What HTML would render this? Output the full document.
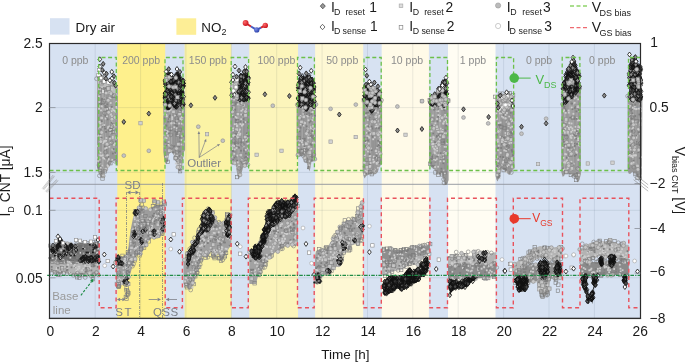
<!DOCTYPE html><html><head><meta charset="utf-8"><style>html,body{margin:0;padding:0;background:#fff;width:685px;height:362px;overflow:hidden}svg{display:block;will-change:transform}</style></head><body><svg width="685" height="362" viewBox="0 0 685 362"><defs><path id="dR" d="M0 -2.5l1.85 2.5-1.85 2.5-1.85-2.5z" fill="#8a8a8a" stroke="#1e1e1e" stroke-width="0.85"/><path id="dS" d="M0 -2.5l1.85 2.5-1.85 2.5-1.85-2.5z" fill="#ffffff" stroke="#1e1e1e" stroke-width="0.85"/><path id="dK" d="M0 -2.5l1.85 2.5-1.85 2.5-1.85-2.5z" fill="#4a4a4a" stroke="#111111" stroke-width="0.85"/><rect id="sR" x="-1.7" y="-1.7" width="3.4" height="3.4" fill="#d2d2d2" stroke="#9a9a9a" stroke-width="0.6"/><rect id="sS" x="-1.7" y="-1.7" width="3.4" height="3.4" fill="#ffffff" stroke="#8a8a8a" stroke-width="0.6"/><circle id="cR" r="1.9" fill="#c4c4c4" stroke="#8c8c8c" stroke-width="0.6"/><circle id="cS" r="1.9" fill="#ffffff" stroke="#a0a0a0" stroke-width="0.6"/><rect id="sG" x="-1.7" y="-1.7" width="3.4" height="3.4" fill="#a6a6a6" stroke="#8a8a8a" stroke-width="0.6"/><rect id="sO" x="-1.7" y="-1.7" width="3.4" height="3.4" fill="none" stroke="#7c7c7c" stroke-width="0.6"/><circle id="cO" r="1.9" fill="none" stroke="#7c7c7c" stroke-width="0.6"/><circle id="cL" r="1.9" fill="#c6c6c6" stroke="#8c8c8c" stroke-width="0.6"/><rect id="sL" x="-1.7" y="-1.7" width="3.4" height="3.4" fill="#c6c6c6" stroke="#8c8c8c" stroke-width="0.6"/><path id="dO" d="M0 -2.5l1.85 2.5-1.85 2.5-1.85-2.5z" fill="none" stroke="#111111" stroke-width="0.85"/><circle id="cG" r="1.9" fill="#9c9c9c" stroke="#8a8a8a" stroke-width="0.6"/><rect id="tL" x="-0.9" y="-0.9" width="1.8" height="1.8" fill="#cdcdcd"/><rect id="tW" x="-0.9" y="-0.9" width="1.8" height="1.8" fill="#e4e4e4"/><rect id="tD" x="-0.9" y="-0.9" width="1.8" height="1.8" fill="#7e7e7e"/><rect id="tK" x="-0.9" y="-0.9" width="1.8" height="1.8" fill="#1a1a1a"/><rect id="tM" x="-0.9" y="-0.9" width="1.8" height="1.8" fill="#a8a8a8"/></defs><rect x="49.5" y="43.5" width="591.0" height="274.8" fill="#d7e2f2"/>
<rect x="117.3" y="43.5" width="47.9" height="274.8" fill="#fef08c"/>
<rect x="184.6" y="43.5" width="46.8" height="274.8" fill="#fbf3a5"/>
<rect x="249.3" y="43.5" width="48.7" height="274.8" fill="#fcf5bb"/>
<rect x="315.1" y="43.5" width="48.1" height="274.8" fill="#fef8d4"/>
<rect x="381.7" y="43.5" width="47.2" height="274.8" fill="#fffae8"/>
<rect x="448.0" y="43.5" width="47.5" height="274.8" fill="#fffdf3"/>
<line x1="95.2" y1="43.5" x2="95.2" y2="318.3" stroke="#1a2a44" stroke-opacity="0.1" stroke-width="0.9"/>
<line x1="140.6" y1="43.5" x2="140.6" y2="318.3" stroke="#1a2a44" stroke-opacity="0.1" stroke-width="0.9"/>
<line x1="185.9" y1="43.5" x2="185.9" y2="318.3" stroke="#1a2a44" stroke-opacity="0.1" stroke-width="0.9"/>
<line x1="231.3" y1="43.5" x2="231.3" y2="318.3" stroke="#1a2a44" stroke-opacity="0.1" stroke-width="0.9"/>
<line x1="276.7" y1="43.5" x2="276.7" y2="318.3" stroke="#1a2a44" stroke-opacity="0.1" stroke-width="0.9"/>
<line x1="322.1" y1="43.5" x2="322.1" y2="318.3" stroke="#1a2a44" stroke-opacity="0.1" stroke-width="0.9"/>
<line x1="367.5" y1="43.5" x2="367.5" y2="318.3" stroke="#1a2a44" stroke-opacity="0.1" stroke-width="0.9"/>
<line x1="412.8" y1="43.5" x2="412.8" y2="318.3" stroke="#1a2a44" stroke-opacity="0.1" stroke-width="0.9"/>
<line x1="458.2" y1="43.5" x2="458.2" y2="318.3" stroke="#1a2a44" stroke-opacity="0.1" stroke-width="0.9"/>
<line x1="503.6" y1="43.5" x2="503.6" y2="318.3" stroke="#1a2a44" stroke-opacity="0.1" stroke-width="0.9"/>
<line x1="549.0" y1="43.5" x2="549.0" y2="318.3" stroke="#1a2a44" stroke-opacity="0.1" stroke-width="0.9"/>
<line x1="594.4" y1="43.5" x2="594.4" y2="318.3" stroke="#1a2a44" stroke-opacity="0.1" stroke-width="0.9"/>
<line x1="49.5" y1="107.6" x2="640.5" y2="107.6" stroke="#1a2a44" stroke-opacity="0.1" stroke-width="0.9"/>
<line x1="49.5" y1="172.4" x2="640.5" y2="172.4" stroke="#1a2a44" stroke-opacity="0.1" stroke-width="0.9"/>
<line x1="49.5" y1="210.3" x2="640.5" y2="210.3" stroke="#1a2a44" stroke-opacity="0.1" stroke-width="0.9"/>
<line x1="49.5" y1="277.8" x2="640.5" y2="277.8" stroke="#1a2a44" stroke-opacity="0.1" stroke-width="0.9"/>
<line x1="49.5" y1="184.3" x2="640.5" y2="184.3" stroke="#8e939b" stroke-width="0.9"/>
<text x="62.199999999999996" y="63.9" font-size="10.5" fill="#8c8c8c" font-family="Liberation Sans">0 ppb</text>
<text x="122.2" y="63.9" font-size="10.5" fill="#8c8c8c" font-family="Liberation Sans">200 ppb</text>
<text x="188.8" y="63.9" font-size="10.5" fill="#8c8c8c" font-family="Liberation Sans">150 ppb</text>
<text x="257.4" y="63.9" font-size="10.5" fill="#8c8c8c" font-family="Liberation Sans">100 ppb</text>
<text x="326.2" y="63.9" font-size="10.5" fill="#8c8c8c" font-family="Liberation Sans">50 ppb</text>
<text x="391.0" y="63.9" font-size="10.5" fill="#8c8c8c" font-family="Liberation Sans">10 ppb</text>
<text x="459.79999999999995" y="63.9" font-size="10.5" fill="#8c8c8c" font-family="Liberation Sans">1 ppb</text>
<text x="525.9" y="63.9" font-size="10.5" fill="#8c8c8c" font-family="Liberation Sans">0 ppb</text>
<text x="589.1" y="63.9" font-size="10.5" fill="#8c8c8c" font-family="Liberation Sans">0 ppb</text>
<polygon points="96.9,78.0 99.1,75.0 102.1,78.0 105.1,80.0 109.9,81.0 112.9,83.0 115.9,86.0 117.9,88.0 117.9,166.0 115.9,164.0 113.9,160.0 111.9,162.0 109.9,166.0 106.1,170.0 104.1,175.0 102.1,178.5 100.1,176.0 98.1,172.0 96.9,166.0" fill="#989898"/>
<line x1="99.1" y1="78.7" x2="99.1" y2="165.5" stroke="#b8b8b8" stroke-width="0.7" opacity="0.55"/>
<line x1="102.5" y1="81.3" x2="102.5" y2="169.7" stroke="#c4c4c4" stroke-width="0.7" opacity="0.55"/>
<line x1="103.4" y1="81.7" x2="103.4" y2="169.8" stroke="#b8b8b8" stroke-width="0.7" opacity="0.55"/>
<line x1="105.4" y1="85.9" x2="105.4" y2="161.2" stroke="#b8b8b8" stroke-width="0.7" opacity="0.55"/>
<line x1="109.5" y1="88.0" x2="109.5" y2="158.2" stroke="#b8b8b8" stroke-width="0.7" opacity="0.55"/>
<line x1="110.9" y1="87.2" x2="110.9" y2="151.7" stroke="#b8b8b8" stroke-width="0.7" opacity="0.55"/>
<line x1="113.2" y1="86.6" x2="113.2" y2="154.3" stroke="#c4c4c4" stroke-width="0.7" opacity="0.55"/>
<line x1="114.4" y1="89.5" x2="114.4" y2="150.8" stroke="#b8b8b8" stroke-width="0.7" opacity="0.55"/>
<use href="#tD" x="99.9" y="134.1"/>
<use href="#tD" x="101.5" y="85.1"/>
<use href="#tD" x="111.4" y="133.4"/>
<use href="#tD" x="109.7" y="126.4"/>
<use href="#tL" x="108.0" y="155.4"/>
<use href="#tL" x="106.7" y="170.6"/>
<use href="#tL" x="104.8" y="100.7"/>
<use href="#tL" x="101.3" y="155.7"/>
<use href="#tL" x="99.5" y="106.1"/>
<use href="#tD" x="107.3" y="110.5"/>
<use href="#tL" x="106.4" y="138.0"/>
<use href="#tL" x="99.3" y="128.0"/>
<use href="#tL" x="101.0" y="110.4"/>
<use href="#tL" x="115.6" y="118.6"/>
<use href="#tD" x="108.5" y="156.7"/>
<use href="#tL" x="113.4" y="110.2"/>
<use href="#tD" x="104.6" y="126.4"/>
<use href="#tL" x="99.7" y="102.9"/>
<use href="#tD" x="111.8" y="107.0"/>
<use href="#tD" x="108.9" y="145.5"/>
<use href="#tD" x="106.4" y="149.2"/>
<use href="#tL" x="114.8" y="110.9"/>
<use href="#tL" x="115.8" y="111.8"/>
<use href="#tL" x="109.5" y="126.1"/>
<use href="#tL" x="102.0" y="104.7"/>
<use href="#tL" x="111.9" y="116.2"/>
<use href="#tL" x="115.3" y="126.4"/>
<use href="#tD" x="101.1" y="116.6"/>
<use href="#tD" x="103.2" y="89.2"/>
<use href="#tD" x="106.1" y="131.9"/>
<use href="#tL" x="110.9" y="114.4"/>
<use href="#tD" x="102.3" y="83.6"/>
<use href="#tD" x="100.8" y="143.2"/>
<use href="#tL" x="98.1" y="161.0"/>
<use href="#tD" x="101.4" y="104.2"/>
<use href="#tD" x="100.7" y="130.3"/>
<use href="#tL" x="109.5" y="108.0"/>
<use href="#tL" x="100.3" y="163.9"/>
<use href="#tL" x="116.0" y="142.8"/>
<use href="#tL" x="112.0" y="122.3"/>
<use href="#tL" x="110.8" y="132.9"/>
<use href="#tD" x="105.5" y="115.8"/>
<use href="#tL" x="107.0" y="116.4"/>
<use href="#tL" x="106.3" y="86.4"/>
<use href="#tD" x="109.3" y="85.6"/>
<use href="#tD" x="108.7" y="130.5"/>
<use href="#tL" x="115.9" y="138.5"/>
<use href="#tL" x="99.2" y="96.5"/>
<use href="#tL" x="105.0" y="140.7"/>
<use href="#tL" x="116.1" y="137.3"/>
<use href="#tL" x="106.9" y="86.9"/>
<use href="#tD" x="107.0" y="107.3"/>
<use href="#tL" x="100.6" y="152.6"/>
<use href="#tL" x="112.0" y="124.5"/>
<use href="#tD" x="111.0" y="128.4"/>
<use href="#tD" x="101.8" y="173.5"/>
<use href="#tD" x="104.8" y="146.4"/>
<use href="#tL" x="115.3" y="153.5"/>
<use href="#tL" x="103.6" y="141.5"/>
<use href="#tD" x="99.6" y="162.5"/>
<use href="#tL" x="104.7" y="98.1"/>
<use href="#tL" x="108.2" y="127.0"/>
<use href="#tL" x="110.0" y="138.5"/>
<use href="#tD" x="112.9" y="153.5"/>
<use href="#tD" x="101.6" y="99.8"/>
<use href="#tD" x="105.5" y="158.1"/>
<use href="#tL" x="101.7" y="126.0"/>
<use href="#tD" x="112.9" y="123.9"/>
<use href="#tD" x="101.6" y="137.6"/>
<use href="#tL" x="104.4" y="158.7"/>
<use href="#tL" x="111.6" y="111.2"/>
<use href="#tL" x="99.8" y="123.7"/>
<use href="#tL" x="104.3" y="125.0"/>
<use href="#tL" x="116.6" y="138.2"/>
<use href="#tL" x="104.4" y="141.6"/>
<use href="#tD" x="113.8" y="87.4"/>
<use href="#tL" x="105.3" y="148.6"/>
<use href="#tD" x="101.7" y="167.0"/>
<use href="#tL" x="106.1" y="140.8"/>
<use href="#tD" x="111.6" y="122.9"/>
<use href="#tL" x="112.0" y="83.8"/>
<use href="#tL" x="98.4" y="136.1"/>
<use href="#tD" x="106.7" y="142.9"/>
<use href="#tD" x="109.5" y="136.7"/>
<use href="#tL" x="100.9" y="131.7"/>
<use href="#tL" x="98.3" y="157.7"/>
<use href="#tL" x="111.7" y="85.6"/>
<use href="#tL" x="112.1" y="89.4"/>
<use href="#tL" x="116.6" y="95.2"/>
<use href="#tD" x="101.9" y="126.9"/>
<use href="#tL" x="112.4" y="108.7"/>
<use href="#tL" x="108.2" y="161.3"/>
<use href="#tL" x="99.1" y="151.6"/>
<use href="#tL" x="115.0" y="143.6"/>
<use href="#tL" x="113.4" y="128.5"/>
<use href="#tL" x="100.4" y="90.7"/>
<use href="#tL" x="107.6" y="165.3"/>
<use href="#tL" x="112.7" y="138.0"/>
<use href="#tD" x="112.6" y="90.5"/>
<use href="#tL" x="100.6" y="139.1"/>
<use href="#tL" x="100.2" y="81.4"/>
<use href="#tL" x="110.9" y="129.9"/>
<use href="#tL" x="107.1" y="155.4"/>
<use href="#tL" x="101.5" y="79.4"/>
<use href="#tL" x="99.8" y="121.8"/>
<use href="#tD" x="98.4" y="167.5"/>
<use href="#tL" x="99.1" y="108.7"/>
<use href="#tL" x="116.4" y="137.7"/>
<use href="#tD" x="101.7" y="103.7"/>
<use href="#tD" x="107.6" y="158.6"/>
<use href="#tL" x="107.5" y="100.6"/>
<use href="#tL" x="107.8" y="165.7"/>
<use href="#tL" x="114.9" y="96.0"/>
<use href="#tD" x="106.4" y="118.1"/>
<use href="#tD" x="105.4" y="107.7"/>
<use href="#tD" x="110.7" y="119.3"/>
<use href="#tL" x="101.9" y="106.3"/>
<use href="#tL" x="100.2" y="155.4"/>
<use href="#tD" x="115.8" y="141.6"/>
<use href="#tL" x="104.9" y="101.2"/>
<use href="#tL" x="100.5" y="123.4"/>
<use href="#tL" x="112.1" y="84.7"/>
<use href="#tL" x="114.7" y="91.8"/>
<use href="#tL" x="110.6" y="98.2"/>
<use href="#tL" x="105.6" y="118.6"/>
<use href="#tL" x="104.7" y="84.5"/>
<use href="#tL" x="104.9" y="110.0"/>
<use href="#tL" x="106.6" y="147.8"/>
<use href="#tD" x="105.2" y="128.6"/>
<use href="#tL" x="103.5" y="174.4"/>
<use href="#tL" x="100.0" y="170.1"/>
<use href="#tL" x="102.2" y="165.7"/>
<use href="#tD" x="99.5" y="103.1"/>
<use href="#tL" x="115.1" y="93.8"/>
<use href="#tL" x="112.3" y="159.8"/>
<use href="#tL" x="114.0" y="145.0"/>
<use href="#tL" x="115.9" y="117.0"/>
<use href="#tL" x="108.1" y="128.3"/>
<use href="#tL" x="107.3" y="108.8"/>
<use href="#tL" x="103.2" y="157.8"/>
<use href="#tL" x="101.4" y="167.7"/>
<use href="#tL" x="99.6" y="102.0"/>
<use href="#tL" x="109.5" y="98.0"/>
<use href="#tL" x="102.9" y="87.6"/>
<use href="#tL" x="105.8" y="169.7"/>
<use href="#tL" x="116.3" y="102.1"/>
<use href="#tD" x="101.3" y="171.5"/>
<use href="#tL" x="109.8" y="130.0"/>
<use href="#tD" x="101.8" y="121.1"/>
<use href="#tL" x="110.7" y="103.0"/>
<use href="#tL" x="107.7" y="100.4"/>
<use href="#tL" x="106.4" y="143.1"/>
<use href="#tL" x="110.3" y="142.9"/>
<use href="#tL" x="108.3" y="167.0"/>
<use href="#tL" x="116.3" y="106.9"/>
<use href="#tD" x="102.0" y="98.8"/>
<use href="#tL" x="101.7" y="166.3"/>
<use href="#tL" x="111.7" y="89.5"/>
<use href="#tL" x="106.1" y="80.7"/>
<use href="#tL" x="110.5" y="114.4"/>
<use href="#tL" x="109.3" y="146.7"/>
<use href="#tL" x="98.8" y="94.2"/>
<use href="#tL" x="104.8" y="109.0"/>
<use href="#tL" x="116.6" y="108.5"/>
<use href="#tD" x="98.6" y="166.3"/>
<use href="#tL" x="102.0" y="93.9"/>
<use href="#tD" x="104.3" y="83.7"/>
<use href="#tL" x="103.2" y="142.9"/>
<use href="#tL" x="102.6" y="155.3"/>
<use href="#tL" x="99.6" y="159.6"/>
<use href="#tL" x="100.6" y="135.7"/>
<use href="#tD" x="105.4" y="106.0"/>
<use href="#tL" x="109.9" y="83.7"/>
<use href="#tL" x="116.1" y="163.3"/>
<use href="#tL" x="100.8" y="167.4"/>
<use href="#tL" x="112.8" y="136.7"/>
<use href="#tL" x="112.4" y="149.6"/>
<use href="#tD" x="107.3" y="104.4"/>
<use href="#tL" x="109.7" y="90.0"/>
<use href="#tD" x="113.6" y="149.0"/>
<use href="#tD" x="107.6" y="119.4"/>
<use href="#tL" x="111.2" y="127.3"/>
<use href="#tD" x="115.2" y="152.9"/>
<use href="#tL" x="108.7" y="159.1"/>
<use href="#tL" x="98.2" y="146.0"/>
<use href="#cL" x="114.9" y="117.5"/>
<use href="#cL" x="109.4" y="89.3"/>
<use href="#cL" x="113.8" y="125.3"/>
<use href="#cL" x="114.6" y="131.9"/>
<use href="#sL" x="101.7" y="117.9"/>
<use href="#sO" x="103.6" y="101.5"/>
<use href="#cO" x="111.6" y="142.6"/>
<use href="#sO" x="105.8" y="99.7"/>
<use href="#cL" x="107.1" y="144.2"/>
<use href="#cL" x="100.8" y="141.6"/>
<use href="#cL" x="100.0" y="126.8"/>
<use href="#sO" x="112.8" y="132.0"/>
<use href="#sO" x="106.6" y="109.4"/>
<use href="#cL" x="111.9" y="119.2"/>
<use href="#cL" x="108.2" y="100.3"/>
<use href="#cL" x="101.7" y="132.5"/>
<use href="#cO" x="104.3" y="113.1"/>
<use href="#sO" x="112.8" y="95.9"/>
<use href="#cO" x="99.0" y="165.1"/>
<use href="#cO" x="105.4" y="152.2"/>
<use href="#cO" x="102.4" y="103.0"/>
<use href="#sO" x="111.8" y="126.6"/>
<use href="#cL" x="108.7" y="112.3"/>
<use href="#sO" x="110.6" y="129.8"/>
<use href="#sO" x="100.3" y="167.8"/>
<use href="#cO" x="96.5" y="78.7"/>
<use href="#sO" x="101.8" y="77.1"/>
<use href="#cL" x="104.0" y="78.4"/>
<use href="#cO" x="105.3" y="79.6"/>
<use href="#sO" x="111.8" y="83.0"/>
<use href="#sO" x="114.0" y="84.4"/>
<use href="#cO" x="115.0" y="161.3"/>
<use href="#sO" x="110.4" y="163.2"/>
<use href="#cL" x="105.9" y="169.1"/>
<use href="#sO" x="104.8" y="171.4"/>
<use href="#cL" x="103.2" y="176.0"/>
<use href="#sO" x="102.5" y="178.5"/>
<use href="#cO" x="99.4" y="175.7"/>
<polygon points="97.6,78.0 99.1,75.0 102.1,78.0 105.1,80.0 109.9,81.0 112.9,83.0 115.9,86.0 117.4,88.0 117.4,96.0 108.9,94.0 97.6,92.0" fill="#bdbdbd"/>
<line x1="111.4" y1="84.9" x2="111.4" y2="91.9" stroke="#878787" stroke-width="0.7" opacity="0.55"/>
<use href="#tL" x="100.6" y="76.7"/>
<use href="#tD" x="101.5" y="79.0"/>
<use href="#tD" x="110.2" y="86.0"/>
<use href="#tL" x="106.9" y="81.5"/>
<use href="#tL" x="111.5" y="92.6"/>
<use href="#tL" x="100.5" y="76.6"/>
<use href="#tL" x="100.0" y="83.8"/>
<use href="#tL" x="114.4" y="86.8"/>
<use href="#tL" x="108.2" y="84.4"/>
<use href="#tD" x="104.4" y="90.5"/>
<use href="#tL" x="107.0" y="88.3"/>
<use href="#tL" x="103.0" y="88.1"/>
<use href="#tL" x="105.8" y="82.9"/>
<use href="#tL" x="106.9" y="91.9"/>
<use href="#tL" x="99.7" y="79.1"/>
<use href="#tD" x="99.7" y="87.7"/>
<use href="#tL" x="105.1" y="82.0"/>
<use href="#tL" x="111.9" y="89.5"/>
<use href="#tL" x="111.4" y="87.5"/>
<use href="#tL" x="112.9" y="94.9"/>
<use href="#tL" x="100.5" y="90.0"/>
<use href="#tL" x="106.9" y="91.3"/>
<use href="#tD" x="112.7" y="94.2"/>
<use href="#tD" x="106.8" y="91.5"/>
<use href="#tL" x="109.2" y="85.7"/>
<use href="#tD" x="105.9" y="88.6"/>
<use href="#sO" x="98.9" y="76.1"/>
<use href="#sO" x="99.7" y="76.2"/>
<use href="#cO" x="102.2" y="78.0"/>
<use href="#cO" x="106.2" y="80.1"/>
<use href="#cO" x="113.1" y="82.3"/>
<use href="#sO" x="113.7" y="84.4"/>
<use href="#cL" x="111.1" y="93.6"/>
<use href="#sO" x="114.2" y="95.6"/>
<use href="#cO" x="100.2" y="92.1"/>
<use href="#cL" x="99.3" y="92.7"/>
<use href="#sO" x="100.8" y="92.8"/>
<use href="#sS" x="103.1" y="80.4"/>
<use href="#sL" x="109.0" y="88.7"/>
<use href="#sO" x="104.9" y="89.2"/>
<use href="#sO" x="102.8" y="81.6"/>
<use href="#sS" x="103.1" y="91.7"/>
<use href="#sO" x="101.5" y="83.3"/>
<use href="#sO" x="108.3" y="88.4"/>
<use href="#sL" x="101.4" y="78.4"/>
<use href="#sL" x="110.4" y="83.6"/>
<use href="#sS" x="104.2" y="81.5"/>
<use href="#sS" x="108.5" y="82.5"/>
<use href="#sL" x="106.2" y="93.1"/>
<use href="#sO" x="103.0" y="90.3"/>
<use href="#sL" x="108.3" y="88.5"/>
<use href="#dS" x="99.8" y="59.3"/>
<use href="#dR" x="103.2" y="63.9"/>
<use href="#dS" x="99.9" y="66.6"/>
<use href="#dR" x="102.3" y="70.0"/>
<use href="#dS" x="104.3" y="72.9"/>
<use href="#dR" x="106.5" y="73.8"/>
<use href="#dS" x="111.8" y="71.9"/>
<use href="#dR" x="113.9" y="76.2"/>
<use href="#dS" x="111.9" y="78.5"/>
<use href="#dR" x="114.5" y="82.9"/>
<use href="#dS" x="109.9" y="80.4"/>
<use href="#dR" x="115.6" y="85.7"/>
<use href="#dS" x="99.9" y="76.0"/>
<use href="#dR" x="105.9" y="78.5"/>
<use href="#sS" x="99.0" y="70.0"/>
<use href="#sS" x="98.5" y="75.0"/>
<use href="#sS" x="101.0" y="78.0"/>
<polygon points="163.3,100.0 185.1,100.0 185.1,150.0 183.9,152.0 182.9,160.0 181.9,168.0 180.4,172.0 178.9,170.0 176.9,165.0 175.9,160.0 173.1,154.0 171.1,152.0 169.1,154.0 168.1,160.0 166.6,164.0 165.1,162.0 164.1,158.0 163.3,152.0" fill="#989898"/>
<line x1="165.4" y1="107.8" x2="165.4" y2="151.0" stroke="#b8b8b8" stroke-width="0.7" opacity="0.55"/>
<line x1="169.2" y1="108.7" x2="169.2" y2="144.8" stroke="#c4c4c4" stroke-width="0.7" opacity="0.55"/>
<line x1="171.5" y1="102.9" x2="171.5" y2="144.0" stroke="#c4c4c4" stroke-width="0.7" opacity="0.55"/>
<line x1="173.8" y1="108.2" x2="173.8" y2="147.0" stroke="#878787" stroke-width="0.7" opacity="0.55"/>
<line x1="175.6" y1="105.4" x2="175.6" y2="150.4" stroke="#878787" stroke-width="0.7" opacity="0.55"/>
<line x1="177.7" y1="103.4" x2="177.7" y2="165.0" stroke="#878787" stroke-width="0.7" opacity="0.55"/>
<line x1="180.0" y1="105.6" x2="180.0" y2="162.8" stroke="#878787" stroke-width="0.7" opacity="0.55"/>
<line x1="183.2" y1="108.5" x2="183.2" y2="151.0" stroke="#b8b8b8" stroke-width="0.7" opacity="0.55"/>
<use href="#tL" x="166.8" y="131.0"/>
<use href="#tD" x="166.1" y="131.8"/>
<use href="#tL" x="174.4" y="102.9"/>
<use href="#tD" x="176.9" y="105.9"/>
<use href="#tD" x="178.8" y="156.0"/>
<use href="#tL" x="174.4" y="103.9"/>
<use href="#tL" x="174.3" y="127.2"/>
<use href="#tL" x="183.1" y="109.8"/>
<use href="#tL" x="178.8" y="158.7"/>
<use href="#tL" x="182.4" y="111.9"/>
<use href="#tL" x="179.9" y="167.0"/>
<use href="#tD" x="165.6" y="125.3"/>
<use href="#tL" x="179.3" y="111.4"/>
<use href="#tL" x="182.1" y="119.8"/>
<use href="#tD" x="180.4" y="110.3"/>
<use href="#tL" x="168.4" y="118.9"/>
<use href="#tL" x="174.3" y="123.0"/>
<use href="#tL" x="165.0" y="113.1"/>
<use href="#tL" x="177.8" y="164.5"/>
<use href="#tL" x="167.6" y="156.5"/>
<use href="#tL" x="166.6" y="138.2"/>
<use href="#tD" x="176.9" y="125.9"/>
<use href="#tL" x="181.6" y="140.0"/>
<use href="#tL" x="175.8" y="163.5"/>
<use href="#tL" x="176.8" y="128.4"/>
<use href="#tL" x="180.1" y="119.1"/>
<use href="#tL" x="183.9" y="141.6"/>
<use href="#tD" x="173.1" y="112.7"/>
<use href="#tL" x="179.0" y="103.5"/>
<use href="#tL" x="180.5" y="118.3"/>
<use href="#tL" x="175.9" y="147.8"/>
<use href="#tL" x="170.5" y="100.1"/>
<use href="#tL" x="165.0" y="110.8"/>
<use href="#tL" x="176.5" y="131.1"/>
<use href="#tL" x="166.9" y="116.4"/>
<use href="#tL" x="177.2" y="101.6"/>
<use href="#tL" x="164.4" y="125.6"/>
<use href="#tD" x="166.4" y="125.7"/>
<use href="#tL" x="168.7" y="142.0"/>
<use href="#tD" x="176.0" y="114.7"/>
<use href="#tD" x="176.7" y="134.2"/>
<use href="#tL" x="169.1" y="110.8"/>
<use href="#tL" x="166.2" y="146.0"/>
<use href="#tL" x="181.6" y="156.3"/>
<use href="#tL" x="172.3" y="119.0"/>
<use href="#tL" x="164.5" y="146.4"/>
<use href="#tD" x="175.4" y="125.2"/>
<use href="#tD" x="177.1" y="132.0"/>
<use href="#tL" x="165.2" y="138.3"/>
<use href="#tL" x="172.3" y="117.1"/>
<use href="#tD" x="165.5" y="156.1"/>
<use href="#tL" x="164.5" y="139.7"/>
<use href="#tL" x="182.9" y="110.2"/>
<use href="#tD" x="168.3" y="143.8"/>
<use href="#tD" x="174.3" y="146.2"/>
<use href="#tD" x="180.4" y="112.6"/>
<use href="#tD" x="170.4" y="121.6"/>
<use href="#tD" x="179.8" y="151.5"/>
<use href="#tL" x="179.1" y="133.5"/>
<use href="#tL" x="179.0" y="132.6"/>
<use href="#tD" x="168.8" y="107.6"/>
<use href="#tD" x="168.9" y="102.8"/>
<use href="#tD" x="178.1" y="160.9"/>
<use href="#tD" x="178.4" y="119.2"/>
<use href="#tD" x="175.3" y="131.4"/>
<use href="#tD" x="179.9" y="137.7"/>
<use href="#tL" x="169.6" y="146.2"/>
<use href="#tD" x="183.4" y="115.6"/>
<use href="#tL" x="181.7" y="101.1"/>
<use href="#tD" x="169.5" y="117.0"/>
<use href="#tL" x="179.0" y="168.0"/>
<use href="#tL" x="179.1" y="123.5"/>
<use href="#tL" x="181.7" y="123.7"/>
<use href="#tL" x="176.8" y="149.9"/>
<use href="#tL" x="178.1" y="161.7"/>
<use href="#tD" x="173.0" y="152.2"/>
<use href="#tD" x="175.6" y="122.2"/>
<use href="#tL" x="168.5" y="144.8"/>
<use href="#tL" x="167.2" y="101.9"/>
<use href="#tL" x="171.1" y="110.2"/>
<use href="#tL" x="164.9" y="103.0"/>
<use href="#tD" x="178.0" y="145.6"/>
<use href="#tD" x="178.1" y="153.0"/>
<use href="#tD" x="165.6" y="142.5"/>
<use href="#tL" x="180.5" y="164.2"/>
<use href="#tL" x="166.4" y="114.8"/>
<use href="#tL" x="166.5" y="102.5"/>
<use href="#tL" x="181.1" y="158.5"/>
<use href="#tL" x="176.9" y="159.4"/>
<use href="#tL" x="176.8" y="120.7"/>
<use href="#tD" x="166.3" y="107.0"/>
<use href="#tL" x="179.3" y="114.8"/>
<use href="#tD" x="170.6" y="130.5"/>
<use href="#tD" x="164.7" y="118.5"/>
<use href="#tD" x="169.9" y="151.5"/>
<use href="#tL" x="171.6" y="123.1"/>
<use href="#tD" x="183.4" y="136.3"/>
<use href="#tL" x="181.2" y="144.5"/>
<use href="#tL" x="164.9" y="129.7"/>
<use href="#tL" x="171.2" y="150.7"/>
<use href="#tL" x="175.0" y="115.6"/>
<use href="#tL" x="181.4" y="106.5"/>
<use href="#tL" x="180.5" y="112.3"/>
<use href="#tL" x="164.3" y="114.5"/>
<use href="#tD" x="179.4" y="170.4"/>
<use href="#tL" x="164.4" y="135.3"/>
<use href="#tL" x="168.0" y="135.6"/>
<use href="#tD" x="169.9" y="115.5"/>
<use href="#tL" x="178.1" y="135.9"/>
<use href="#tD" x="166.5" y="145.8"/>
<use href="#tL" x="165.9" y="156.7"/>
<use href="#tL" x="178.1" y="156.7"/>
<use href="#tD" x="176.7" y="125.6"/>
<use href="#tL" x="172.2" y="128.4"/>
<use href="#tD" x="181.9" y="106.2"/>
<use href="#tL" x="181.9" y="101.8"/>
<use href="#tD" x="168.4" y="119.0"/>
<use href="#tL" x="182.1" y="136.1"/>
<use href="#tD" x="168.9" y="133.2"/>
<use href="#tL" x="174.8" y="154.3"/>
<use href="#tD" x="179.2" y="146.5"/>
<use href="#tL" x="171.2" y="123.5"/>
<use href="#tD" x="167.4" y="160.7"/>
<use href="#tL" x="177.4" y="153.4"/>
<use href="#tL" x="167.7" y="131.6"/>
<use href="#tD" x="179.6" y="141.7"/>
<use href="#tL" x="166.8" y="133.3"/>
<use href="#tL" x="181.8" y="117.1"/>
<use href="#tD" x="168.1" y="121.7"/>
<use href="#tL" x="178.2" y="160.7"/>
<use href="#tL" x="167.4" y="111.2"/>
<use href="#sL" x="178.4" y="144.2"/>
<use href="#cO" x="176.7" y="118.2"/>
<use href="#sL" x="172.0" y="104.4"/>
<use href="#cL" x="176.5" y="148.6"/>
<use href="#sO" x="175.7" y="107.9"/>
<use href="#sO" x="170.6" y="128.8"/>
<use href="#sL" x="173.5" y="111.8"/>
<use href="#cO" x="182.0" y="105.0"/>
<use href="#sL" x="179.6" y="113.9"/>
<use href="#sO" x="176.8" y="151.9"/>
<use href="#sO" x="179.9" y="110.5"/>
<use href="#cO" x="177.2" y="159.8"/>
<use href="#sO" x="179.6" y="129.8"/>
<use href="#sL" x="176.9" y="156.1"/>
<use href="#sL" x="169.3" y="150.7"/>
<use href="#sO" x="177.5" y="134.7"/>
<use href="#cO" x="179.8" y="157.5"/>
<use href="#cO" x="171.6" y="147.1"/>
<use href="#cO" x="170.9" y="134.9"/>
<use href="#cL" x="176.4" y="106.2"/>
<use href="#cO" x="170.4" y="99.8"/>
<use href="#sO" x="175.2" y="100.6"/>
<use href="#sO" x="180.0" y="100.3"/>
<use href="#cL" x="175.1" y="99.4"/>
<use href="#cL" x="165.5" y="99.4"/>
<use href="#sO" x="174.0" y="100.6"/>
<use href="#cO" x="178.6" y="100.1"/>
<use href="#sO" x="180.1" y="171.2"/>
<use href="#cL" x="177.8" y="167.1"/>
<use href="#cL" x="175.7" y="158.0"/>
<use href="#sO" x="175.6" y="158.2"/>
<use href="#sO" x="167.7" y="161.8"/>
<polygon points="164.9,80.0 166.7,75.0 168.7,72.0 170.7,74.0 172.7,78.0 174.7,78.0 175.3,74.0 177.3,71.0 179.3,74.0 181.3,78.0 183.5,81.0 183.5,108.0 179.3,104.0 175.3,108.0 172.7,104.0 168.7,110.0 164.9,106.0" fill="#303030"/>
<use href="#tD" x="173.9" y="100.5"/>
<use href="#tD" x="167.7" y="79.3"/>
<use href="#tD" x="166.8" y="96.7"/>
<use href="#tM" x="171.3" y="101.4"/>
<use href="#tD" x="175.2" y="106.6"/>
<use href="#tD" x="170.3" y="84.3"/>
<use href="#tD" x="169.7" y="73.1"/>
<use href="#tD" x="170.4" y="84.9"/>
<use href="#tM" x="174.1" y="84.0"/>
<use href="#tD" x="183.0" y="105.0"/>
<use href="#tD" x="171.4" y="78.9"/>
<use href="#tM" x="168.6" y="98.8"/>
<use href="#tD" x="172.4" y="92.6"/>
<use href="#tM" x="172.5" y="93.4"/>
<use href="#tM" x="165.9" y="103.1"/>
<use href="#tM" x="173.7" y="100.9"/>
<use href="#tD" x="166.2" y="90.5"/>
<use href="#tM" x="175.0" y="85.7"/>
<use href="#tD" x="167.8" y="97.3"/>
<use href="#tM" x="177.6" y="105.2"/>
<use href="#dO" x="165.1" y="93.1"/>
<use href="#dO" x="175.7" y="106.6"/>
<use href="#dO" x="174.2" y="91.4"/>
<use href="#dR" x="180.4" y="101.2"/>
<use href="#dK" x="172.7" y="98.1"/>
<use href="#dK" x="177.6" y="94.2"/>
<use href="#dO" x="183.6" y="96.7"/>
<use href="#dO" x="167.7" y="101.0"/>
<use href="#dO" x="176.6" y="87.7"/>
<use href="#dO" x="164.9" y="97.1"/>
<use href="#dK" x="183.4" y="104.5"/>
<use href="#dO" x="168.8" y="75.7"/>
<use href="#dR" x="173.7" y="81.7"/>
<use href="#dR" x="175.5" y="88.6"/>
<use href="#dK" x="171.7" y="100.1"/>
<use href="#dO" x="177.9" y="76.6"/>
<use href="#dR" x="179.1" y="82.4"/>
<use href="#dR" x="175.3" y="90.4"/>
<use href="#dR" x="177.4" y="105.7"/>
<use href="#dR" x="181.5" y="97.8"/>
<use href="#dO" x="176.4" y="86.2"/>
<use href="#dO" x="170.6" y="94.4"/>
<use href="#dR" x="182.9" y="103.6"/>
<use href="#dR" x="176.3" y="83.3"/>
<use href="#dR" x="182.7" y="99.4"/>
<use href="#dO" x="179.9" y="89.6"/>
<use href="#dO" x="179.5" y="88.7"/>
<use href="#dR" x="169.9" y="100.4"/>
<use href="#dK" x="171.0" y="81.9"/>
<use href="#dO" x="176.5" y="96.4"/>
<use href="#dO" x="179.9" y="94.4"/>
<use href="#dR" x="181.2" y="99.3"/>
<use href="#dR" x="180.5" y="93.8"/>
<use href="#dR" x="183.3" y="80.6"/>
<use href="#dR" x="172.1" y="85.7"/>
<use href="#dK" x="179.4" y="80.1"/>
<use href="#dK" x="173.3" y="97.9"/>
<use href="#dK" x="170.8" y="81.5"/>
<use href="#dK" x="167.7" y="106.9"/>
<use href="#dR" x="179.2" y="101.5"/>
<use href="#dO" x="170.2" y="76.5"/>
<use href="#dO" x="179.8" y="92.4"/>
<use href="#dO" x="179.5" y="90.5"/>
<use href="#dR" x="174.9" y="92.1"/>
<use href="#dK" x="173.9" y="85.9"/>
<use href="#dR" x="179.7" y="99.2"/>
<use href="#dR" x="183.4" y="83.1"/>
<use href="#dR" x="165.8" y="86.4"/>
<use href="#dR" x="172.0" y="92.1"/>
<use href="#dK" x="174.9" y="84.8"/>
<use href="#dO" x="165.9" y="86.5"/>
<use href="#dO" x="174.6" y="81.1"/>
<use href="#dK" x="180.5" y="83.5"/>
<use href="#dO" x="174.3" y="78.9"/>
<use href="#dR" x="168.7" y="74.6"/>
<use href="#dO" x="180.0" y="82.3"/>
<use href="#dR" x="175.7" y="85.0"/>
<use href="#dO" x="169.4" y="107.0"/>
<use href="#dO" x="174.1" y="104.8"/>
<use href="#dR" x="171.8" y="89.1"/>
<use href="#dK" x="166.3" y="83.3"/>
<use href="#dK" x="165.3" y="81.9"/>
<use href="#dO" x="176.2" y="74.7"/>
<use href="#dO" x="168.6" y="105.0"/>
<use href="#dK" x="175.4" y="93.9"/>
<use href="#dO" x="168.8" y="107.1"/>
<use href="#dR" x="170.0" y="74.8"/>
<use href="#dR" x="173.2" y="94.1"/>
<use href="#dR" x="176.3" y="76.1"/>
<use href="#dR" x="180.7" y="84.2"/>
<use href="#dK" x="183.6" y="85.7"/>
<use href="#dO" x="171.7" y="98.5"/>
<use href="#dR" x="173.9" y="104.0"/>
<use href="#dK" x="181.7" y="104.7"/>
<use href="#dO" x="178.1" y="74.5"/>
<use href="#dK" x="170.8" y="80.1"/>
<use href="#dO" x="166.4" y="106.9"/>
<use href="#dO" x="174.3" y="78.1"/>
<use href="#dR" x="180.8" y="85.5"/>
<use href="#dO" x="169.2" y="99.1"/>
<use href="#dO" x="168.0" y="107.7"/>
<use href="#dR" x="182.2" y="81.1"/>
<use href="#dR" x="174.5" y="99.8"/>
<use href="#dR" x="179.2" y="89.9"/>
<use href="#dK" x="166.6" y="83.4"/>
<use href="#dR" x="178.9" y="94.0"/>
<use href="#dO" x="173.1" y="96.4"/>
<use href="#dK" x="173.6" y="85.5"/>
<use href="#dR" x="172.1" y="85.6"/>
<use href="#dR" x="171.9" y="88.2"/>
<use href="#dR" x="181.7" y="89.2"/>
<use href="#dO" x="182.0" y="102.2"/>
<use href="#dO" x="167.7" y="103.5"/>
<use href="#dR" x="166.2" y="95.1"/>
<use href="#dR" x="171.8" y="100.2"/>
<use href="#dK" x="182.3" y="86.0"/>
<use href="#dO" x="183.2" y="83.6"/>
<use href="#dR" x="169.1" y="75.5"/>
<use href="#dO" x="171.7" y="83.9"/>
<use href="#dO" x="178.7" y="78.0"/>
<use href="#dO" x="172.6" y="80.6"/>
<use href="#dO" x="165.2" y="93.3"/>
<use href="#dR" x="170.3" y="102.4"/>
<use href="#dR" x="169.7" y="75.3"/>
<use href="#dR" x="173.4" y="89.8"/>
<use href="#dR" x="167.6" y="91.0"/>
<use href="#dO" x="176.7" y="101.7"/>
<use href="#dO" x="182.3" y="92.8"/>
<use href="#dK" x="172.9" y="81.2"/>
<use href="#dO" x="169.2" y="80.3"/>
<use href="#dR" x="172.1" y="87.2"/>
<use href="#dO" x="167.8" y="103.5"/>
<use href="#dK" x="176.9" y="88.2"/>
<use href="#dK" x="174.3" y="90.9"/>
<use href="#dK" x="173.1" y="101.8"/>
<use href="#dR" x="182.6" y="82.2"/>
<use href="#dK" x="172.5" y="81.8"/>
<use href="#dO" x="168.1" y="103.9"/>
<use href="#dO" x="174.6" y="80.0"/>
<use href="#dR" x="168.0" y="94.4"/>
<use href="#dK" x="178.6" y="100.7"/>
<use href="#dK" x="168.0" y="76.3"/>
<use href="#dO" x="177.4" y="95.5"/>
<use href="#dR" x="168.4" y="83.0"/>
<use href="#dO" x="164.9" y="98.0"/>
<use href="#dO" x="174.6" y="103.8"/>
<use href="#dK" x="182.1" y="91.2"/>
<use href="#dO" x="171.3" y="82.0"/>
<use href="#dO" x="166.4" y="87.0"/>
<use href="#dO" x="179.2" y="76.2"/>
<use href="#dO" x="177.3" y="80.7"/>
<use href="#dR" x="165.4" y="98.4"/>
<use href="#dO" x="175.6" y="104.5"/>
<use href="#dR" x="171.5" y="80.5"/>
<use href="#dO" x="175.6" y="106.0"/>
<use href="#dO" x="170.2" y="75.2"/>
<use href="#dR" x="178.6" y="88.4"/>
<use href="#dK" x="165.2" y="102.4"/>
<use href="#dO" x="167.3" y="80.5"/>
<use href="#dR" x="166.4" y="95.1"/>
<use href="#dR" x="167.9" y="83.2"/>
<use href="#dR" x="178.7" y="81.2"/>
<use href="#dR" x="180.6" y="95.8"/>
<use href="#dK" x="173.5" y="80.3"/>
<use href="#dO" x="173.1" y="84.7"/>
<use href="#dR" x="166.5" y="78.0"/>
<use href="#dK" x="169.9" y="89.1"/>
<use href="#dR" x="175.8" y="100.7"/>
<use href="#dR" x="166.8" y="75.7"/>
<use href="#dO" x="181.5" y="92.1"/>
<use href="#dR" x="169.0" y="79.9"/>
<use href="#dR" x="177.4" y="89.0"/>
<use href="#dO" x="165.1" y="95.8"/>
<use href="#dO" x="177.9" y="94.3"/>
<use href="#dR" x="171.6" y="86.6"/>
<use href="#dO" x="180.6" y="98.9"/>
<use href="#dO" x="180.7" y="93.0"/>
<use href="#dK" x="183.4" y="83.5"/>
<use href="#dO" x="172.3" y="92.9"/>
<use href="#dO" x="170.9" y="76.7"/>
<use href="#dO" x="177.6" y="84.8"/>
<use href="#dO" x="181.2" y="96.9"/>
<use href="#dO" x="168.3" y="83.6"/>
<use href="#dR" x="168.5" y="97.1"/>
<use href="#dO" x="169.0" y="87.4"/>
<use href="#dR" x="165.5" y="104.8"/>
<use href="#dO" x="176.5" y="106.8"/>
<use href="#dO" x="176.5" y="95.5"/>
<use href="#dO" x="166.6" y="75.7"/>
<use href="#dO" x="165.0" y="80.2"/>
<use href="#dR" x="171.3" y="77.5"/>
<use href="#dR" x="182.2" y="106.2"/>
<use href="#dR" x="166.3" y="94.0"/>
<use href="#dR" x="182.4" y="88.2"/>
<use href="#dO" x="174.4" y="105.5"/>
<use href="#dO" x="182.1" y="93.5"/>
<use href="#dR" x="169.9" y="99.7"/>
<use href="#dR" x="178.8" y="82.2"/>
<use href="#dO" x="173.3" y="98.1"/>
<use href="#dR" x="168.9" y="86.1"/>
<use href="#dR" x="175.1" y="85.3"/>
<use href="#dR" x="181.6" y="82.8"/>
<use href="#dO" x="173.8" y="102.9"/>
<use href="#dK" x="165.3" y="84.0"/>
<use href="#dO" x="168.3" y="92.3"/>
<use href="#dO" x="183.1" y="86.5"/>
<use href="#dK" x="182.8" y="83.6"/>
<use href="#dK" x="170.9" y="81.5"/>
<use href="#dO" x="181.4" y="79.4"/>
<use href="#dR" x="175.2" y="94.6"/>
<use href="#dK" x="171.3" y="96.7"/>
<use href="#dR" x="174.5" y="103.5"/>
<use href="#dO" x="171.4" y="100.8"/>
<use href="#sL" x="166.2" y="78.5"/>
<use href="#cR" x="169.1" y="86.4"/>
<use href="#sL" x="166.1" y="80.3"/>
<use href="#cL" x="169.2" y="77.2"/>
<use href="#cL" x="175.8" y="77.8"/>
<use href="#cL" x="165.2" y="104.8"/>
<use href="#cL" x="173.4" y="87.3"/>
<use href="#cL" x="169.7" y="105.6"/>
<use href="#sL" x="177.4" y="97.3"/>
<use href="#sL" x="175.7" y="87.1"/>
<use href="#dS" x="166.1" y="71.6"/>
<use href="#dR" x="168.7" y="69.1"/>
<use href="#dS" x="177.0" y="69.0"/>
<use href="#dR" x="179.9" y="71.9"/>
<use href="#dS" x="171.5" y="74.5"/>
<polygon points="230.3,84.0 235.1,80.0 240.9,96.0 249.9,98.0 249.9,158.0 248.9,162.0 246.9,166.0 244.9,165.0 242.9,168.0 241.4,174.0 238.6,179.0 237.6,176.0 236.1,168.0 235.1,160.0 233.1,165.0 231.1,164.0 230.3,160.0" fill="#989898"/>
<line x1="233.8" y1="86.3" x2="233.8" y2="158.6" stroke="#b8b8b8" stroke-width="0.7" opacity="0.55"/>
<line x1="235.3" y1="85.3" x2="235.3" y2="154.6" stroke="#878787" stroke-width="0.7" opacity="0.55"/>
<line x1="238.1" y1="93.2" x2="238.1" y2="173.9" stroke="#c4c4c4" stroke-width="0.7" opacity="0.55"/>
<line x1="239.2" y1="95.1" x2="239.2" y2="170.1" stroke="#b8b8b8" stroke-width="0.7" opacity="0.55"/>
<line x1="242.6" y1="102.2" x2="242.6" y2="159.1" stroke="#b8b8b8" stroke-width="0.7" opacity="0.55"/>
<line x1="244.0" y1="101.8" x2="244.0" y2="156.8" stroke="#878787" stroke-width="0.7" opacity="0.55"/>
<line x1="247.5" y1="104.1" x2="247.5" y2="159.5" stroke="#878787" stroke-width="0.7" opacity="0.55"/>
<use href="#tL" x="240.2" y="102.5"/>
<use href="#tL" x="243.7" y="105.8"/>
<use href="#tL" x="247.1" y="138.2"/>
<use href="#tL" x="237.8" y="104.4"/>
<use href="#tL" x="242.0" y="101.0"/>
<use href="#tL" x="240.3" y="133.7"/>
<use href="#tD" x="236.1" y="156.4"/>
<use href="#tL" x="238.1" y="145.1"/>
<use href="#tL" x="241.3" y="110.8"/>
<use href="#tL" x="237.0" y="145.6"/>
<use href="#tL" x="233.2" y="135.6"/>
<use href="#tL" x="237.7" y="129.5"/>
<use href="#tD" x="236.5" y="86.5"/>
<use href="#tD" x="236.8" y="102.4"/>
<use href="#tD" x="233.5" y="151.0"/>
<use href="#tD" x="236.3" y="119.9"/>
<use href="#tL" x="247.3" y="156.7"/>
<use href="#tL" x="233.6" y="107.4"/>
<use href="#tL" x="231.8" y="147.3"/>
<use href="#tD" x="243.0" y="114.8"/>
<use href="#tL" x="238.6" y="145.2"/>
<use href="#tL" x="243.6" y="104.6"/>
<use href="#tL" x="246.2" y="114.9"/>
<use href="#tD" x="242.4" y="98.0"/>
<use href="#tD" x="244.2" y="150.5"/>
<use href="#tL" x="232.0" y="84.0"/>
<use href="#tL" x="234.2" y="99.6"/>
<use href="#tL" x="236.6" y="117.7"/>
<use href="#tD" x="232.0" y="110.8"/>
<use href="#tL" x="242.5" y="97.8"/>
<use href="#tL" x="246.1" y="136.4"/>
<use href="#tL" x="243.9" y="105.2"/>
<use href="#tD" x="239.0" y="147.7"/>
<use href="#tD" x="246.0" y="156.9"/>
<use href="#tL" x="236.3" y="84.3"/>
<use href="#tL" x="246.3" y="140.1"/>
<use href="#tL" x="232.1" y="104.2"/>
<use href="#tL" x="233.3" y="158.4"/>
<use href="#tD" x="243.5" y="119.0"/>
<use href="#tL" x="244.5" y="162.0"/>
<use href="#tL" x="236.2" y="88.9"/>
<use href="#tD" x="248.0" y="122.0"/>
<use href="#tL" x="247.7" y="148.5"/>
<use href="#tL" x="244.3" y="162.2"/>
<use href="#tL" x="242.4" y="124.8"/>
<use href="#tL" x="232.3" y="149.1"/>
<use href="#tL" x="238.8" y="130.7"/>
<use href="#tL" x="243.7" y="159.8"/>
<use href="#tD" x="235.9" y="134.1"/>
<use href="#tL" x="248.4" y="143.1"/>
<use href="#tL" x="240.9" y="104.7"/>
<use href="#tL" x="232.3" y="115.4"/>
<use href="#tL" x="238.5" y="99.9"/>
<use href="#tL" x="236.8" y="93.5"/>
<use href="#tL" x="243.7" y="146.4"/>
<use href="#tD" x="235.5" y="103.9"/>
<use href="#tL" x="240.4" y="124.1"/>
<use href="#tD" x="247.8" y="114.8"/>
<use href="#tL" x="233.8" y="135.8"/>
<use href="#tD" x="237.2" y="160.7"/>
<use href="#tD" x="240.9" y="155.3"/>
<use href="#tL" x="234.3" y="146.0"/>
<use href="#tL" x="241.8" y="125.7"/>
<use href="#tL" x="244.8" y="162.3"/>
<use href="#tL" x="233.3" y="108.6"/>
<use href="#tL" x="237.6" y="100.4"/>
<use href="#tD" x="232.4" y="107.8"/>
<use href="#tL" x="234.8" y="149.5"/>
<use href="#tL" x="237.0" y="126.4"/>
<use href="#tD" x="237.7" y="96.6"/>
<use href="#tD" x="248.8" y="154.3"/>
<use href="#tD" x="232.8" y="151.0"/>
<use href="#tD" x="248.6" y="135.8"/>
<use href="#tL" x="233.2" y="128.4"/>
<use href="#tD" x="238.9" y="98.8"/>
<use href="#tL" x="247.5" y="143.8"/>
<use href="#tD" x="242.8" y="104.9"/>
<use href="#tL" x="235.6" y="93.7"/>
<use href="#tL" x="231.8" y="156.7"/>
<use href="#tL" x="246.1" y="109.3"/>
<use href="#tD" x="234.6" y="143.2"/>
<use href="#tD" x="234.3" y="157.7"/>
<use href="#tD" x="245.9" y="153.5"/>
<use href="#tL" x="237.0" y="98.3"/>
<use href="#tL" x="245.8" y="111.7"/>
<use href="#tL" x="237.8" y="134.6"/>
<use href="#tL" x="237.8" y="162.3"/>
<use href="#tL" x="235.5" y="84.1"/>
<use href="#tD" x="241.3" y="142.2"/>
<use href="#tL" x="245.7" y="149.9"/>
<use href="#tL" x="240.0" y="129.5"/>
<use href="#tL" x="234.1" y="109.7"/>
<use href="#tD" x="239.1" y="176.0"/>
<use href="#tL" x="232.9" y="84.0"/>
<use href="#tD" x="239.0" y="98.9"/>
<use href="#tD" x="246.1" y="164.7"/>
<use href="#tL" x="245.1" y="122.1"/>
<use href="#tL" x="236.3" y="145.5"/>
<use href="#tD" x="240.4" y="121.7"/>
<use href="#tD" x="237.3" y="123.4"/>
<use href="#tL" x="243.0" y="161.8"/>
<use href="#tL" x="236.5" y="123.9"/>
<use href="#tL" x="241.2" y="114.5"/>
<use href="#tD" x="234.7" y="88.4"/>
<use href="#tL" x="237.0" y="125.6"/>
<use href="#tD" x="248.2" y="141.4"/>
<use href="#tL" x="243.2" y="140.3"/>
<use href="#tL" x="236.5" y="136.5"/>
<use href="#tD" x="248.1" y="127.6"/>
<use href="#tL" x="242.7" y="109.6"/>
<use href="#tL" x="237.3" y="167.6"/>
<use href="#tL" x="231.8" y="98.7"/>
<use href="#tL" x="243.2" y="124.3"/>
<use href="#tL" x="232.8" y="145.4"/>
<use href="#tL" x="237.8" y="137.5"/>
<use href="#tL" x="238.6" y="132.5"/>
<use href="#tL" x="241.2" y="119.2"/>
<use href="#tD" x="233.3" y="97.9"/>
<use href="#tL" x="247.0" y="134.3"/>
<use href="#tL" x="235.8" y="89.4"/>
<use href="#tL" x="240.6" y="104.9"/>
<use href="#tL" x="239.9" y="134.8"/>
<use href="#tD" x="235.3" y="136.7"/>
<use href="#tL" x="233.3" y="130.8"/>
<use href="#tL" x="239.0" y="165.5"/>
<use href="#tD" x="241.0" y="150.7"/>
<use href="#tL" x="248.7" y="151.4"/>
<use href="#tL" x="233.1" y="162.2"/>
<use href="#tL" x="238.2" y="97.0"/>
<use href="#tD" x="248.2" y="135.7"/>
<use href="#tL" x="235.5" y="116.9"/>
<use href="#tL" x="231.6" y="138.8"/>
<use href="#tD" x="235.1" y="109.7"/>
<use href="#tD" x="243.8" y="122.2"/>
<use href="#tD" x="246.9" y="141.5"/>
<use href="#tD" x="246.6" y="135.7"/>
<use href="#tL" x="234.3" y="153.8"/>
<use href="#tL" x="237.3" y="155.6"/>
<use href="#tL" x="243.3" y="161.7"/>
<use href="#tD" x="233.5" y="116.9"/>
<use href="#tL" x="241.0" y="159.5"/>
<use href="#tD" x="243.2" y="105.2"/>
<use href="#tL" x="234.7" y="124.2"/>
<use href="#tL" x="246.1" y="137.6"/>
<use href="#tD" x="233.2" y="159.3"/>
<use href="#tL" x="234.6" y="134.9"/>
<use href="#tL" x="236.4" y="148.0"/>
<use href="#tL" x="238.0" y="94.3"/>
<use href="#tD" x="246.7" y="133.3"/>
<use href="#tL" x="243.4" y="160.0"/>
<use href="#cL" x="245.5" y="111.6"/>
<use href="#sL" x="240.8" y="155.1"/>
<use href="#sL" x="242.1" y="103.5"/>
<use href="#sL" x="232.4" y="84.7"/>
<use href="#cO" x="239.3" y="168.4"/>
<use href="#sL" x="236.6" y="129.7"/>
<use href="#sO" x="233.7" y="103.9"/>
<use href="#cL" x="233.0" y="92.8"/>
<use href="#sO" x="232.9" y="87.3"/>
<use href="#sL" x="245.2" y="137.0"/>
<use href="#cO" x="236.4" y="143.6"/>
<use href="#cO" x="232.3" y="112.0"/>
<use href="#cL" x="232.5" y="111.8"/>
<use href="#sO" x="239.9" y="140.4"/>
<use href="#sO" x="245.9" y="158.8"/>
<use href="#cO" x="233.5" y="140.7"/>
<use href="#sO" x="237.2" y="144.8"/>
<use href="#sO" x="237.1" y="121.1"/>
<use href="#cO" x="243.5" y="162.7"/>
<use href="#cO" x="235.5" y="132.4"/>
<use href="#sL" x="245.5" y="115.4"/>
<use href="#sL" x="237.9" y="114.1"/>
<use href="#cO" x="241.3" y="102.8"/>
<use href="#cO" x="242.0" y="160.5"/>
<use href="#cO" x="242.5" y="144.5"/>
<use href="#sO" x="233.3" y="81.5"/>
<use href="#cL" x="234.6" y="80.7"/>
<use href="#cL" x="240.3" y="94.1"/>
<use href="#sO" x="240.6" y="93.7"/>
<use href="#cL" x="240.1" y="92.7"/>
<use href="#cL" x="236.3" y="84.3"/>
<use href="#cO" x="239.8" y="94.4"/>
<use href="#cO" x="246.9" y="96.9"/>
<use href="#sO" x="247.4" y="98.3"/>
<use href="#cO" x="242.8" y="97.1"/>
<use href="#cO" x="247.9" y="164.7"/>
<use href="#cL" x="244.8" y="165.6"/>
<use href="#cL" x="240.0" y="174.9"/>
<use href="#sO" x="237.1" y="177.1"/>
<use href="#cL" x="234.8" y="163.0"/>
<polygon points="238.7,82.0 240.7,76.0 243.7,72.0 245.3,70.0 248.3,73.0 248.3,100.0 243.7,102.0 238.7,100.0" fill="#303030"/>
<use href="#tD" x="239.0" y="99.2"/>
<use href="#tM" x="240.3" y="93.6"/>
<use href="#tD" x="245.2" y="72.9"/>
<use href="#tD" x="242.0" y="99.4"/>
<use href="#tD" x="245.5" y="98.2"/>
<use href="#tD" x="241.1" y="95.3"/>
<use href="#tD" x="245.2" y="71.2"/>
<use href="#tM" x="243.5" y="77.4"/>
<use href="#tM" x="241.8" y="98.1"/>
<use href="#tD" x="240.0" y="85.6"/>
<use href="#dK" x="242.0" y="76.9"/>
<use href="#dK" x="248.2" y="98.3"/>
<use href="#dO" x="245.8" y="78.7"/>
<use href="#dR" x="240.3" y="78.5"/>
<use href="#dO" x="243.6" y="83.1"/>
<use href="#dR" x="244.1" y="81.6"/>
<use href="#dK" x="238.6" y="92.0"/>
<use href="#dR" x="245.0" y="87.4"/>
<use href="#dO" x="244.0" y="92.1"/>
<use href="#dR" x="248.3" y="98.0"/>
<use href="#dR" x="245.7" y="82.8"/>
<use href="#dO" x="241.7" y="83.4"/>
<use href="#dK" x="248.2" y="82.4"/>
<use href="#dR" x="242.4" y="83.1"/>
<use href="#dK" x="238.6" y="89.5"/>
<use href="#dO" x="247.8" y="78.1"/>
<use href="#dR" x="244.6" y="82.1"/>
<use href="#dK" x="240.9" y="76.3"/>
<use href="#dO" x="239.7" y="97.0"/>
<use href="#dO" x="246.3" y="99.1"/>
<use href="#dO" x="239.0" y="92.2"/>
<use href="#dO" x="241.7" y="90.7"/>
<use href="#dR" x="244.0" y="80.1"/>
<use href="#dR" x="246.0" y="97.3"/>
<use href="#dR" x="243.6" y="89.0"/>
<use href="#dO" x="248.4" y="77.5"/>
<use href="#dO" x="244.8" y="93.8"/>
<use href="#dR" x="242.3" y="92.8"/>
<use href="#dO" x="242.4" y="86.8"/>
<use href="#dR" x="244.6" y="91.7"/>
<use href="#dR" x="241.7" y="90.1"/>
<use href="#dR" x="243.9" y="77.1"/>
<use href="#dO" x="244.6" y="78.5"/>
<use href="#dR" x="247.6" y="85.1"/>
<use href="#dO" x="245.7" y="86.7"/>
<use href="#dR" x="243.3" y="77.1"/>
<use href="#dO" x="239.9" y="99.7"/>
<use href="#dR" x="243.8" y="86.8"/>
<use href="#dO" x="243.8" y="96.0"/>
<use href="#dO" x="240.9" y="75.5"/>
<use href="#dR" x="246.7" y="84.7"/>
<use href="#dO" x="244.9" y="96.5"/>
<use href="#dK" x="247.4" y="97.8"/>
<use href="#dO" x="238.9" y="82.2"/>
<use href="#dO" x="246.8" y="96.2"/>
<use href="#dO" x="242.1" y="95.7"/>
<use href="#dO" x="243.7" y="84.5"/>
<use href="#dO" x="239.4" y="82.7"/>
<use href="#dO" x="248.5" y="92.2"/>
<use href="#dR" x="243.0" y="85.3"/>
<use href="#dR" x="246.5" y="94.3"/>
<use href="#dR" x="240.0" y="91.8"/>
<use href="#dO" x="242.2" y="86.7"/>
<use href="#dR" x="240.9" y="81.9"/>
<use href="#dR" x="241.9" y="82.2"/>
<use href="#dR" x="244.2" y="71.8"/>
<use href="#dO" x="240.3" y="93.0"/>
<use href="#dK" x="241.2" y="80.4"/>
<use href="#dR" x="240.9" y="96.7"/>
<use href="#dR" x="239.4" y="90.4"/>
<use href="#dO" x="247.1" y="76.5"/>
<use href="#dR" x="242.7" y="95.4"/>
<use href="#dO" x="244.7" y="81.9"/>
<use href="#dR" x="238.9" y="84.2"/>
<use href="#dO" x="242.2" y="92.8"/>
<use href="#dR" x="241.5" y="83.1"/>
<use href="#dK" x="245.0" y="95.9"/>
<use href="#dO" x="242.0" y="82.3"/>
<use href="#dO" x="244.3" y="99.6"/>
<use href="#dK" x="245.6" y="81.9"/>
<use href="#dO" x="245.2" y="80.5"/>
<use href="#dO" x="239.2" y="94.2"/>
<use href="#dK" x="242.3" y="86.8"/>
<use href="#dK" x="243.5" y="98.8"/>
<use href="#dK" x="246.1" y="70.8"/>
<use href="#dO" x="244.4" y="84.8"/>
<use href="#dO" x="243.1" y="96.9"/>
<use href="#dO" x="242.6" y="85.2"/>
<use href="#dO" x="247.4" y="84.1"/>
<use href="#dR" x="243.4" y="86.4"/>
<use href="#dR" x="246.7" y="91.5"/>
<use href="#dK" x="245.9" y="82.9"/>
<use href="#dR" x="238.9" y="91.8"/>
<use href="#dO" x="244.0" y="94.6"/>
<use href="#dK" x="246.2" y="73.8"/>
<use href="#dO" x="246.7" y="73.3"/>
<use href="#dO" x="239.4" y="94.1"/>
<use href="#dR" x="244.1" y="71.8"/>
<use href="#dO" x="245.3" y="92.8"/>
<use href="#dR" x="245.4" y="83.4"/>
<use href="#dO" x="246.7" y="97.9"/>
<use href="#dO" x="240.0" y="80.7"/>
<use href="#dR" x="248.4" y="78.8"/>
<use href="#dK" x="241.1" y="80.0"/>
<use href="#dR" x="241.1" y="97.5"/>
<use href="#dR" x="244.1" y="86.4"/>
<use href="#dR" x="241.5" y="97.7"/>
<use href="#dK" x="246.5" y="97.4"/>
<use href="#dR" x="241.1" y="76.5"/>
<use href="#dO" x="239.0" y="87.2"/>
<use href="#dO" x="242.2" y="84.9"/>
<use href="#dO" x="243.4" y="88.7"/>
<use href="#dS" x="232.0" y="88.8"/>
<use href="#dS" x="231.6" y="95.2"/>
<use href="#dS" x="237.3" y="98.1"/>
<use href="#cR" x="232.8" y="84.2"/>
<use href="#cS" x="233.5" y="90.8"/>
<use href="#cR" x="236.4" y="82.4"/>
<use href="#dS" x="234.6" y="94.9"/>
<use href="#cR" x="236.5" y="97.9"/>
<use href="#cS" x="235.3" y="84.6"/>
<use href="#cR" x="235.3" y="80.2"/>
<use href="#dS" x="231.5" y="82.3"/>
<use href="#cS" x="232.5" y="84.6"/>
<use href="#cS" x="232.6" y="85.7"/>
<use href="#cR" x="234.6" y="85.3"/>
<use href="#cS" x="233.9" y="80.4"/>
<use href="#cR" x="236.9" y="95.8"/>
<use href="#cR" x="236.2" y="88.0"/>
<use href="#cR" x="236.4" y="80.5"/>
<use href="#cR" x="232.5" y="86.7"/>
<use href="#cR" x="235.3" y="87.1"/>
<use href="#cS" x="236.0" y="87.1"/>
<use href="#cS" x="236.9" y="79.7"/>
<use href="#dS" x="235.0" y="66.5"/>
<use href="#dR" x="239.0" y="70.6"/>
<use href="#dS" x="245.5" y="67.0"/>
<use href="#dR" x="246.8" y="71.6"/>
<use href="#dS" x="232.9" y="74.6"/>
<use href="#dR" x="236.6" y="76.7"/>
<use href="#dS" x="232.9" y="80.0"/>
<polygon points="296.6,104.0 315.9,104.0 315.9,158.0 314.9,161.0 312.9,161.5 311.4,162.0 310.4,168.0 309.4,171.5 308.4,168.0 305.6,160.0 304.1,155.5 301.1,156.0 298.1,155.0 296.6,152.0" fill="#989898"/>
<line x1="300.2" y1="106.1" x2="300.2" y2="144.1" stroke="#878787" stroke-width="0.7" opacity="0.55"/>
<line x1="302.3" y1="111.6" x2="302.3" y2="151.4" stroke="#c4c4c4" stroke-width="0.7" opacity="0.55"/>
<line x1="303.3" y1="112.0" x2="303.3" y2="152.0" stroke="#878787" stroke-width="0.7" opacity="0.55"/>
<line x1="307.4" y1="109.4" x2="307.4" y2="156.8" stroke="#b8b8b8" stroke-width="0.7" opacity="0.55"/>
<line x1="308.1" y1="113.1" x2="308.1" y2="164.2" stroke="#c4c4c4" stroke-width="0.7" opacity="0.55"/>
<line x1="310.2" y1="107.9" x2="310.2" y2="158.8" stroke="#c4c4c4" stroke-width="0.7" opacity="0.55"/>
<line x1="313.7" y1="106.5" x2="313.7" y2="156.5" stroke="#c4c4c4" stroke-width="0.7" opacity="0.55"/>
<use href="#tL" x="303.4" y="110.6"/>
<use href="#tL" x="300.6" y="124.5"/>
<use href="#tL" x="307.8" y="116.3"/>
<use href="#tL" x="311.2" y="106.2"/>
<use href="#tD" x="311.2" y="114.0"/>
<use href="#tL" x="306.4" y="115.3"/>
<use href="#tD" x="311.4" y="156.0"/>
<use href="#tD" x="309.5" y="151.8"/>
<use href="#tD" x="298.8" y="104.2"/>
<use href="#tL" x="312.8" y="106.5"/>
<use href="#tD" x="306.7" y="126.3"/>
<use href="#tL" x="298.8" y="144.7"/>
<use href="#tL" x="298.5" y="128.7"/>
<use href="#tL" x="304.7" y="147.9"/>
<use href="#tL" x="314.4" y="143.3"/>
<use href="#tD" x="311.5" y="137.2"/>
<use href="#tL" x="311.0" y="137.5"/>
<use href="#tL" x="302.1" y="150.8"/>
<use href="#tL" x="302.8" y="107.6"/>
<use href="#tD" x="309.4" y="115.1"/>
<use href="#tL" x="304.3" y="147.2"/>
<use href="#tD" x="313.8" y="138.6"/>
<use href="#tD" x="310.5" y="144.1"/>
<use href="#tL" x="308.9" y="146.7"/>
<use href="#tD" x="311.5" y="154.7"/>
<use href="#tL" x="312.3" y="120.2"/>
<use href="#tL" x="307.8" y="141.9"/>
<use href="#tL" x="312.8" y="142.8"/>
<use href="#tD" x="298.5" y="148.8"/>
<use href="#tD" x="304.4" y="146.3"/>
<use href="#tL" x="311.0" y="127.1"/>
<use href="#tD" x="301.6" y="149.4"/>
<use href="#tL" x="311.3" y="148.8"/>
<use href="#tL" x="313.2" y="132.8"/>
<use href="#tL" x="302.9" y="124.3"/>
<use href="#tD" x="308.0" y="168.2"/>
<use href="#tL" x="312.8" y="136.1"/>
<use href="#tD" x="304.7" y="124.2"/>
<use href="#tL" x="300.1" y="140.8"/>
<use href="#tL" x="299.0" y="130.6"/>
<use href="#tL" x="305.7" y="106.2"/>
<use href="#tD" x="304.6" y="140.3"/>
<use href="#tD" x="301.8" y="118.6"/>
<use href="#tL" x="308.4" y="129.4"/>
<use href="#tL" x="313.1" y="130.3"/>
<use href="#tL" x="303.4" y="114.2"/>
<use href="#tD" x="300.5" y="127.7"/>
<use href="#tD" x="314.2" y="124.8"/>
<use href="#tD" x="311.3" y="144.9"/>
<use href="#tL" x="304.4" y="104.6"/>
<use href="#tD" x="312.4" y="111.0"/>
<use href="#tL" x="301.9" y="142.2"/>
<use href="#tD" x="309.0" y="153.7"/>
<use href="#tL" x="310.3" y="154.8"/>
<use href="#tD" x="309.1" y="113.1"/>
<use href="#tD" x="310.6" y="121.1"/>
<use href="#tD" x="304.8" y="138.7"/>
<use href="#tL" x="303.3" y="122.0"/>
<use href="#tD" x="302.7" y="124.6"/>
<use href="#tL" x="309.9" y="150.3"/>
<use href="#tL" x="313.8" y="158.6"/>
<use href="#tL" x="298.6" y="148.2"/>
<use href="#tL" x="306.1" y="150.7"/>
<use href="#tL" x="313.0" y="112.0"/>
<use href="#tD" x="304.1" y="125.0"/>
<use href="#tD" x="306.5" y="114.3"/>
<use href="#tL" x="308.1" y="135.0"/>
<use href="#tL" x="314.0" y="136.6"/>
<use href="#tL" x="302.3" y="116.7"/>
<use href="#tD" x="313.5" y="138.3"/>
<use href="#tD" x="314.9" y="115.7"/>
<use href="#tL" x="308.5" y="120.3"/>
<use href="#tL" x="311.0" y="105.7"/>
<use href="#tL" x="307.1" y="131.5"/>
<use href="#tL" x="308.7" y="137.3"/>
<use href="#tL" x="314.5" y="128.3"/>
<use href="#tL" x="313.2" y="125.9"/>
<use href="#tD" x="312.0" y="137.5"/>
<use href="#tL" x="298.4" y="139.9"/>
<use href="#tL" x="313.1" y="117.6"/>
<use href="#tL" x="311.6" y="108.2"/>
<use href="#tD" x="302.9" y="139.1"/>
<use href="#tL" x="309.4" y="165.3"/>
<use href="#tL" x="311.0" y="128.3"/>
<use href="#tD" x="309.6" y="122.4"/>
<use href="#tD" x="313.0" y="136.0"/>
<use href="#tD" x="308.3" y="166.6"/>
<use href="#tL" x="304.6" y="150.0"/>
<use href="#tL" x="303.9" y="125.6"/>
<use href="#tD" x="311.3" y="135.9"/>
<use href="#tL" x="308.4" y="137.8"/>
<use href="#tL" x="304.7" y="114.8"/>
<use href="#tL" x="313.0" y="107.0"/>
<use href="#tL" x="302.4" y="140.2"/>
<use href="#tL" x="309.0" y="161.2"/>
<use href="#tD" x="304.7" y="109.2"/>
<use href="#tL" x="304.4" y="152.4"/>
<use href="#tL" x="312.3" y="112.2"/>
<use href="#tD" x="305.4" y="104.8"/>
<use href="#tD" x="306.8" y="151.1"/>
<use href="#tL" x="302.9" y="144.6"/>
<use href="#tL" x="299.3" y="144.7"/>
<use href="#tD" x="311.9" y="160.3"/>
<use href="#tL" x="300.5" y="115.9"/>
<use href="#tL" x="310.1" y="154.1"/>
<use href="#tD" x="299.6" y="131.3"/>
<use href="#tD" x="312.2" y="157.3"/>
<use href="#tD" x="312.1" y="131.0"/>
<use href="#sO" x="298.8" y="138.1"/>
<use href="#sL" x="305.1" y="108.3"/>
<use href="#sL" x="308.3" y="152.9"/>
<use href="#cO" x="307.6" y="131.0"/>
<use href="#sL" x="306.4" y="143.7"/>
<use href="#sL" x="313.5" y="126.2"/>
<use href="#sL" x="313.9" y="108.8"/>
<use href="#sO" x="305.9" y="113.0"/>
<use href="#sO" x="305.5" y="150.1"/>
<use href="#cO" x="309.5" y="134.7"/>
<use href="#sL" x="303.8" y="116.8"/>
<use href="#cL" x="304.7" y="123.1"/>
<use href="#sO" x="301.4" y="153.7"/>
<use href="#cL" x="306.5" y="133.6"/>
<use href="#sO" x="301.5" y="151.5"/>
<use href="#sL" x="301.5" y="121.9"/>
<use href="#sO" x="307.2" y="151.3"/>
<use href="#cO" x="313.7" y="154.5"/>
<use href="#sL" x="309.7" y="152.6"/>
<use href="#cL" x="299.4" y="117.9"/>
<use href="#sO" x="306.6" y="104.5"/>
<use href="#cO" x="306.4" y="104.0"/>
<use href="#cL" x="301.0" y="103.6"/>
<use href="#cO" x="297.3" y="104.7"/>
<use href="#cL" x="316.0" y="104.4"/>
<use href="#cL" x="299.1" y="103.2"/>
<use href="#cL" x="314.9" y="159.1"/>
<use href="#sO" x="305.6" y="159.5"/>
<use href="#sO" x="306.5" y="160.6"/>
<use href="#cL" x="304.7" y="157.7"/>
<use href="#cO" x="303.0" y="155.4"/>
<use href="#sO" x="298.6" y="154.5"/>
<use href="#cL" x="297.9" y="155.1"/>
<polygon points="298.2,82.0 299.7,78.0 301.7,75.0 304.7,79.0 306.3,77.0 308.3,75.0 310.3,77.0 312.3,79.0 314.3,82.0 314.3,108.0 309.3,104.0 306.7,110.0 302.7,104.0 298.2,108.0" fill="#303030"/>
<use href="#tM" x="310.4" y="95.0"/>
<use href="#tD" x="301.1" y="97.8"/>
<use href="#tD" x="309.7" y="91.4"/>
<use href="#tD" x="312.2" y="96.2"/>
<use href="#tD" x="300.3" y="92.4"/>
<use href="#tD" x="304.4" y="99.5"/>
<use href="#tD" x="298.5" y="94.8"/>
<use href="#tM" x="310.1" y="82.8"/>
<use href="#tM" x="310.0" y="97.7"/>
<use href="#tM" x="305.7" y="89.1"/>
<use href="#tD" x="307.1" y="95.2"/>
<use href="#tD" x="305.7" y="91.8"/>
<use href="#tD" x="313.4" y="101.6"/>
<use href="#tD" x="300.6" y="93.5"/>
<use href="#tM" x="308.1" y="86.3"/>
<use href="#tD" x="306.4" y="108.5"/>
<use href="#dK" x="300.0" y="97.8"/>
<use href="#dO" x="301.4" y="90.0"/>
<use href="#dO" x="307.0" y="87.3"/>
<use href="#dO" x="299.6" y="100.6"/>
<use href="#dO" x="312.0" y="104.7"/>
<use href="#dO" x="299.7" y="87.9"/>
<use href="#dK" x="303.0" y="101.7"/>
<use href="#dK" x="300.4" y="96.2"/>
<use href="#dK" x="314.1" y="101.9"/>
<use href="#dO" x="299.9" y="99.2"/>
<use href="#dR" x="307.9" y="93.2"/>
<use href="#dO" x="305.5" y="89.3"/>
<use href="#dR" x="308.1" y="97.7"/>
<use href="#dO" x="313.1" y="100.6"/>
<use href="#dR" x="311.8" y="100.1"/>
<use href="#dO" x="298.5" y="98.8"/>
<use href="#dR" x="312.0" y="90.1"/>
<use href="#dO" x="312.5" y="81.3"/>
<use href="#dO" x="313.6" y="90.5"/>
<use href="#dR" x="309.7" y="83.8"/>
<use href="#dO" x="303.0" y="87.2"/>
<use href="#dK" x="303.4" y="78.3"/>
<use href="#dR" x="310.6" y="104.3"/>
<use href="#dR" x="314.4" y="101.3"/>
<use href="#dR" x="302.5" y="83.7"/>
<use href="#dO" x="313.2" y="86.5"/>
<use href="#dR" x="310.7" y="102.1"/>
<use href="#dO" x="312.7" y="102.8"/>
<use href="#dR" x="306.8" y="78.7"/>
<use href="#dO" x="311.6" y="86.0"/>
<use href="#dO" x="308.3" y="87.8"/>
<use href="#dO" x="306.9" y="108.8"/>
<use href="#dK" x="300.7" y="93.6"/>
<use href="#dO" x="308.7" y="93.8"/>
<use href="#dR" x="313.5" y="89.3"/>
<use href="#dR" x="313.1" y="99.1"/>
<use href="#dR" x="301.5" y="85.1"/>
<use href="#dR" x="302.3" y="100.1"/>
<use href="#dR" x="305.2" y="99.0"/>
<use href="#dO" x="309.4" y="101.1"/>
<use href="#dO" x="310.4" y="83.7"/>
<use href="#dR" x="309.4" y="82.3"/>
<use href="#dK" x="308.6" y="95.7"/>
<use href="#dR" x="308.8" y="95.9"/>
<use href="#dO" x="309.5" y="85.6"/>
<use href="#dK" x="298.2" y="87.7"/>
<use href="#dK" x="300.3" y="79.0"/>
<use href="#dK" x="306.1" y="108.9"/>
<use href="#dR" x="309.3" y="84.6"/>
<use href="#dR" x="310.7" y="81.2"/>
<use href="#dK" x="299.7" y="85.6"/>
<use href="#dK" x="304.7" y="99.1"/>
<use href="#dR" x="305.3" y="100.5"/>
<use href="#dR" x="303.6" y="104.1"/>
<use href="#dK" x="298.5" y="104.0"/>
<use href="#dO" x="311.2" y="98.5"/>
<use href="#dK" x="300.6" y="98.1"/>
<use href="#dR" x="307.7" y="98.1"/>
<use href="#dR" x="301.0" y="80.0"/>
<use href="#dO" x="304.3" y="97.8"/>
<use href="#dR" x="307.4" y="82.8"/>
<use href="#dK" x="312.1" y="79.6"/>
<use href="#dO" x="313.9" y="87.7"/>
<use href="#dK" x="309.9" y="79.8"/>
<use href="#dK" x="311.0" y="83.8"/>
<use href="#dO" x="304.0" y="93.3"/>
<use href="#dR" x="299.8" y="83.7"/>
<use href="#dO" x="311.1" y="85.0"/>
<use href="#dO" x="304.3" y="101.8"/>
<use href="#dO" x="301.7" y="81.8"/>
<use href="#dO" x="301.6" y="88.4"/>
<use href="#dR" x="304.0" y="97.4"/>
<use href="#dO" x="305.8" y="105.4"/>
<use href="#dR" x="298.8" y="98.2"/>
<use href="#dR" x="311.8" y="83.2"/>
<use href="#dK" x="298.5" y="90.3"/>
<use href="#dR" x="299.9" y="91.1"/>
<use href="#dO" x="309.7" y="78.3"/>
<use href="#dK" x="299.9" y="91.8"/>
<use href="#dR" x="300.9" y="83.1"/>
<use href="#dR" x="305.3" y="79.1"/>
<use href="#dR" x="299.1" y="87.6"/>
<use href="#dR" x="305.7" y="107.8"/>
<use href="#dO" x="307.2" y="77.5"/>
<use href="#dO" x="301.7" y="101.0"/>
<use href="#dO" x="307.3" y="105.5"/>
<use href="#dR" x="313.9" y="105.0"/>
<use href="#dR" x="306.7" y="83.4"/>
<use href="#dO" x="300.8" y="105.3"/>
<use href="#dO" x="301.5" y="77.9"/>
<use href="#dR" x="305.6" y="100.6"/>
<use href="#dR" x="299.2" y="90.9"/>
<use href="#dO" x="303.2" y="82.2"/>
<use href="#dR" x="308.9" y="87.6"/>
<use href="#dO" x="305.9" y="81.3"/>
<use href="#dR" x="298.2" y="97.9"/>
<use href="#dO" x="305.8" y="100.9"/>
<use href="#dO" x="306.9" y="83.2"/>
<use href="#dO" x="306.2" y="96.2"/>
<use href="#dR" x="308.7" y="80.1"/>
<use href="#dR" x="301.0" y="82.9"/>
<use href="#dO" x="307.9" y="106.6"/>
<use href="#dK" x="299.4" y="82.6"/>
<use href="#dO" x="298.6" y="90.4"/>
<use href="#dR" x="300.3" y="81.7"/>
<use href="#dO" x="310.4" y="95.4"/>
<use href="#dO" x="313.5" y="89.1"/>
<use href="#dK" x="313.6" y="83.2"/>
<use href="#dR" x="305.9" y="92.9"/>
<use href="#dR" x="313.6" y="92.2"/>
<use href="#dO" x="314.4" y="96.7"/>
<use href="#dR" x="301.6" y="104.2"/>
<use href="#dO" x="305.5" y="82.9"/>
<use href="#dO" x="313.9" y="86.3"/>
<use href="#dK" x="304.7" y="87.0"/>
<use href="#dO" x="309.0" y="75.8"/>
<use href="#dR" x="304.2" y="80.7"/>
<use href="#dO" x="308.0" y="84.0"/>
<use href="#dO" x="305.5" y="94.7"/>
<use href="#dO" x="309.7" y="79.8"/>
<use href="#dO" x="302.0" y="79.2"/>
<use href="#dK" x="300.3" y="93.3"/>
<use href="#dK" x="307.6" y="106.0"/>
<use href="#dO" x="298.9" y="83.2"/>
<use href="#dO" x="300.8" y="95.5"/>
<use href="#dR" x="305.5" y="89.3"/>
<use href="#dO" x="312.7" y="98.2"/>
<use href="#dR" x="298.3" y="85.1"/>
<use href="#dK" x="312.4" y="89.7"/>
<use href="#dK" x="306.7" y="104.7"/>
<use href="#dR" x="311.3" y="97.9"/>
<use href="#dK" x="306.5" y="79.1"/>
<use href="#dO" x="302.0" y="98.0"/>
<use href="#dK" x="307.7" y="103.0"/>
<use href="#dR" x="301.2" y="77.7"/>
<use href="#dO" x="312.8" y="95.0"/>
<use href="#dK" x="301.0" y="99.2"/>
<use href="#dR" x="302.2" y="83.3"/>
<use href="#dK" x="304.0" y="93.3"/>
<use href="#dR" x="309.2" y="77.6"/>
<use href="#dK" x="310.2" y="96.8"/>
<use href="#dO" x="305.8" y="98.5"/>
<use href="#dO" x="305.8" y="98.7"/>
<use href="#dO" x="309.7" y="97.7"/>
<use href="#dO" x="311.0" y="83.2"/>
<use href="#dO" x="301.4" y="89.3"/>
<use href="#dR" x="313.9" y="106.5"/>
<use href="#dR" x="301.8" y="100.7"/>
<use href="#dO" x="303.9" y="98.2"/>
<use href="#dK" x="310.7" y="79.5"/>
<use href="#dR" x="301.7" y="82.5"/>
<use href="#dO" x="302.4" y="76.2"/>
<use href="#dO" x="300.2" y="89.2"/>
<use href="#dK" x="307.5" y="87.4"/>
<use href="#dR" x="309.6" y="90.3"/>
<use href="#dO" x="300.9" y="91.9"/>
<use href="#dK" x="298.3" y="98.7"/>
<use href="#dR" x="300.7" y="87.9"/>
<use href="#cR" x="304.5" y="91.9"/>
<use href="#sL" x="302.4" y="98.4"/>
<use href="#cL" x="301.9" y="86.1"/>
<use href="#cL" x="305.9" y="99.9"/>
<use href="#cR" x="310.5" y="88.0"/>
<use href="#cL" x="305.4" y="107.5"/>
<use href="#cL" x="313.1" y="96.7"/>
<use href="#sL" x="300.0" y="91.0"/>
<use href="#dS" x="300.2" y="67.7"/>
<use href="#dR" x="306.2" y="73.4"/>
<use href="#dS" x="311.2" y="70.8"/>
<use href="#dR" x="299.0" y="73.6"/>
<polygon points="362.6,100.0 382.1,100.0 382.1,164.0 380.4,165.5 378.9,168.0 377.9,172.0 375.9,174.0 373.9,174.5 370.1,174.0 368.1,175.0 366.1,176.0 364.6,178.5 363.6,176.0 362.6,172.0" fill="#989898"/>
<line x1="365.7" y1="107.7" x2="365.7" y2="167.1" stroke="#b8b8b8" stroke-width="0.7" opacity="0.55"/>
<line x1="367.1" y1="108.1" x2="367.1" y2="171.6" stroke="#b8b8b8" stroke-width="0.7" opacity="0.55"/>
<line x1="370.5" y1="104.5" x2="370.5" y2="163.8" stroke="#c4c4c4" stroke-width="0.7" opacity="0.55"/>
<line x1="373.1" y1="103.4" x2="373.1" y2="170.3" stroke="#878787" stroke-width="0.7" opacity="0.55"/>
<line x1="375.2" y1="104.9" x2="375.2" y2="163.1" stroke="#878787" stroke-width="0.7" opacity="0.55"/>
<line x1="378.2" y1="102.9" x2="378.2" y2="165.9" stroke="#c4c4c4" stroke-width="0.7" opacity="0.55"/>
<line x1="380.5" y1="107.8" x2="380.5" y2="159.1" stroke="#b8b8b8" stroke-width="0.7" opacity="0.55"/>
<use href="#tD" x="380.3" y="147.4"/>
<use href="#tL" x="368.7" y="136.5"/>
<use href="#tL" x="376.1" y="157.6"/>
<use href="#tL" x="365.9" y="115.2"/>
<use href="#tL" x="380.4" y="108.4"/>
<use href="#tL" x="377.8" y="126.6"/>
<use href="#tL" x="367.9" y="120.0"/>
<use href="#tD" x="366.2" y="167.1"/>
<use href="#tL" x="369.2" y="113.6"/>
<use href="#tL" x="376.6" y="126.8"/>
<use href="#tL" x="366.9" y="132.8"/>
<use href="#tL" x="378.0" y="167.8"/>
<use href="#tL" x="373.7" y="100.8"/>
<use href="#tL" x="377.0" y="147.6"/>
<use href="#tL" x="369.3" y="166.6"/>
<use href="#tL" x="377.9" y="120.9"/>
<use href="#tL" x="370.0" y="129.4"/>
<use href="#tD" x="369.8" y="129.7"/>
<use href="#tD" x="365.5" y="117.8"/>
<use href="#tL" x="379.5" y="132.2"/>
<use href="#tL" x="374.7" y="169.7"/>
<use href="#tD" x="376.8" y="119.2"/>
<use href="#tD" x="379.7" y="163.1"/>
<use href="#tL" x="380.9" y="157.2"/>
<use href="#tL" x="376.8" y="163.8"/>
<use href="#tL" x="368.0" y="151.5"/>
<use href="#tL" x="370.3" y="165.9"/>
<use href="#tL" x="365.9" y="142.3"/>
<use href="#tD" x="369.5" y="164.4"/>
<use href="#tL" x="369.6" y="166.2"/>
<use href="#tD" x="366.0" y="173.7"/>
<use href="#tL" x="376.6" y="153.1"/>
<use href="#tL" x="375.0" y="103.8"/>
<use href="#tL" x="378.8" y="143.0"/>
<use href="#tD" x="371.6" y="126.6"/>
<use href="#tD" x="377.3" y="161.4"/>
<use href="#tL" x="378.8" y="116.8"/>
<use href="#tD" x="369.6" y="119.6"/>
<use href="#tL" x="365.4" y="125.7"/>
<use href="#tL" x="364.1" y="162.5"/>
<use href="#tL" x="367.6" y="105.5"/>
<use href="#tL" x="364.8" y="158.2"/>
<use href="#tL" x="367.1" y="136.3"/>
<use href="#tL" x="370.6" y="163.0"/>
<use href="#tL" x="380.3" y="124.3"/>
<use href="#tL" x="374.7" y="170.2"/>
<use href="#tL" x="371.8" y="170.6"/>
<use href="#tL" x="376.4" y="124.5"/>
<use href="#tD" x="378.9" y="145.0"/>
<use href="#tD" x="365.5" y="146.1"/>
<use href="#tD" x="378.1" y="140.7"/>
<use href="#tL" x="372.1" y="132.7"/>
<use href="#tL" x="379.0" y="152.2"/>
<use href="#tL" x="367.2" y="128.4"/>
<use href="#tL" x="375.8" y="109.8"/>
<use href="#tL" x="379.6" y="102.7"/>
<use href="#tL" x="373.9" y="133.9"/>
<use href="#tL" x="376.2" y="133.7"/>
<use href="#tD" x="365.2" y="141.1"/>
<use href="#tL" x="378.0" y="161.9"/>
<use href="#tD" x="369.8" y="117.5"/>
<use href="#tL" x="376.6" y="162.9"/>
<use href="#tL" x="367.4" y="169.3"/>
<use href="#tL" x="381.0" y="134.0"/>
<use href="#tL" x="370.3" y="155.7"/>
<use href="#tL" x="379.9" y="115.8"/>
<use href="#tL" x="368.9" y="125.8"/>
<use href="#tL" x="376.4" y="114.7"/>
<use href="#tL" x="373.2" y="139.3"/>
<use href="#tL" x="375.3" y="111.2"/>
<use href="#tL" x="373.4" y="162.4"/>
<use href="#tL" x="366.8" y="171.5"/>
<use href="#tL" x="373.2" y="159.6"/>
<use href="#tD" x="378.8" y="128.4"/>
<use href="#tD" x="379.8" y="116.3"/>
<use href="#tL" x="364.0" y="139.4"/>
<use href="#tL" x="380.3" y="140.1"/>
<use href="#tL" x="379.9" y="144.0"/>
<use href="#tL" x="366.1" y="149.5"/>
<use href="#tL" x="377.7" y="133.3"/>
<use href="#tD" x="374.1" y="120.3"/>
<use href="#tD" x="368.4" y="133.0"/>
<use href="#tD" x="372.6" y="136.8"/>
<use href="#tL" x="365.2" y="100.4"/>
<use href="#tL" x="369.6" y="156.3"/>
<use href="#tD" x="376.7" y="118.6"/>
<use href="#tD" x="368.1" y="140.6"/>
<use href="#tD" x="366.7" y="147.3"/>
<use href="#tL" x="379.4" y="115.9"/>
<use href="#tL" x="373.8" y="156.6"/>
<use href="#tD" x="376.7" y="155.9"/>
<use href="#tD" x="376.0" y="121.4"/>
<use href="#tL" x="364.5" y="174.1"/>
<use href="#tL" x="371.3" y="106.8"/>
<use href="#tL" x="364.8" y="162.6"/>
<use href="#tL" x="375.5" y="111.2"/>
<use href="#tD" x="371.6" y="150.1"/>
<use href="#tD" x="381.1" y="126.4"/>
<use href="#tL" x="377.0" y="119.2"/>
<use href="#tD" x="367.1" y="112.7"/>
<use href="#tL" x="370.8" y="148.5"/>
<use href="#tD" x="368.9" y="112.7"/>
<use href="#tL" x="367.4" y="106.7"/>
<use href="#tL" x="367.0" y="124.8"/>
<use href="#tD" x="372.4" y="114.4"/>
<use href="#tD" x="372.0" y="134.5"/>
<use href="#tL" x="380.6" y="138.2"/>
<use href="#tL" x="380.1" y="137.0"/>
<use href="#tL" x="367.1" y="146.5"/>
<use href="#tD" x="366.1" y="113.3"/>
<use href="#tL" x="364.9" y="155.1"/>
<use href="#tL" x="380.5" y="131.7"/>
<use href="#tD" x="369.8" y="133.4"/>
<use href="#tD" x="369.8" y="154.2"/>
<use href="#tL" x="370.5" y="112.0"/>
<use href="#tD" x="378.7" y="144.9"/>
<use href="#tD" x="363.7" y="166.7"/>
<use href="#tD" x="376.3" y="127.8"/>
<use href="#tL" x="374.6" y="172.2"/>
<use href="#tL" x="370.6" y="134.0"/>
<use href="#tL" x="368.8" y="143.5"/>
<use href="#tD" x="375.2" y="157.7"/>
<use href="#tD" x="380.2" y="111.4"/>
<use href="#tL" x="370.0" y="166.8"/>
<use href="#tD" x="377.4" y="146.3"/>
<use href="#tL" x="375.5" y="126.7"/>
<use href="#tD" x="380.1" y="143.1"/>
<use href="#tD" x="370.6" y="114.3"/>
<use href="#tL" x="365.6" y="170.5"/>
<use href="#tL" x="377.6" y="102.1"/>
<use href="#tL" x="369.3" y="137.7"/>
<use href="#tD" x="372.3" y="128.5"/>
<use href="#tD" x="379.3" y="127.5"/>
<use href="#tL" x="372.9" y="173.0"/>
<use href="#tL" x="374.8" y="137.4"/>
<use href="#tL" x="369.4" y="130.4"/>
<use href="#tL" x="374.3" y="161.7"/>
<use href="#tL" x="368.2" y="129.1"/>
<use href="#tL" x="370.4" y="128.5"/>
<use href="#tD" x="379.6" y="142.3"/>
<use href="#tD" x="368.4" y="126.1"/>
<use href="#tL" x="378.0" y="112.6"/>
<use href="#cL" x="380.2" y="154.0"/>
<use href="#sL" x="369.5" y="159.5"/>
<use href="#cL" x="368.6" y="148.0"/>
<use href="#sL" x="366.9" y="167.3"/>
<use href="#cL" x="372.2" y="121.6"/>
<use href="#cL" x="379.1" y="106.5"/>
<use href="#sO" x="379.2" y="159.4"/>
<use href="#sO" x="366.8" y="159.7"/>
<use href="#cO" x="373.5" y="171.2"/>
<use href="#sL" x="373.7" y="133.5"/>
<use href="#sO" x="379.2" y="106.9"/>
<use href="#cO" x="376.8" y="108.1"/>
<use href="#sL" x="368.8" y="108.9"/>
<use href="#cL" x="378.3" y="134.7"/>
<use href="#cO" x="375.9" y="120.1"/>
<use href="#sL" x="376.0" y="150.9"/>
<use href="#sO" x="366.0" y="138.8"/>
<use href="#cL" x="375.9" y="116.8"/>
<use href="#cL" x="374.8" y="121.8"/>
<use href="#sO" x="370.3" y="172.2"/>
<use href="#sO" x="363.8" y="100.2"/>
<use href="#sO" x="380.1" y="99.7"/>
<use href="#cO" x="381.5" y="100.2"/>
<use href="#cO" x="377.9" y="99.6"/>
<use href="#cO" x="365.8" y="100.5"/>
<use href="#sO" x="367.0" y="100.7"/>
<use href="#sO" x="371.8" y="174.2"/>
<polygon points="364.2,86.0 366.7,84.0 369.7,86.0 372.3,87.0 376.3,89.0 380.5,90.0 380.5,104.0 375.3,106.0 371.3,112.0 368.7,106.0 364.2,104.0" fill="#4a4a4a"/>
<use href="#tD" x="378.0" y="96.4"/>
<use href="#tM" x="377.2" y="103.1"/>
<use href="#tM" x="376.2" y="90.5"/>
<use href="#tD" x="371.8" y="107.0"/>
<use href="#tD" x="367.0" y="103.1"/>
<use href="#tM" x="373.2" y="95.3"/>
<use href="#tM" x="367.1" y="87.8"/>
<use href="#tM" x="371.9" y="97.8"/>
<use href="#tM" x="368.7" y="94.3"/>
<use href="#tD" x="373.2" y="105.3"/>
<use href="#tM" x="373.8" y="88.5"/>
<use href="#dO" x="376.9" y="92.9"/>
<use href="#dK" x="371.7" y="110.8"/>
<use href="#dR" x="371.6" y="94.3"/>
<use href="#dR" x="375.6" y="97.5"/>
<use href="#dR" x="380.0" y="102.6"/>
<use href="#dO" x="366.9" y="89.3"/>
<use href="#dR" x="367.2" y="92.2"/>
<use href="#dR" x="375.9" y="103.9"/>
<use href="#dK" x="373.8" y="95.8"/>
<use href="#dR" x="367.5" y="86.0"/>
<use href="#dK" x="372.6" y="102.6"/>
<use href="#dK" x="376.6" y="90.6"/>
<use href="#dO" x="365.8" y="92.0"/>
<use href="#dR" x="365.7" y="89.4"/>
<use href="#dO" x="373.7" y="102.7"/>
<use href="#dO" x="365.5" y="91.9"/>
<use href="#dO" x="379.0" y="103.4"/>
<use href="#dR" x="372.6" y="93.8"/>
<use href="#dO" x="375.9" y="98.9"/>
<use href="#dO" x="367.0" y="100.0"/>
<use href="#dO" x="367.7" y="89.9"/>
<use href="#dO" x="366.0" y="100.4"/>
<use href="#dK" x="375.3" y="94.8"/>
<use href="#dR" x="374.0" y="103.5"/>
<use href="#dO" x="371.1" y="107.2"/>
<use href="#dO" x="378.9" y="98.4"/>
<use href="#dO" x="371.1" y="108.4"/>
<use href="#dR" x="364.9" y="96.0"/>
<use href="#dO" x="372.9" y="94.8"/>
<use href="#dO" x="370.2" y="94.2"/>
<use href="#dK" x="370.2" y="99.2"/>
<use href="#dR" x="366.7" y="88.2"/>
<use href="#dR" x="366.1" y="92.7"/>
<use href="#dO" x="372.3" y="97.0"/>
<use href="#dK" x="376.5" y="104.4"/>
<use href="#dO" x="367.9" y="87.9"/>
<use href="#dO" x="379.0" y="94.0"/>
<use href="#dR" x="373.8" y="96.0"/>
<use href="#dO" x="368.0" y="85.1"/>
<use href="#dR" x="368.3" y="105.7"/>
<use href="#dR" x="376.6" y="93.5"/>
<use href="#dO" x="371.5" y="103.2"/>
<use href="#dO" x="366.9" y="96.1"/>
<use href="#dR" x="372.6" y="110.0"/>
<use href="#dK" x="373.8" y="97.9"/>
<use href="#dR" x="377.2" y="92.0"/>
<use href="#dK" x="372.7" y="104.9"/>
<use href="#dR" x="367.2" y="95.3"/>
<use href="#dO" x="367.8" y="89.9"/>
<use href="#dR" x="368.3" y="96.7"/>
<use href="#dK" x="368.0" y="97.1"/>
<use href="#dR" x="375.7" y="102.5"/>
<use href="#dO" x="365.7" y="95.4"/>
<use href="#dR" x="373.0" y="92.1"/>
<use href="#dO" x="370.1" y="90.9"/>
<use href="#dK" x="375.0" y="93.2"/>
<use href="#dO" x="364.6" y="95.7"/>
<use href="#dO" x="365.4" y="85.6"/>
<use href="#dR" x="367.2" y="91.4"/>
<use href="#dR" x="374.5" y="94.7"/>
<use href="#dO" x="375.4" y="91.1"/>
<use href="#dO" x="373.4" y="96.5"/>
<use href="#dK" x="365.1" y="100.5"/>
<use href="#dK" x="365.1" y="96.2"/>
<use href="#dR" x="377.4" y="90.7"/>
<use href="#dR" x="368.5" y="88.8"/>
<use href="#dR" x="377.9" y="95.4"/>
<use href="#dR" x="371.3" y="89.0"/>
<use href="#dR" x="366.2" y="99.2"/>
<use href="#dR" x="371.2" y="90.6"/>
<use href="#dR" x="379.2" y="102.5"/>
<use href="#dO" x="368.4" y="87.3"/>
<use href="#dO" x="367.7" y="88.3"/>
<use href="#dO" x="369.1" y="100.5"/>
<use href="#dO" x="378.1" y="105.0"/>
<use href="#dO" x="371.4" y="110.7"/>
<use href="#dR" x="372.9" y="92.7"/>
<use href="#dO" x="367.4" y="104.4"/>
<use href="#dR" x="366.1" y="93.9"/>
<use href="#dO" x="374.3" y="102.5"/>
<use href="#dR" x="366.1" y="84.6"/>
<use href="#dK" x="371.2" y="100.7"/>
<use href="#dR" x="364.7" y="92.2"/>
<use href="#dR" x="366.0" y="101.6"/>
<use href="#dK" x="371.4" y="94.5"/>
<use href="#dR" x="372.0" y="103.7"/>
<use href="#dO" x="378.6" y="99.2"/>
<use href="#dR" x="373.1" y="92.2"/>
<use href="#dR" x="368.3" y="93.0"/>
<use href="#dR" x="375.4" y="104.4"/>
<use href="#dR" x="378.4" y="103.9"/>
<use href="#dO" x="370.0" y="102.3"/>
<use href="#dK" x="371.2" y="104.6"/>
<use href="#dR" x="368.3" y="94.3"/>
<use href="#dR" x="364.3" y="99.4"/>
<use href="#dR" x="369.7" y="95.5"/>
<use href="#dO" x="371.3" y="101.0"/>
<use href="#dR" x="369.1" y="106.3"/>
<use href="#dK" x="369.7" y="97.2"/>
<use href="#dK" x="376.0" y="104.6"/>
<use href="#dO" x="367.1" y="86.9"/>
<use href="#dK" x="364.7" y="87.7"/>
<use href="#dO" x="369.7" y="95.8"/>
<use href="#dR" x="380.0" y="92.1"/>
<use href="#dO" x="366.6" y="88.3"/>
<use href="#dO" x="374.7" y="104.0"/>
<use href="#dR" x="375.3" y="90.9"/>
<use href="#dR" x="364.6" y="88.8"/>
<use href="#dK" x="364.9" y="95.9"/>
<use href="#dK" x="372.5" y="87.1"/>
<use href="#dO" x="368.5" y="98.3"/>
<use href="#cR" x="370.1" y="93.4"/>
<use href="#cL" x="374.2" y="99.8"/>
<use href="#cR" x="368.9" y="86.4"/>
<use href="#cR" x="379.6" y="94.3"/>
<use href="#cR" x="366.2" y="102.4"/>
<use href="#cL" x="372.9" y="93.2"/>
<use href="#cR" x="369.6" y="107.7"/>
<use href="#sL" x="369.8" y="95.7"/>
<use href="#cR" x="379.6" y="94.1"/>
<use href="#sL" x="370.8" y="88.5"/>
<use href="#cR" x="374.9" y="102.6"/>
<use href="#cL" x="371.5" y="95.4"/>
<use href="#sL" x="371.7" y="107.3"/>
<use href="#sL" x="370.4" y="104.5"/>
<use href="#sL" x="364.9" y="90.2"/>
<use href="#cR" x="379.7" y="103.1"/>
<use href="#cL" x="375.1" y="97.9"/>
<use href="#cL" x="371.9" y="89.5"/>
<use href="#cR" x="367.2" y="102.1"/>
<use href="#cL" x="375.4" y="91.2"/>
<use href="#cL" x="374.1" y="88.8"/>
<use href="#cR" x="372.5" y="92.8"/>
<use href="#cR" x="373.2" y="87.8"/>
<use href="#cL" x="372.1" y="101.3"/>
<use href="#cR" x="366.5" y="92.6"/>
<use href="#dS" x="365.5" y="69.6"/>
<use href="#dR" x="366.8" y="75.7"/>
<use href="#dS" x="369.4" y="81.6"/>
<use href="#dR" x="374.4" y="82.5"/>
<use href="#dS" x="370.9" y="84.5"/>
<use href="#dR" x="377.9" y="86.4"/>
<polygon points="429.1,100.0 448.6,100.0 448.6,180.0 447.4,184.0 445.9,184.8 444.4,182.0 442.9,178.0 441.4,174.0 438.1,175.0 436.6,174.0 435.1,170.0 433.1,168.7 431.1,167.0 429.1,164.0" fill="#989898"/>
<line x1="432.2" y1="106.3" x2="432.2" y2="156.9" stroke="#b8b8b8" stroke-width="0.7" opacity="0.55"/>
<line x1="433.7" y1="107.1" x2="433.7" y2="161.0" stroke="#b8b8b8" stroke-width="0.7" opacity="0.55"/>
<line x1="436.1" y1="102.5" x2="436.1" y2="169.8" stroke="#c4c4c4" stroke-width="0.7" opacity="0.55"/>
<line x1="439.4" y1="102.4" x2="439.4" y2="165.5" stroke="#c4c4c4" stroke-width="0.7" opacity="0.55"/>
<line x1="440.7" y1="109.4" x2="440.7" y2="162.9" stroke="#b8b8b8" stroke-width="0.7" opacity="0.55"/>
<line x1="444.7" y1="105.5" x2="444.7" y2="172.5" stroke="#878787" stroke-width="0.7" opacity="0.55"/>
<line x1="446.0" y1="102.0" x2="446.0" y2="181.4" stroke="#878787" stroke-width="0.7" opacity="0.55"/>
<use href="#tD" x="434.1" y="107.8"/>
<use href="#tL" x="446.3" y="146.8"/>
<use href="#tL" x="440.8" y="173.1"/>
<use href="#tL" x="432.6" y="159.3"/>
<use href="#tL" x="438.2" y="166.7"/>
<use href="#tD" x="438.1" y="116.7"/>
<use href="#tL" x="446.8" y="123.8"/>
<use href="#tD" x="443.1" y="170.5"/>
<use href="#tL" x="434.4" y="158.9"/>
<use href="#tL" x="437.0" y="119.0"/>
<use href="#tL" x="436.5" y="143.2"/>
<use href="#tL" x="438.9" y="102.3"/>
<use href="#tD" x="443.3" y="163.2"/>
<use href="#tD" x="445.4" y="130.3"/>
<use href="#tL" x="433.8" y="129.5"/>
<use href="#tD" x="442.9" y="155.8"/>
<use href="#tD" x="437.2" y="144.5"/>
<use href="#tL" x="438.4" y="143.0"/>
<use href="#tL" x="443.9" y="116.8"/>
<use href="#tL" x="442.7" y="130.0"/>
<use href="#tL" x="444.3" y="108.0"/>
<use href="#tL" x="434.9" y="153.9"/>
<use href="#tL" x="438.5" y="132.0"/>
<use href="#tL" x="440.2" y="118.5"/>
<use href="#tD" x="437.8" y="100.2"/>
<use href="#tL" x="444.1" y="121.5"/>
<use href="#tL" x="444.6" y="146.8"/>
<use href="#tD" x="440.6" y="153.1"/>
<use href="#tD" x="432.3" y="165.9"/>
<use href="#tL" x="443.9" y="157.5"/>
<use href="#tL" x="444.4" y="137.0"/>
<use href="#tL" x="433.4" y="108.5"/>
<use href="#tL" x="437.3" y="143.2"/>
<use href="#tD" x="432.7" y="118.8"/>
<use href="#tD" x="445.3" y="132.9"/>
<use href="#tL" x="432.7" y="115.5"/>
<use href="#tL" x="440.2" y="116.1"/>
<use href="#tL" x="438.4" y="145.6"/>
<use href="#tL" x="437.8" y="142.7"/>
<use href="#tD" x="444.7" y="101.4"/>
<use href="#tL" x="446.4" y="116.9"/>
<use href="#tL" x="440.1" y="145.6"/>
<use href="#tD" x="433.9" y="166.2"/>
<use href="#tD" x="435.5" y="161.6"/>
<use href="#tL" x="434.1" y="148.6"/>
<use href="#tL" x="441.4" y="131.5"/>
<use href="#tL" x="438.5" y="105.5"/>
<use href="#tL" x="441.4" y="158.6"/>
<use href="#tL" x="432.8" y="146.7"/>
<use href="#tL" x="442.9" y="108.6"/>
<use href="#tL" x="444.8" y="173.8"/>
<use href="#tL" x="431.0" y="121.1"/>
<use href="#tL" x="431.6" y="121.4"/>
<use href="#tL" x="431.6" y="141.5"/>
<use href="#tL" x="434.5" y="125.5"/>
<use href="#tL" x="438.2" y="131.5"/>
<use href="#tL" x="443.9" y="161.3"/>
<use href="#tL" x="432.1" y="118.9"/>
<use href="#tL" x="430.2" y="127.9"/>
<use href="#tD" x="432.0" y="159.1"/>
<use href="#tL" x="433.8" y="103.1"/>
<use href="#tL" x="443.3" y="134.9"/>
<use href="#tL" x="446.4" y="133.3"/>
<use href="#tL" x="435.6" y="106.2"/>
<use href="#tL" x="446.7" y="143.4"/>
<use href="#tL" x="437.8" y="137.1"/>
<use href="#tL" x="443.6" y="170.5"/>
<use href="#tL" x="438.4" y="115.1"/>
<use href="#tD" x="437.2" y="156.0"/>
<use href="#tL" x="439.9" y="139.1"/>
<use href="#tL" x="440.2" y="120.8"/>
<use href="#tD" x="439.9" y="173.3"/>
<use href="#tL" x="431.5" y="131.3"/>
<use href="#tD" x="445.5" y="183.0"/>
<use href="#tD" x="430.3" y="153.2"/>
<use href="#tD" x="441.2" y="171.5"/>
<use href="#tL" x="438.3" y="111.1"/>
<use href="#tL" x="435.4" y="160.4"/>
<use href="#tL" x="442.8" y="117.3"/>
<use href="#tL" x="441.3" y="155.7"/>
<use href="#tL" x="441.6" y="101.9"/>
<use href="#tL" x="437.8" y="127.6"/>
<use href="#tL" x="440.6" y="128.6"/>
<use href="#tD" x="432.3" y="156.8"/>
<use href="#tL" x="435.1" y="167.0"/>
<use href="#tL" x="435.5" y="146.3"/>
<use href="#tD" x="444.2" y="109.8"/>
<use href="#tL" x="442.9" y="105.8"/>
<use href="#tD" x="446.5" y="102.1"/>
<use href="#tD" x="442.8" y="131.3"/>
<use href="#tD" x="433.2" y="133.5"/>
<use href="#tD" x="438.9" y="135.2"/>
<use href="#tL" x="432.2" y="144.3"/>
<use href="#tD" x="436.8" y="136.9"/>
<use href="#tL" x="435.7" y="154.8"/>
<use href="#tL" x="444.7" y="133.3"/>
<use href="#tL" x="443.3" y="123.6"/>
<use href="#tD" x="432.0" y="103.6"/>
<use href="#tL" x="438.0" y="174.1"/>
<use href="#tL" x="433.7" y="137.4"/>
<use href="#tL" x="443.4" y="123.4"/>
<use href="#tL" x="432.8" y="144.0"/>
<use href="#tL" x="445.8" y="120.2"/>
<use href="#tL" x="439.9" y="135.3"/>
<use href="#tL" x="430.7" y="137.7"/>
<use href="#tD" x="446.1" y="125.7"/>
<use href="#tD" x="440.4" y="160.2"/>
<use href="#tD" x="432.0" y="125.6"/>
<use href="#tD" x="442.6" y="101.6"/>
<use href="#tL" x="436.7" y="110.7"/>
<use href="#tD" x="438.4" y="101.3"/>
<use href="#tL" x="432.7" y="118.9"/>
<use href="#tL" x="431.5" y="107.7"/>
<use href="#tL" x="433.5" y="143.9"/>
<use href="#tD" x="437.4" y="121.4"/>
<use href="#tD" x="430.9" y="162.9"/>
<use href="#tL" x="437.2" y="150.7"/>
<use href="#tL" x="445.2" y="108.5"/>
<use href="#tD" x="431.2" y="158.8"/>
<use href="#tL" x="440.4" y="161.1"/>
<use href="#tD" x="435.0" y="142.1"/>
<use href="#tL" x="433.4" y="137.1"/>
<use href="#tL" x="435.0" y="149.7"/>
<use href="#tL" x="435.3" y="123.3"/>
<use href="#tL" x="441.3" y="107.3"/>
<use href="#tD" x="444.1" y="142.0"/>
<use href="#tD" x="434.1" y="109.7"/>
<use href="#tD" x="439.0" y="142.7"/>
<use href="#tL" x="442.7" y="131.7"/>
<use href="#tD" x="445.7" y="184.0"/>
<use href="#tL" x="446.6" y="121.8"/>
<use href="#tL" x="444.4" y="151.9"/>
<use href="#tD" x="441.4" y="168.7"/>
<use href="#tL" x="439.9" y="106.7"/>
<use href="#tL" x="445.2" y="114.9"/>
<use href="#tL" x="434.6" y="152.3"/>
<use href="#tL" x="433.5" y="139.2"/>
<use href="#tD" x="442.6" y="108.1"/>
<use href="#tL" x="441.7" y="108.9"/>
<use href="#tL" x="438.4" y="155.1"/>
<use href="#tD" x="442.1" y="103.7"/>
<use href="#tD" x="436.9" y="136.0"/>
<use href="#tL" x="436.7" y="159.0"/>
<use href="#tL" x="443.1" y="155.1"/>
<use href="#tL" x="437.1" y="148.3"/>
<use href="#sO" x="442.7" y="157.5"/>
<use href="#cL" x="442.1" y="117.8"/>
<use href="#sO" x="434.2" y="156.6"/>
<use href="#cL" x="433.9" y="128.3"/>
<use href="#sO" x="442.5" y="140.9"/>
<use href="#cL" x="443.8" y="104.9"/>
<use href="#cL" x="438.0" y="105.7"/>
<use href="#sO" x="442.7" y="142.8"/>
<use href="#sO" x="432.3" y="119.7"/>
<use href="#cL" x="433.1" y="104.2"/>
<use href="#sL" x="437.4" y="128.8"/>
<use href="#sO" x="440.9" y="135.3"/>
<use href="#cL" x="431.0" y="103.2"/>
<use href="#sL" x="443.4" y="136.6"/>
<use href="#sO" x="444.5" y="172.8"/>
<use href="#cL" x="438.7" y="141.8"/>
<use href="#cO" x="436.8" y="108.4"/>
<use href="#sL" x="436.9" y="126.8"/>
<use href="#cL" x="446.1" y="153.3"/>
<use href="#cL" x="438.8" y="144.7"/>
<use href="#sO" x="430.8" y="100.1"/>
<use href="#cL" x="447.9" y="100.1"/>
<use href="#sO" x="448.3" y="100.6"/>
<use href="#cO" x="441.7" y="100.0"/>
<use href="#sO" x="441.8" y="100.7"/>
<use href="#sO" x="429.7" y="100.3"/>
<use href="#cO" x="444.0" y="182.9"/>
<use href="#cO" x="443.6" y="179.3"/>
<use href="#sO" x="442.0" y="174.4"/>
<use href="#sO" x="438.3" y="174.8"/>
<use href="#sO" x="435.5" y="172.4"/>
<use href="#sO" x="430.1" y="163.7"/>
<polygon points="430.7,96.0 433.7,95.0 436.7,92.0 438.3,88.0 441.3,84.0 444.3,80.0 447.0,78.0 447.0,106.0 430.7,104.0" fill="#6a6a6a"/>
<use href="#tD" x="445.8" y="82.6"/>
<use href="#tD" x="444.3" y="89.1"/>
<use href="#tM" x="439.6" y="104.0"/>
<use href="#tM" x="435.7" y="97.6"/>
<use href="#tD" x="443.6" y="92.2"/>
<use href="#tD" x="433.2" y="101.0"/>
<use href="#tM" x="444.0" y="84.1"/>
<use href="#tM" x="445.8" y="100.7"/>
<use href="#tD" x="444.7" y="101.1"/>
<use href="#dO" x="444.7" y="93.9"/>
<use href="#dO" x="444.9" y="102.9"/>
<use href="#dR" x="434.5" y="97.5"/>
<use href="#dK" x="443.5" y="99.5"/>
<use href="#dO" x="435.2" y="99.6"/>
<use href="#dR" x="438.3" y="100.8"/>
<use href="#dO" x="436.3" y="102.6"/>
<use href="#dO" x="434.6" y="96.6"/>
<use href="#dK" x="445.1" y="89.5"/>
<use href="#dK" x="443.7" y="98.0"/>
<use href="#dR" x="443.6" y="92.9"/>
<use href="#dR" x="435.2" y="98.7"/>
<use href="#dR" x="435.2" y="102.2"/>
<use href="#dO" x="441.2" y="91.5"/>
<use href="#dR" x="436.8" y="103.8"/>
<use href="#dK" x="446.2" y="90.6"/>
<use href="#dR" x="440.0" y="102.2"/>
<use href="#dR" x="443.3" y="82.4"/>
<use href="#dR" x="438.5" y="88.7"/>
<use href="#dK" x="444.5" y="103.0"/>
<use href="#dK" x="441.1" y="98.7"/>
<use href="#dK" x="445.9" y="96.5"/>
<use href="#dO" x="438.3" y="103.5"/>
<use href="#dR" x="445.6" y="103.9"/>
<use href="#dO" x="432.8" y="103.8"/>
<use href="#dR" x="441.2" y="102.4"/>
<use href="#dO" x="430.9" y="101.7"/>
<use href="#dR" x="444.2" y="88.5"/>
<use href="#dO" x="444.3" y="84.0"/>
<use href="#dK" x="443.1" y="91.1"/>
<use href="#dO" x="443.9" y="98.5"/>
<use href="#dR" x="437.4" y="94.1"/>
<use href="#dO" x="445.4" y="104.5"/>
<use href="#dR" x="441.1" y="88.2"/>
<use href="#dR" x="439.2" y="94.3"/>
<use href="#dO" x="446.2" y="94.5"/>
<use href="#dR" x="439.6" y="89.9"/>
<use href="#dO" x="438.7" y="90.5"/>
<use href="#dO" x="446.9" y="93.8"/>
<use href="#dR" x="443.6" y="102.9"/>
<use href="#dO" x="434.4" y="99.8"/>
<use href="#dR" x="437.9" y="93.1"/>
<use href="#dR" x="431.6" y="96.7"/>
<use href="#dO" x="442.0" y="88.6"/>
<use href="#dK" x="445.8" y="101.0"/>
<use href="#dK" x="439.7" y="96.3"/>
<use href="#dR" x="442.8" y="95.5"/>
<use href="#dR" x="433.5" y="100.8"/>
<use href="#dO" x="438.1" y="98.0"/>
<use href="#dK" x="436.3" y="100.6"/>
<use href="#dO" x="440.5" y="96.3"/>
<use href="#dR" x="437.1" y="93.7"/>
<use href="#dK" x="441.7" y="92.9"/>
<use href="#dO" x="437.9" y="102.3"/>
<use href="#dR" x="443.6" y="98.1"/>
<use href="#dO" x="442.3" y="86.4"/>
<use href="#dO" x="442.6" y="87.8"/>
<use href="#dO" x="443.2" y="94.0"/>
<use href="#dO" x="444.1" y="105.6"/>
<use href="#dR" x="430.7" y="102.6"/>
<use href="#dO" x="437.0" y="99.6"/>
<use href="#dK" x="443.6" y="93.4"/>
<use href="#dO" x="443.1" y="91.7"/>
<use href="#dR" x="431.1" y="99.6"/>
<use href="#dR" x="441.6" y="99.4"/>
<use href="#dK" x="441.1" y="90.4"/>
<use href="#dR" x="442.7" y="96.7"/>
<use href="#dR" x="440.5" y="98.4"/>
<use href="#dR" x="436.3" y="98.4"/>
<use href="#dR" x="443.0" y="82.1"/>
<use href="#dO" x="445.3" y="104.3"/>
<use href="#dR" x="435.2" y="99.0"/>
<use href="#dR" x="442.1" y="93.7"/>
<use href="#dO" x="444.5" y="86.7"/>
<use href="#dR" x="430.7" y="103.2"/>
<use href="#dR" x="434.7" y="94.2"/>
<use href="#dO" x="439.3" y="99.7"/>
<use href="#dR" x="442.6" y="87.6"/>
<use href="#dR" x="445.8" y="100.2"/>
<use href="#dO" x="439.9" y="91.3"/>
<use href="#dO" x="445.3" y="95.0"/>
<use href="#dO" x="432.1" y="103.9"/>
<use href="#dR" x="442.2" y="84.7"/>
<use href="#dO" x="439.4" y="101.4"/>
<use href="#dO" x="441.0" y="89.9"/>
<use href="#dR" x="446.9" y="83.3"/>
<use href="#dK" x="433.4" y="100.3"/>
<use href="#dK" x="444.9" y="81.5"/>
<use href="#dR" x="434.1" y="99.4"/>
<use href="#dO" x="438.4" y="104.1"/>
<use href="#dR" x="446.5" y="87.6"/>
<use href="#dR" x="446.6" y="102.9"/>
<use href="#dK" x="446.2" y="81.3"/>
<use href="#dO" x="444.7" y="99.7"/>
<use href="#cL" x="432.5" y="101.8"/>
<use href="#cL" x="438.5" y="102.3"/>
<use href="#cR" x="441.3" y="102.5"/>
<use href="#cR" x="442.8" y="95.7"/>
<use href="#cL" x="433.2" y="97.1"/>
<use href="#sL" x="438.3" y="91.2"/>
<use href="#sL" x="445.3" y="98.5"/>
<use href="#cL" x="442.8" y="87.4"/>
<use href="#cR" x="439.2" y="104.4"/>
<use href="#cR" x="440.1" y="89.8"/>
<use href="#cR" x="440.6" y="90.3"/>
<use href="#cL" x="431.7" y="97.9"/>
<use href="#cR" x="444.7" y="96.9"/>
<use href="#cL" x="445.4" y="103.4"/>
<use href="#sL" x="434.6" y="96.7"/>
<use href="#sL" x="438.0" y="101.1"/>
<use href="#cL" x="444.8" y="103.3"/>
<use href="#cR" x="433.9" y="100.6"/>
<use href="#sL" x="443.5" y="88.2"/>
<use href="#cL" x="436.5" y="100.9"/>
<use href="#sL" x="442.1" y="100.0"/>
<use href="#cR" x="445.4" y="105.1"/>
<use href="#cL" x="442.4" y="90.5"/>
<use href="#cR" x="440.1" y="100.1"/>
<use href="#cR" x="445.8" y="99.4"/>
<use href="#dS" x="446.0" y="77.6"/>
<use href="#dR" x="444.8" y="82.5"/>
<use href="#dS" x="442.4" y="85.4"/>
<use href="#dR" x="445.7" y="88.5"/>
<use href="#dS" x="439.6" y="89.0"/>
<polygon points="495.5,97.0 498.1,94.0 501.1,93.0 505.9,95.0 508.9,92.0 511.9,95.0 514.5,97.0 514.5,168.0 512.9,170.0 510.9,173.0 509.4,175.0 507.9,174.0 506.4,172.0 503.1,169.5 501.1,169.5 499.6,172.0 498.6,179.0 497.6,181.5 496.6,180.0 495.5,176.0" fill="#989898"/>
<line x1="498.9" y1="99.6" x2="498.9" y2="171.3" stroke="#b8b8b8" stroke-width="0.7" opacity="0.55"/>
<line x1="499.7" y1="97.9" x2="499.7" y2="163.3" stroke="#c4c4c4" stroke-width="0.7" opacity="0.55"/>
<line x1="502.2" y1="102.8" x2="502.2" y2="160.2" stroke="#878787" stroke-width="0.7" opacity="0.55"/>
<line x1="505.6" y1="98.2" x2="505.6" y2="166.4" stroke="#878787" stroke-width="0.7" opacity="0.55"/>
<line x1="506.6" y1="101.4" x2="506.6" y2="164.1" stroke="#878787" stroke-width="0.7" opacity="0.55"/>
<line x1="508.7" y1="96.2" x2="508.7" y2="169.2" stroke="#878787" stroke-width="0.7" opacity="0.55"/>
<line x1="512.6" y1="100.4" x2="512.6" y2="159.5" stroke="#878787" stroke-width="0.7" opacity="0.55"/>
<use href="#tD" x="499.1" y="124.7"/>
<use href="#tD" x="497.3" y="166.0"/>
<use href="#tL" x="507.5" y="107.8"/>
<use href="#tD" x="512.1" y="121.9"/>
<use href="#tL" x="510.5" y="103.5"/>
<use href="#tD" x="510.4" y="137.9"/>
<use href="#tL" x="506.7" y="104.3"/>
<use href="#tD" x="509.6" y="115.7"/>
<use href="#tL" x="508.0" y="158.9"/>
<use href="#tL" x="499.7" y="178.1"/>
<use href="#tD" x="498.1" y="101.8"/>
<use href="#tD" x="501.5" y="136.7"/>
<use href="#tD" x="510.5" y="162.5"/>
<use href="#tL" x="508.0" y="154.4"/>
<use href="#tL" x="497.4" y="158.7"/>
<use href="#tL" x="506.1" y="150.9"/>
<use href="#tD" x="506.2" y="94.0"/>
<use href="#tD" x="506.1" y="169.5"/>
<use href="#tD" x="497.8" y="148.3"/>
<use href="#tL" x="511.2" y="109.2"/>
<use href="#tL" x="504.8" y="140.7"/>
<use href="#tL" x="510.2" y="132.7"/>
<use href="#tL" x="510.9" y="119.3"/>
<use href="#tL" x="513.3" y="160.6"/>
<use href="#tL" x="503.3" y="161.8"/>
<use href="#tL" x="509.8" y="141.5"/>
<use href="#tD" x="508.6" y="158.8"/>
<use href="#tL" x="512.7" y="168.3"/>
<use href="#tL" x="506.8" y="155.6"/>
<use href="#tL" x="502.0" y="116.5"/>
<use href="#tL" x="506.9" y="113.0"/>
<use href="#tD" x="509.7" y="99.6"/>
<use href="#tL" x="503.0" y="143.4"/>
<use href="#tD" x="507.6" y="122.4"/>
<use href="#tD" x="501.1" y="148.0"/>
<use href="#tL" x="505.3" y="118.4"/>
<use href="#tL" x="506.3" y="172.2"/>
<use href="#tL" x="505.9" y="94.7"/>
<use href="#tL" x="502.8" y="138.0"/>
<use href="#tD" x="498.8" y="177.1"/>
<use href="#tD" x="503.6" y="143.9"/>
<use href="#tD" x="499.3" y="125.3"/>
<use href="#tL" x="498.0" y="150.2"/>
<use href="#tD" x="497.5" y="108.4"/>
<use href="#tL" x="501.7" y="165.4"/>
<use href="#tL" x="505.1" y="106.1"/>
<use href="#tD" x="511.7" y="150.1"/>
<use href="#tL" x="505.7" y="118.4"/>
<use href="#tL" x="499.5" y="132.2"/>
<use href="#tL" x="504.1" y="108.1"/>
<use href="#tL" x="501.7" y="104.1"/>
<use href="#tL" x="502.0" y="113.5"/>
<use href="#tL" x="502.8" y="162.6"/>
<use href="#tL" x="505.5" y="146.2"/>
<use href="#tL" x="504.3" y="158.8"/>
<use href="#tD" x="498.1" y="159.2"/>
<use href="#tL" x="505.9" y="148.2"/>
<use href="#tL" x="511.3" y="142.8"/>
<use href="#tL" x="506.9" y="105.6"/>
<use href="#tL" x="502.1" y="169.3"/>
<use href="#tD" x="496.8" y="100.8"/>
<use href="#tD" x="499.6" y="175.9"/>
<use href="#tL" x="500.9" y="97.0"/>
<use href="#tL" x="509.2" y="116.5"/>
<use href="#tL" x="498.6" y="123.1"/>
<use href="#tL" x="504.3" y="150.4"/>
<use href="#tL" x="497.2" y="119.2"/>
<use href="#tL" x="508.6" y="101.1"/>
<use href="#tD" x="501.8" y="97.0"/>
<use href="#tL" x="508.6" y="139.5"/>
<use href="#tL" x="508.1" y="123.9"/>
<use href="#tL" x="505.9" y="144.9"/>
<use href="#tL" x="504.1" y="104.3"/>
<use href="#tL" x="497.7" y="169.7"/>
<use href="#tL" x="507.2" y="154.1"/>
<use href="#tL" x="507.7" y="130.5"/>
<use href="#tL" x="497.2" y="175.0"/>
<use href="#tD" x="499.6" y="173.8"/>
<use href="#tL" x="505.7" y="103.9"/>
<use href="#tL" x="500.7" y="152.9"/>
<use href="#tL" x="512.7" y="131.6"/>
<use href="#tL" x="507.1" y="166.2"/>
<use href="#tL" x="496.5" y="113.3"/>
<use href="#tD" x="500.3" y="156.7"/>
<use href="#tL" x="499.0" y="168.2"/>
<use href="#tD" x="511.1" y="159.9"/>
<use href="#tD" x="510.7" y="112.8"/>
<use href="#tL" x="501.9" y="142.0"/>
<use href="#tL" x="497.1" y="131.0"/>
<use href="#tD" x="498.6" y="147.8"/>
<use href="#tL" x="498.7" y="145.7"/>
<use href="#tL" x="507.7" y="121.7"/>
<use href="#tL" x="507.6" y="155.7"/>
<use href="#tD" x="513.0" y="155.1"/>
<use href="#tL" x="505.9" y="141.2"/>
<use href="#tD" x="496.7" y="134.8"/>
<use href="#tL" x="510.6" y="127.6"/>
<use href="#tL" x="506.1" y="94.5"/>
<use href="#tL" x="504.5" y="99.9"/>
<use href="#tD" x="503.3" y="112.8"/>
<use href="#tD" x="507.6" y="150.0"/>
<use href="#tL" x="504.1" y="140.2"/>
<use href="#tL" x="506.4" y="139.5"/>
<use href="#tL" x="505.7" y="135.5"/>
<use href="#tL" x="500.2" y="130.6"/>
<use href="#tD" x="503.5" y="137.6"/>
<use href="#tL" x="508.6" y="140.5"/>
<use href="#tD" x="512.1" y="151.6"/>
<use href="#tL" x="500.0" y="113.4"/>
<use href="#tL" x="500.6" y="122.5"/>
<use href="#tL" x="503.3" y="117.6"/>
<use href="#tL" x="496.8" y="129.5"/>
<use href="#tL" x="512.1" y="162.5"/>
<use href="#tD" x="503.1" y="157.1"/>
<use href="#tL" x="509.4" y="143.4"/>
<use href="#tD" x="507.2" y="107.2"/>
<use href="#tD" x="504.2" y="168.7"/>
<use href="#tL" x="503.3" y="100.7"/>
<use href="#tL" x="512.6" y="120.9"/>
<use href="#tL" x="507.3" y="137.4"/>
<use href="#tL" x="497.0" y="156.7"/>
<use href="#tD" x="500.4" y="125.0"/>
<use href="#tD" x="506.9" y="145.9"/>
<use href="#tD" x="502.1" y="144.1"/>
<use href="#tL" x="512.1" y="126.7"/>
<use href="#tL" x="511.5" y="121.6"/>
<use href="#tL" x="508.7" y="165.0"/>
<use href="#tD" x="498.9" y="162.8"/>
<use href="#tL" x="496.9" y="167.9"/>
<use href="#tD" x="511.1" y="133.3"/>
<use href="#tL" x="513.2" y="120.1"/>
<use href="#tL" x="500.2" y="136.9"/>
<use href="#tD" x="496.5" y="111.3"/>
<use href="#tD" x="503.5" y="115.1"/>
<use href="#tL" x="502.1" y="139.9"/>
<use href="#tL" x="497.8" y="139.7"/>
<use href="#tL" x="508.3" y="149.4"/>
<use href="#tL" x="497.7" y="141.7"/>
<use href="#tL" x="508.6" y="126.2"/>
<use href="#tL" x="509.4" y="123.0"/>
<use href="#tL" x="496.9" y="118.4"/>
<use href="#tL" x="497.5" y="141.4"/>
<use href="#tL" x="505.5" y="133.0"/>
<use href="#tL" x="506.6" y="122.3"/>
<use href="#tL" x="505.6" y="114.8"/>
<use href="#tD" x="498.2" y="177.7"/>
<use href="#tL" x="509.1" y="162.2"/>
<use href="#tD" x="510.9" y="132.2"/>
<use href="#tD" x="500.5" y="108.0"/>
<use href="#sO" x="504.5" y="128.1"/>
<use href="#sO" x="506.2" y="138.7"/>
<use href="#cO" x="511.8" y="103.3"/>
<use href="#cO" x="508.9" y="122.8"/>
<use href="#cO" x="502.3" y="110.7"/>
<use href="#cO" x="507.3" y="109.2"/>
<use href="#sL" x="511.7" y="110.1"/>
<use href="#sL" x="512.0" y="158.6"/>
<use href="#cL" x="510.3" y="97.2"/>
<use href="#sO" x="507.6" y="93.2"/>
<use href="#sL" x="512.3" y="166.8"/>
<use href="#cL" x="508.8" y="123.9"/>
<use href="#cO" x="507.1" y="147.7"/>
<use href="#cL" x="504.3" y="144.6"/>
<use href="#cO" x="499.7" y="166.6"/>
<use href="#sL" x="508.3" y="133.6"/>
<use href="#sO" x="506.1" y="160.6"/>
<use href="#cO" x="510.6" y="133.9"/>
<use href="#sL" x="497.6" y="161.0"/>
<use href="#cL" x="498.4" y="131.5"/>
<use href="#cO" x="509.4" y="138.9"/>
<use href="#cL" x="510.5" y="162.6"/>
<use href="#cO" x="504.7" y="166.9"/>
<use href="#sL" x="498.7" y="171.1"/>
<use href="#sO" x="501.4" y="126.9"/>
<use href="#sL" x="510.8" y="139.6"/>
<use href="#cL" x="503.4" y="111.8"/>
<use href="#cO" x="507.9" y="146.4"/>
<use href="#cL" x="507.9" y="138.5"/>
<use href="#cL" x="506.0" y="106.8"/>
<use href="#sO" x="495.1" y="96.8"/>
<use href="#sO" x="499.9" y="93.7"/>
<use href="#cO" x="502.6" y="93.6"/>
<use href="#cL" x="506.4" y="93.9"/>
<use href="#sO" x="509.6" y="93.1"/>
<use href="#sO" x="513.1" y="95.3"/>
<use href="#cO" x="511.3" y="172.5"/>
<use href="#sO" x="503.6" y="170.1"/>
<use href="#cR" x="505.7" y="106.0"/>
<use href="#cS" x="498.2" y="109.9"/>
<use href="#cS" x="508.8" y="104.6"/>
<use href="#cR" x="510.5" y="97.4"/>
<use href="#cS" x="499.6" y="103.1"/>
<use href="#cS" x="502.8" y="107.3"/>
<use href="#cR" x="504.7" y="107.2"/>
<use href="#cR" x="508.0" y="107.8"/>
<use href="#cR" x="499.2" y="98.9"/>
<use href="#cS" x="502.2" y="97.2"/>
<use href="#cR" x="505.1" y="99.6"/>
<use href="#cS" x="506.5" y="104.9"/>
<use href="#cS" x="507.4" y="96.2"/>
<use href="#cS" x="504.5" y="104.9"/>
<use href="#cR" x="510.3" y="102.3"/>
<use href="#cS" x="499.2" y="109.1"/>
<use href="#cR" x="504.3" y="109.8"/>
<use href="#cR" x="497.1" y="97.8"/>
<use href="#cR" x="505.7" y="97.8"/>
<use href="#cR" x="506.6" y="107.1"/>
<use href="#cS" x="505.5" y="104.9"/>
<use href="#cR" x="500.1" y="103.6"/>
<use href="#cR" x="510.5" y="99.5"/>
<use href="#cR" x="511.2" y="96.7"/>
<use href="#cR" x="504.1" y="96.7"/>
<use href="#dS" x="506.6" y="92.3"/>
<use href="#dR" x="500.2" y="95.6"/>
<use href="#dS" x="512.0" y="100.5"/>
<use href="#dR" x="497.6" y="103.6"/>
<use href="#dS" x="512.9" y="106.0"/>
<use href="#dR" x="498.2" y="107.8"/>
<polygon points="561.3,104.0 569.1,96.0 580.9,86.0 580.9,174.0 579.4,180.0 577.9,182.4 575.9,179.0 573.9,176.0 571.9,175.0 568.6,174.0 567.1,172.0 565.6,172.0 564.1,176.0 562.6,176.7 561.3,172.0" fill="#989898"/>
<line x1="564.4" y1="110.8" x2="564.4" y2="172.4" stroke="#c4c4c4" stroke-width="0.7" opacity="0.55"/>
<line x1="565.2" y1="107.4" x2="565.2" y2="165.3" stroke="#c4c4c4" stroke-width="0.7" opacity="0.55"/>
<line x1="569.3" y1="98.8" x2="569.3" y2="168.3" stroke="#c4c4c4" stroke-width="0.7" opacity="0.55"/>
<line x1="570.9" y1="104.2" x2="570.9" y2="168.8" stroke="#c4c4c4" stroke-width="0.7" opacity="0.55"/>
<line x1="573.2" y1="98.4" x2="573.2" y2="168.1" stroke="#c4c4c4" stroke-width="0.7" opacity="0.55"/>
<line x1="577.0" y1="97.7" x2="577.0" y2="173.1" stroke="#c4c4c4" stroke-width="0.7" opacity="0.55"/>
<line x1="578.9" y1="97.4" x2="578.9" y2="178.1" stroke="#878787" stroke-width="0.7" opacity="0.55"/>
<use href="#tD" x="575.7" y="106.9"/>
<use href="#tL" x="572.3" y="128.4"/>
<use href="#tL" x="566.4" y="161.3"/>
<use href="#tL" x="566.2" y="154.4"/>
<use href="#tL" x="570.9" y="127.2"/>
<use href="#tD" x="574.7" y="155.9"/>
<use href="#tD" x="576.4" y="111.4"/>
<use href="#tL" x="574.1" y="133.8"/>
<use href="#tD" x="578.9" y="129.1"/>
<use href="#tL" x="570.6" y="137.3"/>
<use href="#tL" x="565.3" y="128.8"/>
<use href="#tL" x="568.4" y="134.2"/>
<use href="#tL" x="571.6" y="123.5"/>
<use href="#tD" x="567.3" y="119.9"/>
<use href="#tL" x="567.9" y="157.6"/>
<use href="#tD" x="571.0" y="162.7"/>
<use href="#tL" x="565.9" y="121.6"/>
<use href="#tL" x="569.3" y="123.1"/>
<use href="#tL" x="579.3" y="128.3"/>
<use href="#tL" x="573.6" y="143.3"/>
<use href="#tL" x="576.9" y="118.2"/>
<use href="#tL" x="571.7" y="142.1"/>
<use href="#tL" x="563.5" y="157.8"/>
<use href="#tD" x="568.9" y="148.0"/>
<use href="#tL" x="568.8" y="112.6"/>
<use href="#tD" x="578.0" y="107.5"/>
<use href="#tD" x="567.1" y="132.9"/>
<use href="#tD" x="579.6" y="97.1"/>
<use href="#tL" x="566.0" y="162.7"/>
<use href="#tL" x="563.6" y="125.9"/>
<use href="#tD" x="576.1" y="154.7"/>
<use href="#tL" x="576.3" y="97.3"/>
<use href="#tL" x="578.0" y="120.4"/>
<use href="#tL" x="576.6" y="131.5"/>
<use href="#tL" x="578.0" y="132.1"/>
<use href="#tL" x="566.8" y="100.5"/>
<use href="#tL" x="565.2" y="170.3"/>
<use href="#tD" x="572.4" y="169.2"/>
<use href="#tL" x="565.0" y="132.3"/>
<use href="#tD" x="570.5" y="96.4"/>
<use href="#tD" x="575.0" y="135.1"/>
<use href="#tL" x="573.0" y="169.0"/>
<use href="#tL" x="579.1" y="143.3"/>
<use href="#tL" x="563.2" y="170.0"/>
<use href="#tD" x="565.2" y="109.2"/>
<use href="#tD" x="564.7" y="135.4"/>
<use href="#tL" x="572.6" y="130.4"/>
<use href="#tL" x="570.6" y="99.6"/>
<use href="#tL" x="574.9" y="137.8"/>
<use href="#tL" x="567.7" y="166.4"/>
<use href="#tL" x="578.8" y="174.9"/>
<use href="#tD" x="579.6" y="92.6"/>
<use href="#tL" x="569.1" y="129.4"/>
<use href="#tD" x="566.8" y="157.7"/>
<use href="#tL" x="578.2" y="99.4"/>
<use href="#tL" x="577.9" y="129.5"/>
<use href="#tD" x="564.1" y="130.0"/>
<use href="#tL" x="571.4" y="161.7"/>
<use href="#tL" x="565.6" y="112.9"/>
<use href="#tD" x="579.6" y="87.1"/>
<use href="#tL" x="573.1" y="95.2"/>
<use href="#tL" x="575.5" y="126.8"/>
<use href="#tL" x="578.6" y="107.5"/>
<use href="#tD" x="577.7" y="107.9"/>
<use href="#tD" x="563.6" y="123.5"/>
<use href="#tL" x="579.4" y="120.2"/>
<use href="#tL" x="571.4" y="138.0"/>
<use href="#tD" x="564.0" y="141.9"/>
<use href="#tD" x="570.2" y="117.6"/>
<use href="#tL" x="576.9" y="152.6"/>
<use href="#tL" x="563.2" y="111.4"/>
<use href="#tL" x="579.4" y="169.3"/>
<use href="#tL" x="564.5" y="162.3"/>
<use href="#tL" x="575.7" y="131.6"/>
<use href="#tL" x="579.8" y="143.7"/>
<use href="#tD" x="564.4" y="106.8"/>
<use href="#tD" x="564.6" y="144.9"/>
<use href="#tL" x="573.3" y="168.7"/>
<use href="#tL" x="579.4" y="111.3"/>
<use href="#tL" x="567.0" y="169.6"/>
<use href="#tL" x="564.3" y="162.4"/>
<use href="#tL" x="578.1" y="140.2"/>
<use href="#tL" x="573.0" y="145.2"/>
<use href="#tD" x="575.9" y="135.9"/>
<use href="#tD" x="564.3" y="107.5"/>
<use href="#tL" x="573.8" y="93.7"/>
<use href="#tL" x="564.2" y="110.2"/>
<use href="#tD" x="576.3" y="138.7"/>
<use href="#tD" x="572.5" y="109.0"/>
<use href="#tD" x="572.3" y="168.5"/>
<use href="#tL" x="568.8" y="127.9"/>
<use href="#tL" x="573.5" y="103.5"/>
<use href="#tL" x="572.5" y="117.0"/>
<use href="#tL" x="570.6" y="154.7"/>
<use href="#tD" x="562.7" y="134.9"/>
<use href="#tL" x="567.8" y="143.7"/>
<use href="#tD" x="576.7" y="131.0"/>
<use href="#tL" x="573.4" y="113.8"/>
<use href="#tD" x="566.8" y="135.2"/>
<use href="#tL" x="571.7" y="107.5"/>
<use href="#tL" x="575.8" y="134.2"/>
<use href="#tL" x="568.6" y="110.5"/>
<use href="#tD" x="577.0" y="173.0"/>
<use href="#tD" x="578.8" y="109.9"/>
<use href="#tD" x="563.6" y="146.9"/>
<use href="#tD" x="562.7" y="168.5"/>
<use href="#tD" x="574.3" y="118.5"/>
<use href="#tL" x="570.1" y="151.8"/>
<use href="#tL" x="565.1" y="121.2"/>
<use href="#tL" x="576.1" y="151.6"/>
<use href="#tL" x="572.6" y="96.0"/>
<use href="#tD" x="566.1" y="110.7"/>
<use href="#tL" x="562.9" y="147.7"/>
<use href="#tD" x="572.4" y="175.1"/>
<use href="#tL" x="572.1" y="174.5"/>
<use href="#tL" x="570.6" y="135.9"/>
<use href="#tL" x="567.3" y="130.8"/>
<use href="#tD" x="578.8" y="133.0"/>
<use href="#tD" x="562.3" y="120.1"/>
<use href="#tL" x="565.8" y="146.1"/>
<use href="#tL" x="571.3" y="131.9"/>
<use href="#tL" x="578.6" y="159.5"/>
<use href="#tD" x="574.6" y="143.5"/>
<use href="#tD" x="573.8" y="134.2"/>
<use href="#tD" x="562.9" y="129.5"/>
<use href="#tD" x="577.0" y="144.0"/>
<use href="#tL" x="578.2" y="138.5"/>
<use href="#tL" x="565.2" y="154.1"/>
<use href="#tL" x="578.6" y="169.4"/>
<use href="#tL" x="573.7" y="163.8"/>
<use href="#tL" x="563.8" y="130.7"/>
<use href="#tD" x="576.6" y="118.9"/>
<use href="#tL" x="564.8" y="169.5"/>
<use href="#tD" x="563.4" y="139.7"/>
<use href="#tL" x="579.1" y="145.5"/>
<use href="#tD" x="577.7" y="96.1"/>
<use href="#tD" x="572.4" y="103.5"/>
<use href="#tD" x="568.1" y="100.4"/>
<use href="#tL" x="573.9" y="148.3"/>
<use href="#tL" x="578.2" y="160.0"/>
<use href="#tL" x="563.6" y="169.8"/>
<use href="#tL" x="574.7" y="102.7"/>
<use href="#tL" x="579.6" y="138.0"/>
<use href="#tD" x="578.2" y="133.5"/>
<use href="#tL" x="568.0" y="149.8"/>
<use href="#tL" x="574.8" y="130.4"/>
<use href="#tL" x="567.1" y="126.5"/>
<use href="#tD" x="574.9" y="108.0"/>
<use href="#tL" x="565.1" y="132.7"/>
<use href="#tL" x="573.9" y="92.4"/>
<use href="#tL" x="567.0" y="160.4"/>
<use href="#tL" x="570.9" y="169.8"/>
<use href="#tL" x="576.0" y="90.6"/>
<use href="#tD" x="574.7" y="145.9"/>
<use href="#tL" x="570.8" y="150.1"/>
<use href="#tD" x="571.5" y="103.6"/>
<use href="#tL" x="574.5" y="98.4"/>
<use href="#tL" x="567.8" y="168.1"/>
<use href="#tL" x="572.3" y="135.3"/>
<use href="#sL" x="566.5" y="171.6"/>
<use href="#cO" x="571.9" y="165.0"/>
<use href="#cO" x="571.9" y="149.0"/>
<use href="#cO" x="566.4" y="137.1"/>
<use href="#cO" x="564.5" y="125.2"/>
<use href="#cL" x="563.8" y="125.3"/>
<use href="#cO" x="577.6" y="168.6"/>
<use href="#sL" x="571.9" y="168.4"/>
<use href="#sO" x="571.1" y="96.5"/>
<use href="#sO" x="570.5" y="154.7"/>
<use href="#cL" x="568.3" y="163.3"/>
<use href="#cL" x="576.8" y="91.9"/>
<use href="#cL" x="571.3" y="153.8"/>
<use href="#sO" x="575.6" y="175.0"/>
<use href="#sL" x="566.2" y="119.5"/>
<use href="#cL" x="568.7" y="165.7"/>
<use href="#sL" x="577.8" y="106.7"/>
<use href="#sO" x="571.7" y="97.6"/>
<use href="#sO" x="577.4" y="133.4"/>
<use href="#sO" x="573.3" y="117.8"/>
<use href="#cL" x="566.7" y="142.3"/>
<use href="#sO" x="568.8" y="145.4"/>
<use href="#sL" x="578.7" y="126.7"/>
<use href="#sL" x="567.8" y="132.4"/>
<use href="#sL" x="568.7" y="145.1"/>
<use href="#sO" x="568.3" y="96.6"/>
<use href="#cO" x="562.5" y="104.2"/>
<use href="#cO" x="568.7" y="96.2"/>
<use href="#sO" x="571.2" y="94.9"/>
<use href="#cL" x="575.8" y="89.9"/>
<use href="#cL" x="576.6" y="88.7"/>
<use href="#sO" x="579.9" y="87.5"/>
<use href="#sO" x="569.1" y="95.8"/>
<use href="#sO" x="576.1" y="180.0"/>
<use href="#cO" x="573.8" y="176.2"/>
<use href="#sO" x="570.8" y="175.0"/>
<use href="#sO" x="566.3" y="172.2"/>
<polygon points="562.9,84.0 564.7,78.0 566.7,73.0 568.7,68.0 570.7,64.0 571.3,60.0 573.3,59.0 574.8,63.0 576.3,68.0 578.3,72.0 579.3,76.0 579.3,90.0 574.3,94.0 570.7,99.0 566.7,102.0 562.9,106.0" fill="#303030"/>
<use href="#tD" x="568.8" y="83.2"/>
<use href="#tM" x="574.2" y="84.9"/>
<use href="#tM" x="569.3" y="92.3"/>
<use href="#tM" x="573.8" y="84.4"/>
<use href="#tM" x="565.2" y="99.3"/>
<use href="#tM" x="578.9" y="82.7"/>
<use href="#tD" x="569.3" y="98.2"/>
<use href="#tD" x="564.9" y="85.3"/>
<use href="#tD" x="570.1" y="67.3"/>
<use href="#tD" x="569.7" y="96.1"/>
<use href="#tM" x="575.8" y="86.6"/>
<use href="#tD" x="570.4" y="77.3"/>
<use href="#tD" x="569.9" y="86.0"/>
<use href="#tD" x="569.0" y="82.5"/>
<use href="#tD" x="572.5" y="85.1"/>
<use href="#tD" x="566.9" y="82.2"/>
<use href="#tD" x="565.4" y="84.0"/>
<use href="#dR" x="565.0" y="94.4"/>
<use href="#dR" x="574.1" y="78.3"/>
<use href="#dR" x="572.7" y="85.0"/>
<use href="#dR" x="578.6" y="82.9"/>
<use href="#dR" x="571.8" y="80.7"/>
<use href="#dR" x="569.6" y="91.4"/>
<use href="#dR" x="564.6" y="91.5"/>
<use href="#dR" x="571.8" y="75.6"/>
<use href="#dO" x="565.8" y="74.8"/>
<use href="#dO" x="571.3" y="93.2"/>
<use href="#dR" x="570.2" y="73.2"/>
<use href="#dK" x="577.3" y="77.4"/>
<use href="#dO" x="569.7" y="69.5"/>
<use href="#dO" x="570.8" y="92.2"/>
<use href="#dK" x="568.8" y="90.1"/>
<use href="#dO" x="577.0" y="83.3"/>
<use href="#dO" x="571.3" y="67.2"/>
<use href="#dR" x="570.2" y="70.0"/>
<use href="#dO" x="572.7" y="64.3"/>
<use href="#dR" x="571.4" y="89.4"/>
<use href="#dO" x="564.2" y="84.8"/>
<use href="#dO" x="567.9" y="94.0"/>
<use href="#dR" x="572.9" y="67.6"/>
<use href="#dR" x="565.8" y="92.1"/>
<use href="#dR" x="569.7" y="72.3"/>
<use href="#dO" x="572.1" y="94.0"/>
<use href="#dR" x="575.5" y="72.1"/>
<use href="#dK" x="573.1" y="76.6"/>
<use href="#dR" x="570.7" y="83.9"/>
<use href="#dO" x="573.9" y="66.9"/>
<use href="#dO" x="568.0" y="98.9"/>
<use href="#dR" x="579.3" y="76.2"/>
<use href="#dR" x="563.3" y="94.8"/>
<use href="#dO" x="565.4" y="94.4"/>
<use href="#dO" x="570.6" y="75.3"/>
<use href="#dO" x="575.1" y="82.2"/>
<use href="#dR" x="565.6" y="102.1"/>
<use href="#dR" x="577.7" y="85.6"/>
<use href="#dR" x="571.6" y="67.0"/>
<use href="#dO" x="568.1" y="69.3"/>
<use href="#dO" x="566.0" y="87.9"/>
<use href="#dO" x="568.2" y="95.1"/>
<use href="#dK" x="564.2" y="98.8"/>
<use href="#dK" x="571.2" y="88.7"/>
<use href="#dR" x="566.7" y="91.7"/>
<use href="#dO" x="569.5" y="92.9"/>
<use href="#dR" x="572.5" y="65.6"/>
<use href="#dK" x="567.8" y="94.3"/>
<use href="#dR" x="563.0" y="88.7"/>
<use href="#dK" x="571.9" y="92.6"/>
<use href="#dO" x="568.2" y="81.4"/>
<use href="#dO" x="570.7" y="94.2"/>
<use href="#dR" x="563.9" y="83.0"/>
<use href="#dR" x="567.1" y="86.7"/>
<use href="#dO" x="566.6" y="101.1"/>
<use href="#dR" x="575.1" y="71.6"/>
<use href="#dR" x="578.4" y="88.7"/>
<use href="#dR" x="564.6" y="83.4"/>
<use href="#dO" x="571.0" y="90.5"/>
<use href="#dR" x="573.2" y="62.4"/>
<use href="#dR" x="567.8" y="92.4"/>
<use href="#dO" x="563.9" y="98.3"/>
<use href="#dO" x="566.9" y="96.7"/>
<use href="#dK" x="574.2" y="80.9"/>
<use href="#dR" x="572.3" y="93.5"/>
<use href="#dR" x="574.0" y="77.8"/>
<use href="#dR" x="571.1" y="82.9"/>
<use href="#dR" x="574.4" y="91.4"/>
<use href="#dO" x="571.3" y="85.9"/>
<use href="#dO" x="566.2" y="81.0"/>
<use href="#dO" x="577.3" y="71.1"/>
<use href="#dO" x="578.3" y="76.5"/>
<use href="#dR" x="571.8" y="91.0"/>
<use href="#dO" x="576.5" y="70.7"/>
<use href="#dO" x="565.9" y="92.4"/>
<use href="#dO" x="568.0" y="83.8"/>
<use href="#dK" x="564.0" y="98.1"/>
<use href="#dK" x="575.9" y="86.3"/>
<use href="#dR" x="574.3" y="75.0"/>
<use href="#dR" x="575.1" y="85.5"/>
<use href="#dR" x="564.9" y="100.8"/>
<use href="#dR" x="564.9" y="94.2"/>
<use href="#dK" x="576.1" y="73.8"/>
<use href="#dO" x="573.1" y="77.2"/>
<use href="#dR" x="578.7" y="73.6"/>
<use href="#dO" x="569.8" y="73.8"/>
<use href="#dR" x="574.3" y="67.6"/>
<use href="#dR" x="564.5" y="87.1"/>
<use href="#dR" x="574.0" y="61.9"/>
<use href="#dO" x="570.7" y="71.6"/>
<use href="#dK" x="572.9" y="77.7"/>
<use href="#dK" x="570.4" y="84.3"/>
<use href="#dO" x="567.4" y="71.9"/>
<use href="#dR" x="566.9" y="82.6"/>
<use href="#dR" x="570.6" y="91.0"/>
<use href="#dR" x="563.4" y="96.8"/>
<use href="#dO" x="576.9" y="89.6"/>
<use href="#dR" x="567.7" y="97.5"/>
<use href="#dO" x="573.6" y="65.9"/>
<use href="#dO" x="573.9" y="90.6"/>
<use href="#dR" x="566.6" y="81.4"/>
<use href="#dO" x="566.3" y="100.0"/>
<use href="#dO" x="573.3" y="91.5"/>
<use href="#dK" x="573.1" y="61.9"/>
<use href="#dO" x="571.4" y="86.8"/>
<use href="#dK" x="571.0" y="94.5"/>
<use href="#dO" x="571.7" y="72.1"/>
<use href="#dK" x="571.4" y="69.0"/>
<use href="#dR" x="566.2" y="82.9"/>
<use href="#dR" x="572.5" y="86.2"/>
<use href="#dR" x="570.4" y="82.9"/>
<use href="#dO" x="571.4" y="95.9"/>
<use href="#dR" x="574.1" y="64.6"/>
<use href="#dO" x="567.1" y="73.7"/>
<use href="#dR" x="568.6" y="82.1"/>
<use href="#dO" x="575.0" y="76.4"/>
<use href="#dK" x="565.4" y="88.6"/>
<use href="#dO" x="578.8" y="76.6"/>
<use href="#dR" x="576.2" y="78.5"/>
<use href="#dK" x="568.6" y="80.8"/>
<use href="#dO" x="565.7" y="76.4"/>
<use href="#dR" x="570.7" y="65.2"/>
<use href="#dO" x="573.7" y="78.3"/>
<use href="#dR" x="566.8" y="91.2"/>
<use href="#dR" x="577.5" y="72.8"/>
<use href="#dO" x="567.1" y="91.7"/>
<use href="#dR" x="573.7" y="84.8"/>
<use href="#dO" x="565.1" y="86.8"/>
<use href="#dK" x="575.3" y="67.4"/>
<use href="#dO" x="572.0" y="62.8"/>
<use href="#dR" x="569.1" y="96.9"/>
<use href="#dR" x="564.4" y="96.1"/>
<use href="#dK" x="571.8" y="96.5"/>
<use href="#dK" x="564.4" y="93.0"/>
<use href="#dR" x="571.2" y="94.9"/>
<use href="#dO" x="566.3" y="99.0"/>
<use href="#dO" x="574.5" y="66.3"/>
<use href="#dO" x="570.5" y="71.1"/>
<use href="#dK" x="575.5" y="92.8"/>
<use href="#dR" x="574.2" y="68.3"/>
<use href="#dO" x="563.4" y="89.1"/>
<use href="#dO" x="568.8" y="83.4"/>
<use href="#dO" x="573.6" y="83.2"/>
<use href="#dO" x="575.6" y="82.0"/>
<use href="#dK" x="563.3" y="84.7"/>
<use href="#dO" x="569.7" y="74.8"/>
<use href="#dR" x="569.3" y="69.4"/>
<use href="#dK" x="567.9" y="94.1"/>
<use href="#dR" x="577.6" y="80.5"/>
<use href="#dO" x="571.4" y="94.0"/>
<use href="#dK" x="575.8" y="77.2"/>
<use href="#dR" x="572.9" y="89.7"/>
<use href="#dO" x="572.3" y="78.0"/>
<use href="#dO" x="577.7" y="90.2"/>
<use href="#dO" x="575.4" y="85.8"/>
<use href="#dO" x="575.3" y="65.3"/>
<use href="#dR" x="579.4" y="86.3"/>
<use href="#dR" x="572.7" y="67.9"/>
<use href="#dR" x="564.2" y="92.1"/>
<use href="#dO" x="574.9" y="90.3"/>
<use href="#dR" x="567.0" y="81.9"/>
<use href="#dO" x="575.6" y="89.1"/>
<use href="#dR" x="573.2" y="84.1"/>
<use href="#dK" x="564.0" y="83.0"/>
<use href="#dR" x="568.5" y="68.8"/>
<use href="#dO" x="569.7" y="92.2"/>
<use href="#dK" x="578.4" y="85.2"/>
<use href="#cR" x="563.3" y="92.6"/>
<use href="#cR" x="572.4" y="81.9"/>
<use href="#cL" x="568.7" y="83.6"/>
<use href="#cR" x="568.5" y="98.7"/>
<use href="#cL" x="571.0" y="82.5"/>
<use href="#sL" x="571.0" y="80.3"/>
<use href="#cL" x="569.6" y="82.3"/>
<use href="#sL" x="564.8" y="94.4"/>
<use href="#dS" x="573.0" y="57.6"/>
<use href="#dR" x="573.6" y="60.7"/>
<use href="#dS" x="571.8" y="61.8"/>
<polygon points="627.6,96.0 642.4,96.0 641.9,180.0 639.9,180.0 637.9,178.0 635.9,174.0 632.1,172.0 630.1,174.0 628.6,173.5 627.6,170.0" fill="#989898"/>
<line x1="631.3" y1="98.2" x2="631.3" y2="168.1" stroke="#878787" stroke-width="0.7" opacity="0.55"/>
<line x1="633.1" y1="100.6" x2="633.1" y2="168.5" stroke="#c4c4c4" stroke-width="0.7" opacity="0.55"/>
<line x1="635.9" y1="105.8" x2="635.9" y2="163.9" stroke="#b8b8b8" stroke-width="0.7" opacity="0.55"/>
<line x1="638.0" y1="101.4" x2="638.0" y2="174.2" stroke="#878787" stroke-width="0.7" opacity="0.55"/>
<line x1="639.1" y1="103.9" x2="639.1" y2="171.2" stroke="#b8b8b8" stroke-width="0.7" opacity="0.55"/>
<use href="#tL" x="629.8" y="107.3"/>
<use href="#tL" x="637.8" y="176.2"/>
<use href="#tL" x="638.9" y="98.1"/>
<use href="#tL" x="630.5" y="133.6"/>
<use href="#tL" x="637.5" y="178.1"/>
<use href="#tL" x="632.5" y="135.2"/>
<use href="#tL" x="640.7" y="167.5"/>
<use href="#tD" x="631.1" y="100.2"/>
<use href="#tL" x="640.6" y="175.5"/>
<use href="#tL" x="630.0" y="147.9"/>
<use href="#tD" x="630.9" y="98.0"/>
<use href="#tD" x="629.4" y="117.2"/>
<use href="#tL" x="640.4" y="125.0"/>
<use href="#tL" x="632.1" y="124.7"/>
<use href="#tL" x="635.5" y="155.5"/>
<use href="#tL" x="629.4" y="155.5"/>
<use href="#tD" x="635.2" y="116.0"/>
<use href="#tD" x="629.4" y="126.0"/>
<use href="#tL" x="630.5" y="143.5"/>
<use href="#tD" x="632.3" y="135.4"/>
<use href="#tL" x="628.7" y="105.4"/>
<use href="#tL" x="634.4" y="124.6"/>
<use href="#tL" x="633.2" y="152.5"/>
<use href="#tL" x="638.3" y="142.2"/>
<use href="#tL" x="631.9" y="155.7"/>
<use href="#tD" x="631.5" y="124.2"/>
<use href="#tL" x="629.4" y="128.5"/>
<use href="#tD" x="638.4" y="152.2"/>
<use href="#tD" x="631.2" y="110.6"/>
<use href="#tD" x="632.1" y="109.0"/>
<use href="#tL" x="634.5" y="101.3"/>
<use href="#tL" x="637.7" y="150.5"/>
<use href="#tD" x="637.8" y="176.2"/>
<use href="#tL" x="634.9" y="106.9"/>
<use href="#tL" x="637.0" y="108.7"/>
<use href="#tD" x="635.3" y="104.5"/>
<use href="#tD" x="638.3" y="142.9"/>
<use href="#tL" x="640.3" y="103.8"/>
<use href="#tL" x="639.9" y="133.6"/>
<use href="#tD" x="631.8" y="118.8"/>
<use href="#tD" x="634.7" y="136.9"/>
<use href="#tL" x="634.8" y="147.1"/>
<use href="#tL" x="638.7" y="129.6"/>
<use href="#tL" x="635.7" y="124.1"/>
<use href="#tL" x="631.6" y="163.1"/>
<use href="#tD" x="638.7" y="108.1"/>
<use href="#tD" x="638.7" y="132.3"/>
<use href="#tL" x="630.6" y="106.0"/>
<use href="#tD" x="632.0" y="130.9"/>
<use href="#tL" x="637.9" y="100.6"/>
<use href="#tD" x="631.4" y="149.2"/>
<use href="#tL" x="632.7" y="157.1"/>
<use href="#tD" x="629.0" y="168.3"/>
<use href="#tL" x="635.9" y="155.3"/>
<use href="#tL" x="632.7" y="121.2"/>
<use href="#tD" x="637.4" y="97.3"/>
<use href="#tL" x="630.7" y="149.6"/>
<use href="#tD" x="633.5" y="160.7"/>
<use href="#tL" x="638.2" y="129.1"/>
<use href="#tL" x="636.5" y="135.6"/>
<use href="#tL" x="633.0" y="115.4"/>
<use href="#tD" x="629.8" y="108.7"/>
<use href="#tL" x="640.6" y="118.4"/>
<use href="#tL" x="636.7" y="164.7"/>
<use href="#tD" x="632.3" y="113.3"/>
<use href="#tL" x="639.8" y="122.6"/>
<use href="#tD" x="629.5" y="153.8"/>
<use href="#tL" x="640.7" y="108.4"/>
<use href="#tD" x="631.5" y="107.4"/>
<use href="#tL" x="640.4" y="123.1"/>
<use href="#tL" x="632.7" y="107.8"/>
<use href="#tD" x="632.1" y="152.3"/>
<use href="#tL" x="633.9" y="155.4"/>
<use href="#tL" x="635.5" y="122.1"/>
<use href="#tL" x="633.5" y="150.0"/>
<use href="#tL" x="628.9" y="137.3"/>
<use href="#tL" x="636.5" y="137.7"/>
<use href="#tD" x="630.7" y="145.4"/>
<use href="#tL" x="630.0" y="134.9"/>
<use href="#tD" x="631.3" y="123.8"/>
<use href="#tL" x="632.4" y="128.8"/>
<use href="#tL" x="636.5" y="135.9"/>
<use href="#tL" x="629.5" y="99.8"/>
<use href="#tL" x="636.1" y="109.2"/>
<use href="#tD" x="633.7" y="126.7"/>
<use href="#tD" x="633.4" y="138.3"/>
<use href="#tD" x="639.4" y="145.1"/>
<use href="#tD" x="637.3" y="97.6"/>
<use href="#tD" x="634.2" y="136.6"/>
<use href="#tL" x="630.4" y="115.4"/>
<use href="#tL" x="634.5" y="155.4"/>
<use href="#tD" x="637.3" y="101.9"/>
<use href="#tD" x="637.6" y="174.7"/>
<use href="#tL" x="634.6" y="108.7"/>
<use href="#tL" x="628.9" y="119.6"/>
<use href="#tL" x="640.3" y="108.7"/>
<use href="#tD" x="641.4" y="99.5"/>
<use href="#tD" x="639.6" y="158.2"/>
<use href="#tD" x="632.4" y="105.0"/>
<use href="#tL" x="632.7" y="120.6"/>
<use href="#tL" x="629.8" y="154.9"/>
<use href="#tL" x="632.4" y="145.3"/>
<use href="#tL" x="631.4" y="163.9"/>
<use href="#tL" x="633.6" y="162.5"/>
<use href="#tL" x="631.1" y="156.2"/>
<use href="#tD" x="636.2" y="135.5"/>
<use href="#tL" x="638.9" y="108.6"/>
<use href="#tD" x="639.3" y="114.5"/>
<use href="#tL" x="629.8" y="118.1"/>
<use href="#tD" x="637.8" y="166.4"/>
<use href="#tL" x="633.2" y="127.4"/>
<use href="#tL" x="639.2" y="107.9"/>
<use href="#tL" x="640.9" y="157.2"/>
<use href="#tL" x="640.9" y="111.2"/>
<use href="#tL" x="633.0" y="122.0"/>
<use href="#sL" x="637.5" y="165.9"/>
<use href="#cO" x="633.5" y="131.3"/>
<use href="#cL" x="633.5" y="124.7"/>
<use href="#cO" x="634.0" y="167.2"/>
<use href="#sO" x="638.3" y="143.0"/>
<use href="#sO" x="636.6" y="121.2"/>
<use href="#cL" x="638.0" y="169.4"/>
<use href="#cL" x="633.7" y="137.9"/>
<use href="#sO" x="631.9" y="117.1"/>
<use href="#cL" x="638.9" y="149.9"/>
<use href="#cL" x="634.4" y="149.8"/>
<use href="#sL" x="631.5" y="96.3"/>
<use href="#cO" x="633.4" y="144.3"/>
<use href="#cL" x="631.5" y="141.5"/>
<use href="#cO" x="633.0" y="118.1"/>
<use href="#cO" x="627.6" y="96.1"/>
<use href="#cO" x="639.9" y="95.5"/>
<use href="#sO" x="629.7" y="95.4"/>
<use href="#cO" x="631.5" y="95.3"/>
<use href="#sO" x="637.5" y="178.0"/>
<use href="#sO" x="635.2" y="173.7"/>
<polygon points="629.2,72.0 630.7,64.0 632.7,58.0 634.7,56.0 635.3,60.0 637.3,64.0 640.8,66.0 640.8,100.0 629.2,100.0" fill="#303030"/>
<use href="#tD" x="630.6" y="93.2"/>
<use href="#tD" x="633.0" y="70.8"/>
<use href="#tM" x="632.5" y="62.9"/>
<use href="#tD" x="630.5" y="73.7"/>
<use href="#tD" x="637.4" y="97.0"/>
<use href="#tD" x="639.1" y="94.6"/>
<use href="#tM" x="629.8" y="97.2"/>
<use href="#tD" x="640.3" y="75.9"/>
<use href="#tM" x="632.9" y="78.2"/>
<use href="#tM" x="639.9" y="99.6"/>
<use href="#tM" x="639.8" y="90.9"/>
<use href="#tM" x="639.4" y="80.8"/>
<use href="#tM" x="635.4" y="71.2"/>
<use href="#tD" x="633.2" y="94.3"/>
<use href="#tM" x="639.7" y="87.9"/>
<use href="#tM" x="636.7" y="65.7"/>
<use href="#tD" x="630.6" y="82.2"/>
<use href="#dO" x="638.4" y="79.2"/>
<use href="#dO" x="638.2" y="86.6"/>
<use href="#dR" x="635.3" y="81.5"/>
<use href="#dO" x="631.3" y="83.9"/>
<use href="#dK" x="633.8" y="99.0"/>
<use href="#dO" x="635.0" y="95.3"/>
<use href="#dR" x="635.0" y="68.5"/>
<use href="#dO" x="637.8" y="98.7"/>
<use href="#dR" x="640.4" y="67.0"/>
<use href="#dR" x="639.4" y="96.3"/>
<use href="#dO" x="640.4" y="94.6"/>
<use href="#dR" x="629.9" y="82.2"/>
<use href="#dK" x="640.5" y="98.0"/>
<use href="#dR" x="638.0" y="76.1"/>
<use href="#dO" x="636.3" y="65.1"/>
<use href="#dO" x="639.5" y="96.9"/>
<use href="#dR" x="630.2" y="84.9"/>
<use href="#dK" x="634.4" y="58.3"/>
<use href="#dO" x="637.0" y="93.5"/>
<use href="#dR" x="631.8" y="64.3"/>
<use href="#dO" x="630.5" y="82.5"/>
<use href="#dO" x="630.4" y="65.4"/>
<use href="#dO" x="637.6" y="82.1"/>
<use href="#dR" x="629.9" y="96.4"/>
<use href="#dO" x="637.2" y="72.8"/>
<use href="#dK" x="639.3" y="99.0"/>
<use href="#dR" x="632.8" y="71.0"/>
<use href="#dK" x="635.1" y="93.8"/>
<use href="#dO" x="638.1" y="72.1"/>
<use href="#dR" x="639.2" y="97.9"/>
<use href="#dO" x="641.0" y="91.5"/>
<use href="#dK" x="630.4" y="78.6"/>
<use href="#dR" x="640.9" y="83.4"/>
<use href="#dR" x="640.1" y="98.0"/>
<use href="#dK" x="630.7" y="92.8"/>
<use href="#dO" x="637.1" y="98.2"/>
<use href="#dO" x="640.8" y="82.4"/>
<use href="#dO" x="635.6" y="61.1"/>
<use href="#dK" x="633.0" y="93.6"/>
<use href="#dO" x="629.4" y="77.5"/>
<use href="#dR" x="630.2" y="67.2"/>
<use href="#dK" x="635.2" y="97.3"/>
<use href="#dR" x="631.0" y="65.2"/>
<use href="#dO" x="636.9" y="66.1"/>
<use href="#dR" x="630.0" y="78.8"/>
<use href="#dR" x="637.9" y="68.5"/>
<use href="#dK" x="640.1" y="78.1"/>
<use href="#dR" x="636.2" y="83.7"/>
<use href="#dR" x="632.6" y="86.2"/>
<use href="#dK" x="633.4" y="89.9"/>
<use href="#dR" x="630.4" y="70.2"/>
<use href="#dO" x="632.4" y="60.7"/>
<use href="#dR" x="640.5" y="80.4"/>
<use href="#dK" x="630.4" y="75.7"/>
<use href="#dO" x="639.9" y="93.2"/>
<use href="#dR" x="633.8" y="63.7"/>
<use href="#dR" x="638.6" y="73.5"/>
<use href="#dR" x="632.7" y="93.0"/>
<use href="#dR" x="632.8" y="72.8"/>
<use href="#dR" x="631.5" y="90.0"/>
<use href="#dK" x="640.0" y="96.7"/>
<use href="#dO" x="635.7" y="71.2"/>
<use href="#dK" x="640.7" y="69.2"/>
<use href="#dR" x="629.5" y="84.7"/>
<use href="#dR" x="640.1" y="68.2"/>
<use href="#dR" x="635.3" y="86.9"/>
<use href="#dR" x="638.7" y="69.8"/>
<use href="#dR" x="639.8" y="83.3"/>
<use href="#dO" x="633.9" y="82.2"/>
<use href="#dR" x="634.5" y="58.4"/>
<use href="#dR" x="638.6" y="94.1"/>
<use href="#dR" x="634.7" y="96.0"/>
<use href="#dK" x="632.6" y="64.9"/>
<use href="#dO" x="635.5" y="94.0"/>
<use href="#dO" x="634.1" y="62.6"/>
<use href="#dO" x="629.2" y="73.5"/>
<use href="#dR" x="635.1" y="61.1"/>
<use href="#dK" x="637.2" y="99.0"/>
<use href="#dR" x="639.6" y="80.9"/>
<use href="#dO" x="638.1" y="88.3"/>
<use href="#dO" x="637.6" y="71.9"/>
<use href="#dR" x="638.1" y="76.1"/>
<use href="#dR" x="640.5" y="85.3"/>
<use href="#dR" x="637.6" y="93.2"/>
<use href="#dO" x="632.4" y="86.1"/>
<use href="#dO" x="635.4" y="74.7"/>
<use href="#dR" x="636.8" y="78.3"/>
<use href="#dO" x="633.9" y="61.7"/>
<use href="#dK" x="629.9" y="84.9"/>
<use href="#dO" x="640.4" y="80.2"/>
<use href="#dR" x="635.5" y="70.7"/>
<use href="#dR" x="629.5" y="75.2"/>
<use href="#dK" x="635.3" y="64.6"/>
<use href="#dR" x="638.1" y="78.8"/>
<use href="#dO" x="633.7" y="89.5"/>
<use href="#dR" x="636.4" y="73.4"/>
<use href="#dR" x="639.4" y="85.9"/>
<use href="#dR" x="638.7" y="73.1"/>
<use href="#dR" x="639.3" y="81.9"/>
<use href="#dR" x="635.3" y="95.7"/>
<use href="#dO" x="640.9" y="96.9"/>
<use href="#dR" x="636.4" y="90.3"/>
<use href="#dK" x="637.6" y="73.7"/>
<use href="#dR" x="634.9" y="74.6"/>
<use href="#dK" x="639.7" y="73.5"/>
<use href="#dR" x="632.9" y="90.8"/>
<use href="#dK" x="630.7" y="67.4"/>
<use href="#dR" x="633.2" y="100.0"/>
<use href="#dR" x="635.3" y="64.6"/>
<use href="#dO" x="632.9" y="87.7"/>
<use href="#dR" x="638.5" y="82.0"/>
<use href="#dO" x="637.4" y="77.5"/>
<use href="#dK" x="633.7" y="89.2"/>
<use href="#dO" x="636.3" y="89.4"/>
<use href="#dK" x="632.3" y="64.2"/>
<use href="#dR" x="635.1" y="69.4"/>
<use href="#dR" x="634.0" y="70.9"/>
<use href="#dR" x="633.0" y="60.1"/>
<use href="#dR" x="640.0" y="91.0"/>
<use href="#dR" x="632.1" y="62.4"/>
<use href="#dK" x="640.6" y="96.4"/>
<use href="#dR" x="637.5" y="72.2"/>
<use href="#dO" x="636.0" y="61.3"/>
<use href="#dK" x="640.1" y="99.3"/>
<use href="#dO" x="639.5" y="74.7"/>
<use href="#dK" x="634.1" y="81.5"/>
<use href="#dR" x="634.6" y="94.0"/>
<use href="#dR" x="638.2" y="96.0"/>
<use href="#dR" x="639.6" y="88.4"/>
<use href="#dR" x="638.2" y="85.7"/>
<use href="#dO" x="637.8" y="84.2"/>
<use href="#dR" x="637.0" y="67.4"/>
<use href="#dO" x="633.0" y="67.5"/>
<use href="#dR" x="631.2" y="74.6"/>
<use href="#dK" x="639.3" y="99.8"/>
<use href="#dK" x="638.6" y="92.9"/>
<use href="#dR" x="634.8" y="84.2"/>
<use href="#dO" x="637.1" y="86.1"/>
<use href="#dK" x="639.4" y="76.8"/>
<use href="#dK" x="640.3" y="90.1"/>
<use href="#dO" x="635.6" y="71.8"/>
<use href="#dR" x="633.1" y="77.3"/>
<use href="#dR" x="635.8" y="64.8"/>
<use href="#dK" x="633.2" y="77.4"/>
<use href="#dK" x="633.5" y="90.0"/>
<use href="#dO" x="640.6" y="79.7"/>
<use href="#dO" x="632.7" y="67.1"/>
<use href="#dR" x="629.1" y="85.7"/>
<use href="#dK" x="636.4" y="98.4"/>
<use href="#dO" x="634.3" y="60.3"/>
<use href="#dR" x="638.9" y="81.3"/>
<use href="#dO" x="640.4" y="70.8"/>
<use href="#dK" x="632.6" y="62.3"/>
<use href="#dO" x="638.8" y="66.0"/>
<use href="#dK" x="631.6" y="99.3"/>
<use href="#dO" x="630.8" y="81.3"/>
<use href="#dR" x="631.6" y="95.6"/>
<use href="#dO" x="638.3" y="76.6"/>
<use href="#dR" x="631.1" y="81.9"/>
<use href="#dK" x="631.2" y="84.5"/>
<use href="#dK" x="634.3" y="87.3"/>
<use href="#dO" x="638.1" y="67.6"/>
<use href="#sL" x="640.1" y="80.9"/>
<use href="#sL" x="633.2" y="80.2"/>
<use href="#cL" x="639.8" y="86.5"/>
<use href="#sL" x="638.6" y="80.9"/>
<use href="#cR" x="638.7" y="84.2"/>
<use href="#cR" x="636.7" y="69.4"/>
<use href="#sL" x="637.9" y="79.2"/>
<use href="#cR" x="633.0" y="99.6"/>
<use href="#cR" x="638.1" y="85.9"/>
<use href="#sL" x="638.8" y="86.6"/>
<use href="#dS" x="629.5" y="54.5"/>
<use href="#dR" x="635.4" y="57.1"/>
<use href="#dS" x="636.0" y="61.4"/>
<use href="#dR" x="631.9" y="59.9"/>
<use href="#dR" x="123.8" y="121.9"/>
<use href="#dR" x="148.8" y="113.6"/>
<use href="#dR" x="190.9" y="105.3"/>
<use href="#dR" x="215.0" y="97.8"/>
<use href="#dR" x="264.9" y="94.3"/>
<use href="#dR" x="289.4" y="96.0"/>
<use href="#dR" x="339.3" y="114.5"/>
<use href="#dR" x="463.5" y="109.3"/>
<use href="#dR" x="488.6" y="117.0"/>
<use href="#dR" x="397.5" y="130.5"/>
<use href="#dR" x="421.9" y="129.0"/>
<use href="#dR" x="604.3" y="95.6"/>
<use href="#dR" x="521.5" y="126.8"/>
<use href="#dR" x="546.1" y="123.4"/>
<use href="#sR" x="140.5" y="123.2"/>
<use href="#sR" x="256.6" y="154.8"/>
<use href="#sR" x="281.5" y="150.8"/>
<use href="#sR" x="207.0" y="134.2"/>
<use href="#sR" x="330.6" y="141.6"/>
<use href="#sR" x="405.5" y="134.8"/>
<use href="#sR" x="421.9" y="101.2"/>
<use href="#sR" x="538.0" y="164.0"/>
<use href="#sR" x="587.8" y="163.5"/>
<use href="#sR" x="612.5" y="162.7"/>
<use href="#sR" x="355.7" y="137.0"/>
<use href="#cR" x="123.8" y="155.6"/>
<use href="#cR" x="148.8" y="150.8"/>
<use href="#cR" x="198.3" y="126.7"/>
<use href="#cR" x="222.8" y="140.7"/>
<use href="#cR" x="272.8" y="105.7"/>
<use href="#cR" x="330.6" y="108.8"/>
<use href="#cR" x="355.8" y="104.6"/>
<use href="#cR" x="397.4" y="106.5"/>
<use href="#cR" x="422.1" y="101.1"/>
<use href="#cR" x="463.5" y="117.5"/>
<use href="#cR" x="546.1" y="118.7"/>
<use href="#cR" x="521.5" y="133.7"/>
<use href="#cR" x="488.2" y="123.4"/>
<polygon points="49.5,259.0 99.5,259.0 99.5,274.0 95.0,276.0 90.0,277.0 85.0,275.0 80.0,276.0 75.0,275.0 70.0,275.0 65.0,273.0 60.0,274.0 55.0,273.0 49.5,272.0" fill="#b3b3b3"/>
<use href="#tL" x="62.5" y="269.9"/>
<use href="#tD" x="67.5" y="269.9"/>
<use href="#tD" x="93.6" y="266.4"/>
<use href="#tD" x="56.0" y="259.2"/>
<use href="#tL" x="90.6" y="267.4"/>
<use href="#tL" x="71.7" y="259.5"/>
<use href="#tL" x="55.4" y="259.0"/>
<use href="#tD" x="93.5" y="259.9"/>
<use href="#tD" x="65.9" y="267.5"/>
<use href="#tL" x="78.0" y="263.0"/>
<use href="#tL" x="81.5" y="270.5"/>
<use href="#tD" x="97.8" y="260.7"/>
<use href="#tD" x="64.7" y="260.9"/>
<use href="#tL" x="64.4" y="262.8"/>
<use href="#tL" x="63.7" y="272.4"/>
<use href="#tL" x="89.6" y="273.3"/>
<use href="#tD" x="51.7" y="269.6"/>
<use href="#tD" x="91.4" y="270.4"/>
<use href="#tL" x="79.5" y="266.7"/>
<use href="#tL" x="90.0" y="268.6"/>
<use href="#tL" x="67.4" y="267.9"/>
<use href="#tD" x="73.1" y="262.4"/>
<use href="#tL" x="82.8" y="274.0"/>
<use href="#tD" x="81.9" y="259.2"/>
<use href="#tD" x="69.9" y="272.8"/>
<use href="#tL" x="56.8" y="268.1"/>
<use href="#tL" x="83.3" y="268.6"/>
<use href="#tL" x="66.4" y="259.3"/>
<use href="#tL" x="84.3" y="262.0"/>
<use href="#tL" x="79.4" y="268.4"/>
<use href="#tD" x="85.2" y="261.0"/>
<use href="#tL" x="97.2" y="272.5"/>
<use href="#tL" x="92.4" y="262.3"/>
<use href="#tL" x="85.1" y="265.8"/>
<use href="#tL" x="84.1" y="271.6"/>
<use href="#tD" x="71.5" y="267.4"/>
<use href="#tL" x="84.8" y="261.7"/>
<use href="#tD" x="93.5" y="265.0"/>
<use href="#tD" x="93.1" y="261.6"/>
<use href="#tL" x="56.4" y="269.6"/>
<use href="#tL" x="62.1" y="266.9"/>
<use href="#tL" x="60.1" y="272.0"/>
<use href="#tD" x="85.9" y="271.4"/>
<use href="#tL" x="56.9" y="259.8"/>
<use href="#tD" x="78.5" y="260.5"/>
<use href="#tL" x="84.9" y="268.8"/>
<use href="#tL" x="95.3" y="273.7"/>
<use href="#tD" x="82.0" y="273.9"/>
<use href="#tL" x="74.9" y="264.2"/>
<use href="#tL" x="53.4" y="271.7"/>
<use href="#tL" x="82.5" y="270.4"/>
<use href="#tD" x="75.1" y="267.2"/>
<use href="#tD" x="94.6" y="265.8"/>
<use href="#tL" x="87.0" y="275.1"/>
<use href="#tD" x="97.8" y="266.9"/>
<use href="#tD" x="58.0" y="267.9"/>
<use href="#tL" x="74.0" y="266.0"/>
<use href="#tL" x="88.2" y="263.5"/>
<use href="#tL" x="97.1" y="262.8"/>
<use href="#tD" x="61.7" y="272.0"/>
<use href="#tL" x="63.6" y="266.4"/>
<use href="#tD" x="73.0" y="263.4"/>
<use href="#tL" x="90.0" y="275.9"/>
<use href="#tL" x="94.9" y="261.9"/>
<use href="#tD" x="51.7" y="266.9"/>
<use href="#tD" x="86.0" y="268.8"/>
<use href="#tD" x="83.3" y="263.7"/>
<use href="#tD" x="69.8" y="260.2"/>
<use href="#tL" x="69.4" y="272.5"/>
<use href="#tD" x="65.7" y="262.3"/>
<use href="#tL" x="76.4" y="275.1"/>
<use href="#tL" x="81.5" y="261.0"/>
<use href="#tL" x="71.2" y="263.1"/>
<use href="#tL" x="89.5" y="266.5"/>
<use href="#tD" x="71.8" y="274.8"/>
<use href="#tL" x="64.8" y="267.1"/>
<use href="#tL" x="97.6" y="264.5"/>
<use href="#tL" x="76.4" y="270.7"/>
<use href="#tD" x="66.6" y="270.3"/>
<use href="#tL" x="70.7" y="274.0"/>
<use href="#tL" x="77.2" y="272.1"/>
<use href="#tL" x="78.0" y="271.5"/>
<use href="#tL" x="69.2" y="261.7"/>
<use href="#tL" x="68.0" y="264.9"/>
<use href="#tL" x="75.7" y="267.6"/>
<use href="#tL" x="84.3" y="260.2"/>
<use href="#tL" x="56.5" y="271.9"/>
<use href="#tD" x="91.7" y="266.3"/>
<use href="#tD" x="67.0" y="266.8"/>
<use href="#tL" x="87.4" y="267.3"/>
<use href="#tL" x="86.4" y="268.2"/>
<use href="#tD" x="86.1" y="267.9"/>
<use href="#tL" x="78.4" y="266.6"/>
<use href="#tL" x="77.8" y="269.1"/>
<use href="#cL" x="98.4" y="259.0"/>
<use href="#sO" x="59.5" y="258.7"/>
<use href="#cL" x="87.5" y="259.1"/>
<use href="#cL" x="57.0" y="259.3"/>
<use href="#cL" x="63.9" y="258.6"/>
<use href="#cO" x="52.0" y="259.4"/>
<use href="#cO" x="76.4" y="258.6"/>
<use href="#cL" x="79.2" y="259.2"/>
<use href="#cO" x="58.4" y="258.9"/>
<use href="#cO" x="72.3" y="258.7"/>
<use href="#sO" x="72.5" y="258.8"/>
<use href="#cO" x="62.2" y="258.9"/>
<use href="#sO" x="82.4" y="258.4"/>
<use href="#cO" x="61.5" y="258.9"/>
<use href="#cO" x="56.5" y="259.3"/>
<use href="#cL" x="91.4" y="258.7"/>
<use href="#cO" x="98.4" y="275.0"/>
<use href="#cO" x="91.4" y="276.3"/>
<use href="#sO" x="85.8" y="274.7"/>
<use href="#sO" x="81.9" y="275.1"/>
<use href="#cO" x="76.1" y="275.3"/>
<use href="#cO" x="73.3" y="275.3"/>
<use href="#sO" x="66.9" y="273.7"/>
<use href="#cO" x="63.9" y="273.1"/>
<use href="#cO" x="60.3" y="274.7"/>
<use href="#sO" x="54.8" y="272.2"/>
<use href="#cO" x="56.7" y="273.0"/>
<use href="#sO" x="58.1" y="274.6"/>
<use href="#cO" x="79.5" y="275.5"/>
<use href="#cO" x="93.5" y="275.3"/>
<use href="#cO" x="88.0" y="269.4"/>
<use href="#sO" x="92.9" y="279.2"/>
<use href="#sO" x="79.4" y="277.9"/>
<use href="#cO" x="77.4" y="273.2"/>
<use href="#cO" x="58.7" y="273.8"/>
<use href="#cO" x="85.2" y="277.5"/>
<use href="#cO" x="93.9" y="274.2"/>
<use href="#cO" x="96.4" y="272.5"/>
<use href="#cO" x="51.9" y="273.1"/>
<use href="#sO" x="77.0" y="277.3"/>
<use href="#sO" x="62.2" y="268.3"/>
<use href="#cO" x="85.7" y="270.3"/>
<polygon points="49.5,246.0 53.0,245.0 56.0,243.0 59.0,244.0 62.0,244.5 66.0,244.0 70.0,245.0 75.0,244.0 80.0,243.0 85.0,243.0 90.0,242.5 95.0,242.0 99.5,243.0 99.5,262.0 90.0,262.0 80.0,262.0 70.0,261.0 60.0,262.0 49.5,261.0" fill="#6e6e6e"/>
<use href="#tL" x="79.4" y="260.5"/>
<use href="#tL" x="76.3" y="249.0"/>
<use href="#tD" x="69.5" y="249.9"/>
<use href="#tD" x="92.8" y="247.7"/>
<use href="#tL" x="83.7" y="253.3"/>
<use href="#tD" x="64.1" y="260.2"/>
<use href="#tL" x="62.8" y="248.0"/>
<use href="#tL" x="59.7" y="256.0"/>
<use href="#tD" x="83.8" y="249.3"/>
<use href="#tL" x="56.1" y="253.9"/>
<use href="#tL" x="66.7" y="253.0"/>
<use href="#tL" x="52.7" y="258.4"/>
<use href="#tL" x="92.2" y="243.7"/>
<use href="#tL" x="61.2" y="250.5"/>
<use href="#tD" x="90.5" y="248.2"/>
<use href="#tL" x="96.4" y="243.8"/>
<use href="#tL" x="94.0" y="243.1"/>
<use href="#tL" x="79.4" y="261.4"/>
<use href="#tD" x="85.1" y="260.3"/>
<use href="#tL" x="67.4" y="261.1"/>
<use href="#tL" x="93.9" y="247.5"/>
<use href="#tL" x="87.5" y="260.4"/>
<use href="#tL" x="60.8" y="249.8"/>
<use href="#tL" x="87.5" y="253.5"/>
<use href="#tL" x="94.6" y="250.7"/>
<use href="#tD" x="72.0" y="245.3"/>
<use href="#tD" x="63.7" y="259.5"/>
<use href="#tL" x="63.0" y="259.9"/>
<use href="#tL" x="89.0" y="253.4"/>
<use href="#tL" x="56.2" y="258.6"/>
<use href="#tL" x="96.5" y="261.2"/>
<use href="#tL" x="63.9" y="260.7"/>
<use href="#tL" x="71.6" y="249.4"/>
<use href="#tL" x="94.1" y="258.4"/>
<use href="#tL" x="83.1" y="247.7"/>
<use href="#tD" x="55.6" y="245.7"/>
<use href="#tL" x="63.1" y="245.8"/>
<use href="#tD" x="77.9" y="248.3"/>
<use href="#tD" x="60.8" y="259.5"/>
<use href="#tL" x="51.0" y="253.0"/>
<use href="#tL" x="51.9" y="253.1"/>
<use href="#tL" x="51.7" y="251.4"/>
<use href="#tL" x="80.2" y="252.8"/>
<use href="#tL" x="60.9" y="258.8"/>
<use href="#tL" x="97.2" y="258.3"/>
<use href="#tD" x="95.2" y="261.4"/>
<use href="#tL" x="68.2" y="252.9"/>
<use href="#tL" x="70.4" y="257.7"/>
<use href="#tD" x="58.6" y="246.5"/>
<use href="#tL" x="72.2" y="252.9"/>
<use href="#tL" x="98.1" y="248.7"/>
<use href="#tL" x="50.7" y="249.8"/>
<use href="#tD" x="92.6" y="243.9"/>
<use href="#tL" x="75.4" y="254.0"/>
<use href="#tD" x="90.8" y="248.5"/>
<use href="#tD" x="79.7" y="261.0"/>
<use href="#tL" x="97.2" y="253.3"/>
<use href="#tD" x="66.7" y="255.0"/>
<use href="#tD" x="85.6" y="255.6"/>
<use href="#tD" x="82.9" y="249.7"/>
<use href="#tL" x="84.9" y="249.0"/>
<use href="#tL" x="77.1" y="245.4"/>
<use href="#tL" x="64.0" y="248.0"/>
<use href="#tL" x="68.4" y="250.3"/>
<use href="#tL" x="97.3" y="252.5"/>
<use href="#tD" x="76.9" y="250.0"/>
<use href="#tD" x="76.8" y="258.3"/>
<use href="#tL" x="75.6" y="252.2"/>
<use href="#tD" x="67.4" y="245.7"/>
<use href="#tD" x="70.5" y="253.5"/>
<use href="#tL" x="56.0" y="257.1"/>
<use href="#tL" x="72.2" y="254.5"/>
<use href="#sO" x="50.5" y="245.7"/>
<use href="#sO" x="55.9" y="243.4"/>
<use href="#cL" x="58.0" y="244.0"/>
<use href="#sO" x="59.5" y="244.4"/>
<use href="#cO" x="65.4" y="243.8"/>
<use href="#cL" x="67.4" y="243.7"/>
<use href="#cL" x="70.7" y="244.2"/>
<use href="#cO" x="80.4" y="242.3"/>
<use href="#sO" x="81.1" y="242.9"/>
<use href="#sO" x="87.4" y="243.2"/>
<use href="#sO" x="93.2" y="242.1"/>
<use href="#cO" x="96.2" y="242.6"/>
<use href="#sO" x="93.2" y="261.6"/>
<use href="#sO" x="92.6" y="262.6"/>
<use href="#sO" x="95.1" y="261.8"/>
<use href="#cO" x="84.0" y="261.7"/>
<use href="#cL" x="85.8" y="261.3"/>
<use href="#cL" x="88.0" y="261.3"/>
<use href="#sO" x="73.8" y="261.0"/>
<use href="#cO" x="72.7" y="260.8"/>
<use href="#sO" x="76.3" y="262.0"/>
<use href="#sO" x="60.5" y="261.5"/>
<use href="#sO" x="61.7" y="261.7"/>
<use href="#sO" x="64.7" y="262.2"/>
<use href="#cL" x="55.4" y="261.6"/>
<use href="#sO" x="52.4" y="261.7"/>
<use href="#sO" x="57.7" y="262.5"/>
<use href="#dO" x="60.3" y="257.5"/>
<use href="#cO" x="53.0" y="255.0"/>
<use href="#dO" x="64.2" y="252.3"/>
<use href="#cO" x="65.5" y="245.4"/>
<use href="#sO" x="81.4" y="258.9"/>
<use href="#dO" x="74.2" y="252.2"/>
<use href="#cO" x="56.1" y="259.6"/>
<use href="#dO" x="65.0" y="245.3"/>
<use href="#dO" x="70.9" y="253.7"/>
<use href="#dO" x="53.0" y="245.6"/>
<use href="#dO" x="75.5" y="246.3"/>
<use href="#cO" x="92.4" y="244.2"/>
<use href="#sO" x="86.0" y="259.9"/>
<use href="#sO" x="74.9" y="250.1"/>
<use href="#sO" x="81.0" y="252.9"/>
<use href="#cO" x="63.3" y="245.7"/>
<use href="#dO" x="94.9" y="246.4"/>
<use href="#sO" x="51.4" y="250.4"/>
<use href="#dO" x="64.6" y="252.3"/>
<use href="#dO" x="55.8" y="251.5"/>
<use href="#dO" x="65.5" y="246.6"/>
<use href="#dO" x="93.7" y="246.0"/>
<use href="#cO" x="90.1" y="260.7"/>
<use href="#sO" x="78.1" y="256.0"/>
<use href="#dO" x="92.4" y="260.2"/>
<use href="#sO" x="87.0" y="248.6"/>
<use href="#cO" x="61.6" y="250.7"/>
<use href="#sO" x="86.5" y="255.6"/>
<use href="#cO" x="67.4" y="250.5"/>
<use href="#sO" x="90.0" y="257.9"/>
<use href="#cO" x="76.1" y="244.3"/>
<use href="#cO" x="64.5" y="247.6"/>
<use href="#cO" x="72.2" y="252.4"/>
<use href="#sO" x="92.6" y="244.7"/>
<use href="#cO" x="86.8" y="252.3"/>
<use href="#sO" x="53.9" y="247.7"/>
<use href="#dO" x="76.0" y="250.0"/>
<use href="#sO" x="88.7" y="257.5"/>
<use href="#dO" x="63.5" y="254.6"/>
<use href="#sO" x="94.3" y="260.3"/>
<use href="#tD" x="54.7" y="249.7"/>
<use href="#tD" x="68.8" y="250.1"/>
<use href="#tK" x="98.1" y="256.4"/>
<use href="#tK" x="72.4" y="250.0"/>
<use href="#tD" x="60.8" y="245.1"/>
<use href="#tD" x="73.1" y="254.8"/>
<use href="#tK" x="54.8" y="251.5"/>
<use href="#tK" x="58.2" y="254.0"/>
<use href="#tK" x="66.7" y="255.3"/>
<use href="#tD" x="88.6" y="250.1"/>
<use href="#tK" x="60.1" y="254.4"/>
<use href="#tK" x="89.8" y="244.8"/>
<use href="#tK" x="98.3" y="260.3"/>
<use href="#tK" x="67.8" y="252.8"/>
<use href="#tK" x="83.1" y="248.6"/>
<use href="#tD" x="67.8" y="256.4"/>
<use href="#tD" x="73.7" y="250.7"/>
<use href="#tD" x="77.6" y="244.3"/>
<use href="#tD" x="73.0" y="247.9"/>
<use href="#tD" x="57.9" y="252.5"/>
<use href="#tD" x="84.6" y="252.5"/>
<use href="#tK" x="74.4" y="255.4"/>
<use href="#tD" x="77.9" y="255.9"/>
<use href="#tK" x="68.6" y="250.0"/>
<use href="#tK" x="66.6" y="246.9"/>
<use href="#tK" x="89.1" y="259.3"/>
<use href="#tD" x="63.5" y="253.3"/>
<use href="#tD" x="72.5" y="244.6"/>
<use href="#tK" x="86.2" y="252.6"/>
<use href="#tD" x="99.0" y="260.2"/>
<use href="#tK" x="94.7" y="247.2"/>
<use href="#tD" x="55.0" y="258.2"/>
<use href="#tK" x="54.9" y="255.7"/>
<use href="#tK" x="58.3" y="256.1"/>
<use href="#tK" x="92.9" y="252.3"/>
<use href="#tD" x="88.7" y="246.5"/>
<use href="#tD" x="84.8" y="249.7"/>
<use href="#tD" x="72.7" y="248.3"/>
<use href="#tD" x="60.9" y="248.1"/>
<use href="#tD" x="63.1" y="245.8"/>
<use href="#tK" x="93.2" y="249.6"/>
<use href="#tD" x="77.5" y="258.2"/>
<use href="#tD" x="83.4" y="245.1"/>
<use href="#tK" x="97.1" y="260.6"/>
<use href="#tD" x="91.5" y="248.6"/>
<use href="#tD" x="91.0" y="254.8"/>
<use href="#tK" x="51.1" y="249.6"/>
<use href="#tD" x="84.4" y="252.9"/>
<use href="#tD" x="96.9" y="257.8"/>
<use href="#tK" x="91.3" y="261.6"/>
<use href="#tD" x="66.7" y="260.2"/>
<use href="#tK" x="49.6" y="258.0"/>
<use href="#tK" x="53.9" y="252.0"/>
<use href="#tK" x="81.3" y="257.8"/>
<use href="#tK" x="60.7" y="246.9"/>
<use href="#tK" x="88.0" y="252.6"/>
<use href="#tD" x="50.4" y="248.1"/>
<use href="#tK" x="96.7" y="247.5"/>
<use href="#tK" x="64.0" y="251.0"/>
<use href="#tK" x="93.8" y="258.2"/>
<use href="#dO" x="58.2" y="246.1"/>
<use href="#dO" x="59.5" y="242.3"/>
<use href="#dO" x="57.4" y="247.0"/>
<use href="#dK" x="61.4" y="241.2"/>
<use href="#dO" x="60.0" y="243.9"/>
<use href="#dO" x="60.1" y="239.7"/>
<use href="#dO" x="57.7" y="245.8"/>
<use href="#tK" x="57.3" y="247.5"/>
<use href="#tK" x="59.6" y="245.3"/>
<use href="#tK" x="59.5" y="243.6"/>
<use href="#tK" x="60.9" y="238.6"/>
<use href="#tK" x="58.4" y="240.2"/>
<use href="#tK" x="59.5" y="241.9"/>
<use href="#tK" x="61.1" y="240.3"/>
<use href="#tK" x="57.8" y="247.2"/>
<use href="#tK" x="60.1" y="242.3"/>
<use href="#tK" x="58.4" y="245.3"/>
<use href="#tK" x="57.2" y="245.2"/>
<use href="#tK" x="57.6" y="246.1"/>
<use href="#dO" x="70.5" y="245.5"/>
<use href="#dO" x="71.1" y="246.5"/>
<use href="#dO" x="67.9" y="249.1"/>
<use href="#dK" x="71.3" y="245.5"/>
<use href="#dK" x="69.6" y="248.1"/>
<use href="#tK" x="71.4" y="245.4"/>
<use href="#tK" x="70.6" y="245.8"/>
<use href="#tK" x="68.1" y="248.3"/>
<use href="#tK" x="71.6" y="244.7"/>
<use href="#tK" x="67.3" y="249.2"/>
<use href="#tK" x="70.5" y="247.5"/>
<use href="#tK" x="70.5" y="245.1"/>
<use href="#tK" x="67.1" y="246.2"/>
<use href="#tK" x="72.3" y="247.9"/>
<use href="#dO" x="81.9" y="260.4"/>
<use href="#dO" x="88.4" y="261.3"/>
<use href="#dK" x="84.7" y="258.8"/>
<use href="#dO" x="91.4" y="257.5"/>
<use href="#dO" x="85.2" y="261.1"/>
<use href="#dO" x="89.1" y="258.9"/>
<use href="#dO" x="80.2" y="260.6"/>
<use href="#dO" x="85.8" y="257.4"/>
<use href="#dK" x="85.4" y="256.8"/>
<use href="#dK" x="91.8" y="260.8"/>
<use href="#dO" x="93.5" y="260.0"/>
<use href="#dO" x="82.3" y="258.5"/>
<use href="#tK" x="84.6" y="257.3"/>
<use href="#tK" x="86.4" y="259.0"/>
<use href="#tK" x="88.9" y="257.0"/>
<use href="#tK" x="86.5" y="257.8"/>
<use href="#tK" x="84.7" y="259.5"/>
<use href="#tK" x="83.1" y="256.0"/>
<use href="#tK" x="85.3" y="258.3"/>
<use href="#tK" x="89.7" y="259.6"/>
<use href="#tK" x="87.0" y="256.5"/>
<use href="#tK" x="92.9" y="257.9"/>
<use href="#tK" x="85.8" y="258.1"/>
<use href="#tK" x="88.9" y="261.7"/>
<use href="#tK" x="82.7" y="257.3"/>
<use href="#tK" x="82.3" y="261.5"/>
<use href="#tK" x="83.4" y="256.4"/>
<use href="#tK" x="81.5" y="258.1"/>
<use href="#tK" x="90.5" y="256.5"/>
<use href="#tK" x="89.3" y="261.3"/>
<use href="#tK" x="84.5" y="260.5"/>
<use href="#tK" x="87.3" y="259.9"/>
<use href="#tK" x="91.4" y="256.5"/>
<use href="#dO" x="97.5" y="256.2"/>
<use href="#dK" x="95.1" y="257.9"/>
<use href="#dK" x="98.8" y="261.7"/>
<use href="#tK" x="95.4" y="261.5"/>
<use href="#tK" x="95.4" y="259.3"/>
<use href="#tK" x="98.7" y="256.2"/>
<use href="#tK" x="98.8" y="257.4"/>
<use href="#tK" x="96.5" y="257.6"/>
<use href="#tK" x="95.3" y="259.9"/>
<use href="#dO" x="53.2" y="249.7"/>
<use href="#dO" x="52.8" y="251.5"/>
<use href="#dO" x="52.1" y="249.7"/>
<use href="#tK" x="57.4" y="250.3"/>
<use href="#tK" x="56.4" y="249.1"/>
<use href="#tK" x="52.1" y="251.2"/>
<use href="#tK" x="53.3" y="250.1"/>
<use href="#tK" x="52.9" y="251.0"/>
<use href="#tK" x="57.1" y="248.1"/>
<use href="#sS" x="56.0" y="241.0"/>
<use href="#sS" x="76.0" y="240.0"/>
<use href="#sS" x="80.0" y="240.8"/>
<use href="#sS" x="85.0" y="242.0"/>
<use href="#sS" x="95.0" y="237.3"/>
<use href="#sS" x="91.0" y="241.7"/>
<use href="#sS" x="63.0" y="243.0"/>
<use href="#dS" x="58.0" y="236.4"/>
<use href="#dS" x="60.0" y="239.0"/>
<use href="#dS" x="98.0" y="240.0"/>
<use href="#dS" x="104.3" y="254.5"/>
<use href="#dS" x="113.1" y="266.5"/>
<use href="#sS" x="107.7" y="261.0"/>
<use href="#cS" x="104.7" y="265.7"/>
<polygon points="116.0,286.0 116.0,262.0 118.0,258.0 121.0,257.0 124.0,256.0 127.0,253.0 128.5,247.0 129.5,238.0 131.0,228.0 133.0,218.0 135.0,211.0 138.0,207.0 141.0,207.0 145.0,208.0 148.0,210.0 150.0,211.0 152.0,207.0 156.0,205.0 160.0,205.0 164.0,204.0 165.0,205.0 165.0,232.0 162.0,233.0 160.0,238.0 158.0,238.0 155.0,235.0 152.0,238.0 148.0,242.0 145.0,247.0 143.0,251.0 140.0,254.0 136.0,256.0 134.0,262.0 132.0,268.0 130.0,275.0 128.0,280.0 126.0,284.0 122.0,284.0 119.0,286.0" fill="#9d9d9d"/>
<use href="#tL" x="135.4" y="251.3"/>
<use href="#tD" x="162.6" y="223.9"/>
<use href="#tL" x="160.2" y="228.6"/>
<use href="#tL" x="143.0" y="219.8"/>
<use href="#tL" x="161.5" y="207.4"/>
<use href="#tL" x="156.6" y="218.9"/>
<use href="#tL" x="153.0" y="220.1"/>
<use href="#tD" x="129.9" y="266.0"/>
<use href="#tL" x="120.2" y="259.5"/>
<use href="#tL" x="132.5" y="258.9"/>
<use href="#tD" x="118.4" y="281.0"/>
<use href="#tD" x="152.0" y="208.9"/>
<use href="#tD" x="152.0" y="235.2"/>
<use href="#tD" x="126.4" y="277.0"/>
<use href="#tL" x="148.2" y="232.6"/>
<use href="#tL" x="152.1" y="225.9"/>
<use href="#tL" x="163.4" y="226.9"/>
<use href="#tL" x="123.6" y="272.0"/>
<use href="#tL" x="152.9" y="221.3"/>
<use href="#tL" x="118.5" y="284.5"/>
<use href="#tL" x="149.8" y="219.1"/>
<use href="#tL" x="127.0" y="269.0"/>
<use href="#tL" x="123.5" y="268.3"/>
<use href="#tL" x="154.3" y="231.3"/>
<use href="#tL" x="161.1" y="231.6"/>
<use href="#tD" x="146.5" y="225.0"/>
<use href="#tD" x="151.0" y="227.2"/>
<use href="#tL" x="155.9" y="215.5"/>
<use href="#tL" x="145.2" y="225.4"/>
<use href="#tD" x="154.4" y="221.4"/>
<use href="#tL" x="127.4" y="258.4"/>
<use href="#tD" x="122.0" y="257.5"/>
<use href="#tL" x="135.4" y="228.0"/>
<use href="#tL" x="129.6" y="277.3"/>
<use href="#tD" x="156.2" y="219.8"/>
<use href="#tD" x="144.7" y="220.2"/>
<use href="#tL" x="118.2" y="270.2"/>
<use href="#tD" x="157.3" y="234.7"/>
<use href="#tD" x="133.2" y="261.5"/>
<use href="#tL" x="141.9" y="231.0"/>
<use href="#tL" x="141.7" y="225.8"/>
<use href="#tL" x="140.0" y="245.2"/>
<use href="#tL" x="131.1" y="243.7"/>
<use href="#tL" x="121.5" y="284.1"/>
<use href="#tD" x="138.3" y="246.7"/>
<use href="#tL" x="127.6" y="277.0"/>
<use href="#tL" x="136.8" y="237.3"/>
<use href="#tD" x="137.0" y="220.6"/>
<use href="#tL" x="139.5" y="229.1"/>
<use href="#tL" x="129.1" y="267.4"/>
<use href="#tL" x="133.4" y="255.3"/>
<use href="#tD" x="156.8" y="205.5"/>
<use href="#tL" x="121.8" y="282.8"/>
<use href="#tD" x="144.0" y="244.3"/>
<use href="#tD" x="119.7" y="278.8"/>
<use href="#tD" x="128.5" y="267.1"/>
<use href="#tL" x="130.4" y="250.9"/>
<use href="#tD" x="150.6" y="222.5"/>
<use href="#tL" x="135.8" y="240.6"/>
<use href="#tL" x="134.3" y="217.5"/>
<use href="#tD" x="122.8" y="263.6"/>
<use href="#tL" x="126.2" y="279.0"/>
<use href="#tL" x="142.0" y="241.6"/>
<use href="#tL" x="154.8" y="214.2"/>
<use href="#tD" x="145.2" y="226.3"/>
<use href="#tD" x="135.6" y="256.8"/>
<use href="#tL" x="124.3" y="274.1"/>
<use href="#tL" x="135.6" y="225.1"/>
<use href="#tL" x="133.4" y="228.4"/>
<use href="#tL" x="136.6" y="235.4"/>
<use href="#tL" x="133.1" y="245.7"/>
<use href="#tL" x="156.6" y="231.2"/>
<use href="#tD" x="123.2" y="266.2"/>
<use href="#tL" x="142.3" y="242.4"/>
<use href="#tD" x="159.4" y="210.2"/>
<use href="#tD" x="156.1" y="230.4"/>
<use href="#tL" x="136.5" y="232.2"/>
<use href="#tL" x="123.4" y="277.9"/>
<use href="#tD" x="149.5" y="235.8"/>
<use href="#tL" x="142.1" y="221.1"/>
<use href="#tL" x="125.6" y="262.4"/>
<use href="#tL" x="160.6" y="220.7"/>
<use href="#tL" x="136.6" y="223.5"/>
<use href="#tL" x="148.2" y="223.7"/>
<use href="#tL" x="145.9" y="229.1"/>
<use href="#tD" x="135.9" y="239.0"/>
<use href="#tD" x="138.0" y="221.4"/>
<use href="#tD" x="119.0" y="260.8"/>
<use href="#tD" x="134.3" y="227.9"/>
<use href="#tD" x="158.7" y="223.4"/>
<use href="#tL" x="138.9" y="238.8"/>
<use href="#tL" x="118.0" y="279.7"/>
<use href="#tL" x="162.0" y="223.5"/>
<use href="#tD" x="162.6" y="226.5"/>
<use href="#tD" x="133.6" y="243.5"/>
<use href="#tL" x="159.2" y="233.7"/>
<use href="#tL" x="158.0" y="220.1"/>
<use href="#tL" x="137.7" y="246.7"/>
<use href="#tD" x="157.0" y="223.7"/>
<use href="#tL" x="138.9" y="225.0"/>
<use href="#tL" x="153.4" y="232.2"/>
<use href="#tL" x="145.9" y="239.3"/>
<use href="#tD" x="127.9" y="270.7"/>
<use href="#tD" x="142.8" y="222.8"/>
<use href="#tD" x="130.1" y="259.0"/>
<use href="#tL" x="144.0" y="245.1"/>
<use href="#tL" x="145.3" y="230.4"/>
<use href="#tL" x="131.1" y="266.4"/>
<use href="#tL" x="153.9" y="219.2"/>
<use href="#tL" x="148.7" y="227.6"/>
<use href="#tD" x="139.0" y="236.5"/>
<use href="#tD" x="128.8" y="259.2"/>
<use href="#tL" x="152.6" y="232.9"/>
<use href="#tL" x="155.7" y="209.4"/>
<use href="#tL" x="134.5" y="231.8"/>
<use href="#tL" x="160.8" y="212.0"/>
<use href="#tL" x="163.5" y="208.1"/>
<use href="#tL" x="148.0" y="218.0"/>
<use href="#tL" x="137.5" y="216.3"/>
<use href="#tL" x="126.5" y="260.1"/>
<use href="#tL" x="162.6" y="211.3"/>
<use href="#tL" x="156.4" y="232.2"/>
<use href="#tD" x="126.5" y="257.7"/>
<use href="#tL" x="157.0" y="217.7"/>
<use href="#tL" x="163.5" y="206.1"/>
<use href="#tL" x="137.1" y="220.6"/>
<use href="#tL" x="158.5" y="216.0"/>
<use href="#tD" x="154.1" y="213.7"/>
<use href="#tL" x="134.0" y="238.1"/>
<use href="#tL" x="137.2" y="251.4"/>
<use href="#tL" x="136.3" y="235.4"/>
<use href="#tL" x="129.0" y="263.3"/>
<use href="#tD" x="137.7" y="237.7"/>
<use href="#tL" x="136.0" y="247.9"/>
<use href="#tD" x="140.2" y="228.1"/>
<use href="#tD" x="136.6" y="239.3"/>
<use href="#tL" x="130.5" y="241.4"/>
<use href="#tD" x="127.4" y="282.1"/>
<use href="#tD" x="139.3" y="228.9"/>
<use href="#tD" x="145.2" y="222.0"/>
<use href="#tL" x="148.1" y="222.4"/>
<use href="#tL" x="119.3" y="278.4"/>
<use href="#tL" x="133.8" y="248.5"/>
<use href="#tL" x="154.5" y="217.7"/>
<use href="#tL" x="118.7" y="282.4"/>
<use href="#tL" x="122.7" y="280.4"/>
<use href="#tD" x="128.6" y="252.4"/>
<use href="#tL" x="144.5" y="229.4"/>
<use href="#tD" x="161.8" y="205.6"/>
<use href="#tL" x="124.8" y="258.7"/>
<use href="#tL" x="138.5" y="250.8"/>
<use href="#tL" x="131.8" y="260.1"/>
<use href="#tD" x="124.4" y="256.3"/>
<use href="#tD" x="148.3" y="235.8"/>
<use href="#tL" x="162.2" y="213.5"/>
<use href="#tL" x="142.5" y="214.3"/>
<use href="#tD" x="146.1" y="225.6"/>
<use href="#tL" x="140.3" y="236.0"/>
<use href="#tD" x="152.7" y="215.6"/>
<use href="#tL" x="149.3" y="229.8"/>
<use href="#tL" x="134.1" y="235.1"/>
<use href="#tD" x="154.5" y="223.7"/>
<use href="#tD" x="133.0" y="265.1"/>
<use href="#tD" x="138.6" y="221.2"/>
<use href="#tL" x="150.5" y="236.8"/>
<use href="#tL" x="125.6" y="258.8"/>
<use href="#tL" x="151.8" y="228.0"/>
<use href="#tL" x="143.2" y="245.8"/>
<use href="#tD" x="159.5" y="218.1"/>
<use href="#tL" x="138.9" y="240.7"/>
<use href="#tL" x="134.7" y="219.3"/>
<use href="#tL" x="135.0" y="248.5"/>
<use href="#tL" x="139.7" y="232.4"/>
<use href="#tL" x="133.5" y="264.3"/>
<use href="#tL" x="150.7" y="236.5"/>
<use href="#tL" x="141.9" y="222.7"/>
<use href="#tD" x="117.1" y="265.9"/>
<use href="#tD" x="138.9" y="225.8"/>
<use href="#tD" x="150.1" y="238.3"/>
<use href="#tD" x="153.2" y="216.5"/>
<use href="#tL" x="126.6" y="256.3"/>
<use href="#tL" x="123.1" y="276.7"/>
<use href="#tD" x="129.3" y="250.1"/>
<use href="#tL" x="153.0" y="232.3"/>
<use href="#tL" x="149.4" y="229.5"/>
<use href="#tL" x="127.4" y="277.4"/>
<use href="#tL" x="144.1" y="230.4"/>
<use href="#tL" x="141.8" y="229.9"/>
<use href="#tD" x="129.2" y="272.1"/>
<use href="#tL" x="118.3" y="282.0"/>
<use href="#tL" x="163.5" y="211.5"/>
<use href="#tD" x="159.3" y="205.7"/>
<use href="#tL" x="141.7" y="219.4"/>
<use href="#tD" x="141.9" y="210.5"/>
<use href="#tL" x="131.2" y="258.9"/>
<use href="#tL" x="123.3" y="276.3"/>
<use href="#tL" x="126.9" y="280.4"/>
<use href="#tL" x="130.3" y="259.9"/>
<use href="#tL" x="120.3" y="283.7"/>
<use href="#tD" x="154.1" y="230.7"/>
<use href="#tD" x="142.6" y="235.9"/>
<use href="#tL" x="120.6" y="279.4"/>
<use href="#tD" x="147.0" y="241.7"/>
<use href="#tD" x="126.9" y="273.7"/>
<use href="#tD" x="141.8" y="222.3"/>
<use href="#tL" x="129.2" y="263.6"/>
<use href="#tL" x="147.8" y="232.7"/>
<use href="#tL" x="139.0" y="252.0"/>
<use href="#tL" x="139.5" y="240.6"/>
<use href="#tL" x="137.7" y="213.5"/>
<use href="#tL" x="129.6" y="276.5"/>
<use href="#tL" x="160.0" y="213.4"/>
<use href="#tL" x="144.6" y="243.9"/>
<use href="#tL" x="142.1" y="238.9"/>
<use href="#tL" x="143.8" y="209.4"/>
<use href="#tL" x="150.2" y="234.6"/>
<use href="#tL" x="135.1" y="232.7"/>
<use href="#tL" x="147.8" y="240.6"/>
<use href="#tL" x="137.7" y="235.1"/>
<use href="#tD" x="130.7" y="255.3"/>
<use href="#tD" x="158.3" y="220.0"/>
<use href="#tD" x="134.1" y="246.7"/>
<use href="#tD" x="123.1" y="276.6"/>
<use href="#tL" x="140.0" y="241.2"/>
<use href="#tL" x="163.8" y="213.9"/>
<use href="#tD" x="151.5" y="233.5"/>
<use href="#tL" x="122.1" y="284.0"/>
<use href="#tL" x="158.8" y="211.8"/>
<use href="#tL" x="144.1" y="223.6"/>
<use href="#tL" x="158.4" y="222.4"/>
<use href="#tL" x="158.5" y="231.4"/>
<use href="#tD" x="133.9" y="225.6"/>
<use href="#tD" x="140.6" y="245.6"/>
<use href="#tL" x="124.4" y="260.9"/>
<use href="#tD" x="126.7" y="264.9"/>
<use href="#tL" x="125.0" y="276.0"/>
<use href="#tL" x="157.9" y="230.8"/>
<use href="#tL" x="138.7" y="220.7"/>
<use href="#tD" x="131.8" y="231.8"/>
<use href="#cL" x="133.0" y="229.8"/>
<use href="#sO" x="157.7" y="212.4"/>
<use href="#sO" x="127.4" y="277.8"/>
<use href="#sO" x="142.3" y="211.3"/>
<use href="#sL" x="134.0" y="232.0"/>
<use href="#cL" x="150.2" y="232.9"/>
<use href="#sL" x="134.9" y="224.4"/>
<use href="#sL" x="125.9" y="267.6"/>
<use href="#sO" x="145.4" y="216.0"/>
<use href="#sO" x="141.0" y="249.2"/>
<use href="#cO" x="150.2" y="233.1"/>
<use href="#sO" x="125.4" y="282.6"/>
<use href="#cL" x="157.3" y="236.2"/>
<use href="#cO" x="118.5" y="263.0"/>
<use href="#cL" x="134.8" y="234.2"/>
<use href="#sL" x="157.8" y="224.7"/>
<use href="#sL" x="131.5" y="247.9"/>
<use href="#cO" x="138.8" y="213.4"/>
<use href="#sL" x="142.6" y="242.3"/>
<use href="#sO" x="161.0" y="222.8"/>
<use href="#cO" x="140.7" y="239.6"/>
<use href="#cO" x="118.7" y="272.5"/>
<use href="#cO" x="160.3" y="213.0"/>
<use href="#cO" x="150.0" y="218.6"/>
<use href="#sO" x="139.1" y="232.9"/>
<use href="#cO" x="156.3" y="219.3"/>
<use href="#sO" x="129.4" y="262.6"/>
<use href="#sO" x="136.0" y="253.3"/>
<use href="#cO" x="144.4" y="226.0"/>
<use href="#sO" x="133.6" y="243.9"/>
<use href="#sO" x="146.6" y="228.8"/>
<use href="#cO" x="161.0" y="214.2"/>
<use href="#sO" x="138.4" y="229.0"/>
<use href="#sO" x="139.2" y="234.9"/>
<use href="#sO" x="142.6" y="221.2"/>
<use href="#sO" x="138.1" y="212.7"/>
<use href="#sO" x="137.3" y="252.2"/>
<use href="#cL" x="119.4" y="265.4"/>
<use href="#cO" x="134.3" y="240.5"/>
<use href="#sO" x="147.9" y="224.3"/>
<use href="#cL" x="115.4" y="262.5"/>
<use href="#sO" x="117.8" y="257.6"/>
<use href="#sO" x="122.5" y="255.8"/>
<use href="#sO" x="127.8" y="252.5"/>
<use href="#sO" x="135.5" y="211.3"/>
<use href="#cL" x="139.1" y="207.6"/>
<use href="#sO" x="142.9" y="207.7"/>
<use href="#cL" x="145.8" y="208.5"/>
<use href="#cL" x="150.3" y="209.8"/>
<use href="#sO" x="152.9" y="206.0"/>
<use href="#sO" x="157.4" y="205.4"/>
<use href="#sO" x="161.7" y="203.7"/>
<use href="#cO" x="162.2" y="232.8"/>
<use href="#sO" x="162.3" y="233.6"/>
<use href="#cL" x="155.5" y="236.4"/>
<use href="#cL" x="154.0" y="237.4"/>
<use href="#sO" x="148.6" y="241.4"/>
<use href="#cL" x="146.3" y="245.0"/>
<use href="#sO" x="144.1" y="247.9"/>
<use href="#cL" x="140.5" y="253.6"/>
<use href="#sO" x="139.5" y="255.4"/>
<use href="#sO" x="134.8" y="260.4"/>
<use href="#cL" x="135.2" y="259.0"/>
<use href="#cO" x="132.5" y="266.2"/>
<use href="#cO" x="133.6" y="264.1"/>
<use href="#cL" x="128.4" y="276.8"/>
<use href="#sO" x="127.3" y="283.1"/>
<use href="#cO" x="124.6" y="283.9"/>
<use href="#cO" x="119.1" y="285.9"/>
<use href="#sO" x="118.7" y="286.7"/>
<use href="#sL" x="119.1" y="284.6"/>
<use href="#sO" x="118.2" y="286.1"/>
<use href="#sL" x="116.8" y="283.9"/>
<use href="#sO" x="118.8" y="286.4"/>
<use href="#sO" x="118.7" y="284.0"/>
<use href="#sO" x="127.9" y="294.5"/>
<use href="#sO" x="126.5" y="290.3"/>
<use href="#sO" x="125.2" y="283.4"/>
<use href="#sO" x="127.9" y="291.6"/>
<use href="#sL" x="128.3" y="284.0"/>
<use href="#sO" x="126.6" y="288.4"/>
<use href="#sO" x="126.9" y="294.9"/>
<use href="#sO" x="128.4" y="293.3"/>
<use href="#sO" x="126.5" y="298.8"/>
<use href="#sO" x="125.8" y="296.9"/>
<use href="#dK" x="119.7" y="262.5"/>
<use href="#dK" x="122.0" y="263.4"/>
<use href="#dO" x="117.1" y="260.6"/>
<use href="#tK" x="119.6" y="258.8"/>
<use href="#tD" x="117.4" y="261.7"/>
<use href="#tK" x="121.2" y="261.8"/>
<use href="#tK" x="119.9" y="264.6"/>
<use href="#tK" x="117.5" y="260.7"/>
<use href="#tK" x="121.0" y="261.5"/>
<use href="#tK" x="116.0" y="260.1"/>
<use href="#tD" x="120.9" y="257.0"/>
<use href="#tK" x="118.4" y="264.8"/>
<use href="#tK" x="118.7" y="260.4"/>
<use href="#tD" x="119.6" y="263.5"/>
<use href="#tK" x="118.7" y="264.0"/>
<use href="#tD" x="120.2" y="259.0"/>
<use href="#tK" x="119.7" y="258.0"/>
<use href="#tD" x="116.3" y="259.9"/>
<use href="#tK" x="116.3" y="258.0"/>
<use href="#tK" x="121.1" y="264.7"/>
<use href="#tK" x="117.2" y="256.7"/>
<use href="#tD" x="118.1" y="259.5"/>
<use href="#tD" x="116.9" y="263.1"/>
<use href="#tK" x="116.9" y="260.4"/>
<use href="#tD" x="117.6" y="261.5"/>
<use href="#dK" x="126.8" y="278.5"/>
<use href="#dO" x="126.9" y="282.4"/>
<use href="#dK" x="124.3" y="281.4"/>
<use href="#tK" x="125.5" y="281.3"/>
<use href="#tK" x="124.1" y="281.2"/>
<use href="#tD" x="125.8" y="282.9"/>
<use href="#tK" x="127.1" y="279.7"/>
<use href="#tK" x="126.8" y="280.5"/>
<use href="#tD" x="126.5" y="277.0"/>
<use href="#tD" x="124.9" y="278.5"/>
<use href="#tD" x="126.8" y="282.5"/>
<use href="#tD" x="126.5" y="281.5"/>
<use href="#dO" x="134.6" y="234.8"/>
<use href="#dO" x="133.6" y="236.2"/>
<use href="#dK" x="134.2" y="232.2"/>
<use href="#tK" x="135.8" y="234.4"/>
<use href="#tD" x="132.7" y="231.3"/>
<use href="#tD" x="133.7" y="233.0"/>
<use href="#tD" x="136.0" y="233.5"/>
<use href="#tK" x="134.4" y="236.3"/>
<use href="#tK" x="133.8" y="233.9"/>
<use href="#tK" x="135.5" y="234.2"/>
<use href="#tK" x="135.5" y="233.8"/>
<use href="#tK" x="134.3" y="232.3"/>
<use href="#dO" x="141.7" y="242.3"/>
<use href="#dO" x="141.3" y="239.9"/>
<use href="#dO" x="140.6" y="239.9"/>
<use href="#tD" x="142.1" y="241.6"/>
<use href="#tK" x="140.1" y="239.0"/>
<use href="#tD" x="142.4" y="239.5"/>
<use href="#tK" x="140.0" y="240.2"/>
<use href="#tK" x="142.2" y="242.8"/>
<use href="#tK" x="142.7" y="242.4"/>
<use href="#dO" x="153.5" y="231.5"/>
<use href="#dK" x="154.3" y="231.2"/>
<use href="#dK" x="154.2" y="234.4"/>
<use href="#tD" x="153.1" y="233.6"/>
<use href="#tK" x="155.4" y="233.8"/>
<use href="#tD" x="154.5" y="232.9"/>
<use href="#tK" x="153.6" y="231.5"/>
<use href="#tK" x="153.7" y="233.6"/>
<use href="#tD" x="154.9" y="234.5"/>
<use href="#dK" x="163.3" y="221.3"/>
<use href="#dK" x="162.4" y="229.2"/>
<use href="#dK" x="163.3" y="218.7"/>
<use href="#tD" x="163.3" y="230.3"/>
<use href="#tK" x="162.9" y="226.1"/>
<use href="#tK" x="161.2" y="221.2"/>
<use href="#tD" x="162.2" y="223.0"/>
<use href="#tD" x="163.0" y="218.6"/>
<use href="#tK" x="163.8" y="217.8"/>
<use href="#tD" x="162.0" y="225.2"/>
<use href="#tD" x="161.1" y="221.6"/>
<use href="#tK" x="164.2" y="227.2"/>
<use href="#tK" x="162.5" y="219.3"/>
<use href="#tD" x="164.0" y="229.2"/>
<use href="#tK" x="161.3" y="222.9"/>
<use href="#tK" x="163.2" y="226.7"/>
<use href="#tK" x="161.8" y="228.5"/>
<use href="#tD" x="163.4" y="228.2"/>
<use href="#tD" x="164.8" y="226.6"/>
<use href="#tD" x="163.7" y="221.2"/>
<use href="#tD" x="162.1" y="222.2"/>
<use href="#tK" x="164.2" y="225.3"/>
<use href="#tD" x="162.1" y="229.6"/>
<use href="#tK" x="163.1" y="230.7"/>
<use href="#dO" x="137.6" y="211.8"/>
<use href="#dK" x="134.7" y="213.0"/>
<use href="#dO" x="136.1" y="213.8"/>
<use href="#tK" x="136.6" y="211.2"/>
<use href="#tD" x="135.4" y="210.1"/>
<use href="#tD" x="137.2" y="211.5"/>
<use href="#tK" x="135.2" y="210.8"/>
<use href="#tK" x="136.0" y="210.6"/>
<use href="#tK" x="135.3" y="210.4"/>
<use href="#dO" x="142.8" y="231.1"/>
<use href="#dO" x="142.9" y="231.2"/>
<use href="#dO" x="145.3" y="229.9"/>
<use href="#tD" x="143.5" y="232.4"/>
<use href="#tK" x="144.5" y="229.7"/>
<use href="#tK" x="142.8" y="231.7"/>
<use href="#tD" x="145.7" y="228.4"/>
<use href="#tD" x="145.4" y="229.2"/>
<use href="#tD" x="143.9" y="227.2"/>
<use href="#tD" x="143.0" y="228.4"/>
<use href="#tD" x="142.8" y="232.0"/>
<use href="#tD" x="145.8" y="228.9"/>
<use href="#sL" x="157.8" y="202.3"/>
<use href="#sL" x="154.4" y="201.1"/>
<use href="#sL" x="143.8" y="200.6"/>
<use href="#sL" x="164.3" y="203.1"/>
<use href="#sL" x="140.5" y="200.3"/>
<use href="#sO" x="154.6" y="202.6"/>
<use href="#sO" x="141.8" y="204.6"/>
<use href="#sO" x="164.6" y="204.2"/>
<use href="#sL" x="163.8" y="201.7"/>
<use href="#dK" x="118.2" y="257.0"/>
<use href="#dK" x="119.0" y="261.0"/>
<use href="#sS" x="173.7" y="234.4"/>
<use href="#sS" x="240.2" y="253.7"/>
<use href="#dS" x="170.8" y="239.5"/>
<use href="#dS" x="179.5" y="251.7"/>
<use href="#dS" x="237.2" y="243.8"/>
<use href="#dS" x="246.0" y="256.6"/>
<use href="#cS" x="170.8" y="249.0"/>
<use href="#cS" x="240.2" y="246.7"/>
<polygon points="183.5,262.0 187.5,255.0 191.5,245.0 196.0,237.0 198.0,232.0 202.0,225.0 204.0,211.6 206.0,210.3 211.0,208.0 214.0,215.6 217.0,220.0 221.0,225.4 225.0,222.7 228.0,213.8 231.2,216.0 231.2,246.0 229.0,248.0 225.0,256.0 221.0,262.0 218.0,253.3 214.0,257.7 211.0,250.6 207.0,258.6 203.0,254.0 200.0,264.0 198.0,270.0 195.0,280.0 192.0,287.0 190.0,290.0 188.0,289.0 186.0,286.0 183.5,284.0" fill="#a0a0a0"/>
<use href="#tL" x="204.8" y="244.0"/>
<use href="#tD" x="188.1" y="278.4"/>
<use href="#tL" x="219.2" y="240.6"/>
<use href="#tD" x="207.0" y="237.3"/>
<use href="#tL" x="206.7" y="230.2"/>
<use href="#tD" x="207.8" y="243.1"/>
<use href="#tL" x="196.8" y="238.3"/>
<use href="#tD" x="198.5" y="259.9"/>
<use href="#tL" x="188.7" y="258.6"/>
<use href="#tD" x="215.1" y="239.7"/>
<use href="#tL" x="206.5" y="251.9"/>
<use href="#tL" x="206.7" y="221.6"/>
<use href="#tL" x="221.3" y="238.1"/>
<use href="#tL" x="197.2" y="269.8"/>
<use href="#tL" x="199.8" y="265.3"/>
<use href="#tL" x="200.0" y="246.1"/>
<use href="#tL" x="204.3" y="240.5"/>
<use href="#tL" x="226.8" y="249.0"/>
<use href="#tL" x="226.3" y="222.7"/>
<use href="#tL" x="205.5" y="233.2"/>
<use href="#tL" x="190.9" y="249.6"/>
<use href="#tL" x="209.0" y="216.9"/>
<use href="#tL" x="211.1" y="212.5"/>
<use href="#tL" x="190.4" y="251.3"/>
<use href="#tD" x="214.9" y="226.7"/>
<use href="#tL" x="214.1" y="236.7"/>
<use href="#tL" x="200.4" y="256.9"/>
<use href="#tD" x="209.1" y="214.8"/>
<use href="#tD" x="204.0" y="235.9"/>
<use href="#tD" x="211.6" y="248.5"/>
<use href="#tL" x="220.1" y="251.4"/>
<use href="#tL" x="222.8" y="253.0"/>
<use href="#tD" x="216.9" y="238.7"/>
<use href="#tL" x="197.4" y="255.1"/>
<use href="#tL" x="213.5" y="228.8"/>
<use href="#tL" x="228.1" y="238.3"/>
<use href="#tD" x="205.8" y="237.7"/>
<use href="#tL" x="209.3" y="227.3"/>
<use href="#tD" x="220.0" y="243.5"/>
<use href="#tD" x="187.6" y="274.9"/>
<use href="#tL" x="188.2" y="273.4"/>
<use href="#tL" x="225.6" y="248.7"/>
<use href="#tD" x="209.9" y="228.1"/>
<use href="#tD" x="198.3" y="259.5"/>
<use href="#tD" x="199.4" y="243.5"/>
<use href="#tL" x="209.9" y="226.8"/>
<use href="#tL" x="223.6" y="253.7"/>
<use href="#tL" x="204.3" y="239.7"/>
<use href="#tL" x="218.4" y="241.4"/>
<use href="#tL" x="196.0" y="242.5"/>
<use href="#tD" x="187.3" y="267.9"/>
<use href="#tL" x="203.6" y="253.4"/>
<use href="#tL" x="228.3" y="216.1"/>
<use href="#tL" x="227.3" y="214.5"/>
<use href="#tD" x="198.7" y="242.4"/>
<use href="#tL" x="210.9" y="225.0"/>
<use href="#tL" x="197.5" y="269.5"/>
<use href="#tL" x="224.6" y="234.9"/>
<use href="#tL" x="203.0" y="238.7"/>
<use href="#tL" x="216.7" y="229.2"/>
<use href="#tL" x="204.3" y="229.0"/>
<use href="#tL" x="229.3" y="246.3"/>
<use href="#tL" x="211.5" y="251.2"/>
<use href="#tL" x="230.1" y="235.8"/>
<use href="#tL" x="208.4" y="241.0"/>
<use href="#tD" x="199.2" y="236.3"/>
<use href="#tD" x="191.7" y="264.4"/>
<use href="#tL" x="229.7" y="239.4"/>
<use href="#tD" x="200.6" y="254.1"/>
<use href="#tD" x="198.7" y="251.1"/>
<use href="#tL" x="208.0" y="224.3"/>
<use href="#tL" x="194.0" y="248.5"/>
<use href="#tD" x="225.1" y="228.9"/>
<use href="#tL" x="216.5" y="223.5"/>
<use href="#tD" x="191.1" y="281.1"/>
<use href="#tL" x="221.8" y="241.7"/>
<use href="#tL" x="216.8" y="240.2"/>
<use href="#tL" x="225.8" y="222.0"/>
<use href="#tL" x="216.5" y="239.2"/>
<use href="#tL" x="190.1" y="280.1"/>
<use href="#tD" x="191.6" y="262.0"/>
<use href="#tL" x="223.8" y="231.1"/>
<use href="#tL" x="204.7" y="218.9"/>
<use href="#tL" x="209.1" y="238.4"/>
<use href="#tL" x="220.1" y="240.6"/>
<use href="#tL" x="194.0" y="254.0"/>
<use href="#tL" x="221.6" y="247.1"/>
<use href="#tL" x="205.0" y="243.0"/>
<use href="#tD" x="188.2" y="267.4"/>
<use href="#tL" x="225.0" y="223.2"/>
<use href="#tL" x="227.8" y="233.3"/>
<use href="#tL" x="211.0" y="224.6"/>
<use href="#tL" x="186.2" y="278.3"/>
<use href="#tD" x="222.6" y="257.3"/>
<use href="#tD" x="193.8" y="278.3"/>
<use href="#tD" x="223.6" y="242.4"/>
<use href="#tL" x="196.3" y="245.0"/>
<use href="#tL" x="214.2" y="217.7"/>
<use href="#tL" x="197.2" y="259.5"/>
<use href="#tD" x="211.1" y="210.9"/>
<use href="#tD" x="216.6" y="226.0"/>
<use href="#tL" x="227.8" y="226.7"/>
<use href="#tL" x="202.9" y="254.9"/>
<use href="#tL" x="200.4" y="240.3"/>
<use href="#tL" x="190.3" y="277.3"/>
<use href="#tL" x="211.7" y="225.6"/>
<use href="#tL" x="197.6" y="253.1"/>
<use href="#tL" x="192.6" y="287.5"/>
<use href="#tD" x="188.9" y="284.2"/>
<use href="#tD" x="215.2" y="250.8"/>
<use href="#tD" x="203.4" y="255.7"/>
<use href="#tL" x="216.2" y="254.0"/>
<use href="#tD" x="215.0" y="227.1"/>
<use href="#tL" x="199.4" y="267.7"/>
<use href="#tL" x="230.0" y="230.5"/>
<use href="#tL" x="218.8" y="232.2"/>
<use href="#tD" x="192.3" y="264.6"/>
<use href="#tL" x="185.1" y="281.3"/>
<use href="#tL" x="221.8" y="249.4"/>
<use href="#tD" x="209.0" y="211.0"/>
<use href="#tD" x="229.7" y="216.4"/>
<use href="#tL" x="203.6" y="224.4"/>
<use href="#tD" x="229.4" y="245.8"/>
<use href="#tL" x="194.3" y="260.1"/>
<use href="#tL" x="205.2" y="243.2"/>
<use href="#tD" x="188.7" y="255.2"/>
<use href="#tL" x="224.2" y="225.2"/>
<use href="#tL" x="188.3" y="261.0"/>
<use href="#tL" x="206.7" y="252.0"/>
<use href="#tL" x="194.5" y="241.9"/>
<use href="#tD" x="217.6" y="235.0"/>
<use href="#tL" x="219.5" y="248.9"/>
<use href="#tL" x="198.7" y="258.3"/>
<use href="#tD" x="217.1" y="234.3"/>
<use href="#tL" x="213.5" y="223.1"/>
<use href="#tL" x="188.8" y="258.5"/>
<use href="#tL" x="209.4" y="251.5"/>
<use href="#tL" x="227.7" y="222.9"/>
<use href="#tL" x="230.1" y="217.9"/>
<use href="#tD" x="211.2" y="251.6"/>
<use href="#tL" x="213.7" y="232.9"/>
<use href="#tL" x="190.7" y="272.1"/>
<use href="#tL" x="223.3" y="230.7"/>
<use href="#tD" x="225.0" y="242.5"/>
<use href="#tD" x="201.8" y="259.2"/>
<use href="#tD" x="225.5" y="236.4"/>
<use href="#tL" x="224.5" y="227.6"/>
<use href="#tD" x="197.2" y="247.0"/>
<use href="#tL" x="197.7" y="270.0"/>
<use href="#tL" x="196.1" y="275.3"/>
<use href="#tL" x="202.0" y="244.7"/>
<use href="#tL" x="194.9" y="275.9"/>
<use href="#tL" x="188.0" y="279.6"/>
<use href="#tL" x="195.9" y="263.4"/>
<use href="#tL" x="193.5" y="271.9"/>
<use href="#tL" x="200.9" y="230.4"/>
<use href="#tL" x="200.8" y="236.6"/>
<use href="#tL" x="216.8" y="250.4"/>
<use href="#tL" x="212.4" y="235.5"/>
<use href="#tD" x="215.2" y="251.4"/>
<use href="#tD" x="216.0" y="239.8"/>
<use href="#tD" x="187.7" y="283.5"/>
<use href="#tD" x="209.2" y="232.5"/>
<use href="#tL" x="201.3" y="245.5"/>
<use href="#tL" x="200.0" y="235.5"/>
<use href="#tL" x="214.7" y="233.0"/>
<use href="#tL" x="220.0" y="238.7"/>
<use href="#tD" x="209.4" y="213.8"/>
<use href="#tD" x="196.2" y="256.4"/>
<use href="#tL" x="222.7" y="239.1"/>
<use href="#tD" x="204.3" y="242.6"/>
<use href="#tL" x="198.1" y="237.9"/>
<use href="#tL" x="211.4" y="229.4"/>
<use href="#tL" x="203.4" y="246.5"/>
<use href="#tD" x="214.1" y="236.3"/>
<use href="#tD" x="197.4" y="262.8"/>
<use href="#tD" x="201.2" y="249.8"/>
<use href="#tD" x="196.8" y="241.7"/>
<use href="#tD" x="220.8" y="244.6"/>
<use href="#tL" x="205.0" y="232.6"/>
<use href="#tD" x="189.6" y="252.2"/>
<use href="#tD" x="202.1" y="241.0"/>
<use href="#tL" x="212.5" y="254.3"/>
<use href="#tD" x="185.4" y="276.3"/>
<use href="#tL" x="222.4" y="247.6"/>
<use href="#tL" x="214.2" y="250.2"/>
<use href="#tD" x="190.1" y="253.0"/>
<use href="#tL" x="221.1" y="253.6"/>
<use href="#tD" x="204.1" y="246.5"/>
<use href="#tL" x="198.8" y="251.4"/>
<use href="#tL" x="186.3" y="284.2"/>
<use href="#tL" x="215.0" y="251.8"/>
<use href="#tL" x="204.1" y="231.9"/>
<use href="#tL" x="190.7" y="251.7"/>
<use href="#tD" x="210.6" y="241.0"/>
<use href="#tL" x="192.4" y="264.2"/>
<use href="#tD" x="215.8" y="236.6"/>
<use href="#tL" x="204.0" y="221.2"/>
<use href="#tL" x="185.5" y="277.7"/>
<use href="#tD" x="224.2" y="252.7"/>
<use href="#tD" x="206.0" y="231.3"/>
<use href="#tL" x="199.7" y="255.2"/>
<use href="#tL" x="209.8" y="237.1"/>
<use href="#tL" x="210.7" y="247.9"/>
<use href="#tL" x="192.4" y="253.3"/>
<use href="#tL" x="193.8" y="269.2"/>
<use href="#tL" x="201.9" y="259.6"/>
<use href="#tL" x="196.2" y="242.7"/>
<use href="#tD" x="213.8" y="223.3"/>
<use href="#tL" x="195.5" y="271.4"/>
<use href="#tD" x="193.9" y="254.8"/>
<use href="#tL" x="203.0" y="235.8"/>
<use href="#tL" x="193.3" y="279.1"/>
<use href="#tL" x="219.9" y="228.0"/>
<use href="#tL" x="200.7" y="252.4"/>
<use href="#sO" x="218.9" y="247.4"/>
<use href="#sL" x="226.3" y="229.5"/>
<use href="#sO" x="222.6" y="239.5"/>
<use href="#cO" x="197.6" y="268.1"/>
<use href="#sO" x="191.7" y="252.6"/>
<use href="#cL" x="207.8" y="252.9"/>
<use href="#cO" x="217.3" y="225.5"/>
<use href="#cO" x="193.8" y="267.3"/>
<use href="#sO" x="196.4" y="269.9"/>
<use href="#sL" x="204.7" y="226.5"/>
<use href="#cL" x="205.3" y="225.5"/>
<use href="#sL" x="191.6" y="256.0"/>
<use href="#cL" x="227.8" y="237.9"/>
<use href="#cL" x="205.1" y="234.0"/>
<use href="#cL" x="226.6" y="221.1"/>
<use href="#cL" x="190.7" y="276.0"/>
<use href="#cO" x="195.8" y="274.6"/>
<use href="#sO" x="214.4" y="240.5"/>
<use href="#cO" x="220.2" y="238.4"/>
<use href="#cL" x="224.5" y="224.3"/>
<use href="#sL" x="211.3" y="237.1"/>
<use href="#sL" x="213.2" y="244.6"/>
<use href="#sL" x="206.0" y="217.1"/>
<use href="#cO" x="190.0" y="279.2"/>
<use href="#cO" x="219.3" y="258.0"/>
<use href="#sO" x="191.5" y="280.6"/>
<use href="#sO" x="224.2" y="234.3"/>
<use href="#cL" x="206.2" y="252.0"/>
<use href="#cL" x="210.5" y="224.0"/>
<use href="#cO" x="226.5" y="219.3"/>
<use href="#cL" x="184.2" y="260.0"/>
<use href="#sO" x="187.0" y="256.0"/>
<use href="#sO" x="187.7" y="253.4"/>
<use href="#cL" x="187.3" y="253.8"/>
<use href="#cO" x="189.7" y="249.0"/>
<use href="#sO" x="192.9" y="242.5"/>
<use href="#cO" x="194.6" y="237.8"/>
<use href="#cL" x="192.4" y="242.1"/>
<use href="#sO" x="198.2" y="232.6"/>
<use href="#cO" x="199.2" y="229.2"/>
<use href="#cO" x="199.0" y="229.7"/>
<use href="#cO" x="208.2" y="208.6"/>
<use href="#sO" x="212.4" y="212.1"/>
<use href="#cL" x="212.7" y="213.1"/>
<use href="#cL" x="214.9" y="217.5"/>
<use href="#cL" x="220.2" y="223.4"/>
<use href="#cO" x="219.0" y="222.2"/>
<use href="#cL" x="224.0" y="222.7"/>
<use href="#sO" x="227.1" y="216.8"/>
<use href="#sO" x="227.3" y="214.2"/>
<use href="#sO" x="227.0" y="215.0"/>
<use href="#cL" x="230.3" y="214.9"/>
<use href="#sO" x="225.0" y="256.1"/>
<use href="#sO" x="226.1" y="253.0"/>
<use href="#cO" x="222.8" y="259.9"/>
<use href="#cO" x="224.5" y="257.5"/>
<use href="#sO" x="221.1" y="260.7"/>
<use href="#cO" x="218.5" y="256.2"/>
<use href="#sO" x="219.1" y="258.3"/>
<use href="#sO" x="214.0" y="256.9"/>
<use href="#sO" x="214.6" y="258.2"/>
<use href="#sO" x="213.3" y="255.9"/>
<use href="#cO" x="207.9" y="257.2"/>
<use href="#sO" x="209.7" y="254.7"/>
<use href="#cL" x="204.9" y="255.2"/>
<use href="#sO" x="205.6" y="257.9"/>
<use href="#cO" x="201.1" y="259.8"/>
<use href="#cO" x="201.5" y="258.2"/>
<use href="#cO" x="200.9" y="260.9"/>
<use href="#sO" x="199.2" y="266.9"/>
<use href="#cO" x="200.2" y="264.5"/>
<use href="#cO" x="197.3" y="272.3"/>
<use href="#sO" x="197.1" y="273.2"/>
<use href="#sO" x="195.3" y="276.3"/>
<use href="#sO" x="193.6" y="284.1"/>
<use href="#cL" x="192.7" y="282.9"/>
<use href="#cO" x="190.7" y="290.0"/>
<use href="#sO" x="186.9" y="287.3"/>
<use href="#sO" x="186.2" y="285.4"/>
<polygon points="200.4,226.0 202.4,212.0 204.4,210.3 209.4,208.0 212.4,215.6 213.4,222.0 210.4,228.0 205.4,231.0 201.4,234.0 198.4,236.0 198.6,241.0 194.6,250.0 190.6,259.0 188.1,265.0 186.1,265.0 187.6,257.0 191.6,247.0 196.6,238.0 199.6,232.0" fill="#505050"/>
<use href="#tM" x="212.5" y="218.4"/>
<use href="#tM" x="190.1" y="253.5"/>
<use href="#tD" x="206.7" y="220.4"/>
<use href="#tM" x="195.0" y="248.2"/>
<use href="#tM" x="207.0" y="227.8"/>
<use href="#tM" x="200.0" y="233.8"/>
<use href="#tM" x="209.3" y="226.8"/>
<use href="#tM" x="191.3" y="254.6"/>
<use href="#tD" x="202.9" y="221.2"/>
<use href="#tD" x="187.3" y="261.4"/>
<use href="#dR" x="207.9" y="226.5"/>
<use href="#dO" x="209.4" y="217.9"/>
<use href="#dK" x="198.2" y="239.2"/>
<use href="#dO" x="194.7" y="242.7"/>
<use href="#dO" x="201.9" y="231.7"/>
<use href="#dO" x="193.6" y="250.3"/>
<use href="#dK" x="204.3" y="228.2"/>
<use href="#dO" x="202.7" y="218.0"/>
<use href="#dO" x="204.0" y="225.7"/>
<use href="#dR" x="209.6" y="211.4"/>
<use href="#dO" x="190.5" y="253.0"/>
<use href="#dK" x="198.6" y="234.4"/>
<use href="#dK" x="202.1" y="229.6"/>
<use href="#dR" x="211.6" y="220.2"/>
<use href="#dO" x="206.6" y="225.5"/>
<use href="#dR" x="189.4" y="255.0"/>
<use href="#dO" x="204.5" y="222.8"/>
<use href="#dR" x="208.0" y="219.9"/>
<use href="#dR" x="188.4" y="260.2"/>
<use href="#dO" x="192.1" y="253.0"/>
<use href="#dR" x="206.9" y="222.2"/>
<use href="#dO" x="209.7" y="221.3"/>
<use href="#dK" x="197.6" y="236.7"/>
<use href="#dO" x="209.5" y="211.9"/>
<use href="#dO" x="205.5" y="214.9"/>
<use href="#dO" x="207.1" y="226.5"/>
<use href="#dR" x="211.5" y="218.0"/>
<use href="#dO" x="212.4" y="217.1"/>
<use href="#dR" x="195.3" y="244.1"/>
<use href="#dO" x="204.0" y="223.7"/>
<use href="#dO" x="212.9" y="219.6"/>
<use href="#dO" x="192.7" y="251.0"/>
<use href="#dO" x="204.7" y="220.8"/>
<use href="#dR" x="209.7" y="211.4"/>
<use href="#dK" x="188.1" y="264.0"/>
<use href="#dO" x="196.3" y="243.5"/>
<use href="#dR" x="199.7" y="234.2"/>
<use href="#dR" x="204.3" y="227.0"/>
<use href="#dO" x="201.0" y="226.2"/>
<use href="#dO" x="206.4" y="220.2"/>
<use href="#dO" x="202.0" y="219.2"/>
<use href="#dO" x="195.0" y="244.4"/>
<use href="#dO" x="188.8" y="258.1"/>
<use href="#dO" x="210.5" y="225.1"/>
<use href="#dO" x="189.1" y="255.1"/>
<use href="#dO" x="206.4" y="221.1"/>
<use href="#dK" x="201.6" y="231.7"/>
<use href="#dR" x="208.6" y="221.0"/>
<use href="#dR" x="202.2" y="230.2"/>
<use href="#dO" x="192.1" y="246.7"/>
<use href="#dO" x="188.6" y="255.0"/>
<use href="#dO" x="190.5" y="250.4"/>
<use href="#dO" x="206.5" y="229.8"/>
<use href="#dO" x="205.2" y="227.3"/>
<use href="#dK" x="208.3" y="218.9"/>
<use href="#dO" x="210.4" y="216.4"/>
<use href="#dO" x="201.7" y="231.1"/>
<use href="#dO" x="202.3" y="231.6"/>
<use href="#dR" x="203.7" y="220.5"/>
<use href="#dR" x="189.5" y="252.0"/>
<use href="#dK" x="212.0" y="217.1"/>
<use href="#dO" x="203.6" y="216.6"/>
<use href="#dO" x="193.4" y="252.0"/>
<use href="#dO" x="210.9" y="218.8"/>
<use href="#dK" x="209.3" y="209.5"/>
<use href="#dO" x="204.3" y="221.5"/>
<use href="#dK" x="209.9" y="212.7"/>
<use href="#dO" x="192.1" y="251.6"/>
<use href="#dR" x="212.4" y="217.9"/>
<use href="#dK" x="188.8" y="259.3"/>
<use href="#dK" x="193.0" y="247.0"/>
<use href="#dO" x="189.1" y="256.2"/>
<use href="#dO" x="202.9" y="215.6"/>
<use href="#dK" x="210.2" y="210.8"/>
<use href="#dO" x="190.6" y="250.5"/>
<use href="#dO" x="203.8" y="228.6"/>
<use href="#dO" x="212.2" y="221.9"/>
<use href="#dR" x="205.6" y="228.6"/>
<use href="#dR" x="193.2" y="248.7"/>
<use href="#dR" x="207.0" y="213.3"/>
<use href="#dK" x="191.7" y="251.4"/>
<use href="#dR" x="211.1" y="216.9"/>
<use href="#dK" x="212.5" y="219.2"/>
<use href="#dR" x="201.0" y="232.1"/>
<use href="#dK" x="197.5" y="241.8"/>
<use href="#dK" x="193.5" y="250.1"/>
<use href="#dO" x="209.5" y="219.2"/>
<use href="#dO" x="194.0" y="250.5"/>
<use href="#dR" x="205.6" y="211.6"/>
<use href="#dO" x="211.3" y="219.0"/>
<use href="#dR" x="203.4" y="228.6"/>
<use href="#dR" x="203.8" y="215.6"/>
<use href="#dK" x="188.8" y="256.2"/>
<use href="#dO" x="208.5" y="209.8"/>
<use href="#dR" x="207.7" y="214.2"/>
<use href="#dK" x="207.4" y="229.7"/>
<use href="#dK" x="189.0" y="257.8"/>
<use href="#dO" x="205.6" y="226.3"/>
<use href="#dO" x="198.2" y="238.1"/>
<use href="#dO" x="201.8" y="230.5"/>
<use href="#dR" x="207.5" y="216.8"/>
<use href="#dR" x="205.6" y="221.4"/>
<use href="#dR" x="208.4" y="229.1"/>
<use href="#dR" x="203.9" y="220.4"/>
<polygon points="225.6,223.0 229.6,214.0 229.6,216.0 229.6,236.0 227.6,236.0" fill="#505050"/>
<use href="#tM" x="227.3" y="223.5"/>
<use href="#tD" x="227.3" y="221.0"/>
<use href="#tD" x="229.3" y="235.7"/>
<use href="#dR" x="226.4" y="224.2"/>
<use href="#dR" x="226.5" y="221.6"/>
<use href="#dR" x="229.0" y="228.7"/>
<use href="#dO" x="227.9" y="233.5"/>
<use href="#dR" x="227.5" y="227.1"/>
<use href="#dR" x="229.6" y="217.3"/>
<use href="#dO" x="229.4" y="226.9"/>
<use href="#dO" x="229.0" y="217.1"/>
<use href="#dO" x="228.3" y="234.1"/>
<use href="#dO" x="226.7" y="230.6"/>
<use href="#dO" x="229.6" y="227.4"/>
<use href="#dO" x="229.5" y="215.7"/>
<use href="#dO" x="227.8" y="234.4"/>
<use href="#dO" x="227.4" y="234.7"/>
<use href="#dO" x="229.7" y="223.0"/>
<use href="#dR" x="226.2" y="225.4"/>
<use href="#dR" x="228.0" y="233.0"/>
<use href="#dO" x="228.1" y="228.6"/>
<use href="#dO" x="226.1" y="222.2"/>
<use href="#dO" x="229.6" y="224.3"/>
<use href="#dR" x="228.4" y="223.1"/>
<use href="#dR" x="229.6" y="224.0"/>
<use href="#dO" x="227.5" y="235.1"/>
<use href="#dO" x="227.8" y="233.8"/>
<use href="#dO" x="228.2" y="223.4"/>
<use href="#dO" x="227.5" y="220.3"/>
<use href="#dR" x="228.8" y="229.9"/>
<use href="#dR" x="228.1" y="219.6"/>
<use href="#dO" x="227.9" y="223.6"/>
<use href="#dO" x="229.5" y="235.8"/>
<use href="#dO" x="228.8" y="225.8"/>
<use href="#dR" x="229.2" y="232.1"/>
<use href="#dR" x="228.0" y="218.7"/>
<use href="#dR" x="229.5" y="228.0"/>
<use href="#dO" x="225.9" y="223.0"/>
<polygon points="249.3,252.0 255.0,248.0 262.0,240.0 266.0,232.0 270.0,226.0 275.0,224.0 280.0,220.0 285.0,217.0 292.0,214.0 298.0,206.0 298.0,244.0 296.0,246.2 290.0,244.4 285.0,246.2 280.0,249.7 275.0,252.4 270.0,257.0 265.0,264.0 262.0,270.0 258.0,276.0 256.0,284.0 252.0,284.0 249.3,284.0" fill="#a2a2a2"/>
<use href="#tL" x="294.8" y="231.5"/>
<use href="#tD" x="263.7" y="262.8"/>
<use href="#tL" x="256.2" y="273.6"/>
<use href="#tL" x="293.5" y="222.6"/>
<use href="#tL" x="251.4" y="279.1"/>
<use href="#tL" x="279.0" y="246.7"/>
<use href="#tL" x="296.9" y="208.3"/>
<use href="#tL" x="293.0" y="243.6"/>
<use href="#tL" x="294.7" y="222.8"/>
<use href="#tD" x="261.1" y="260.8"/>
<use href="#tL" x="290.6" y="229.2"/>
<use href="#tL" x="291.4" y="226.7"/>
<use href="#tL" x="266.9" y="236.5"/>
<use href="#tL" x="287.2" y="226.9"/>
<use href="#tD" x="278.0" y="232.1"/>
<use href="#tL" x="284.8" y="238.6"/>
<use href="#tD" x="262.4" y="255.8"/>
<use href="#tD" x="275.0" y="231.0"/>
<use href="#tL" x="280.0" y="242.7"/>
<use href="#tL" x="290.7" y="226.4"/>
<use href="#tL" x="259.3" y="244.6"/>
<use href="#tD" x="253.1" y="274.1"/>
<use href="#tD" x="290.5" y="240.1"/>
<use href="#tD" x="287.3" y="217.8"/>
<use href="#tL" x="264.2" y="257.6"/>
<use href="#tL" x="289.2" y="244.4"/>
<use href="#tL" x="282.4" y="241.5"/>
<use href="#tL" x="277.5" y="228.2"/>
<use href="#tL" x="259.7" y="273.9"/>
<use href="#tD" x="276.2" y="231.1"/>
<use href="#tL" x="271.4" y="233.3"/>
<use href="#tL" x="268.4" y="234.5"/>
<use href="#tL" x="252.4" y="275.0"/>
<use href="#tL" x="264.5" y="264.3"/>
<use href="#tD" x="294.4" y="235.7"/>
<use href="#tL" x="266.6" y="258.8"/>
<use href="#tL" x="264.9" y="241.4"/>
<use href="#tD" x="280.8" y="235.8"/>
<use href="#tL" x="261.9" y="247.1"/>
<use href="#tL" x="259.3" y="268.4"/>
<use href="#tL" x="257.1" y="266.4"/>
<use href="#tL" x="282.0" y="224.0"/>
<use href="#tL" x="286.4" y="232.4"/>
<use href="#tD" x="290.5" y="227.7"/>
<use href="#tL" x="290.2" y="233.5"/>
<use href="#tL" x="277.8" y="230.6"/>
<use href="#tL" x="267.2" y="233.6"/>
<use href="#tL" x="257.5" y="263.2"/>
<use href="#tL" x="265.9" y="235.2"/>
<use href="#tL" x="273.1" y="244.2"/>
<use href="#tD" x="280.2" y="245.5"/>
<use href="#tL" x="272.1" y="252.9"/>
<use href="#tL" x="266.0" y="241.0"/>
<use href="#tL" x="277.3" y="223.0"/>
<use href="#tL" x="295.3" y="236.1"/>
<use href="#tL" x="273.7" y="246.6"/>
<use href="#tL" x="274.1" y="238.0"/>
<use href="#tD" x="273.5" y="231.1"/>
<use href="#tL" x="282.0" y="232.7"/>
<use href="#tL" x="261.2" y="246.3"/>
<use href="#tL" x="270.3" y="247.0"/>
<use href="#tL" x="288.8" y="218.6"/>
<use href="#tL" x="261.7" y="248.5"/>
<use href="#tL" x="255.1" y="270.4"/>
<use href="#tL" x="294.9" y="237.6"/>
<use href="#tL" x="260.8" y="246.5"/>
<use href="#tL" x="290.7" y="241.9"/>
<use href="#tD" x="264.7" y="244.1"/>
<use href="#tL" x="260.6" y="245.6"/>
<use href="#tD" x="275.8" y="232.4"/>
<use href="#tL" x="273.6" y="225.2"/>
<use href="#tD" x="258.5" y="267.5"/>
<use href="#tL" x="258.1" y="249.9"/>
<use href="#tL" x="274.9" y="228.5"/>
<use href="#tL" x="294.6" y="243.7"/>
<use href="#tL" x="258.0" y="248.5"/>
<use href="#tD" x="283.8" y="234.1"/>
<use href="#tL" x="280.4" y="226.2"/>
<use href="#tD" x="269.4" y="235.5"/>
<use href="#tL" x="270.4" y="240.7"/>
<use href="#tD" x="268.0" y="238.5"/>
<use href="#tD" x="296.1" y="219.4"/>
<use href="#tL" x="250.8" y="271.8"/>
<use href="#tL" x="295.0" y="232.7"/>
<use href="#tL" x="284.4" y="233.1"/>
<use href="#tL" x="288.7" y="230.4"/>
<use href="#tD" x="288.2" y="243.3"/>
<use href="#tL" x="251.5" y="257.7"/>
<use href="#tL" x="288.8" y="225.8"/>
<use href="#tL" x="285.1" y="233.4"/>
<use href="#tL" x="254.9" y="273.7"/>
<use href="#tL" x="292.8" y="233.3"/>
<use href="#tL" x="271.6" y="250.8"/>
<use href="#tL" x="295.7" y="208.4"/>
<use href="#tL" x="255.6" y="262.4"/>
<use href="#tD" x="265.7" y="255.9"/>
<use href="#tD" x="276.4" y="243.5"/>
<use href="#tL" x="275.7" y="241.6"/>
<use href="#tL" x="276.5" y="238.5"/>
<use href="#tD" x="276.9" y="239.8"/>
<use href="#tL" x="284.0" y="244.9"/>
<use href="#tL" x="256.4" y="258.6"/>
<use href="#tL" x="276.1" y="236.9"/>
<use href="#tD" x="267.4" y="261.4"/>
<use href="#tL" x="291.6" y="221.7"/>
<use href="#tL" x="282.9" y="241.8"/>
<use href="#tL" x="260.9" y="252.5"/>
<use href="#tD" x="260.8" y="247.0"/>
<use href="#tL" x="285.1" y="238.9"/>
<use href="#tL" x="287.5" y="233.7"/>
<use href="#tD" x="253.2" y="269.9"/>
<use href="#tD" x="293.9" y="224.7"/>
<use href="#tL" x="280.7" y="224.7"/>
<use href="#tL" x="253.8" y="271.5"/>
<use href="#tL" x="295.2" y="238.6"/>
<use href="#tL" x="265.0" y="265.2"/>
<use href="#tD" x="274.7" y="233.6"/>
<use href="#tL" x="269.0" y="230.5"/>
<use href="#tD" x="281.4" y="227.9"/>
<use href="#tL" x="271.8" y="229.1"/>
<use href="#tD" x="288.4" y="222.5"/>
<use href="#tD" x="294.3" y="227.8"/>
<use href="#tD" x="263.9" y="262.3"/>
<use href="#tD" x="251.6" y="270.0"/>
<use href="#tL" x="282.3" y="238.8"/>
<use href="#tD" x="266.6" y="244.4"/>
<use href="#tL" x="275.7" y="239.6"/>
<use href="#tL" x="290.7" y="224.1"/>
<use href="#tL" x="286.2" y="218.8"/>
<use href="#tL" x="284.0" y="241.2"/>
<use href="#tD" x="291.7" y="221.3"/>
<use href="#tD" x="266.5" y="234.7"/>
<use href="#tL" x="291.5" y="219.4"/>
<use href="#tL" x="269.6" y="234.8"/>
<use href="#tD" x="284.2" y="218.7"/>
<use href="#tL" x="296.6" y="207.3"/>
<use href="#tD" x="259.4" y="255.2"/>
<use href="#tD" x="280.4" y="236.4"/>
<use href="#tL" x="282.1" y="241.2"/>
<use href="#tL" x="283.6" y="219.2"/>
<use href="#tL" x="259.0" y="268.8"/>
<use href="#tL" x="263.1" y="258.9"/>
<use href="#tL" x="296.2" y="222.6"/>
<use href="#tL" x="273.6" y="228.4"/>
<use href="#tD" x="292.6" y="229.4"/>
<use href="#tL" x="258.6" y="270.4"/>
<use href="#tL" x="291.3" y="241.4"/>
<use href="#tD" x="273.4" y="225.0"/>
<use href="#tL" x="279.0" y="240.2"/>
<use href="#tL" x="276.1" y="240.8"/>
<use href="#tD" x="250.6" y="261.1"/>
<use href="#tD" x="290.7" y="227.0"/>
<use href="#tD" x="260.4" y="270.2"/>
<use href="#tL" x="295.4" y="230.6"/>
<use href="#tL" x="290.5" y="242.0"/>
<use href="#tD" x="276.7" y="250.9"/>
<use href="#tL" x="276.5" y="233.0"/>
<use href="#tL" x="295.6" y="212.1"/>
<use href="#tL" x="296.0" y="242.4"/>
<use href="#tL" x="261.1" y="268.4"/>
<use href="#tL" x="253.8" y="252.3"/>
<use href="#tL" x="287.9" y="226.7"/>
<use href="#tD" x="293.7" y="239.5"/>
<use href="#tL" x="255.0" y="262.9"/>
<use href="#tL" x="266.7" y="254.8"/>
<use href="#tL" x="271.4" y="230.9"/>
<use href="#tL" x="272.9" y="248.4"/>
<use href="#tL" x="267.4" y="259.4"/>
<use href="#tL" x="283.7" y="235.3"/>
<use href="#tL" x="257.4" y="258.5"/>
<use href="#tD" x="261.2" y="250.1"/>
<use href="#tL" x="291.2" y="232.5"/>
<use href="#tL" x="263.6" y="248.3"/>
<use href="#tL" x="267.1" y="246.9"/>
<use href="#tL" x="282.5" y="218.3"/>
<use href="#tL" x="274.7" y="242.4"/>
<use href="#tL" x="265.6" y="246.3"/>
<use href="#tL" x="286.6" y="234.1"/>
<use href="#tL" x="283.0" y="243.3"/>
<use href="#tD" x="293.7" y="223.2"/>
<use href="#tL" x="283.6" y="236.4"/>
<use href="#tL" x="263.5" y="262.0"/>
<use href="#tD" x="271.3" y="239.2"/>
<use href="#sO" x="261.2" y="266.7"/>
<use href="#cL" x="287.6" y="223.1"/>
<use href="#cL" x="252.1" y="251.5"/>
<use href="#sL" x="263.2" y="241.3"/>
<use href="#sO" x="256.1" y="250.9"/>
<use href="#sO" x="282.1" y="246.3"/>
<use href="#cL" x="285.4" y="227.9"/>
<use href="#cL" x="275.8" y="236.0"/>
<use href="#cO" x="263.9" y="239.9"/>
<use href="#cL" x="275.0" y="243.4"/>
<use href="#sL" x="251.6" y="278.7"/>
<use href="#cO" x="285.6" y="244.4"/>
<use href="#cL" x="252.8" y="252.0"/>
<use href="#sL" x="259.6" y="271.9"/>
<use href="#sO" x="277.0" y="227.4"/>
<use href="#sO" x="252.1" y="270.8"/>
<use href="#cO" x="285.8" y="230.6"/>
<use href="#sO" x="263.0" y="260.8"/>
<use href="#sO" x="292.4" y="229.7"/>
<use href="#sO" x="286.5" y="230.7"/>
<use href="#cL" x="295.3" y="217.3"/>
<use href="#sO" x="259.0" y="260.3"/>
<use href="#cO" x="266.7" y="241.6"/>
<use href="#cO" x="289.7" y="218.4"/>
<use href="#cL" x="261.3" y="254.1"/>
<use href="#cO" x="260.9" y="255.5"/>
<use href="#cO" x="264.7" y="267.4"/>
<use href="#sL" x="269.6" y="232.9"/>
<use href="#cO" x="259.4" y="274.8"/>
<use href="#sO" x="292.5" y="232.1"/>
<use href="#cO" x="250.8" y="251.1"/>
<use href="#cL" x="249.5" y="252.0"/>
<use href="#sO" x="257.1" y="245.7"/>
<use href="#sO" x="261.5" y="240.8"/>
<use href="#cL" x="260.1" y="242.6"/>
<use href="#sO" x="263.9" y="236.0"/>
<use href="#cL" x="264.9" y="234.4"/>
<use href="#sO" x="269.3" y="226.2"/>
<use href="#cL" x="268.7" y="229.2"/>
<use href="#sO" x="273.7" y="224.6"/>
<use href="#cO" x="277.4" y="222.5"/>
<use href="#sO" x="280.6" y="219.5"/>
<use href="#sO" x="281.4" y="219.8"/>
<use href="#cL" x="291.5" y="214.5"/>
<use href="#sO" x="286.0" y="216.2"/>
<use href="#cL" x="295.4" y="209.6"/>
<use href="#sO" x="297.5" y="206.0"/>
<use href="#sO" x="294.4" y="210.5"/>
<use href="#cO" x="293.6" y="246.0"/>
<use href="#cL" x="292.3" y="244.6"/>
<use href="#cL" x="287.7" y="245.6"/>
<use href="#cO" x="280.9" y="248.9"/>
<use href="#cO" x="282.5" y="248.7"/>
<use href="#cL" x="277.8" y="251.6"/>
<use href="#sO" x="271.7" y="255.4"/>
<use href="#sO" x="270.3" y="256.6"/>
<use href="#cL" x="269.5" y="257.4"/>
<use href="#sO" x="264.9" y="264.1"/>
<use href="#cO" x="262.6" y="268.0"/>
<use href="#sO" x="265.6" y="264.5"/>
<use href="#sO" x="258.5" y="274.7"/>
<use href="#cO" x="260.7" y="271.9"/>
<use href="#sO" x="254.6" y="283.3"/>
<polygon points="267.0,213.0 271.6,208.6 274.6,204.6 278.4,200.6 282.4,199.3 286.4,202.0 290.4,200.6 293.4,195.3 296.4,196.2 296.4,206.0 291.2,215.0 283.4,217.7 278.4,220.3 276.6,223.8 271.6,225.6 268.6,232.0 265.6,240.0 263.6,246.0 261.6,248.0 260.1,245.0 261.6,236.0 264.6,226.0" fill="#2c2c2c"/>
<use href="#tD" x="268.1" y="223.5"/>
<use href="#tD" x="263.2" y="245.0"/>
<use href="#tD" x="295.9" y="204.7"/>
<use href="#tD" x="294.9" y="204.2"/>
<use href="#tM" x="274.4" y="224.6"/>
<use href="#tD" x="293.2" y="196.1"/>
<use href="#tM" x="289.1" y="206.9"/>
<use href="#tM" x="280.2" y="202.8"/>
<use href="#tD" x="279.5" y="218.5"/>
<use href="#tM" x="270.6" y="223.8"/>
<use href="#tD" x="261.3" y="244.9"/>
<use href="#tM" x="273.2" y="208.8"/>
<use href="#tM" x="265.1" y="227.5"/>
<use href="#tD" x="290.5" y="204.7"/>
<use href="#tM" x="265.2" y="236.4"/>
<use href="#tM" x="262.9" y="242.2"/>
<use href="#tD" x="288.0" y="209.6"/>
<use href="#tM" x="285.3" y="212.2"/>
<use href="#tM" x="280.3" y="218.2"/>
<use href="#tM" x="278.6" y="215.8"/>
<use href="#dO" x="272.2" y="216.3"/>
<use href="#dO" x="269.1" y="229.2"/>
<use href="#dO" x="280.0" y="217.4"/>
<use href="#dO" x="265.9" y="227.0"/>
<use href="#dK" x="285.8" y="216.8"/>
<use href="#dO" x="275.7" y="218.3"/>
<use href="#dO" x="276.2" y="220.9"/>
<use href="#dO" x="277.7" y="205.9"/>
<use href="#dR" x="286.0" y="204.1"/>
<use href="#dO" x="295.5" y="203.1"/>
<use href="#dK" x="281.9" y="214.3"/>
<use href="#dO" x="267.6" y="213.5"/>
<use href="#dO" x="267.8" y="229.3"/>
<use href="#dO" x="283.3" y="211.7"/>
<use href="#dO" x="264.1" y="229.7"/>
<use href="#dR" x="291.8" y="208.5"/>
<use href="#dK" x="274.3" y="219.6"/>
<use href="#dO" x="280.3" y="208.2"/>
<use href="#dK" x="273.6" y="224.4"/>
<use href="#dR" x="263.5" y="236.9"/>
<use href="#dK" x="280.4" y="208.4"/>
<use href="#dO" x="286.1" y="213.2"/>
<use href="#dK" x="280.3" y="203.0"/>
<use href="#dO" x="276.8" y="203.6"/>
<use href="#dK" x="290.8" y="204.3"/>
<use href="#dO" x="264.4" y="235.9"/>
<use href="#dO" x="285.6" y="202.2"/>
<use href="#dK" x="273.5" y="218.7"/>
<use href="#dR" x="261.4" y="246.9"/>
<use href="#dO" x="289.5" y="213.8"/>
<use href="#dK" x="296.4" y="197.5"/>
<use href="#dO" x="282.0" y="205.0"/>
<use href="#dR" x="277.0" y="220.3"/>
<use href="#dO" x="295.8" y="205.1"/>
<use href="#dK" x="266.9" y="219.4"/>
<use href="#dO" x="276.5" y="203.8"/>
<use href="#dR" x="289.6" y="206.5"/>
<use href="#dO" x="287.5" y="215.3"/>
<use href="#dO" x="287.6" y="204.7"/>
<use href="#dO" x="274.9" y="211.2"/>
<use href="#dK" x="282.6" y="216.3"/>
<use href="#dO" x="265.8" y="234.1"/>
<use href="#dK" x="295.0" y="196.3"/>
<use href="#dR" x="260.4" y="243.4"/>
<use href="#dO" x="274.7" y="217.8"/>
<use href="#dO" x="276.4" y="215.2"/>
<use href="#dO" x="280.1" y="207.9"/>
<use href="#dO" x="264.9" y="240.8"/>
<use href="#dR" x="288.3" y="205.1"/>
<use href="#dO" x="281.4" y="211.3"/>
<use href="#dR" x="268.6" y="229.8"/>
<use href="#dK" x="290.6" y="211.1"/>
<use href="#dO" x="290.4" y="204.9"/>
<use href="#dR" x="277.1" y="222.0"/>
<use href="#dO" x="287.9" y="209.0"/>
<use href="#dO" x="270.2" y="218.8"/>
<use href="#dR" x="273.6" y="215.6"/>
<use href="#dK" x="269.3" y="211.8"/>
<use href="#dR" x="277.5" y="204.1"/>
<use href="#dR" x="275.9" y="204.0"/>
<use href="#dK" x="262.5" y="235.4"/>
<use href="#dO" x="291.5" y="200.1"/>
<use href="#dK" x="280.8" y="214.7"/>
<use href="#dO" x="282.2" y="210.6"/>
<use href="#dO" x="281.1" y="203.6"/>
<use href="#dO" x="274.1" y="206.4"/>
<use href="#dK" x="291.7" y="210.1"/>
<use href="#dO" x="264.2" y="242.2"/>
<use href="#dK" x="282.8" y="203.0"/>
<use href="#dO" x="296.3" y="202.6"/>
<use href="#dK" x="291.0" y="202.4"/>
<use href="#dR" x="273.4" y="215.9"/>
<use href="#dO" x="273.5" y="224.2"/>
<use href="#dR" x="267.6" y="232.5"/>
<use href="#dR" x="284.5" y="206.5"/>
<use href="#dO" x="279.5" y="209.0"/>
<use href="#dK" x="282.8" y="206.1"/>
<use href="#dR" x="273.7" y="207.7"/>
<use href="#dK" x="287.8" y="214.3"/>
<use href="#dO" x="276.7" y="209.5"/>
<use href="#dO" x="292.2" y="207.0"/>
<use href="#dR" x="285.6" y="208.3"/>
<use href="#dR" x="277.5" y="210.2"/>
<use href="#dR" x="272.5" y="224.1"/>
<use href="#dO" x="295.5" y="201.1"/>
<use href="#dK" x="267.7" y="216.9"/>
<use href="#dO" x="266.0" y="228.3"/>
<use href="#dO" x="264.6" y="229.1"/>
<use href="#dR" x="292.6" y="203.0"/>
<use href="#dR" x="295.7" y="206.5"/>
<use href="#dO" x="268.3" y="230.2"/>
<use href="#dK" x="276.6" y="217.5"/>
<use href="#dO" x="268.9" y="215.7"/>
<use href="#dO" x="292.6" y="207.1"/>
<use href="#dK" x="274.0" y="212.6"/>
<use href="#dO" x="286.2" y="214.1"/>
<use href="#dK" x="286.5" y="211.9"/>
<use href="#dO" x="264.0" y="241.0"/>
<use href="#dR" x="287.2" y="214.2"/>
<use href="#dK" x="262.2" y="246.3"/>
<use href="#dO" x="286.2" y="203.7"/>
<use href="#dO" x="263.2" y="235.5"/>
<use href="#dR" x="266.0" y="232.9"/>
<use href="#dO" x="264.2" y="236.5"/>
<use href="#dO" x="282.8" y="205.6"/>
<use href="#dO" x="285.3" y="207.2"/>
<use href="#dO" x="289.5" y="210.2"/>
<use href="#dK" x="288.3" y="205.1"/>
<use href="#dO" x="272.5" y="220.2"/>
<use href="#dR" x="290.4" y="209.4"/>
<use href="#dO" x="273.0" y="212.7"/>
<use href="#dR" x="289.5" y="212.5"/>
<use href="#dR" x="296.0" y="203.2"/>
<use href="#dO" x="261.9" y="241.3"/>
<use href="#dK" x="289.4" y="213.4"/>
<use href="#dR" x="291.4" y="202.0"/>
<use href="#dO" x="283.1" y="207.7"/>
<use href="#dR" x="291.4" y="203.1"/>
<use href="#dO" x="276.9" y="219.4"/>
<use href="#dK" x="279.2" y="207.1"/>
<use href="#dR" x="294.8" y="205.3"/>
<use href="#dR" x="294.4" y="198.2"/>
<use href="#dK" x="283.9" y="210.9"/>
<use href="#dK" x="288.6" y="205.1"/>
<use href="#dO" x="270.6" y="221.3"/>
<use href="#dR" x="290.4" y="209.0"/>
<use href="#dK" x="276.0" y="217.7"/>
<use href="#dO" x="261.0" y="243.6"/>
<use href="#dO" x="275.6" y="205.7"/>
<use href="#dR" x="262.3" y="237.1"/>
<use href="#dR" x="290.0" y="203.1"/>
<use href="#dR" x="277.8" y="211.8"/>
<use href="#dO" x="280.3" y="219.1"/>
<use href="#dR" x="275.0" y="223.2"/>
<use href="#dO" x="282.9" y="205.1"/>
<use href="#dO" x="264.5" y="238.6"/>
<use href="#dR" x="281.9" y="211.6"/>
<use href="#dR" x="268.5" y="222.7"/>
<use href="#dO" x="277.7" y="202.2"/>
<use href="#dO" x="273.7" y="210.8"/>
<use href="#dR" x="263.0" y="237.0"/>
<use href="#dO" x="271.6" y="223.6"/>
<use href="#dR" x="274.5" y="210.7"/>
<use href="#dK" x="273.3" y="212.5"/>
<use href="#dO" x="264.2" y="229.9"/>
<use href="#dR" x="266.4" y="225.6"/>
<use href="#dO" x="265.2" y="231.5"/>
<use href="#dO" x="285.1" y="213.4"/>
<use href="#dR" x="293.2" y="198.9"/>
<use href="#dO" x="287.4" y="203.4"/>
<use href="#dO" x="264.6" y="230.0"/>
<use href="#dO" x="268.0" y="227.2"/>
<use href="#dR" x="292.1" y="210.8"/>
<use href="#dO" x="261.8" y="238.0"/>
<use href="#dO" x="296.0" y="199.6"/>
<use href="#dK" x="288.9" y="209.8"/>
<use href="#dO" x="263.1" y="236.7"/>
<use href="#dK" x="292.1" y="205.2"/>
<use href="#dK" x="277.3" y="205.5"/>
<use href="#dO" x="276.1" y="204.6"/>
<use href="#dO" x="272.9" y="218.6"/>
<use href="#dR" x="272.5" y="210.4"/>
<use href="#dR" x="282.0" y="216.0"/>
<use href="#dK" x="267.4" y="219.2"/>
<use href="#dO" x="277.4" y="220.8"/>
<use href="#dR" x="291.5" y="202.3"/>
<use href="#dO" x="270.5" y="226.2"/>
<use href="#dK" x="277.7" y="209.8"/>
<use href="#dO" x="284.7" y="207.8"/>
<use href="#dO" x="268.2" y="230.9"/>
<use href="#dO" x="291.3" y="202.3"/>
<use href="#dR" x="293.1" y="209.5"/>
<use href="#dK" x="281.7" y="200.8"/>
<use href="#dO" x="280.2" y="206.0"/>
<use href="#dO" x="295.4" y="200.7"/>
<use href="#dO" x="278.0" y="211.8"/>
<use href="#dO" x="274.3" y="221.5"/>
<use href="#dO" x="285.8" y="205.2"/>
<use href="#dO" x="270.3" y="211.8"/>
<use href="#dO" x="263.5" y="240.4"/>
<use href="#dO" x="265.1" y="233.0"/>
<use href="#dK" x="266.5" y="235.8"/>
<use href="#dO" x="270.6" y="214.7"/>
<use href="#dK" x="294.2" y="198.0"/>
<use href="#dK" x="266.7" y="216.2"/>
<use href="#dO" x="268.1" y="211.8"/>
<use href="#dK" x="285.0" y="216.2"/>
<use href="#dK" x="293.8" y="205.1"/>
<use href="#dO" x="287.8" y="202.8"/>
<use href="#dK" x="287.9" y="202.3"/>
<use href="#dO" x="264.1" y="238.2"/>
<use href="#dO" x="294.6" y="197.3"/>
<use href="#dO" x="289.3" y="215.6"/>
<polygon points="251.6,250.0 255.6,246.0 255.4,249.0 258.4,245.0 260.4,247.0 260.4,256.0 257.6,259.0 251.6,258.0" fill="#262626"/>
<use href="#tM" x="257.5" y="258.7"/>
<use href="#tD" x="258.2" y="247.7"/>
<use href="#tD" x="254.5" y="251.0"/>
<use href="#dO" x="260.2" y="256.0"/>
<use href="#dO" x="257.6" y="246.7"/>
<use href="#dO" x="258.8" y="256.0"/>
<use href="#dO" x="260.1" y="251.0"/>
<use href="#dO" x="254.8" y="257.3"/>
<use href="#dO" x="255.3" y="254.4"/>
<use href="#dK" x="258.3" y="247.9"/>
<use href="#dK" x="256.6" y="256.3"/>
<use href="#dO" x="260.4" y="248.5"/>
<use href="#dO" x="254.5" y="251.4"/>
<use href="#dK" x="257.5" y="255.4"/>
<use href="#dO" x="255.2" y="246.9"/>
<use href="#dK" x="255.1" y="246.7"/>
<use href="#dK" x="256.0" y="257.9"/>
<use href="#dO" x="257.7" y="246.7"/>
<use href="#dO" x="252.7" y="254.4"/>
<use href="#dO" x="252.2" y="253.3"/>
<use href="#dO" x="259.5" y="250.6"/>
<use href="#dO" x="258.1" y="252.8"/>
<use href="#dK" x="258.0" y="246.4"/>
<use href="#dO" x="254.9" y="249.5"/>
<use href="#dK" x="251.5" y="251.1"/>
<use href="#dO" x="256.3" y="252.0"/>
<use href="#dK" x="258.0" y="251.3"/>
<use href="#dK" x="255.1" y="248.2"/>
<use href="#dK" x="255.4" y="254.2"/>
<use href="#dO" x="258.3" y="246.9"/>
<use href="#dO" x="259.1" y="257.4"/>
<use href="#dK" x="256.1" y="251.9"/>
<use href="#dK" x="258.6" y="247.6"/>
<use href="#dO" x="258.3" y="246.1"/>
<use href="#dK" x="256.2" y="250.9"/>
<use href="#dO" x="254.8" y="251.8"/>
<use href="#dO" x="254.5" y="254.9"/>
<use href="#dO" x="255.3" y="249.2"/>
<use href="#dO" x="257.4" y="256.6"/>
<polygon points="315.0,256.0 316.0,251.0 320.0,249.0 325.0,251.0 330.0,243.0 334.0,237.0 340.0,229.0 343.0,225.0 346.0,220.0 350.0,220.0 356.0,219.0 360.0,207.0 362.0,201.0 363.4,200.0 363.4,232.0 360.0,243.0 352.0,245.0 349.0,251.0 345.0,248.0 342.0,258.0 340.0,264.0 335.0,268.0 328.0,274.0 320.0,276.0 317.0,282.0 315.0,284.0" fill="#a2a2a2"/>
<use href="#tL" x="355.1" y="222.1"/>
<use href="#tL" x="320.7" y="257.1"/>
<use href="#tD" x="337.4" y="250.3"/>
<use href="#tD" x="361.5" y="218.1"/>
<use href="#tL" x="341.4" y="235.7"/>
<use href="#tD" x="344.4" y="232.6"/>
<use href="#tL" x="353.0" y="232.8"/>
<use href="#tL" x="356.9" y="224.1"/>
<use href="#tL" x="354.4" y="240.2"/>
<use href="#tL" x="341.0" y="238.1"/>
<use href="#tL" x="358.8" y="225.8"/>
<use href="#tD" x="323.0" y="256.6"/>
<use href="#tD" x="333.5" y="258.1"/>
<use href="#tD" x="329.5" y="258.5"/>
<use href="#tL" x="352.6" y="238.9"/>
<use href="#tD" x="351.7" y="230.0"/>
<use href="#tL" x="326.3" y="254.9"/>
<use href="#tD" x="324.9" y="257.2"/>
<use href="#tL" x="337.8" y="237.6"/>
<use href="#tD" x="358.7" y="227.1"/>
<use href="#tL" x="322.4" y="260.2"/>
<use href="#tL" x="325.9" y="251.4"/>
<use href="#tL" x="337.6" y="255.0"/>
<use href="#tD" x="342.4" y="247.0"/>
<use href="#tL" x="330.1" y="272.0"/>
<use href="#tL" x="320.3" y="257.2"/>
<use href="#tL" x="337.4" y="251.2"/>
<use href="#tD" x="327.2" y="262.4"/>
<use href="#tL" x="322.1" y="272.9"/>
<use href="#tD" x="345.0" y="223.3"/>
<use href="#tL" x="346.1" y="246.9"/>
<use href="#tL" x="317.1" y="270.2"/>
<use href="#tL" x="339.9" y="260.7"/>
<use href="#tL" x="339.6" y="237.3"/>
<use href="#tL" x="324.9" y="265.1"/>
<use href="#tL" x="350.1" y="240.2"/>
<use href="#tL" x="334.3" y="246.4"/>
<use href="#tL" x="337.1" y="240.3"/>
<use href="#tL" x="317.3" y="282.7"/>
<use href="#tL" x="331.9" y="260.8"/>
<use href="#tL" x="323.7" y="257.6"/>
<use href="#tL" x="357.7" y="240.6"/>
<use href="#tL" x="332.8" y="261.4"/>
<use href="#tL" x="337.5" y="252.2"/>
<use href="#tL" x="323.3" y="255.0"/>
<use href="#tD" x="333.2" y="264.4"/>
<use href="#tD" x="342.0" y="254.0"/>
<use href="#tL" x="341.0" y="241.0"/>
<use href="#tL" x="360.1" y="209.6"/>
<use href="#tD" x="341.7" y="245.1"/>
<use href="#tL" x="322.7" y="257.6"/>
<use href="#tL" x="339.7" y="238.6"/>
<use href="#tD" x="339.6" y="236.1"/>
<use href="#tL" x="333.4" y="258.7"/>
<use href="#tL" x="360.3" y="212.6"/>
<use href="#tL" x="359.5" y="208.0"/>
<use href="#tD" x="325.6" y="252.6"/>
<use href="#tL" x="330.1" y="264.8"/>
<use href="#tL" x="356.3" y="220.0"/>
<use href="#tL" x="322.8" y="266.6"/>
<use href="#tD" x="320.4" y="266.4"/>
<use href="#tD" x="353.5" y="236.8"/>
<use href="#tL" x="340.2" y="250.8"/>
<use href="#tD" x="344.9" y="233.5"/>
<use href="#tL" x="335.3" y="238.4"/>
<use href="#tD" x="339.5" y="230.8"/>
<use href="#tD" x="317.5" y="266.8"/>
<use href="#tD" x="360.1" y="238.8"/>
<use href="#tL" x="339.3" y="260.9"/>
<use href="#tL" x="334.6" y="257.3"/>
<use href="#tD" x="324.8" y="265.0"/>
<use href="#tD" x="322.2" y="271.2"/>
<use href="#tD" x="350.9" y="225.9"/>
<use href="#tL" x="334.5" y="253.0"/>
<use href="#tL" x="346.5" y="237.7"/>
<use href="#tL" x="352.2" y="238.3"/>
<use href="#tL" x="328.3" y="260.5"/>
<use href="#tL" x="347.7" y="244.3"/>
<use href="#tL" x="336.6" y="235.9"/>
<use href="#tL" x="326.6" y="266.4"/>
<use href="#tL" x="347.8" y="245.5"/>
<use href="#tL" x="339.3" y="242.3"/>
<use href="#tL" x="350.1" y="239.9"/>
<use href="#tL" x="358.0" y="233.0"/>
<use href="#tD" x="316.8" y="257.9"/>
<use href="#tL" x="330.7" y="257.2"/>
<use href="#tD" x="338.1" y="251.6"/>
<use href="#tD" x="353.5" y="221.3"/>
<use href="#tD" x="327.3" y="253.2"/>
<use href="#tL" x="361.3" y="228.2"/>
<use href="#tD" x="319.7" y="275.7"/>
<use href="#tD" x="320.6" y="273.9"/>
<use href="#tL" x="332.4" y="244.0"/>
<use href="#tL" x="358.7" y="236.4"/>
<use href="#tL" x="325.5" y="258.4"/>
<use href="#tL" x="353.9" y="238.9"/>
<use href="#tD" x="354.4" y="228.4"/>
<use href="#tL" x="351.3" y="241.0"/>
<use href="#tD" x="338.6" y="238.2"/>
<use href="#tL" x="320.6" y="275.4"/>
<use href="#tL" x="340.5" y="237.7"/>
<use href="#tD" x="348.8" y="240.2"/>
<use href="#tL" x="337.7" y="260.3"/>
<use href="#tL" x="334.1" y="257.5"/>
<use href="#tL" x="345.5" y="247.4"/>
<use href="#tD" x="361.6" y="208.4"/>
<use href="#tD" x="356.1" y="221.2"/>
<use href="#tL" x="330.5" y="261.2"/>
<use href="#tL" x="329.6" y="248.1"/>
<use href="#tL" x="328.3" y="259.0"/>
<use href="#tL" x="358.7" y="212.3"/>
<use href="#tL" x="339.7" y="243.7"/>
<use href="#tL" x="346.2" y="225.6"/>
<use href="#tD" x="331.1" y="262.3"/>
<use href="#tL" x="347.5" y="241.9"/>
<use href="#tL" x="360.9" y="217.4"/>
<use href="#tL" x="344.5" y="240.4"/>
<use href="#tL" x="359.4" y="224.8"/>
<use href="#tL" x="316.1" y="269.6"/>
<use href="#tL" x="318.7" y="256.2"/>
<use href="#tD" x="328.0" y="265.4"/>
<use href="#tL" x="319.4" y="270.4"/>
<use href="#tL" x="334.5" y="250.4"/>
<use href="#tL" x="340.0" y="233.0"/>
<use href="#tL" x="341.1" y="237.6"/>
<use href="#tL" x="345.5" y="224.9"/>
<use href="#tL" x="343.2" y="228.2"/>
<use href="#tD" x="360.7" y="204.6"/>
<use href="#tL" x="354.5" y="237.0"/>
<use href="#tD" x="358.3" y="214.0"/>
<use href="#tL" x="322.8" y="258.9"/>
<use href="#tD" x="320.3" y="255.5"/>
<use href="#tD" x="318.6" y="253.6"/>
<use href="#tD" x="325.8" y="266.1"/>
<use href="#tD" x="326.3" y="263.0"/>
<use href="#tL" x="361.7" y="204.2"/>
<use href="#tD" x="321.3" y="263.1"/>
<use href="#tL" x="350.8" y="237.2"/>
<use href="#tD" x="327.3" y="250.7"/>
<use href="#tD" x="316.2" y="268.1"/>
<use href="#tD" x="333.4" y="240.5"/>
<use href="#tD" x="317.4" y="274.0"/>
<use href="#tD" x="362.2" y="232.1"/>
<use href="#tL" x="352.3" y="241.8"/>
<use href="#tL" x="354.4" y="235.8"/>
<use href="#tD" x="359.7" y="211.8"/>
<use href="#tD" x="317.4" y="273.1"/>
<use href="#tD" x="352.6" y="223.4"/>
<use href="#tD" x="320.1" y="272.8"/>
<use href="#tL" x="358.9" y="233.8"/>
<use href="#tL" x="353.8" y="240.1"/>
<use href="#tL" x="337.9" y="235.2"/>
<use href="#tL" x="354.2" y="242.2"/>
<use href="#tD" x="348.2" y="228.6"/>
<use href="#tL" x="330.2" y="258.8"/>
<use href="#tL" x="358.7" y="219.0"/>
<use href="#tL" x="350.2" y="239.5"/>
<use href="#tL" x="334.3" y="244.5"/>
<use href="#tL" x="332.6" y="260.9"/>
<use href="#tL" x="360.8" y="210.2"/>
<use href="#tL" x="319.6" y="269.7"/>
<use href="#tL" x="344.5" y="236.6"/>
<use href="#tL" x="333.1" y="254.8"/>
<use href="#tL" x="348.2" y="248.7"/>
<use href="#tL" x="330.9" y="244.5"/>
<use href="#tD" x="333.4" y="258.9"/>
<use href="#tD" x="342.3" y="248.6"/>
<use href="#tL" x="349.9" y="238.0"/>
<use href="#tL" x="330.7" y="252.0"/>
<use href="#tD" x="336.7" y="242.1"/>
<use href="#tL" x="348.6" y="236.3"/>
<use href="#tL" x="337.1" y="258.7"/>
<use href="#tL" x="346.8" y="237.4"/>
<use href="#tL" x="317.9" y="260.8"/>
<use href="#tL" x="356.5" y="216.0"/>
<use href="#tD" x="349.4" y="241.4"/>
<use href="#tD" x="347.5" y="224.0"/>
<use href="#tL" x="332.6" y="257.7"/>
<use href="#tL" x="346.3" y="228.9"/>
<use href="#tL" x="344.5" y="247.9"/>
<use href="#tL" x="357.4" y="226.4"/>
<use href="#tL" x="337.9" y="260.5"/>
<use href="#tL" x="347.6" y="246.9"/>
<use href="#tD" x="318.7" y="265.7"/>
<use href="#tD" x="344.4" y="226.2"/>
<use href="#tD" x="327.8" y="260.6"/>
<use href="#tL" x="357.6" y="213.8"/>
<use href="#tL" x="338.4" y="235.3"/>
<use href="#tD" x="331.8" y="247.2"/>
<use href="#tL" x="325.3" y="252.7"/>
<use href="#tL" x="340.8" y="250.1"/>
<use href="#tL" x="321.7" y="250.3"/>
<use href="#tL" x="331.5" y="266.4"/>
<use href="#tL" x="330.6" y="244.6"/>
<use href="#tL" x="319.6" y="259.1"/>
<use href="#tL" x="336.4" y="257.4"/>
<use href="#tL" x="350.0" y="239.2"/>
<use href="#tL" x="339.8" y="236.5"/>
<use href="#tL" x="339.5" y="230.4"/>
<use href="#tL" x="339.9" y="237.7"/>
<use href="#sO" x="320.8" y="268.7"/>
<use href="#sL" x="356.2" y="237.6"/>
<use href="#cL" x="324.0" y="256.9"/>
<use href="#cL" x="353.7" y="219.6"/>
<use href="#cL" x="343.5" y="239.6"/>
<use href="#sO" x="354.6" y="239.3"/>
<use href="#sL" x="356.5" y="236.9"/>
<use href="#sO" x="346.4" y="237.5"/>
<use href="#sL" x="333.5" y="268.1"/>
<use href="#sO" x="331.2" y="262.2"/>
<use href="#cL" x="357.3" y="233.7"/>
<use href="#cL" x="352.1" y="242.9"/>
<use href="#sL" x="325.5" y="259.7"/>
<use href="#cL" x="323.0" y="250.5"/>
<use href="#sO" x="351.2" y="229.9"/>
<use href="#sL" x="331.3" y="262.7"/>
<use href="#sO" x="358.1" y="208.5"/>
<use href="#cL" x="332.4" y="243.1"/>
<use href="#sO" x="337.7" y="232.3"/>
<use href="#sL" x="322.2" y="269.5"/>
<use href="#sL" x="329.6" y="266.4"/>
<use href="#sL" x="330.4" y="248.7"/>
<use href="#sL" x="346.6" y="225.9"/>
<use href="#sL" x="343.8" y="223.8"/>
<use href="#cO" x="342.4" y="226.7"/>
<use href="#sO" x="348.6" y="239.0"/>
<use href="#cL" x="335.4" y="248.9"/>
<use href="#cL" x="323.2" y="253.2"/>
<use href="#sL" x="323.6" y="269.6"/>
<use href="#sO" x="334.7" y="245.1"/>
<use href="#cO" x="343.4" y="226.0"/>
<use href="#sL" x="358.6" y="217.7"/>
<use href="#cO" x="357.9" y="218.5"/>
<use href="#cL" x="353.9" y="236.9"/>
<use href="#cL" x="339.8" y="226.9"/>
<use href="#cO" x="356.5" y="235.2"/>
<use href="#sO" x="333.6" y="246.0"/>
<use href="#sO" x="348.5" y="226.7"/>
<use href="#cL" x="348.8" y="243.2"/>
<use href="#sL" x="335.1" y="248.5"/>
<use href="#sO" x="319.3" y="249.3"/>
<use href="#cO" x="321.6" y="250.3"/>
<use href="#sO" x="326.4" y="247.1"/>
<use href="#sO" x="325.8" y="248.0"/>
<use href="#sO" x="327.3" y="248.9"/>
<use href="#cL" x="333.1" y="238.7"/>
<use href="#cO" x="334.0" y="236.8"/>
<use href="#sO" x="340.1" y="229.4"/>
<use href="#cL" x="337.5" y="232.0"/>
<use href="#sO" x="335.7" y="235.4"/>
<use href="#sO" x="341.0" y="228.1"/>
<use href="#sO" x="344.8" y="220.4"/>
<use href="#cO" x="348.5" y="219.3"/>
<use href="#cO" x="352.5" y="218.8"/>
<use href="#sO" x="353.9" y="219.4"/>
<use href="#sO" x="357.0" y="216.3"/>
<use href="#sO" x="358.0" y="213.2"/>
<use href="#cL" x="357.9" y="211.8"/>
<use href="#cL" x="357.8" y="212.7"/>
<use href="#cL" x="362.2" y="202.5"/>
<use href="#cL" x="360.7" y="206.6"/>
<use href="#sO" x="361.7" y="235.7"/>
<use href="#sO" x="360.5" y="239.8"/>
<use href="#sO" x="361.4" y="240.9"/>
<use href="#cL" x="357.8" y="243.6"/>
<use href="#sO" x="358.1" y="243.7"/>
<use href="#sO" x="350.2" y="249.5"/>
<use href="#sO" x="349.9" y="248.1"/>
<use href="#sO" x="349.0" y="250.4"/>
<use href="#cO" x="342.0" y="256.1"/>
<use href="#cL" x="344.7" y="251.2"/>
<use href="#sO" x="343.6" y="252.6"/>
<use href="#cO" x="341.3" y="260.4"/>
<use href="#sO" x="342.0" y="259.3"/>
<use href="#cL" x="339.5" y="264.2"/>
<use href="#cL" x="338.3" y="264.8"/>
<use href="#sO" x="331.5" y="270.9"/>
<use href="#sO" x="328.4" y="273.9"/>
<use href="#sO" x="329.3" y="272.5"/>
<use href="#sO" x="327.6" y="273.5"/>
<use href="#cL" x="321.8" y="274.9"/>
<use href="#sO" x="319.3" y="278.4"/>
<use href="#sO" x="320.0" y="276.2"/>
<use href="#dO" x="317.9" y="275.7"/>
<use href="#dK" x="319.9" y="281.3"/>
<use href="#dK" x="318.1" y="274.9"/>
<use href="#dK" x="317.4" y="279.2"/>
<use href="#dK" x="318.5" y="280.8"/>
<use href="#dO" x="314.1" y="274.5"/>
<use href="#dK" x="316.2" y="277.5"/>
<use href="#dK" x="316.3" y="276.5"/>
<use href="#tK" x="318.1" y="280.0"/>
<use href="#tK" x="317.1" y="283.2"/>
<use href="#tK" x="316.3" y="275.7"/>
<use href="#tK" x="316.7" y="276.1"/>
<use href="#tK" x="318.9" y="278.7"/>
<use href="#tD" x="317.5" y="278.0"/>
<use href="#tK" x="314.4" y="282.3"/>
<use href="#tD" x="316.3" y="275.1"/>
<use href="#tD" x="318.8" y="281.0"/>
<use href="#tK" x="319.7" y="277.7"/>
<use href="#tD" x="318.4" y="280.9"/>
<use href="#tD" x="316.1" y="279.3"/>
<use href="#tD" x="317.4" y="283.4"/>
<use href="#tD" x="317.1" y="276.2"/>
<use href="#tK" x="314.5" y="282.8"/>
<use href="#tK" x="319.8" y="282.0"/>
<use href="#tD" x="314.4" y="277.0"/>
<use href="#tK" x="316.9" y="279.8"/>
<use href="#tD" x="319.4" y="274.9"/>
<use href="#tK" x="319.0" y="276.2"/>
<use href="#tK" x="319.1" y="282.2"/>
<use href="#tD" x="318.8" y="281.2"/>
<use href="#dO" x="339.1" y="263.0"/>
<use href="#dK" x="340.5" y="262.9"/>
<use href="#dO" x="340.3" y="259.8"/>
<use href="#dO" x="339.0" y="256.6"/>
<use href="#dO" x="340.9" y="259.4"/>
<use href="#tK" x="337.3" y="260.7"/>
<use href="#tD" x="337.8" y="260.3"/>
<use href="#tD" x="339.8" y="258.9"/>
<use href="#tD" x="340.3" y="263.0"/>
<use href="#tD" x="340.9" y="256.3"/>
<use href="#tD" x="338.9" y="262.0"/>
<use href="#tD" x="338.4" y="261.8"/>
<use href="#tD" x="337.5" y="260.0"/>
<use href="#tD" x="341.0" y="259.1"/>
<use href="#tK" x="337.3" y="260.4"/>
<use href="#tK" x="337.7" y="260.1"/>
<use href="#tK" x="340.6" y="263.7"/>
<use href="#dK" x="344.4" y="244.7"/>
<use href="#dK" x="344.9" y="247.9"/>
<use href="#dO" x="343.9" y="246.4"/>
<use href="#dO" x="342.4" y="242.3"/>
<use href="#dO" x="345.3" y="244.2"/>
<use href="#tD" x="343.7" y="249.0"/>
<use href="#tD" x="343.3" y="246.3"/>
<use href="#tK" x="343.0" y="250.0"/>
<use href="#tD" x="345.2" y="245.1"/>
<use href="#tD" x="345.8" y="244.1"/>
<use href="#tD" x="342.9" y="244.0"/>
<use href="#tK" x="342.9" y="244.9"/>
<use href="#tK" x="342.0" y="244.4"/>
<use href="#tK" x="342.5" y="244.4"/>
<use href="#tK" x="345.5" y="247.8"/>
<use href="#tD" x="344.3" y="243.0"/>
<use href="#tD" x="345.2" y="245.9"/>
<use href="#dO" x="362.3" y="229.4"/>
<use href="#dK" x="362.7" y="225.8"/>
<use href="#dO" x="360.6" y="226.7"/>
<use href="#tD" x="361.3" y="229.5"/>
<use href="#tD" x="360.9" y="226.2"/>
<use href="#tD" x="361.9" y="225.7"/>
<use href="#tK" x="363.0" y="228.6"/>
<use href="#tK" x="363.2" y="226.7"/>
<use href="#tD" x="362.1" y="227.9"/>
<use href="#dO" x="327.3" y="270.6"/>
<use href="#dK" x="329.5" y="271.6"/>
<use href="#tD" x="326.8" y="271.7"/>
<use href="#tD" x="327.5" y="269.1"/>
<use href="#tD" x="328.0" y="269.1"/>
<use href="#tK" x="328.3" y="268.9"/>
<use href="#dO" x="354.9" y="240.4"/>
<use href="#dO" x="354.2" y="240.2"/>
<use href="#tD" x="354.0" y="238.9"/>
<use href="#tK" x="354.1" y="240.9"/>
<use href="#tK" x="355.0" y="239.2"/>
<use href="#tD" x="355.2" y="240.3"/>
<use href="#dS" x="306.0" y="243.9"/>
<use href="#dS" x="369.4" y="252.1"/>
<use href="#sS" x="309.1" y="252.6"/>
<use href="#sS" x="372.4" y="245.4"/>
<use href="#cS" x="311.6" y="263.3"/>
<use href="#cS" x="369.4" y="226.2"/>
<use href="#cS" x="303.0" y="228.0"/>
<polygon points="382.0,250.0 388.0,249.0 395.0,250.0 401.0,250.0 408.0,249.5 413.0,247.0 418.0,246.0 422.0,246.0 429.9,244.5 429.9,253.0 426.0,256.0 422.0,260.0 418.0,264.0 414.0,265.0 410.0,264.0 405.0,268.0 400.0,270.0 395.0,271.0 390.0,273.0 386.0,275.0 382.0,276.0" fill="#b0b0b0"/>
<use href="#tL" x="385.9" y="255.9"/>
<use href="#tL" x="402.1" y="267.3"/>
<use href="#tL" x="383.7" y="259.9"/>
<use href="#tD" x="386.9" y="257.7"/>
<use href="#tD" x="420.3" y="254.7"/>
<use href="#tL" x="398.8" y="251.3"/>
<use href="#tD" x="420.8" y="252.2"/>
<use href="#tD" x="384.3" y="267.8"/>
<use href="#tD" x="417.8" y="255.0"/>
<use href="#tL" x="424.6" y="253.4"/>
<use href="#tD" x="415.5" y="253.1"/>
<use href="#tL" x="426.7" y="245.1"/>
<use href="#tD" x="390.3" y="252.2"/>
<use href="#tL" x="394.6" y="258.3"/>
<use href="#tL" x="421.4" y="246.7"/>
<use href="#tL" x="407.3" y="253.2"/>
<use href="#tD" x="405.6" y="250.6"/>
<use href="#tL" x="387.4" y="254.6"/>
<use href="#tL" x="393.9" y="256.0"/>
<use href="#tL" x="391.6" y="260.5"/>
<use href="#tL" x="404.9" y="260.7"/>
<use href="#tL" x="388.2" y="269.2"/>
<use href="#tL" x="412.4" y="253.8"/>
<use href="#tD" x="409.8" y="254.1"/>
<use href="#tD" x="397.3" y="256.5"/>
<use href="#tD" x="392.3" y="267.1"/>
<use href="#tD" x="397.1" y="254.7"/>
<use href="#tL" x="388.9" y="255.1"/>
<use href="#tD" x="423.0" y="252.6"/>
<use href="#tL" x="419.0" y="259.6"/>
<use href="#tL" x="423.6" y="254.2"/>
<use href="#tD" x="387.9" y="259.8"/>
<use href="#tL" x="416.5" y="258.1"/>
<use href="#tL" x="402.7" y="255.9"/>
<use href="#tL" x="410.0" y="249.1"/>
<use href="#tL" x="385.3" y="268.4"/>
<use href="#tL" x="386.0" y="265.5"/>
<use href="#tD" x="409.4" y="248.4"/>
<use href="#tD" x="416.2" y="253.3"/>
<use href="#tL" x="420.4" y="252.1"/>
<use href="#tL" x="400.7" y="255.0"/>
<use href="#tD" x="388.9" y="263.4"/>
<use href="#tL" x="417.0" y="251.8"/>
<use href="#tL" x="402.6" y="257.6"/>
<use href="#tL" x="404.0" y="265.9"/>
<use href="#tL" x="402.3" y="269.2"/>
<use href="#tL" x="428.5" y="245.7"/>
<use href="#tD" x="406.2" y="261.0"/>
<use href="#tD" x="412.4" y="253.9"/>
<use href="#tL" x="393.1" y="264.7"/>
<use href="#tD" x="413.7" y="248.3"/>
<use href="#tD" x="405.7" y="260.4"/>
<use href="#tL" x="416.6" y="255.0"/>
<use href="#tL" x="399.8" y="265.1"/>
<use href="#tL" x="409.2" y="262.8"/>
<use href="#tL" x="408.3" y="258.9"/>
<use href="#tD" x="386.6" y="254.7"/>
<use href="#tL" x="383.1" y="254.8"/>
<use href="#tL" x="418.8" y="259.8"/>
<use href="#tL" x="385.8" y="272.2"/>
<use href="#tD" x="388.5" y="269.7"/>
<use href="#tL" x="410.2" y="261.9"/>
<use href="#tL" x="427.4" y="248.1"/>
<use href="#tD" x="402.6" y="257.6"/>
<use href="#tL" x="390.4" y="252.3"/>
<use href="#tD" x="401.3" y="261.8"/>
<use href="#tD" x="406.3" y="260.2"/>
<use href="#tL" x="384.1" y="264.9"/>
<use href="#tD" x="411.5" y="251.9"/>
<use href="#tL" x="392.5" y="266.2"/>
<use href="#tL" x="406.8" y="265.2"/>
<use href="#tL" x="428.4" y="252.1"/>
<use href="#tL" x="420.1" y="247.7"/>
<use href="#tL" x="393.9" y="254.1"/>
<use href="#tL" x="389.0" y="268.9"/>
<use href="#tL" x="395.2" y="256.7"/>
<use href="#tL" x="400.5" y="264.3"/>
<use href="#tD" x="399.3" y="265.7"/>
<use href="#tL" x="387.9" y="251.5"/>
<use href="#tL" x="395.9" y="255.8"/>
<use href="#tD" x="390.5" y="251.7"/>
<use href="#tD" x="395.2" y="267.3"/>
<use href="#tD" x="407.9" y="263.4"/>
<use href="#tL" x="396.5" y="269.8"/>
<use href="#tD" x="414.3" y="258.9"/>
<use href="#tD" x="386.9" y="267.4"/>
<use href="#tL" x="390.6" y="261.9"/>
<use href="#tL" x="424.7" y="254.3"/>
<use href="#tL" x="399.1" y="258.2"/>
<use href="#tD" x="412.4" y="261.2"/>
<use href="#tL" x="408.2" y="250.6"/>
<use href="#tD" x="413.8" y="263.9"/>
<use href="#tL" x="400.4" y="268.5"/>
<use href="#tL" x="417.2" y="246.9"/>
<use href="#tL" x="410.6" y="252.1"/>
<use href="#tL" x="392.8" y="259.7"/>
<use href="#tL" x="411.7" y="259.8"/>
<use href="#tD" x="400.5" y="253.8"/>
<use href="#tL" x="416.2" y="263.1"/>
<use href="#tL" x="407.5" y="250.4"/>
<use href="#tL" x="386.7" y="250.6"/>
<use href="#tL" x="386.3" y="262.0"/>
<use href="#tD" x="386.3" y="270.9"/>
<use href="#tD" x="415.2" y="254.4"/>
<use href="#tD" x="397.6" y="257.4"/>
<use href="#tD" x="387.8" y="265.5"/>
<use href="#sO" x="384.8" y="265.2"/>
<use href="#cL" x="383.9" y="265.0"/>
<use href="#cO" x="394.2" y="265.4"/>
<use href="#cL" x="408.1" y="261.5"/>
<use href="#sL" x="396.3" y="252.6"/>
<use href="#cO" x="419.1" y="251.2"/>
<use href="#cO" x="403.9" y="265.8"/>
<use href="#sL" x="393.5" y="265.6"/>
<use href="#cL" x="395.9" y="252.2"/>
<use href="#sL" x="393.3" y="251.6"/>
<use href="#sL" x="425.0" y="251.0"/>
<use href="#cO" x="422.4" y="253.5"/>
<use href="#sL" x="414.4" y="250.3"/>
<use href="#cL" x="404.2" y="254.4"/>
<use href="#cO" x="413.7" y="249.5"/>
<use href="#sO" x="404.7" y="259.7"/>
<use href="#sO" x="393.0" y="257.2"/>
<use href="#sL" x="425.8" y="247.2"/>
<use href="#cO" x="394.8" y="261.2"/>
<use href="#sL" x="384.1" y="264.7"/>
<use href="#sO" x="390.0" y="265.2"/>
<use href="#sL" x="416.8" y="247.2"/>
<use href="#cO" x="402.8" y="262.4"/>
<use href="#cL" x="387.6" y="259.6"/>
<use href="#cO" x="411.2" y="261.1"/>
<use href="#sO" x="383.8" y="250.5"/>
<use href="#sO" x="384.0" y="248.9"/>
<use href="#sO" x="395.2" y="250.3"/>
<use href="#cL" x="390.4" y="248.8"/>
<use href="#sO" x="400.4" y="250.6"/>
<use href="#sO" x="395.7" y="250.6"/>
<use href="#cO" x="406.6" y="249.4"/>
<use href="#sO" x="403.2" y="250.1"/>
<use href="#cO" x="410.3" y="248.4"/>
<use href="#cL" x="412.9" y="247.3"/>
<use href="#cL" x="419.4" y="245.9"/>
<use href="#sO" x="430.2" y="244.1"/>
<use href="#cO" x="427.9" y="244.2"/>
<use href="#sO" x="429.2" y="253.9"/>
<use href="#sO" x="425.0" y="258.0"/>
<use href="#cO" x="419.6" y="262.6"/>
<use href="#cL" x="417.8" y="264.7"/>
<use href="#sO" x="410.2" y="263.4"/>
<use href="#sO" x="409.3" y="264.0"/>
<use href="#sO" x="406.4" y="266.6"/>
<use href="#sO" x="401.2" y="270.0"/>
<use href="#cO" x="398.2" y="270.4"/>
<use href="#sO" x="392.1" y="271.8"/>
<use href="#cO" x="389.1" y="273.5"/>
<use href="#sO" x="385.0" y="276.0"/>
<polygon points="382.0,250.0 388.0,249.0 395.0,250.0 401.0,250.0 408.0,249.5 413.0,247.0 418.0,246.0 422.0,246.0 429.9,244.5 429.9,251.0 420.0,254.0 412.0,256.0 404.0,258.0 398.0,260.0 390.0,262.0 382.0,262.0" fill="#8e8e8e"/>
<use href="#tL" x="383.5" y="259.4"/>
<use href="#tL" x="384.0" y="259.9"/>
<use href="#tD" x="401.4" y="252.7"/>
<use href="#tL" x="400.4" y="258.0"/>
<use href="#tL" x="400.2" y="254.1"/>
<use href="#tD" x="407.7" y="249.7"/>
<use href="#tL" x="416.2" y="250.1"/>
<use href="#tL" x="414.0" y="248.9"/>
<use href="#tD" x="399.2" y="252.8"/>
<use href="#tD" x="421.8" y="248.4"/>
<use href="#tL" x="390.0" y="252.5"/>
<use href="#tL" x="383.6" y="250.4"/>
<use href="#tL" x="394.8" y="257.6"/>
<use href="#tL" x="420.0" y="246.1"/>
<use href="#tL" x="394.9" y="257.5"/>
<use href="#tL" x="416.0" y="253.4"/>
<use href="#tL" x="406.2" y="252.1"/>
<use href="#tD" x="390.1" y="257.2"/>
<use href="#tL" x="397.5" y="254.2"/>
<use href="#tD" x="401.8" y="252.0"/>
<use href="#tL" x="424.4" y="249.7"/>
<use href="#tL" x="423.1" y="249.5"/>
<use href="#tL" x="414.5" y="247.3"/>
<use href="#tL" x="402.4" y="254.8"/>
<use href="#tL" x="394.3" y="255.2"/>
<use href="#tL" x="386.3" y="260.2"/>
<use href="#tL" x="384.4" y="252.2"/>
<use href="#tL" x="415.9" y="248.8"/>
<use href="#tD" x="396.6" y="258.1"/>
<use href="#tD" x="407.9" y="249.8"/>
<use href="#tL" x="395.2" y="259.8"/>
<use href="#tL" x="391.8" y="258.5"/>
<use href="#tL" x="412.2" y="247.5"/>
<use href="#tL" x="423.6" y="248.6"/>
<use href="#tL" x="393.1" y="259.5"/>
<use href="#tL" x="426.3" y="245.3"/>
<use href="#tL" x="424.5" y="246.4"/>
<use href="#tL" x="419.4" y="251.7"/>
<use href="#tL" x="394.1" y="260.8"/>
<use href="#tD" x="389.4" y="254.2"/>
<use href="#tL" x="389.4" y="254.0"/>
<use href="#tL" x="422.0" y="250.2"/>
<use href="#tD" x="406.9" y="251.3"/>
<use href="#tD" x="397.1" y="252.9"/>
<use href="#sO" x="383.8" y="249.6"/>
<use href="#sO" x="386.7" y="248.7"/>
<use href="#cL" x="391.4" y="248.8"/>
<use href="#sO" x="389.7" y="248.5"/>
<use href="#sO" x="401.0" y="250.1"/>
<use href="#cO" x="395.1" y="250.5"/>
<use href="#sO" x="406.3" y="249.4"/>
<use href="#sO" x="403.9" y="249.2"/>
<use href="#sO" x="412.1" y="247.4"/>
<use href="#sO" x="414.0" y="247.7"/>
<use href="#cO" x="421.1" y="246.6"/>
<use href="#cO" x="424.6" y="245.1"/>
<use href="#sO" x="423.0" y="245.6"/>
<use href="#sO" x="425.4" y="252.1"/>
<use href="#sO" x="423.7" y="252.9"/>
<use href="#cL" x="428.2" y="251.7"/>
<use href="#sO" x="413.8" y="255.3"/>
<use href="#sO" x="413.1" y="255.3"/>
<use href="#cO" x="409.0" y="255.9"/>
<use href="#sO" x="410.0" y="256.8"/>
<use href="#cL" x="402.0" y="258.1"/>
<use href="#cO" x="402.3" y="257.9"/>
<use href="#cO" x="394.4" y="261.6"/>
<use href="#cO" x="392.8" y="261.4"/>
<use href="#cO" x="386.6" y="261.5"/>
<use href="#sO" x="387.2" y="262.1"/>
<polygon points="383.6,282.0 387.6,278.6 391.6,276.7 396.6,277.4 401.6,276.7 406.6,273.6 408.4,269.3 412.4,271.1 416.4,270.0 420.4,265.0 424.4,260.0 428.3,256.0 428.3,268.0 424.4,274.0 420.4,278.0 416.4,282.0 412.4,283.6 408.4,286.0 406.6,287.3 401.6,289.8 396.6,288.5 391.6,292.3 387.6,294.8 383.6,294.8" fill="#1e1e1e"/>
<use href="#tD" x="422.6" y="271.0"/>
<use href="#tD" x="391.3" y="282.7"/>
<use href="#tD" x="403.1" y="284.1"/>
<use href="#tM" x="390.9" y="277.2"/>
<use href="#tD" x="423.6" y="263.7"/>
<use href="#tD" x="390.5" y="283.2"/>
<use href="#tD" x="403.2" y="284.5"/>
<use href="#tD" x="386.5" y="294.0"/>
<use href="#tM" x="414.7" y="274.8"/>
<use href="#tD" x="387.3" y="289.0"/>
<use href="#tD" x="392.9" y="279.0"/>
<use href="#tD" x="409.6" y="271.3"/>
<use href="#tD" x="401.3" y="281.7"/>
<use href="#tM" x="420.5" y="268.4"/>
<use href="#tD" x="407.4" y="279.1"/>
<use href="#tM" x="398.9" y="283.0"/>
<use href="#tM" x="397.1" y="278.3"/>
<use href="#tM" x="403.3" y="286.8"/>
<use href="#tM" x="419.3" y="277.4"/>
<use href="#dK" x="413.2" y="277.7"/>
<use href="#dO" x="393.1" y="287.0"/>
<use href="#dK" x="409.7" y="270.5"/>
<use href="#dO" x="412.7" y="276.9"/>
<use href="#dO" x="393.0" y="277.8"/>
<use href="#dK" x="401.1" y="287.2"/>
<use href="#dO" x="386.0" y="282.0"/>
<use href="#dO" x="387.0" y="286.6"/>
<use href="#dO" x="416.8" y="276.8"/>
<use href="#dO" x="421.4" y="265.8"/>
<use href="#dK" x="424.8" y="261.6"/>
<use href="#dO" x="409.2" y="279.0"/>
<use href="#dK" x="404.2" y="287.1"/>
<use href="#dK" x="389.5" y="290.8"/>
<use href="#dO" x="391.8" y="278.1"/>
<use href="#dK" x="384.6" y="292.2"/>
<use href="#dO" x="424.9" y="271.9"/>
<use href="#dO" x="415.0" y="279.8"/>
<use href="#dO" x="392.6" y="290.5"/>
<use href="#dK" x="415.8" y="280.2"/>
<use href="#dK" x="407.6" y="272.1"/>
<use href="#dO" x="386.1" y="290.5"/>
<use href="#dO" x="419.0" y="279.0"/>
<use href="#dO" x="390.5" y="278.2"/>
<use href="#dK" x="388.5" y="285.6"/>
<use href="#dO" x="395.9" y="282.9"/>
<use href="#dK" x="389.9" y="286.7"/>
<use href="#dO" x="390.3" y="287.3"/>
<use href="#dO" x="414.2" y="279.5"/>
<use href="#dK" x="395.8" y="279.0"/>
<use href="#dK" x="394.5" y="281.8"/>
<use href="#dK" x="416.1" y="275.1"/>
<use href="#dO" x="417.4" y="270.3"/>
<use href="#dK" x="426.4" y="270.8"/>
<use href="#dK" x="400.2" y="279.5"/>
<use href="#dO" x="423.2" y="265.3"/>
<use href="#dO" x="383.7" y="285.2"/>
<use href="#dO" x="426.8" y="268.4"/>
<use href="#dO" x="386.5" y="293.6"/>
<use href="#dO" x="403.1" y="285.9"/>
<use href="#dO" x="385.9" y="288.9"/>
<use href="#dK" x="387.4" y="289.5"/>
<use href="#dK" x="403.8" y="277.6"/>
<use href="#dK" x="425.5" y="264.2"/>
<use href="#dO" x="424.0" y="274.4"/>
<use href="#dO" x="408.2" y="281.5"/>
<use href="#dK" x="414.7" y="274.7"/>
<use href="#dO" x="404.7" y="276.4"/>
<use href="#dK" x="428.1" y="263.2"/>
<use href="#dK" x="395.7" y="284.2"/>
<use href="#dO" x="400.5" y="286.9"/>
<use href="#dK" x="388.4" y="287.5"/>
<use href="#dO" x="391.7" y="277.3"/>
<use href="#dO" x="400.7" y="288.6"/>
<use href="#dO" x="403.8" y="287.5"/>
<use href="#dO" x="394.3" y="288.1"/>
<use href="#dO" x="401.9" y="284.7"/>
<use href="#dO" x="425.1" y="263.9"/>
<use href="#dK" x="411.3" y="274.6"/>
<use href="#dO" x="415.1" y="278.4"/>
<use href="#dO" x="393.7" y="281.9"/>
<use href="#dO" x="413.9" y="271.4"/>
<use href="#dO" x="387.0" y="280.8"/>
<use href="#dO" x="386.3" y="290.9"/>
<use href="#dK" x="416.8" y="270.3"/>
<use href="#dK" x="401.8" y="288.0"/>
<use href="#dO" x="426.5" y="267.9"/>
<use href="#dK" x="384.1" y="287.9"/>
<use href="#dK" x="390.8" y="286.4"/>
<use href="#dK" x="412.3" y="279.9"/>
<use href="#dO" x="386.9" y="288.1"/>
<use href="#dO" x="408.7" y="271.9"/>
<use href="#dO" x="405.6" y="274.5"/>
<use href="#dO" x="409.7" y="273.5"/>
<use href="#dO" x="425.8" y="265.0"/>
<use href="#dK" x="414.1" y="280.1"/>
<use href="#dK" x="391.2" y="289.9"/>
<use href="#dK" x="402.7" y="280.7"/>
<use href="#dO" x="415.2" y="278.0"/>
<use href="#dO" x="423.3" y="266.1"/>
<use href="#dO" x="402.6" y="279.3"/>
<use href="#dO" x="394.5" y="288.7"/>
<use href="#dK" x="408.9" y="270.9"/>
<use href="#dK" x="408.0" y="285.5"/>
<use href="#dK" x="391.0" y="288.3"/>
<use href="#dO" x="393.6" y="280.5"/>
<use href="#dO" x="394.1" y="277.9"/>
<use href="#dO" x="407.4" y="274.4"/>
<use href="#dO" x="421.9" y="274.3"/>
<use href="#dO" x="404.7" y="276.8"/>
<use href="#dO" x="391.6" y="281.3"/>
<use href="#dK" x="405.0" y="283.0"/>
<use href="#dO" x="415.1" y="272.3"/>
<use href="#dO" x="417.1" y="279.5"/>
<use href="#dK" x="423.4" y="271.4"/>
<use href="#dK" x="417.1" y="277.5"/>
<use href="#dO" x="403.2" y="278.9"/>
<use href="#dO" x="418.6" y="274.4"/>
<use href="#dO" x="414.7" y="280.8"/>
<use href="#dO" x="396.9" y="278.3"/>
<use href="#dK" x="384.7" y="281.7"/>
<use href="#dO" x="417.7" y="277.2"/>
<use href="#dK" x="425.3" y="260.1"/>
<use href="#dO" x="409.4" y="273.8"/>
<use href="#dO" x="408.6" y="282.9"/>
<use href="#dO" x="389.0" y="278.8"/>
<use href="#dO" x="410.6" y="278.1"/>
<use href="#dO" x="407.1" y="273.5"/>
<use href="#dK" x="402.3" y="285.6"/>
<use href="#dO" x="401.7" y="279.2"/>
<use href="#dO" x="401.6" y="277.8"/>
<use href="#dO" x="411.4" y="283.7"/>
<use href="#dK" x="404.7" y="284.9"/>
<use href="#dK" x="401.8" y="289.1"/>
<use href="#dK" x="395.9" y="283.0"/>
<use href="#dK" x="406.4" y="287.0"/>
<use href="#dO" x="422.9" y="273.8"/>
<use href="#dO" x="395.9" y="286.1"/>
<use href="#dK" x="400.5" y="282.5"/>
<use href="#dO" x="426.3" y="259.1"/>
<use href="#dK" x="425.5" y="265.1"/>
<use href="#dO" x="384.8" y="288.4"/>
<use href="#dK" x="383.9" y="285.9"/>
<use href="#dO" x="392.8" y="287.0"/>
<use href="#dK" x="425.5" y="266.9"/>
<use href="#dK" x="403.2" y="276.8"/>
<use href="#dO" x="421.8" y="264.0"/>
<use href="#dO" x="409.9" y="270.0"/>
<use href="#dO" x="399.5" y="282.7"/>
<use href="#dO" x="421.4" y="264.1"/>
<use href="#dO" x="422.1" y="270.7"/>
<use href="#dO" x="412.9" y="277.7"/>
<use href="#dO" x="423.6" y="274.4"/>
<use href="#dO" x="388.1" y="280.3"/>
<use href="#dO" x="425.7" y="263.9"/>
<use href="#dO" x="418.5" y="279.3"/>
<use href="#dO" x="407.4" y="282.6"/>
<use href="#dK" x="385.7" y="292.5"/>
<use href="#dO" x="409.8" y="274.3"/>
<use href="#dK" x="393.7" y="287.5"/>
<use href="#dO" x="389.1" y="278.5"/>
<use href="#dO" x="395.3" y="285.9"/>
<use href="#dK" x="395.2" y="281.3"/>
<use href="#dO" x="402.5" y="279.4"/>
<use href="#dO" x="408.0" y="273.3"/>
<use href="#dK" x="406.4" y="285.5"/>
<use href="#dO" x="406.9" y="273.2"/>
<use href="#dK" x="415.6" y="279.3"/>
<use href="#dO" x="404.9" y="282.3"/>
<use href="#dK" x="399.9" y="277.5"/>
<use href="#dO" x="414.6" y="276.9"/>
<use href="#dO" x="422.6" y="272.4"/>
<use href="#dO" x="408.1" y="279.3"/>
<use href="#dO" x="384.6" y="285.1"/>
<use href="#dK" x="389.3" y="278.7"/>
<use href="#dO" x="389.5" y="280.8"/>
<use href="#dO" x="384.9" y="293.2"/>
<use href="#dO" x="402.2" y="278.1"/>
<use href="#dK" x="398.8" y="281.2"/>
<use href="#dO" x="415.9" y="280.5"/>
<use href="#dO" x="401.7" y="285.2"/>
<use href="#dO" x="410.2" y="283.7"/>
<use href="#dO" x="425.3" y="271.0"/>
<use href="#dO" x="409.7" y="270.3"/>
<use href="#dK" x="393.4" y="287.1"/>
<use href="#dO" x="413.9" y="280.9"/>
<use href="#dO" x="391.2" y="290.4"/>
<use href="#dO" x="426.2" y="267.4"/>
<use href="#dO" x="425.7" y="263.8"/>
<use href="#dK" x="416.1" y="273.2"/>
<use href="#dO" x="410.8" y="274.6"/>
<use href="#dO" x="396.6" y="281.0"/>
<use href="#dK" x="387.0" y="281.2"/>
<use href="#dO" x="388.5" y="290.8"/>
<use href="#dO" x="427.5" y="264.6"/>
<use href="#dO" x="392.0" y="287.8"/>
<use href="#dK" x="418.0" y="269.4"/>
<use href="#dK" x="418.8" y="275.2"/>
<use href="#dO" x="395.6" y="277.3"/>
<use href="#dO" x="409.5" y="273.1"/>
<use href="#dK" x="423.2" y="264.4"/>
<use href="#dO" x="391.8" y="284.1"/>
<use href="#dK" x="405.3" y="279.0"/>
<use href="#dO" x="413.9" y="279.3"/>
<use href="#dK" x="412.6" y="273.7"/>
<use href="#dK" x="389.1" y="285.2"/>
<use href="#dS" x="436.2" y="269.0"/>
<use href="#sS" x="438.8" y="259.6"/>
<polygon points="448.0,256.0 455.0,257.0 465.0,255.5 475.0,256.0 485.0,254.5 496.4,252.0 496.4,268.0 470.0,270.0 448.0,270.0" fill="#b4b4b4"/>
<use href="#tL" x="460.8" y="267.1"/>
<use href="#tL" x="485.7" y="259.6"/>
<use href="#tD" x="466.4" y="264.6"/>
<use href="#tL" x="466.9" y="269.0"/>
<use href="#tD" x="493.0" y="262.7"/>
<use href="#tL" x="487.5" y="254.2"/>
<use href="#tD" x="469.0" y="259.1"/>
<use href="#tD" x="466.9" y="257.8"/>
<use href="#tL" x="487.4" y="255.6"/>
<use href="#tL" x="491.5" y="262.9"/>
<use href="#tL" x="459.6" y="259.1"/>
<use href="#tL" x="489.5" y="254.5"/>
<use href="#tD" x="473.9" y="260.6"/>
<use href="#tD" x="473.8" y="267.3"/>
<use href="#tL" x="460.8" y="261.9"/>
<use href="#tD" x="456.6" y="260.9"/>
<use href="#tD" x="474.7" y="265.3"/>
<use href="#tL" x="478.7" y="267.0"/>
<use href="#tL" x="482.2" y="260.3"/>
<use href="#tL" x="452.2" y="258.1"/>
<use href="#tL" x="460.8" y="265.3"/>
<use href="#tD" x="466.0" y="259.7"/>
<use href="#tD" x="449.0" y="257.2"/>
<use href="#tL" x="483.6" y="260.5"/>
<use href="#tL" x="481.1" y="261.1"/>
<use href="#tL" x="450.1" y="258.4"/>
<use href="#tL" x="495.0" y="260.3"/>
<use href="#tL" x="456.3" y="258.7"/>
<use href="#tL" x="484.4" y="258.7"/>
<use href="#tL" x="454.8" y="262.5"/>
<use href="#tL" x="470.7" y="260.8"/>
<use href="#tL" x="451.8" y="264.8"/>
<use href="#tD" x="486.1" y="259.9"/>
<use href="#tL" x="462.5" y="262.2"/>
<use href="#tD" x="475.9" y="267.4"/>
<use href="#tD" x="464.5" y="263.0"/>
<use href="#tL" x="461.7" y="264.1"/>
<use href="#tD" x="449.9" y="266.9"/>
<use href="#tD" x="474.1" y="258.8"/>
<use href="#tL" x="468.6" y="267.1"/>
<use href="#tL" x="462.0" y="259.8"/>
<use href="#tL" x="478.7" y="258.0"/>
<use href="#tD" x="471.3" y="268.0"/>
<use href="#tL" x="487.2" y="268.6"/>
<use href="#tL" x="472.7" y="259.4"/>
<use href="#tL" x="456.8" y="267.7"/>
<use href="#tL" x="450.2" y="265.0"/>
<use href="#tL" x="475.9" y="264.9"/>
<use href="#tL" x="472.9" y="256.7"/>
<use href="#tL" x="460.1" y="268.1"/>
<use href="#tD" x="463.9" y="264.6"/>
<use href="#tL" x="451.7" y="263.1"/>
<use href="#tL" x="477.8" y="263.7"/>
<use href="#tD" x="473.1" y="257.6"/>
<use href="#tL" x="473.0" y="264.3"/>
<use href="#tL" x="470.7" y="262.5"/>
<use href="#tL" x="474.3" y="269.2"/>
<use href="#tL" x="481.6" y="263.5"/>
<use href="#tL" x="452.5" y="263.3"/>
<use href="#tD" x="464.2" y="257.6"/>
<use href="#tL" x="461.3" y="256.5"/>
<use href="#tL" x="463.2" y="258.6"/>
<use href="#tL" x="454.4" y="268.6"/>
<use href="#tL" x="494.6" y="262.8"/>
<use href="#tL" x="494.1" y="264.6"/>
<use href="#tD" x="483.5" y="257.2"/>
<use href="#tL" x="487.7" y="266.2"/>
<use href="#tL" x="469.3" y="261.1"/>
<use href="#tD" x="474.3" y="260.1"/>
<use href="#tL" x="458.8" y="262.8"/>
<use href="#tL" x="475.2" y="266.2"/>
<use href="#tL" x="476.4" y="264.2"/>
<use href="#tL" x="461.9" y="269.9"/>
<use href="#tD" x="467.0" y="264.8"/>
<use href="#tL" x="492.3" y="262.1"/>
<use href="#tD" x="460.5" y="265.0"/>
<use href="#tL" x="492.3" y="264.1"/>
<use href="#tL" x="489.0" y="266.8"/>
<use href="#tL" x="478.0" y="258.5"/>
<use href="#tD" x="485.9" y="257.8"/>
<use href="#tL" x="487.7" y="256.0"/>
<use href="#tD" x="477.1" y="263.2"/>
<use href="#sO" x="452.9" y="256.3"/>
<use href="#sO" x="454.9" y="257.5"/>
<use href="#cO" x="455.9" y="256.3"/>
<use href="#sO" x="457.1" y="256.3"/>
<use href="#sO" x="463.1" y="255.2"/>
<use href="#cO" x="465.0" y="255.6"/>
<use href="#sO" x="474.4" y="255.7"/>
<use href="#sO" x="466.1" y="255.4"/>
<use href="#cL" x="474.3" y="256.6"/>
<use href="#cL" x="482.6" y="255.2"/>
<use href="#cO" x="483.2" y="254.0"/>
<use href="#sO" x="485.5" y="253.9"/>
<use href="#sO" x="485.4" y="253.8"/>
<use href="#cO" x="491.4" y="252.9"/>
<use href="#cO" x="476.9" y="269.6"/>
<use href="#sO" x="492.4" y="268.9"/>
<use href="#sO" x="482.9" y="269.2"/>
<use href="#cO" x="496.7" y="267.6"/>
<use href="#cO" x="488.0" y="268.4"/>
<use href="#cO" x="482.4" y="269.0"/>
<use href="#cO" x="483.5" y="268.4"/>
<use href="#sO" x="476.2" y="269.7"/>
<use href="#cL" x="450.4" y="270.0"/>
<use href="#cL" x="452.1" y="270.1"/>
<use href="#cO" x="463.9" y="270.8"/>
<use href="#sO" x="466.3" y="270.1"/>
<use href="#sO" x="455.0" y="270.4"/>
<use href="#cL" x="450.3" y="269.9"/>
<use href="#cO" x="465.8" y="269.8"/>
<use href="#cO" x="478.3" y="251.3"/>
<use href="#sL" x="475.2" y="251.8"/>
<use href="#sL" x="475.4" y="256.1"/>
<use href="#sL" x="484.6" y="257.5"/>
<use href="#sL" x="480.4" y="252.8"/>
<use href="#cL" x="461.5" y="253.2"/>
<use href="#cO" x="468.2" y="251.8"/>
<use href="#sL" x="474.0" y="254.3"/>
<use href="#sL" x="458.6" y="257.9"/>
<use href="#cO" x="456.2" y="252.1"/>
<use href="#cL" x="464.1" y="258.0"/>
<use href="#cL" x="473.5" y="252.0"/>
<use href="#cO" x="452.2" y="258.7"/>
<use href="#sL" x="485.8" y="255.3"/>
<use href="#cO" x="487.2" y="252.2"/>
<use href="#sL" x="451.7" y="256.0"/>
<polygon points="448.0,266.0 496.4,264.0 496.4,277.4 484.0,278.0 470.0,279.0 448.0,279.0" fill="#8c8c8c"/>
<use href="#tL" x="452.7" y="278.5"/>
<use href="#tL" x="466.8" y="270.0"/>
<use href="#tL" x="458.7" y="275.2"/>
<use href="#tD" x="480.9" y="274.6"/>
<use href="#tL" x="457.8" y="266.8"/>
<use href="#tL" x="491.8" y="271.8"/>
<use href="#tL" x="452.3" y="271.8"/>
<use href="#tL" x="476.3" y="276.6"/>
<use href="#tD" x="487.9" y="269.5"/>
<use href="#tL" x="472.3" y="274.7"/>
<use href="#tD" x="468.7" y="277.7"/>
<use href="#tD" x="484.4" y="265.6"/>
<use href="#tD" x="450.7" y="275.5"/>
<use href="#tL" x="488.6" y="266.8"/>
<use href="#tD" x="468.4" y="265.5"/>
<use href="#tL" x="478.0" y="267.2"/>
<use href="#tL" x="477.9" y="269.7"/>
<use href="#tL" x="467.1" y="274.1"/>
<use href="#tL" x="492.1" y="264.9"/>
<use href="#tL" x="472.5" y="267.8"/>
<use href="#tD" x="468.6" y="276.7"/>
<use href="#tD" x="489.2" y="268.2"/>
<use href="#tD" x="459.9" y="273.0"/>
<use href="#tL" x="472.8" y="277.7"/>
<use href="#tL" x="463.0" y="268.1"/>
<use href="#tD" x="464.3" y="267.4"/>
<use href="#tL" x="479.1" y="272.9"/>
<use href="#tL" x="491.1" y="277.4"/>
<use href="#tD" x="487.4" y="265.4"/>
<use href="#tL" x="476.5" y="276.4"/>
<use href="#tL" x="481.6" y="268.7"/>
<use href="#tD" x="485.1" y="272.1"/>
<use href="#tL" x="460.1" y="277.0"/>
<use href="#tL" x="462.8" y="267.7"/>
<use href="#tL" x="494.4" y="273.2"/>
<use href="#tD" x="475.7" y="266.6"/>
<use href="#tL" x="484.2" y="267.3"/>
<use href="#tL" x="483.7" y="266.6"/>
<use href="#tD" x="460.3" y="272.8"/>
<use href="#tL" x="471.8" y="270.6"/>
<use href="#tD" x="467.3" y="265.6"/>
<use href="#tL" x="470.6" y="271.3"/>
<use href="#tD" x="494.5" y="275.2"/>
<use href="#tL" x="492.4" y="266.7"/>
<use href="#tD" x="472.9" y="273.4"/>
<use href="#tD" x="464.0" y="268.7"/>
<use href="#tL" x="490.9" y="274.5"/>
<use href="#tL" x="467.3" y="276.1"/>
<use href="#tD" x="453.5" y="273.6"/>
<use href="#tL" x="454.5" y="275.0"/>
<use href="#tD" x="467.4" y="276.3"/>
<use href="#tL" x="489.0" y="272.6"/>
<use href="#tL" x="468.3" y="270.6"/>
<use href="#tL" x="475.2" y="278.2"/>
<use href="#tL" x="478.0" y="269.2"/>
<use href="#tL" x="489.0" y="265.6"/>
<use href="#tL" x="486.8" y="270.3"/>
<use href="#tD" x="450.4" y="271.9"/>
<use href="#tD" x="453.9" y="274.5"/>
<use href="#tL" x="457.1" y="265.7"/>
<use href="#tD" x="454.9" y="269.1"/>
<use href="#tL" x="482.9" y="277.0"/>
<use href="#tD" x="478.7" y="269.0"/>
<use href="#tL" x="490.2" y="270.6"/>
<use href="#tD" x="458.7" y="266.6"/>
<use href="#sO" x="494.0" y="263.5"/>
<use href="#cO" x="479.6" y="265.1"/>
<use href="#cO" x="449.9" y="266.4"/>
<use href="#cL" x="485.6" y="263.7"/>
<use href="#cO" x="492.4" y="263.9"/>
<use href="#cL" x="469.1" y="265.9"/>
<use href="#sO" x="481.2" y="264.8"/>
<use href="#sO" x="477.0" y="265.4"/>
<use href="#cO" x="457.5" y="265.5"/>
<use href="#sO" x="456.4" y="265.5"/>
<use href="#sO" x="458.4" y="264.8"/>
<use href="#cL" x="491.1" y="264.9"/>
<use href="#cO" x="476.3" y="264.9"/>
<use href="#cL" x="455.2" y="266.1"/>
<use href="#sO" x="467.9" y="265.8"/>
<use href="#sO" x="464.0" y="264.6"/>
<use href="#cL" x="484.4" y="278.5"/>
<use href="#sO" x="494.1" y="277.0"/>
<use href="#cL" x="486.6" y="278.5"/>
<use href="#sO" x="488.2" y="278.1"/>
<use href="#cL" x="470.4" y="278.2"/>
<use href="#sO" x="474.3" y="278.7"/>
<use href="#sO" x="475.4" y="278.2"/>
<use href="#sO" x="483.9" y="278.0"/>
<use href="#sO" x="467.4" y="278.2"/>
<use href="#sO" x="466.8" y="278.7"/>
<use href="#cL" x="469.4" y="279.4"/>
<use href="#cL" x="464.6" y="278.4"/>
<use href="#sO" x="466.6" y="278.4"/>
<use href="#cL" x="461.2" y="278.4"/>
<use href="#cL" x="452.2" y="278.7"/>
<polygon points="449.6,279.0 453.6,280.5 457.6,281.5 461.6,281.5 462.4,280.5 466.4,279.2 470.4,278.0 474.4,277.5 478.4,277.0 478.4,277.0 474.4,280.0 470.4,283.0 466.4,286.7 464.4,287.5 463.6,288.5 459.6,288.5 455.6,289.0 451.6,292.0 449.6,297.0" fill="#2a2a2a"/>
<use href="#tM" x="450.2" y="279.8"/>
<use href="#tD" x="451.7" y="286.7"/>
<use href="#tD" x="468.5" y="284.2"/>
<use href="#tM" x="452.7" y="286.9"/>
<use href="#tM" x="450.6" y="287.2"/>
<use href="#tM" x="452.4" y="283.0"/>
<use href="#dK" x="457.3" y="285.2"/>
<use href="#dO" x="449.5" y="286.3"/>
<use href="#dK" x="454.7" y="286.0"/>
<use href="#dO" x="453.1" y="286.4"/>
<use href="#dO" x="455.1" y="286.1"/>
<use href="#dO" x="462.2" y="286.6"/>
<use href="#dO" x="465.9" y="281.4"/>
<use href="#dO" x="462.3" y="281.2"/>
<use href="#dO" x="455.6" y="287.8"/>
<use href="#dK" x="470.2" y="280.2"/>
<use href="#dK" x="451.5" y="281.3"/>
<use href="#dO" x="460.2" y="282.9"/>
<use href="#dO" x="473.5" y="278.5"/>
<use href="#dO" x="468.8" y="282.3"/>
<use href="#dO" x="449.8" y="295.1"/>
<use href="#dO" x="453.2" y="286.2"/>
<use href="#dO" x="457.0" y="284.5"/>
<use href="#dO" x="467.1" y="284.4"/>
<use href="#dO" x="469.4" y="280.0"/>
<use href="#dO" x="472.4" y="278.6"/>
<use href="#dO" x="465.0" y="287.1"/>
<use href="#dK" x="452.2" y="284.4"/>
<use href="#dK" x="455.9" y="281.8"/>
<use href="#dO" x="468.5" y="279.7"/>
<use href="#dO" x="449.7" y="287.2"/>
<use href="#dO" x="451.0" y="289.6"/>
<use href="#dK" x="465.0" y="280.2"/>
<use href="#dO" x="472.7" y="281.2"/>
<use href="#dO" x="458.4" y="284.7"/>
<use href="#dO" x="451.4" y="288.8"/>
<use href="#dO" x="464.8" y="284.8"/>
<use href="#dK" x="455.0" y="285.9"/>
<use href="#dK" x="466.6" y="279.5"/>
<use href="#dO" x="460.0" y="283.6"/>
<use href="#dO" x="468.2" y="281.2"/>
<use href="#dO" x="451.0" y="282.1"/>
<use href="#dO" x="466.2" y="282.3"/>
<use href="#dK" x="449.8" y="281.9"/>
<use href="#dK" x="454.0" y="282.3"/>
<use href="#dK" x="452.5" y="283.9"/>
<use href="#dO" x="452.2" y="287.3"/>
<use href="#dK" x="455.1" y="286.7"/>
<use href="#dK" x="463.9" y="281.8"/>
<use href="#dK" x="449.6" y="281.2"/>
<use href="#dO" x="452.6" y="282.8"/>
<use href="#dO" x="466.2" y="283.3"/>
<use href="#dO" x="451.1" y="284.2"/>
<use href="#dO" x="456.6" y="281.3"/>
<use href="#dO" x="466.6" y="283.5"/>
<use href="#dO" x="451.3" y="286.1"/>
<use href="#dK" x="462.7" y="286.1"/>
<use href="#dK" x="451.0" y="287.1"/>
<use href="#dK" x="465.3" y="280.6"/>
<use href="#dO" x="458.9" y="287.2"/>
<use href="#dO" x="465.0" y="282.4"/>
<use href="#dO" x="468.1" y="280.1"/>
<use href="#dK" x="460.1" y="285.7"/>
<use href="#dK" x="450.5" y="286.7"/>
<use href="#dK" x="465.8" y="282.9"/>
<use href="#dK" x="467.9" y="283.8"/>
<use href="#dO" x="464.8" y="283.6"/>
<use href="#dK" x="461.4" y="286.7"/>
<use href="#dO" x="478.1" y="256.4"/>
<use href="#dO" x="482.5" y="259.1"/>
<use href="#dK" x="479.3" y="257.8"/>
<use href="#dO" x="479.5" y="260.9"/>
<use href="#dO" x="484.6" y="259.2"/>
<use href="#dK" x="483.4" y="253.1"/>
<use href="#dO" x="484.8" y="260.3"/>
<use href="#dK" x="481.7" y="258.8"/>
<use href="#dO" x="484.8" y="256.8"/>
<use href="#dK" x="485.5" y="252.7"/>
<use href="#cS" x="502.0" y="259.6"/>
<use href="#dS" x="504.6" y="270.8"/>
<use href="#sS" x="510.2" y="264.0"/>
<polygon points="513.3,266.0 524.0,266.0 535.0,265.0 545.0,263.0 562.5,262.0 562.5,278.0 548.0,279.0 535.0,282.0 524.0,283.0 513.3,283.0" fill="#8e8e8e"/>
<use href="#tL" x="518.8" y="282.2"/>
<use href="#tL" x="548.3" y="277.4"/>
<use href="#tL" x="539.3" y="278.6"/>
<use href="#tL" x="537.2" y="269.5"/>
<use href="#tL" x="518.5" y="271.7"/>
<use href="#tD" x="545.3" y="277.0"/>
<use href="#tD" x="515.5" y="275.4"/>
<use href="#tD" x="547.7" y="270.6"/>
<use href="#tL" x="529.4" y="277.8"/>
<use href="#tD" x="538.3" y="267.2"/>
<use href="#tD" x="541.1" y="264.2"/>
<use href="#tL" x="532.1" y="278.3"/>
<use href="#tD" x="525.5" y="267.3"/>
<use href="#tL" x="539.4" y="270.7"/>
<use href="#tL" x="547.3" y="276.0"/>
<use href="#tL" x="533.1" y="268.4"/>
<use href="#tD" x="545.0" y="268.1"/>
<use href="#tL" x="521.6" y="279.6"/>
<use href="#tD" x="526.5" y="282.4"/>
<use href="#tL" x="544.0" y="265.4"/>
<use href="#tL" x="542.1" y="279.5"/>
<use href="#tL" x="528.5" y="282.1"/>
<use href="#tL" x="538.6" y="272.3"/>
<use href="#tD" x="538.8" y="273.1"/>
<use href="#tL" x="539.6" y="280.3"/>
<use href="#tL" x="547.7" y="273.1"/>
<use href="#tL" x="553.9" y="275.4"/>
<use href="#tL" x="538.0" y="274.6"/>
<use href="#tL" x="549.9" y="265.7"/>
<use href="#tL" x="538.1" y="277.9"/>
<use href="#tL" x="555.9" y="275.4"/>
<use href="#tL" x="552.5" y="274.8"/>
<use href="#tL" x="552.9" y="276.5"/>
<use href="#tL" x="560.7" y="270.3"/>
<use href="#tL" x="558.5" y="272.3"/>
<use href="#tD" x="542.5" y="278.3"/>
<use href="#tD" x="536.3" y="271.1"/>
<use href="#tL" x="533.1" y="268.5"/>
<use href="#tD" x="547.4" y="264.9"/>
<use href="#tL" x="541.7" y="266.0"/>
<use href="#tL" x="523.6" y="274.4"/>
<use href="#tL" x="537.8" y="264.7"/>
<use href="#tL" x="521.3" y="277.7"/>
<use href="#tD" x="544.9" y="276.4"/>
<use href="#tL" x="529.7" y="274.4"/>
<use href="#tD" x="529.8" y="270.6"/>
<use href="#tL" x="558.8" y="263.8"/>
<use href="#tD" x="537.5" y="266.4"/>
<use href="#tL" x="558.9" y="267.6"/>
<use href="#tL" x="538.6" y="274.9"/>
<use href="#tD" x="554.1" y="276.3"/>
<use href="#tD" x="533.7" y="274.6"/>
<use href="#tD" x="532.8" y="278.9"/>
<use href="#tL" x="557.2" y="273.9"/>
<use href="#tD" x="525.3" y="272.0"/>
<use href="#tL" x="537.6" y="276.3"/>
<use href="#tD" x="521.4" y="279.4"/>
<use href="#tL" x="558.7" y="263.5"/>
<use href="#tL" x="533.0" y="271.9"/>
<use href="#tL" x="526.1" y="279.7"/>
<use href="#tD" x="517.2" y="280.4"/>
<use href="#tL" x="538.7" y="268.2"/>
<use href="#tL" x="516.1" y="271.6"/>
<use href="#tL" x="555.1" y="267.6"/>
<use href="#tL" x="535.7" y="281.9"/>
<use href="#tL" x="522.0" y="282.5"/>
<use href="#tL" x="556.7" y="278.2"/>
<use href="#tL" x="553.7" y="266.3"/>
<use href="#tD" x="543.2" y="276.6"/>
<use href="#tL" x="515.4" y="277.8"/>
<use href="#tL" x="524.5" y="280.6"/>
<use href="#tL" x="529.8" y="274.9"/>
<use href="#tL" x="557.3" y="274.4"/>
<use href="#tL" x="529.5" y="275.5"/>
<use href="#tL" x="527.3" y="277.0"/>
<use href="#tD" x="539.3" y="278.4"/>
<use href="#tD" x="523.9" y="272.3"/>
<use href="#tD" x="521.4" y="274.1"/>
<use href="#tL" x="516.1" y="266.7"/>
<use href="#tD" x="517.9" y="278.5"/>
<use href="#tL" x="530.9" y="271.4"/>
<use href="#sO" x="514.0" y="265.4"/>
<use href="#sO" x="522.3" y="266.4"/>
<use href="#sO" x="513.8" y="265.5"/>
<use href="#cL" x="523.8" y="266.1"/>
<use href="#cL" x="530.5" y="265.6"/>
<use href="#sO" x="531.8" y="265.3"/>
<use href="#cL" x="535.7" y="264.7"/>
<use href="#cO" x="541.6" y="263.7"/>
<use href="#cL" x="540.4" y="264.3"/>
<use href="#sO" x="556.5" y="262.2"/>
<use href="#cL" x="555.3" y="261.7"/>
<use href="#cO" x="549.8" y="262.9"/>
<use href="#cO" x="558.6" y="262.2"/>
<use href="#sO" x="552.4" y="261.8"/>
<use href="#cL" x="548.7" y="279.1"/>
<use href="#cL" x="560.0" y="277.9"/>
<use href="#cL" x="554.8" y="278.5"/>
<use href="#sO" x="555.7" y="278.0"/>
<use href="#cO" x="545.9" y="279.3"/>
<use href="#cO" x="541.8" y="280.4"/>
<use href="#cL" x="547.1" y="279.6"/>
<use href="#cL" x="539.4" y="280.4"/>
<use href="#cL" x="533.3" y="281.5"/>
<use href="#cL" x="527.6" y="283.2"/>
<use href="#sO" x="528.2" y="282.5"/>
<use href="#sO" x="515.2" y="282.6"/>
<use href="#cO" x="521.0" y="283.4"/>
<use href="#cO" x="523.4" y="282.3"/>
<polygon points="513.3,264.0 518.0,261.0 524.0,257.0 530.0,251.0 535.0,248.0 540.0,246.0 545.0,247.0 550.0,248.0 556.0,247.0 562.5,248.0 562.5,258.0 556.0,258.0 550.0,261.0 545.0,258.0 540.0,258.0 535.0,260.0 530.0,263.0 524.0,268.0 518.0,270.0 513.3,272.0" fill="#b4b4b4"/>
<use href="#tD" x="543.4" y="246.9"/>
<use href="#tL" x="526.2" y="257.6"/>
<use href="#tD" x="550.2" y="250.5"/>
<use href="#tL" x="534.3" y="259.1"/>
<use href="#tL" x="521.2" y="262.0"/>
<use href="#tL" x="548.8" y="248.0"/>
<use href="#tL" x="547.8" y="248.8"/>
<use href="#tD" x="531.5" y="250.8"/>
<use href="#tD" x="560.5" y="253.0"/>
<use href="#tL" x="557.7" y="257.8"/>
<use href="#tD" x="538.5" y="252.4"/>
<use href="#tL" x="523.1" y="259.2"/>
<use href="#tL" x="535.7" y="253.5"/>
<use href="#tL" x="526.5" y="260.4"/>
<use href="#tL" x="552.6" y="250.6"/>
<use href="#tD" x="538.4" y="250.6"/>
<use href="#tL" x="554.8" y="252.1"/>
<use href="#tL" x="548.0" y="249.1"/>
<use href="#tL" x="561.4" y="256.2"/>
<use href="#tL" x="536.1" y="256.6"/>
<use href="#tL" x="540.8" y="253.4"/>
<use href="#tL" x="554.2" y="256.4"/>
<use href="#tL" x="544.0" y="247.9"/>
<use href="#tL" x="536.6" y="252.9"/>
<use href="#tL" x="550.8" y="257.5"/>
<use href="#tD" x="534.1" y="252.1"/>
<use href="#tL" x="538.5" y="256.9"/>
<use href="#tD" x="537.7" y="255.9"/>
<use href="#tL" x="542.6" y="253.8"/>
<use href="#tL" x="522.5" y="259.7"/>
<use href="#tL" x="541.3" y="257.6"/>
<use href="#tL" x="532.5" y="250.3"/>
<use href="#tL" x="520.9" y="266.5"/>
<use href="#tL" x="557.6" y="250.9"/>
<use href="#tL" x="531.5" y="255.5"/>
<use href="#tD" x="558.5" y="251.0"/>
<use href="#tL" x="521.2" y="263.4"/>
<use href="#tL" x="543.1" y="253.6"/>
<use href="#tL" x="528.6" y="260.5"/>
<use href="#tL" x="552.6" y="249.4"/>
<use href="#tD" x="550.0" y="260.1"/>
<use href="#tD" x="528.9" y="260.4"/>
<use href="#tL" x="531.9" y="258.3"/>
<use href="#tL" x="547.3" y="249.2"/>
<use href="#tD" x="544.0" y="256.8"/>
<use href="#tD" x="521.0" y="266.7"/>
<use href="#tD" x="546.9" y="249.6"/>
<use href="#tD" x="560.5" y="247.9"/>
<use href="#tD" x="557.0" y="256.1"/>
<use href="#tD" x="515.8" y="265.3"/>
<use href="#tD" x="529.3" y="259.0"/>
<use href="#tL" x="559.3" y="253.5"/>
<use href="#tL" x="522.1" y="267.0"/>
<use href="#tD" x="560.7" y="252.8"/>
<use href="#tL" x="527.9" y="260.4"/>
<use href="#tD" x="522.7" y="264.6"/>
<use href="#tD" x="547.3" y="256.2"/>
<use href="#tL" x="538.1" y="257.6"/>
<use href="#tL" x="535.3" y="256.0"/>
<use href="#tD" x="537.2" y="251.6"/>
<use href="#tL" x="554.9" y="250.4"/>
<use href="#tL" x="515.8" y="270.7"/>
<use href="#tL" x="551.5" y="254.1"/>
<use href="#tL" x="546.9" y="249.7"/>
<use href="#tD" x="555.6" y="257.5"/>
<use href="#cL" x="514.5" y="264.2"/>
<use href="#sO" x="520.5" y="259.1"/>
<use href="#cO" x="522.4" y="258.3"/>
<use href="#sO" x="530.2" y="251.5"/>
<use href="#sO" x="528.6" y="252.6"/>
<use href="#cL" x="534.7" y="249.3"/>
<use href="#sO" x="534.7" y="247.3"/>
<use href="#sO" x="544.6" y="247.5"/>
<use href="#sO" x="547.2" y="247.9"/>
<use href="#sO" x="550.6" y="248.0"/>
<use href="#cL" x="551.4" y="247.6"/>
<use href="#sO" x="561.0" y="247.1"/>
<use href="#cL" x="562.6" y="248.5"/>
<use href="#cL" x="558.4" y="258.7"/>
<use href="#sO" x="560.9" y="258.7"/>
<use href="#cL" x="555.3" y="258.9"/>
<use href="#sO" x="554.3" y="259.7"/>
<use href="#cL" x="549.4" y="259.9"/>
<use href="#cO" x="543.2" y="257.5"/>
<use href="#cO" x="537.1" y="258.6"/>
<use href="#sO" x="530.4" y="262.4"/>
<use href="#cO" x="528.2" y="263.8"/>
<use href="#sO" x="525.2" y="267.5"/>
<use href="#sO" x="519.3" y="270.1"/>
<use href="#cO" x="524.0" y="267.7"/>
<use href="#cO" x="516.8" y="271.1"/>
<use href="#cO" x="525.2" y="262.7"/>
<use href="#cO" x="542.8" y="255.7"/>
<use href="#cL" x="561.1" y="250.1"/>
<use href="#cL" x="530.3" y="260.6"/>
<use href="#cO" x="524.7" y="258.1"/>
<use href="#cL" x="549.5" y="250.2"/>
<use href="#cL" x="529.4" y="257.8"/>
<use href="#cO" x="532.3" y="260.2"/>
<use href="#cL" x="543.6" y="252.1"/>
<use href="#cO" x="531.2" y="257.6"/>
<use href="#cL" x="525.2" y="259.1"/>
<use href="#cL" x="533.6" y="254.4"/>
<use href="#cL" x="546.1" y="255.2"/>
<use href="#cO" x="533.9" y="255.4"/>
<use href="#cO" x="539.5" y="258.2"/>
<use href="#cL" x="559.0" y="247.5"/>
<polygon points="515.6,278.0 519.6,276.0 520.4,278.0 525.4,277.0 528.4,280.0 527.4,287.0 523.4,291.0 521.6,292.0 517.6,289.0 515.6,284.0" fill="#242424"/>
<use href="#tM" x="517.6" y="286.0"/>
<use href="#tD" x="522.7" y="285.3"/>
<use href="#tM" x="525.3" y="282.3"/>
<use href="#tM" x="523.8" y="286.7"/>
<use href="#tD" x="522.0" y="290.8"/>
<use href="#dO" x="524.9" y="283.5"/>
<use href="#dK" x="521.1" y="281.1"/>
<use href="#dO" x="519.1" y="281.8"/>
<use href="#dO" x="520.0" y="287.1"/>
<use href="#dK" x="524.8" y="280.2"/>
<use href="#dO" x="526.6" y="286.4"/>
<use href="#dO" x="524.2" y="288.6"/>
<use href="#dO" x="523.2" y="287.8"/>
<use href="#dO" x="525.7" y="277.1"/>
<use href="#dO" x="524.4" y="289.5"/>
<use href="#dO" x="518.8" y="282.1"/>
<use href="#dO" x="518.5" y="284.0"/>
<use href="#dO" x="521.8" y="285.3"/>
<use href="#dK" x="518.1" y="282.1"/>
<use href="#dO" x="526.7" y="279.8"/>
<use href="#dO" x="518.9" y="278.0"/>
<use href="#dK" x="523.2" y="280.4"/>
<use href="#dK" x="523.1" y="287.3"/>
<use href="#dO" x="521.5" y="278.3"/>
<use href="#dO" x="524.0" y="284.1"/>
<use href="#dO" x="519.2" y="290.1"/>
<use href="#dO" x="515.6" y="280.5"/>
<use href="#dO" x="523.4" y="278.4"/>
<use href="#dO" x="517.3" y="279.1"/>
<use href="#dO" x="520.5" y="282.9"/>
<use href="#dK" x="523.8" y="285.9"/>
<use href="#dK" x="518.4" y="280.1"/>
<use href="#dO" x="519.0" y="277.7"/>
<use href="#dO" x="525.5" y="278.0"/>
<use href="#dO" x="517.8" y="287.1"/>
<use href="#dO" x="522.9" y="287.2"/>
<use href="#dO" x="516.7" y="281.4"/>
<use href="#dO" x="520.2" y="281.1"/>
<use href="#dO" x="516.6" y="279.8"/>
<use href="#dO" x="523.5" y="280.2"/>
<use href="#dO" x="524.7" y="281.3"/>
<use href="#dK" x="526.4" y="284.9"/>
<use href="#dO" x="525.6" y="284.9"/>
<use href="#dK" x="517.5" y="279.7"/>
<use href="#dK" x="520.3" y="285.0"/>
<use href="#dO" x="520.6" y="289.2"/>
<use href="#dK" x="519.5" y="285.3"/>
<use href="#dO" x="524.4" y="287.2"/>
<use href="#dK" x="525.0" y="287.3"/>
<use href="#dO" x="518.7" y="289.7"/>
<use href="#dO" x="525.2" y="289.4"/>
<use href="#dO" x="519.1" y="282.3"/>
<use href="#dO" x="519.9" y="289.5"/>
<use href="#dO" x="522.3" y="286.2"/>
<use href="#dO" x="526.8" y="281.9"/>
<use href="#dO" x="522.3" y="283.8"/>
<use href="#dO" x="519.5" y="284.2"/>
<use href="#dO" x="523.0" y="281.6"/>
<use href="#dO" x="518.0" y="286.7"/>
<use href="#dK" x="526.5" y="287.0"/>
<polygon points="538.6,266.0 541.6,261.0 544.6,262.0 544.4,259.0 547.4,262.0 548.4,270.0 546.4,278.0 542.4,279.0 542.6,276.0 539.6,272.0" fill="#242424"/>
<use href="#tM" x="540.0" y="264.9"/>
<use href="#tD" x="545.3" y="262.5"/>
<use href="#tD" x="544.0" y="269.3"/>
<use href="#tM" x="545.8" y="276.3"/>
<use href="#tD" x="540.1" y="272.0"/>
<use href="#dK" x="544.7" y="275.2"/>
<use href="#dO" x="546.1" y="273.6"/>
<use href="#dO" x="541.0" y="269.6"/>
<use href="#dO" x="539.7" y="269.2"/>
<use href="#dK" x="547.3" y="269.2"/>
<use href="#dO" x="544.6" y="269.0"/>
<use href="#dO" x="540.4" y="264.3"/>
<use href="#dO" x="546.0" y="267.2"/>
<use href="#dO" x="544.0" y="271.9"/>
<use href="#dO" x="544.8" y="263.1"/>
<use href="#dO" x="546.2" y="274.2"/>
<use href="#dK" x="541.3" y="267.5"/>
<use href="#dK" x="545.5" y="277.1"/>
<use href="#dO" x="540.2" y="265.3"/>
<use href="#dK" x="546.0" y="268.3"/>
<use href="#dO" x="541.5" y="272.4"/>
<use href="#dO" x="541.4" y="265.1"/>
<use href="#dK" x="543.6" y="272.8"/>
<use href="#dO" x="546.8" y="271.3"/>
<use href="#dO" x="541.5" y="266.7"/>
<use href="#dK" x="543.1" y="262.8"/>
<use href="#dO" x="544.4" y="276.8"/>
<use href="#dO" x="544.6" y="259.6"/>
<use href="#dK" x="540.1" y="263.5"/>
<use href="#dK" x="539.4" y="265.0"/>
<use href="#dK" x="541.8" y="271.3"/>
<use href="#dO" x="540.0" y="267.5"/>
<use href="#dK" x="547.6" y="267.3"/>
<use href="#dO" x="547.5" y="263.1"/>
<use href="#dO" x="541.2" y="273.5"/>
<use href="#dO" x="542.6" y="278.7"/>
<use href="#dK" x="547.8" y="272.1"/>
<use href="#dO" x="539.4" y="270.2"/>
<use href="#dO" x="544.8" y="272.0"/>
<use href="#dO" x="542.6" y="269.9"/>
<use href="#dO" x="542.6" y="267.1"/>
<use href="#dK" x="541.4" y="267.6"/>
<use href="#dO" x="547.5" y="271.2"/>
<use href="#dK" x="545.5" y="264.8"/>
<use href="#dO" x="544.1" y="265.8"/>
<use href="#dO" x="542.0" y="263.7"/>
<use href="#dK" x="540.6" y="262.6"/>
<use href="#dO" x="544.8" y="261.9"/>
<use href="#dK" x="545.2" y="264.4"/>
<use href="#dK" x="546.2" y="266.6"/>
<use href="#dK" x="542.5" y="264.3"/>
<use href="#dO" x="540.8" y="273.0"/>
<use href="#dK" x="543.7" y="276.4"/>
<use href="#dO" x="545.5" y="269.7"/>
<use href="#dO" x="547.0" y="264.4"/>
<use href="#dK" x="542.4" y="267.3"/>
<polygon points="555.6,264.0 558.6,261.0 558.4,262.0 560.4,266.0 559.4,274.0 558.6,276.0 555.6,272.0" fill="#2a2a2a"/>
<use href="#tD" x="558.7" y="266.9"/>
<use href="#tM" x="557.7" y="274.4"/>
<use href="#dK" x="557.1" y="262.4"/>
<use href="#dK" x="556.9" y="268.0"/>
<use href="#dO" x="557.5" y="274.5"/>
<use href="#dO" x="558.1" y="274.1"/>
<use href="#dO" x="560.0" y="269.0"/>
<use href="#dK" x="559.9" y="271.2"/>
<use href="#dK" x="558.2" y="266.7"/>
<use href="#dO" x="558.1" y="264.6"/>
<use href="#dK" x="557.5" y="265.4"/>
<use href="#dO" x="559.7" y="266.0"/>
<use href="#dO" x="558.3" y="267.0"/>
<use href="#dK" x="558.9" y="271.9"/>
<use href="#dO" x="557.8" y="267.0"/>
<use href="#dO" x="555.7" y="271.3"/>
<use href="#dO" x="558.8" y="270.7"/>
<use href="#dO" x="556.1" y="267.7"/>
<use href="#dO" x="555.6" y="268.9"/>
<use href="#dK" x="556.0" y="271.2"/>
<use href="#dK" x="556.6" y="273.0"/>
<use href="#dK" x="557.1" y="266.5"/>
<use href="#dK" x="557.2" y="271.9"/>
<use href="#dK" x="558.5" y="274.2"/>
<use href="#dO" x="559.7" y="271.6"/>
<use href="#dK" x="557.1" y="267.8"/>
<use href="#dO" x="558.9" y="267.5"/>
<use href="#dO" x="559.2" y="264.2"/>
<polygon points="537.0,280.0 550.0,280.0 549.0,292.0 544.0,297.0 539.0,292.0" fill="#a8a8a8"/>
<use href="#tL" x="547.0" y="287.5"/>
<use href="#tD" x="546.4" y="286.7"/>
<use href="#tD" x="538.6" y="282.5"/>
<use href="#tD" x="541.2" y="287.8"/>
<use href="#tD" x="545.5" y="292.1"/>
<use href="#tD" x="548.1" y="287.7"/>
<use href="#tD" x="546.0" y="281.0"/>
<use href="#tL" x="547.4" y="285.1"/>
<use href="#tD" x="545.9" y="280.3"/>
<use href="#tD" x="542.5" y="288.2"/>
<use href="#tL" x="543.3" y="288.8"/>
<use href="#tL" x="542.1" y="281.0"/>
<use href="#tL" x="545.8" y="289.0"/>
<use href="#tD" x="546.1" y="283.5"/>
<use href="#tL" x="543.2" y="287.9"/>
<use href="#tL" x="541.7" y="288.1"/>
<use href="#sO" x="548.7" y="279.2"/>
<use href="#sO" x="540.8" y="280.7"/>
<use href="#sO" x="545.7" y="280.0"/>
<use href="#sO" x="546.0" y="279.5"/>
<use href="#sO" x="545.5" y="295.2"/>
<use href="#cO" x="547.4" y="294.9"/>
<use href="#sO" x="542.0" y="295.5"/>
<use href="#sO" x="541.6" y="294.9"/>
<use href="#sL" x="539.0" y="284.6"/>
<use href="#sR" x="539.2" y="289.3"/>
<use href="#sL" x="545.0" y="290.3"/>
<use href="#sO" x="541.1" y="291.5"/>
<use href="#sO" x="542.6" y="296.7"/>
<use href="#sL" x="541.6" y="282.5"/>
<use href="#sL" x="542.6" y="285.6"/>
<use href="#sO" x="547.7" y="293.3"/>
<use href="#sL" x="549.4" y="288.6"/>
<use href="#sO" x="546.9" y="291.7"/>
<use href="#sO" x="558.3" y="284.6"/>
<use href="#sO" x="557.9" y="290.7"/>
<use href="#sO" x="556.2" y="279.5"/>
<use href="#sO" x="555.7" y="282.7"/>
<use href="#cS" x="564.9" y="256.0"/>
<use href="#cS" x="573.6" y="255.1"/>
<use href="#sS" x="571.7" y="267.7"/>
<use href="#dS" x="573.6" y="268.6"/>
<use href="#dS" x="565.9" y="271.5"/>
<use href="#dS" x="505.0" y="271.0"/>
<use href="#sS" x="510.8" y="263.8"/>
<use href="#sS" x="510.8" y="269.6"/>
<polygon points="580.0,250.0 585.0,246.0 590.0,243.0 600.0,241.2 610.0,241.2 615.0,242.0 620.0,244.0 628.8,245.0 628.8,262.0 606.0,257.0 600.0,256.0 595.0,258.0 580.0,262.0" fill="#b3b3b3"/>
<use href="#tL" x="605.1" y="246.7"/>
<use href="#tL" x="618.6" y="250.0"/>
<use href="#tL" x="582.4" y="261.1"/>
<use href="#tD" x="603.3" y="251.5"/>
<use href="#tL" x="583.3" y="259.5"/>
<use href="#tL" x="586.0" y="248.8"/>
<use href="#tD" x="621.1" y="260.1"/>
<use href="#tL" x="617.3" y="258.7"/>
<use href="#tD" x="621.9" y="256.2"/>
<use href="#tL" x="589.4" y="251.7"/>
<use href="#tL" x="608.0" y="254.3"/>
<use href="#tL" x="620.4" y="251.5"/>
<use href="#tL" x="615.7" y="247.1"/>
<use href="#tD" x="603.7" y="256.3"/>
<use href="#tL" x="595.2" y="255.4"/>
<use href="#tD" x="605.2" y="252.5"/>
<use href="#tL" x="585.2" y="257.1"/>
<use href="#tL" x="607.5" y="249.6"/>
<use href="#tL" x="616.9" y="244.0"/>
<use href="#tL" x="619.0" y="253.9"/>
<use href="#tL" x="590.8" y="257.9"/>
<use href="#tD" x="620.5" y="256.3"/>
<use href="#tL" x="607.3" y="242.2"/>
<use href="#tL" x="582.2" y="250.6"/>
<use href="#tL" x="582.3" y="255.8"/>
<use href="#tL" x="583.7" y="261.0"/>
<use href="#tL" x="617.1" y="249.9"/>
<use href="#tL" x="611.2" y="244.5"/>
<use href="#tL" x="626.2" y="253.4"/>
<use href="#tD" x="593.5" y="243.2"/>
<use href="#tD" x="593.4" y="246.4"/>
<use href="#tL" x="611.0" y="248.6"/>
<use href="#tL" x="594.7" y="249.8"/>
<use href="#tL" x="617.1" y="244.1"/>
<use href="#tD" x="582.6" y="255.9"/>
<use href="#tL" x="607.9" y="244.1"/>
<use href="#tD" x="625.0" y="257.2"/>
<use href="#tL" x="591.3" y="257.1"/>
<use href="#tD" x="587.9" y="252.0"/>
<use href="#tL" x="603.0" y="250.2"/>
<use href="#tL" x="584.5" y="256.2"/>
<use href="#tL" x="620.9" y="251.8"/>
<use href="#tD" x="586.5" y="259.4"/>
<use href="#tL" x="587.6" y="252.5"/>
<use href="#tL" x="605.3" y="252.2"/>
<use href="#tL" x="592.8" y="246.1"/>
<use href="#tL" x="603.7" y="252.8"/>
<use href="#tL" x="623.1" y="255.3"/>
<use href="#tL" x="583.4" y="257.3"/>
<use href="#tL" x="612.1" y="249.5"/>
<use href="#tL" x="625.6" y="256.7"/>
<use href="#tL" x="605.4" y="246.4"/>
<use href="#tL" x="587.4" y="256.7"/>
<use href="#tL" x="581.5" y="254.8"/>
<use href="#tL" x="602.4" y="242.3"/>
<use href="#tD" x="608.6" y="256.6"/>
<use href="#tD" x="602.1" y="245.4"/>
<use href="#tD" x="611.6" y="254.3"/>
<use href="#tD" x="601.4" y="246.3"/>
<use href="#tD" x="609.9" y="245.2"/>
<use href="#tL" x="617.1" y="244.2"/>
<use href="#tL" x="615.7" y="251.1"/>
<use href="#tL" x="600.0" y="253.3"/>
<use href="#tL" x="626.5" y="261.2"/>
<use href="#tL" x="622.6" y="254.7"/>
<use href="#tD" x="608.5" y="243.4"/>
<use href="#tL" x="598.5" y="245.5"/>
<use href="#tL" x="592.1" y="250.8"/>
<use href="#tL" x="598.6" y="242.9"/>
<use href="#tL" x="597.6" y="254.7"/>
<use href="#tD" x="609.8" y="249.3"/>
<use href="#tL" x="603.5" y="249.7"/>
<use href="#tL" x="624.6" y="257.2"/>
<use href="#tD" x="603.8" y="248.9"/>
<use href="#tL" x="588.6" y="255.8"/>
<use href="#tL" x="622.1" y="249.2"/>
<use href="#tL" x="591.5" y="256.8"/>
<use href="#tL" x="602.5" y="243.6"/>
<use href="#tD" x="594.1" y="247.4"/>
<use href="#tD" x="627.5" y="251.1"/>
<use href="#tL" x="617.0" y="253.8"/>
<use href="#tD" x="591.0" y="248.0"/>
<use href="#tD" x="613.5" y="257.1"/>
<use href="#tL" x="588.7" y="258.6"/>
<use href="#tD" x="594.4" y="250.2"/>
<use href="#tD" x="594.6" y="252.1"/>
<use href="#tL" x="602.5" y="252.0"/>
<use href="#tD" x="597.5" y="248.9"/>
<use href="#tD" x="589.3" y="247.8"/>
<use href="#tL" x="612.2" y="246.1"/>
<use href="#tD" x="596.8" y="243.5"/>
<use href="#tL" x="600.1" y="249.1"/>
<use href="#cL" x="579.7" y="249.5"/>
<use href="#sO" x="582.1" y="248.3"/>
<use href="#cL" x="586.2" y="245.7"/>
<use href="#cO" x="593.7" y="242.0"/>
<use href="#sO" x="599.8" y="240.8"/>
<use href="#cO" x="599.7" y="241.9"/>
<use href="#sO" x="609.9" y="241.3"/>
<use href="#cL" x="609.2" y="241.5"/>
<use href="#sO" x="606.1" y="241.4"/>
<use href="#sO" x="614.5" y="241.1"/>
<use href="#cO" x="618.3" y="242.7"/>
<use href="#cO" x="621.7" y="243.7"/>
<use href="#sO" x="622.1" y="244.5"/>
<use href="#cL" x="615.7" y="258.9"/>
<use href="#cO" x="619.2" y="259.9"/>
<use href="#cO" x="620.9" y="260.1"/>
<use href="#sO" x="623.4" y="260.8"/>
<use href="#sO" x="624.7" y="261.2"/>
<use href="#cO" x="613.7" y="258.5"/>
<use href="#sO" x="623.3" y="260.2"/>
<use href="#cL" x="605.4" y="257.1"/>
<use href="#cL" x="602.1" y="256.3"/>
<use href="#cO" x="599.0" y="256.7"/>
<use href="#cL" x="586.5" y="260.0"/>
<use href="#sO" x="585.0" y="261.3"/>
<use href="#cO" x="593.1" y="258.0"/>
<use href="#sO" x="589.4" y="259.3"/>
<use href="#sO" x="592.6" y="258.0"/>
<use href="#sL" x="586.8" y="248.1"/>
<use href="#cL" x="623.8" y="243.1"/>
<use href="#cL" x="600.4" y="244.2"/>
<use href="#cO" x="598.4" y="241.5"/>
<use href="#cO" x="592.4" y="248.8"/>
<use href="#cO" x="590.9" y="248.8"/>
<use href="#sL" x="618.2" y="249.0"/>
<use href="#cO" x="608.0" y="242.9"/>
<use href="#sL" x="599.1" y="244.9"/>
<use href="#cL" x="584.9" y="247.8"/>
<use href="#cL" x="598.2" y="247.5"/>
<use href="#cL" x="623.5" y="245.7"/>
<use href="#cO" x="593.6" y="249.3"/>
<use href="#cL" x="592.5" y="245.3"/>
<use href="#sL" x="610.2" y="240.1"/>
<use href="#cO" x="615.8" y="249.9"/>
<use href="#cL" x="585.5" y="247.3"/>
<use href="#sL" x="596.5" y="243.0"/>
<use href="#cO" x="582.2" y="243.8"/>
<use href="#cO" x="609.3" y="242.3"/>
<polygon points="580.0,262.0 628.8,262.0 628.8,275.0 580.0,275.0" fill="#8a8a8a"/>
<use href="#tL" x="622.6" y="270.2"/>
<use href="#tD" x="604.3" y="272.7"/>
<use href="#tL" x="614.2" y="269.0"/>
<use href="#tL" x="612.5" y="263.6"/>
<use href="#tL" x="604.5" y="266.0"/>
<use href="#tL" x="604.6" y="264.1"/>
<use href="#tD" x="585.1" y="270.1"/>
<use href="#tL" x="590.7" y="269.8"/>
<use href="#tL" x="588.7" y="262.1"/>
<use href="#tD" x="616.1" y="271.7"/>
<use href="#tD" x="616.2" y="269.2"/>
<use href="#tL" x="582.4" y="271.3"/>
<use href="#tL" x="597.9" y="268.8"/>
<use href="#tD" x="616.5" y="266.2"/>
<use href="#tL" x="585.3" y="269.2"/>
<use href="#tL" x="589.3" y="270.3"/>
<use href="#tL" x="609.1" y="272.2"/>
<use href="#tD" x="602.1" y="262.7"/>
<use href="#tL" x="608.3" y="268.0"/>
<use href="#tL" x="591.0" y="274.3"/>
<use href="#tD" x="619.3" y="271.1"/>
<use href="#tL" x="583.7" y="268.0"/>
<use href="#tL" x="619.8" y="264.7"/>
<use href="#tL" x="610.1" y="270.1"/>
<use href="#tD" x="584.4" y="273.5"/>
<use href="#tL" x="604.7" y="267.5"/>
<use href="#tL" x="608.0" y="270.0"/>
<use href="#tL" x="591.9" y="272.7"/>
<use href="#tL" x="598.5" y="273.8"/>
<use href="#tL" x="620.6" y="271.4"/>
<use href="#tL" x="597.4" y="271.1"/>
<use href="#tL" x="583.9" y="273.8"/>
<use href="#tL" x="589.5" y="264.3"/>
<use href="#tL" x="609.8" y="266.4"/>
<use href="#tL" x="606.2" y="266.9"/>
<use href="#tL" x="602.4" y="263.4"/>
<use href="#tD" x="595.7" y="269.0"/>
<use href="#tL" x="599.7" y="270.8"/>
<use href="#tL" x="591.4" y="268.6"/>
<use href="#tL" x="593.1" y="272.2"/>
<use href="#tL" x="594.4" y="272.4"/>
<use href="#tL" x="600.1" y="268.3"/>
<use href="#tL" x="623.3" y="262.9"/>
<use href="#tL" x="625.3" y="262.6"/>
<use href="#tD" x="586.7" y="263.5"/>
<use href="#tD" x="604.4" y="269.8"/>
<use href="#tL" x="620.5" y="268.7"/>
<use href="#tD" x="587.4" y="265.0"/>
<use href="#tL" x="581.3" y="266.8"/>
<use href="#tL" x="608.6" y="267.7"/>
<use href="#cL" x="607.7" y="262.6"/>
<use href="#cL" x="603.9" y="262.7"/>
<use href="#sO" x="604.2" y="262.5"/>
<use href="#sO" x="587.1" y="261.5"/>
<use href="#sO" x="628.0" y="261.5"/>
<use href="#cO" x="590.6" y="262.0"/>
<use href="#cO" x="587.4" y="262.7"/>
<use href="#sO" x="621.8" y="261.7"/>
<use href="#sO" x="614.4" y="261.4"/>
<use href="#sO" x="609.8" y="262.7"/>
<use href="#cL" x="581.6" y="262.7"/>
<use href="#cL" x="587.2" y="261.7"/>
<use href="#sO" x="604.8" y="261.3"/>
<use href="#cL" x="589.4" y="262.2"/>
<use href="#sO" x="597.8" y="261.7"/>
<use href="#sO" x="596.6" y="261.9"/>
<use href="#sO" x="627.4" y="275.5"/>
<use href="#sO" x="589.7" y="275.6"/>
<use href="#cO" x="623.3" y="274.9"/>
<use href="#cL" x="619.4" y="274.5"/>
<use href="#sO" x="619.9" y="274.5"/>
<use href="#sO" x="613.2" y="274.2"/>
<use href="#cL" x="612.7" y="274.8"/>
<use href="#cL" x="623.8" y="275.7"/>
<use href="#cL" x="607.6" y="275.3"/>
<use href="#sO" x="586.0" y="274.8"/>
<use href="#cO" x="593.9" y="275.6"/>
<use href="#sO" x="601.9" y="274.7"/>
<use href="#cO" x="626.3" y="275.1"/>
<use href="#cO" x="590.4" y="275.1"/>
<use href="#sO" x="601.1" y="275.7"/>
<use href="#cL" x="611.2" y="275.3"/>
<polygon points="600.1,258.0 601.9,258.0 601.9,266.0 600.1,266.0" fill="#222"/>
<use href="#tM" x="601.4" y="260.7"/>
<use href="#tM" x="601.5" y="258.6"/>
<use href="#dO" x="601.0" y="258.7"/>
<use href="#dO" x="601.6" y="264.5"/>
<use href="#dO" x="601.3" y="259.5"/>
<use href="#dO" x="601.7" y="263.6"/>
<use href="#dO" x="601.7" y="262.2"/>
<use href="#dO" x="601.0" y="261.7"/>
<use href="#dO" x="601.4" y="260.6"/>
<use href="#dO" x="600.3" y="261.7"/>
<use href="#dO" x="600.1" y="259.5"/>
<use href="#dO" x="601.7" y="258.2"/>
<use href="#dO" x="601.7" y="263.5"/>
<polygon points="609.6,256.0 614.4,256.0 614.4,266.0 609.6,266.0" fill="#222"/>
<use href="#tM" x="614.0" y="262.6"/>
<use href="#tM" x="613.2" y="263.6"/>
<use href="#tD" x="611.3" y="260.0"/>
<use href="#tM" x="611.0" y="257.6"/>
<use href="#dK" x="614.1" y="257.3"/>
<use href="#dO" x="610.6" y="262.9"/>
<use href="#dO" x="612.9" y="257.9"/>
<use href="#dK" x="613.9" y="262.3"/>
<use href="#dO" x="609.7" y="257.6"/>
<use href="#dK" x="613.4" y="259.3"/>
<use href="#dO" x="614.4" y="257.1"/>
<use href="#dO" x="613.5" y="259.6"/>
<use href="#dO" x="613.4" y="257.4"/>
<use href="#dO" x="612.4" y="261.5"/>
<use href="#dO" x="610.6" y="262.0"/>
<use href="#dO" x="613.2" y="260.1"/>
<use href="#dO" x="610.3" y="260.2"/>
<use href="#dO" x="610.2" y="256.6"/>
<use href="#dO" x="613.7" y="261.9"/>
<use href="#dO" x="612.4" y="257.0"/>
<use href="#dK" x="611.7" y="263.7"/>
<use href="#dK" x="611.7" y="256.6"/>
<use href="#dO" x="613.3" y="261.1"/>
<use href="#dO" x="610.1" y="264.4"/>
<use href="#dO" x="610.3" y="261.7"/>
<use href="#dK" x="611.7" y="265.7"/>
<polygon points="582.1,275.0 586.6,275.0 586.4,286.0 588.9,295.0 588.9,304.0 586.4,300.0 586.6,292.0 582.6,283.0" fill="#262626"/>
<use href="#tM" x="583.1" y="281.5"/>
<use href="#tD" x="585.6" y="278.5"/>
<use href="#tM" x="584.4" y="282.5"/>
<use href="#dK" x="584.6" y="287.4"/>
<use href="#dO" x="588.9" y="296.4"/>
<use href="#dO" x="584.0" y="285.8"/>
<use href="#dK" x="584.7" y="276.2"/>
<use href="#dO" x="585.2" y="282.0"/>
<use href="#dO" x="587.0" y="289.8"/>
<use href="#dK" x="583.2" y="284.5"/>
<use href="#dO" x="588.5" y="297.4"/>
<use href="#dK" x="584.6" y="287.8"/>
<use href="#dO" x="583.1" y="279.9"/>
<use href="#dO" x="589.0" y="296.8"/>
<use href="#dK" x="584.8" y="281.1"/>
<use href="#dO" x="588.6" y="297.3"/>
<use href="#dK" x="586.3" y="284.2"/>
<use href="#dO" x="583.3" y="279.5"/>
<use href="#dO" x="587.3" y="301.1"/>
<use href="#dK" x="587.7" y="296.0"/>
<use href="#dO" x="585.4" y="277.2"/>
<use href="#dO" x="585.6" y="288.2"/>
<use href="#dO" x="585.8" y="278.0"/>
<use href="#dK" x="584.6" y="286.6"/>
<use href="#dK" x="584.3" y="282.3"/>
<use href="#dO" x="588.2" y="301.2"/>
<use href="#dO" x="585.9" y="277.6"/>
<use href="#dK" x="582.8" y="278.1"/>
<use href="#dO" x="585.9" y="275.8"/>
<use href="#dO" x="583.7" y="283.9"/>
<use href="#dK" x="584.5" y="284.2"/>
<use href="#dO" x="582.9" y="281.5"/>
<use href="#dO" x="584.6" y="278.3"/>
<use href="#dK" x="582.3" y="279.1"/>
<use href="#dK" x="586.4" y="292.0"/>
<use href="#dK" x="586.3" y="276.9"/>
<use href="#dK" x="585.4" y="278.8"/>
<use href="#dO" x="584.9" y="280.7"/>
<use href="#dO" x="585.7" y="289.9"/>
<polygon points="592.9,275.0 597.9,275.0 596.4,282.0 593.4,290.0 593.6,298.0 592.1,304.0 591.1,296.0 593.6,286.0" fill="#262626"/>
<use href="#tD" x="593.4" y="297.9"/>
<use href="#tD" x="593.4" y="280.2"/>
<use href="#tM" x="594.1" y="275.4"/>
<use href="#dO" x="593.9" y="281.1"/>
<use href="#dO" x="593.7" y="283.1"/>
<use href="#dO" x="596.2" y="279.4"/>
<use href="#dO" x="594.5" y="281.8"/>
<use href="#dO" x="593.8" y="279.1"/>
<use href="#dO" x="593.1" y="297.3"/>
<use href="#dK" x="593.5" y="282.8"/>
<use href="#dK" x="592.6" y="292.3"/>
<use href="#dK" x="591.5" y="299.2"/>
<use href="#dO" x="592.4" y="298.2"/>
<use href="#dO" x="591.6" y="297.9"/>
<use href="#dO" x="594.1" y="282.7"/>
<use href="#dO" x="597.8" y="275.4"/>
<use href="#dO" x="595.1" y="281.8"/>
<use href="#dO" x="592.5" y="293.4"/>
<use href="#dK" x="593.6" y="278.0"/>
<use href="#dO" x="592.9" y="293.7"/>
<use href="#dK" x="594.4" y="277.3"/>
<use href="#dO" x="594.4" y="280.7"/>
<use href="#dK" x="591.6" y="293.6"/>
<use href="#dO" x="595.2" y="280.4"/>
<use href="#dO" x="595.1" y="284.8"/>
<use href="#dK" x="595.5" y="284.9"/>
<use href="#dO" x="596.9" y="280.2"/>
<use href="#dO" x="594.9" y="281.9"/>
<use href="#dO" x="592.3" y="298.6"/>
<use href="#dO" x="592.1" y="293.9"/>
<use href="#dO" x="591.4" y="299.3"/>
<use href="#dK" x="595.9" y="277.9"/>
<use href="#dK" x="593.5" y="276.2"/>
<polygon points="623.6,275.0 626.4,275.0 626.4,283.0 625.6,285.0 623.6,281.0" fill="#333"/>
<use href="#tM" x="625.7" y="275.4"/>
<use href="#dK" x="625.2" y="280.7"/>
<use href="#dO" x="625.0" y="280.6"/>
<use href="#dK" x="623.8" y="280.1"/>
<use href="#dK" x="624.3" y="280.3"/>
<use href="#dO" x="624.8" y="282.2"/>
<use href="#dO" x="625.3" y="277.0"/>
<use href="#dO" x="623.9" y="280.9"/>
<use href="#dK" x="625.2" y="281.2"/>
<use href="#dK" x="626.0" y="283.4"/>
<use href="#dO" x="624.9" y="277.2"/>
<use href="#dO" x="625.0" y="279.4"/>
<use href="#dK" x="625.0" y="279.1"/>
<use href="#dO" x="625.4" y="278.6"/>
<use href="#dO" x="624.2" y="276.9"/>
<use href="#cS" x="634.6" y="261.0"/>
<use href="#cS" x="566.0" y="256.0"/>
<use href="#cS" x="573.7" y="254.7"/>
<use href="#dS" x="637.5" y="271.5"/>
<use href="#dS" x="624.9" y="287.0"/>
<path d="M49.5 170.5H98.7V57.5H116.3V170.5H165V57.5H183V170.5H231.2V57.5H248.6V170.5H297.5V57.5H314.4V170.5H364V57.5H381.2V170.5H429.9V57.5H447.5V170.5H496.4V57.5H513.6V170.5H562.2V57.5H579.9V170.5H628.5V57.5H640" fill="none" stroke="#6cc04a" stroke-width="1.3" stroke-dasharray="4 2.6"/>
<path d="M49.5 198.3H99.2V307.8H116.1V198.3H165.2V307.8H182.4V198.3H231.1V307.8H248.3V198.3H297.5V307.8H314.2V198.3H363.4V307.8H381.3V198.3H429.9V307.8H447.5V198.3H496.4V307.8H513.3V198.3H562.5V307.8H580V198.3H628.8V307.8H638" fill="none" stroke="#e9525c" stroke-width="1.4" stroke-dasharray="4 3.3"/>
<line x1="47.2" y1="275.3" x2="640.5" y2="275.3" stroke="#1f8c46" stroke-width="1.2" stroke-dasharray="3.6 1.2 1.2 1.2"/>
<line x1="126.5" y1="192" x2="126.5" y2="300" stroke="#70747c" stroke-width="0.7" stroke-dasharray="3 1 1 1"/>
<line x1="139.6" y1="192" x2="139.6" y2="318" stroke="#70747c" stroke-width="0.7" stroke-dasharray="3 1 1 1"/>
<line x1="162.5" y1="183" x2="162.5" y2="318" stroke="#70747c" stroke-width="0.7" stroke-dasharray="3 1 1 1"/>
<line x1="133" y1="192.5" x2="130.5" y2="192.5" stroke="#7d8088" stroke-width="0.8"/><path d="M126.9 192.5L130.5 190.6L130.5 194.4z" fill="#7d8088"/>
<line x1="133" y1="192.5" x2="135.5" y2="192.5" stroke="#7d8088" stroke-width="0.8"/><path d="M139.1 192.5L135.5 194.4L135.5 190.6z" fill="#7d8088"/>
<line x1="121" y1="299.5" x2="120.1" y2="299.5" stroke="#7d8088" stroke-width="0.8"/><path d="M116.9 299.5L120.1 297.8L120.1 301.2z" fill="#7d8088"/>
<line x1="121" y1="299.5" x2="122.4" y2="299.5" stroke="#7d8088" stroke-width="0.8"/><path d="M125.6 299.5L122.4 301.2L122.4 297.8z" fill="#7d8088"/>
<line x1="148.7" y1="299.5" x2="157.6" y2="299.5" stroke="#7d8088" stroke-width="0.8"/><path d="M161 299.5L157.6 301.3L157.6 297.7z" fill="#7d8088"/>
<line x1="177" y1="299.5" x2="169.1" y2="299.5" stroke="#7d8088" stroke-width="0.8"/><path d="M165.7 299.5L169.1 297.7L169.1 301.3z" fill="#7d8088"/>
<text x="124.6" y="189.4" font-size="11.5" fill="#7d8088" font-family="Liberation Sans">SD</text>
<text x="115.3" y="315.5" font-size="11.5" letter-spacing="1.6" fill="#7d8088" font-family="Liberation Sans">ST</text>
<text x="153" y="315.5" font-size="11.5" letter-spacing="0.4" fill="#7d8088" font-family="Liberation Sans">QSS</text>
<text x="187.2" y="166.6" font-size="11.5" fill="#7d8088" font-family="Liberation Sans">Outlier</text>
<line x1="199.2" y1="157.5" x2="198.9" y2="134.0" stroke="#7d8088" stroke-width="0.7"/><path d="M198.9 131L200.2 134.0L197.6 134.0z" fill="#7d8088"/>
<line x1="199.2" y1="157.5" x2="205.1" y2="141.6" stroke="#7d8088" stroke-width="0.7"/><path d="M206.2 138.8L206.4 142.1L203.9 141.2z" fill="#7d8088"/>
<line x1="199.2" y1="157.5" x2="217.6" y2="145.5" stroke="#7d8088" stroke-width="0.7"/><path d="M220.1 143.9L218.3 146.6L216.9 144.4z" fill="#7d8088"/>
<text x="52.2" y="299.7" font-size="11.5" fill="#9a9a9a" font-family="Liberation Sans">Base</text>
<text x="52.8" y="314" font-size="11.5" fill="#9a9a9a" font-family="Liberation Sans">line</text>
<line x1="80.9" y1="295.3" x2="91.6" y2="281.4" stroke="#1f8c46" stroke-width="1.1" stroke-dasharray="2.5 1.5"/><path d="M93.7 278.6L93.0 282.5L90.1 280.3z" fill="#1f8c46"/>
<line x1="514.2" y1="78.1" x2="530.7" y2="78.1" stroke="#4cb848" stroke-width="1"/>
<circle cx="514.2" cy="78.1" r="4.8" fill="#4cb848"/>
<text x="535.4" y="84" font-size="13" fill="#4cb848" font-family="Liberation Sans">V<tspan font-size="9" dy="4.4">DS</tspan></text>
<line x1="514.3" y1="218.7" x2="530.7" y2="218.7" stroke="#e8392b" stroke-width="1"/>
<circle cx="514.3" cy="218.7" r="4.8" fill="#e8392b"/>
<text x="532.2" y="222.4" font-size="12" fill="#e8392b" font-family="Liberation Sans">V<tspan font-size="8.5" dy="3.8">GS</tspan></text>
<rect x="49.5" y="43.5" width="591.0" height="274.8" fill="none" stroke="#2b2b2b" stroke-width="1.2"/>
<line x1="48.9" y1="318.6" x2="641.1" y2="318.6" stroke="#2b2b2b" stroke-width="0.8"/>
<line x1="49.5" y1="107.6" x2="55.5" y2="107.6" stroke="#8a8f98" stroke-width="0.8"/>
<line x1="49.5" y1="172.4" x2="55.5" y2="172.4" stroke="#8a8f98" stroke-width="0.8"/>
<line x1="49.5" y1="210.3" x2="55.5" y2="210.3" stroke="#8a8f98" stroke-width="0.8"/>
<line x1="49.5" y1="277.8" x2="55.5" y2="277.8" stroke="#8a8f98" stroke-width="0.8"/>
<line x1="634.5" y1="107.3" x2="640.5" y2="107.3" stroke="#8a8f98" stroke-width="0.8"/>
<line x1="634.5" y1="183.5" x2="640.5" y2="183.5" stroke="#8a8f98" stroke-width="0.8"/>
<line x1="634.5" y1="228.5" x2="640.5" y2="228.5" stroke="#8a8f98" stroke-width="0.8"/>
<line x1="634.5" y1="273.1" x2="640.5" y2="273.1" stroke="#8a8f98" stroke-width="0.8"/>
<line x1="42.2" y1="188.6" x2="53.0" y2="175.0" stroke="#8c8c8c" stroke-width="0.45"/>
<line x1="43.0" y1="189.2" x2="53.8" y2="175.6" stroke="#8c8c8c" stroke-width="0.45"/>
<line x1="43.8" y1="189.8" x2="54.6" y2="176.2" stroke="#8c8c8c" stroke-width="0.45"/>
<line x1="45.4" y1="191.4" x2="56.6" y2="179.4" stroke="#8c8c8c" stroke-width="0.45"/>
<line x1="46.2" y1="192.0" x2="57.4" y2="180.0" stroke="#8c8c8c" stroke-width="0.45"/>
<line x1="47.0" y1="192.6" x2="58.2" y2="180.6" stroke="#8c8c8c" stroke-width="0.45"/>
<line x1="633.6" y1="173.3" x2="648.2" y2="184.8" stroke="#8a8a8a" stroke-width="0.6"/>
<line x1="633.6" y1="176.5" x2="648.2" y2="188.0" stroke="#8a8a8a" stroke-width="0.6"/>
<line x1="633.6" y1="179.70000000000002" x2="648.2" y2="191.20000000000002" stroke="#8a8a8a" stroke-width="0.6"/>
<text x="42.6" y="48.1" text-anchor="end" font-size="13.8" fill="#1a1a1a" font-family="Liberation Sans">2.5</text>
<text x="42.6" y="111.8" text-anchor="end" font-size="13.8" fill="#1a1a1a" font-family="Liberation Sans">2</text>
<text x="42.6" y="177.1" text-anchor="end" font-size="13.8" fill="#1a1a1a" font-family="Liberation Sans">1.5</text>
<text x="42.6" y="214.9" text-anchor="end" font-size="13.8" fill="#1a1a1a" font-family="Liberation Sans">0.1</text>
<text x="42.6" y="283.3" text-anchor="end" font-size="13.8" fill="#1a1a1a" font-family="Liberation Sans">0.05</text>
<text x="650.3" y="47.1" font-size="13.8" fill="#1a1a1a" font-family="Liberation Sans">1</text>
<text x="649.6" y="112" font-size="13.8" fill="#1a1a1a" font-family="Liberation Sans">0.5</text>
<text x="649.6" y="187.9" font-size="13.8" fill="#1a1a1a" font-family="Liberation Sans">−2</text>
<text x="649.6" y="232.5" font-size="13.8" fill="#1a1a1a" font-family="Liberation Sans">−4</text>
<text x="649.6" y="276.3" font-size="13.8" fill="#1a1a1a" font-family="Liberation Sans">−6</text>
<text x="649.6" y="322.5" font-size="13.8" fill="#1a1a1a" font-family="Liberation Sans">−8</text>
<text x="50.4" y="336.1" text-anchor="middle" font-size="13.8" fill="#1a1a1a" font-family="Liberation Sans">0</text>
<text x="95.8" y="336.1" text-anchor="middle" font-size="13.8" fill="#1a1a1a" font-family="Liberation Sans">2</text>
<text x="141.2" y="336.1" text-anchor="middle" font-size="13.8" fill="#1a1a1a" font-family="Liberation Sans">4</text>
<text x="186.5" y="336.1" text-anchor="middle" font-size="13.8" fill="#1a1a1a" font-family="Liberation Sans">6</text>
<text x="231.9" y="336.1" text-anchor="middle" font-size="13.8" fill="#1a1a1a" font-family="Liberation Sans">8</text>
<text x="277.3" y="336.1" text-anchor="middle" font-size="13.8" fill="#1a1a1a" font-family="Liberation Sans">10</text>
<text x="322.7" y="336.1" text-anchor="middle" font-size="13.8" fill="#1a1a1a" font-family="Liberation Sans">12</text>
<text x="368.1" y="336.1" text-anchor="middle" font-size="13.8" fill="#1a1a1a" font-family="Liberation Sans">14</text>
<text x="413.4" y="336.1" text-anchor="middle" font-size="13.8" fill="#1a1a1a" font-family="Liberation Sans">16</text>
<text x="458.8" y="336.1" text-anchor="middle" font-size="13.8" fill="#1a1a1a" font-family="Liberation Sans">18</text>
<text x="504.2" y="336.1" text-anchor="middle" font-size="13.8" fill="#1a1a1a" font-family="Liberation Sans">20</text>
<text x="549.6" y="336.1" text-anchor="middle" font-size="13.8" fill="#1a1a1a" font-family="Liberation Sans">22</text>
<text x="595.0" y="336.1" text-anchor="middle" font-size="13.8" fill="#1a1a1a" font-family="Liberation Sans">24</text>
<text x="640.3" y="336.1" text-anchor="middle" font-size="13.8" fill="#1a1a1a" font-family="Liberation Sans">26</text>
<text x="345.4" y="358.6" text-anchor="middle" font-size="13.5" fill="#1a1a1a" font-family="Liberation Sans">Time [h]</text>
<text transform="translate(10.2,181) rotate(-90)" text-anchor="middle" font-size="13.8" fill="#1a1a1a" font-family="Liberation Sans">I<tspan font-size="9" dy="3.5">D</tspan><tspan dy="-3.5"> CNT [μA]</tspan></text>
<text transform="translate(675,180.5) rotate(90)" text-anchor="middle" font-size="13.8" fill="#1a1a1a" font-family="Liberation Sans">V<tspan font-size="9" dy="3.5">bias CNT</tspan><tspan dy="-3.5"> [V]</tspan></text>
<rect x="50" y="18.2" width="19.5" height="16.4" fill="#d7e2f2"/>
<text x="75.6" y="31.6" font-size="13.4" fill="#1a1a1a" font-family="Liberation Sans">Dry air</text>
<rect x="176.4" y="18.3" width="19.8" height="16.5" fill="#fdee96"/>
<text x="201.3" y="31.6" font-size="13.4" fill="#1a1a1a" font-family="Liberation Sans">NO<tspan font-size="9" dy="3.4">2</tspan></text>
<defs><radialGradient id="gr" cx="0.35" cy="0.35" r="0.7"><stop offset="0" stop-color="#ff6b6b"/><stop offset="1" stop-color="#c8101a"/></radialGradient><radialGradient id="gb" cx="0.35" cy="0.35" r="0.7"><stop offset="0" stop-color="#7b8fe8"/><stop offset="1" stop-color="#2a3fa8"/></radialGradient></defs>
<line x1="245.6" y1="23" x2="251" y2="26.5" stroke="#d2232a" stroke-width="2"/><line x1="251" y1="26.5" x2="256.7" y2="29.9" stroke="#4459c0" stroke-width="2"/>
<line x1="256.7" y1="29.9" x2="261" y2="27.6" stroke="#4459c0" stroke-width="2"/><line x1="261" y1="27.6" x2="265.3" y2="25.4" stroke="#d2232a" stroke-width="2"/>
<circle cx="245.6" cy="23" r="2.9" fill="url(#gr)"/><circle cx="265.3" cy="25.4" r="2.7" fill="url(#gr)"/><circle cx="256.7" cy="29.9" r="2.7" fill="url(#gb)"/>
<defs><path id="dRL" d="M0 -2.7l2.5 2.7-2.5 2.7-2.5-2.7z" fill="#999" stroke="#333" stroke-width="0.7"/><path id="dSL" d="M0 -2.7l2.5 2.7-2.5 2.7-2.5-2.7z" fill="#fff" stroke="#333" stroke-width="0.7"/><rect id="sRL" x="-1.8" y="-1.8" width="3.6" height="3.6" fill="#ddd" stroke="#aaa" stroke-width="0.7"/><rect id="sSL" x="-1.8" y="-1.8" width="3.6" height="3.6" fill="#fff" stroke="#888" stroke-width="0.7"/><circle id="cRL" r="2.6" fill="#bbb" stroke="#999" stroke-width="0.6"/><circle id="cSL" r="2.6" fill="#fff" stroke="#aaa" stroke-width="0.6"/></defs>
<use href="#dRL" x="322.8" y="6.1"/>
<use href="#dSL" x="322.5" y="27"/>
<use href="#sRL" x="401" y="5.8"/>
<use href="#sSL" x="401" y="27.4"/>
<use href="#cRL" x="498.1" y="5.5"/>
<use href="#cSL" x="498.1" y="26"/>
<text x="330.9" y="12" font-size="14" fill="#1a1a1a" font-family="Liberation Sans">I</text><text x="333.9" y="14.6" font-size="8.8" fill="#1a1a1a" font-family="Liberation Sans">D</text><text x="345.4" y="14.6" font-size="8.8" fill="#1a1a1a" font-family="Liberation Sans">reset</text><text x="369.2" y="12" font-size="13.8" fill="#1a1a1a" font-family="Liberation Sans">1</text>
<text x="330.9" y="31.3" font-size="14" fill="#1a1a1a" font-family="Liberation Sans">I</text><text x="333.9" y="33.9" font-size="8.8" fill="#1a1a1a" font-family="Liberation Sans">D</text><text x="342.6" y="33.9" font-size="8.8" fill="#1a1a1a" font-family="Liberation Sans">sense</text><text x="370" y="31.3" font-size="13.8" fill="#1a1a1a" font-family="Liberation Sans">1</text>
<text x="409.3" y="12" font-size="14" fill="#1a1a1a" font-family="Liberation Sans">I</text><text x="412.8" y="14.6" font-size="8.8" fill="#1a1a1a" font-family="Liberation Sans">D</text><text x="424.2" y="14.6" font-size="8.8" fill="#1a1a1a" font-family="Liberation Sans">reset</text><text x="445.4" y="12" font-size="13.8" fill="#1a1a1a" font-family="Liberation Sans">2</text>
<text x="409.3" y="31.3" font-size="14" fill="#1a1a1a" font-family="Liberation Sans">I</text><text x="412.8" y="33.9" font-size="8.8" fill="#1a1a1a" font-family="Liberation Sans">D</text><text x="421.4" y="33.9" font-size="8.8" fill="#1a1a1a" font-family="Liberation Sans">sense</text><text x="446.7" y="31.3" font-size="13.8" fill="#1a1a1a" font-family="Liberation Sans">2</text>
<text x="506.8" y="12" font-size="14" fill="#1a1a1a" font-family="Liberation Sans">I</text><text x="510.3" y="14.6" font-size="8.8" fill="#1a1a1a" font-family="Liberation Sans">D</text><text x="522.3" y="14.6" font-size="8.8" fill="#1a1a1a" font-family="Liberation Sans">reset</text><text x="543.1" y="12" font-size="13.8" fill="#1a1a1a" font-family="Liberation Sans">3</text>
<text x="506.8" y="31.3" font-size="14" fill="#1a1a1a" font-family="Liberation Sans">I</text><text x="509.5" y="33.9" font-size="8.8" fill="#1a1a1a" font-family="Liberation Sans">D</text><text x="518.6" y="33.9" font-size="8.8" fill="#1a1a1a" font-family="Liberation Sans">sense</text><text x="544.2" y="31.3" font-size="13.8" fill="#1a1a1a" font-family="Liberation Sans">3</text>
<line x1="570" y1="6" x2="587" y2="6" stroke="#8fd46a" stroke-width="1.3" stroke-dasharray="4 2.5"/>
<line x1="570" y1="27.7" x2="587" y2="27.7" stroke="#ee6a70" stroke-width="1.3" stroke-dasharray="4 2.5"/>
<text x="591.8" y="11.9" font-size="14" fill="#1a1a1a" font-family="Liberation Sans">V</text><text x="599.6" y="15.5" font-size="9" fill="#1a1a1a" font-family="Liberation Sans">DS bias</text>
<text x="591.8" y="31.9" font-size="14" fill="#1a1a1a" font-family="Liberation Sans">V</text><text x="599.6" y="35.5" font-size="9" fill="#1a1a1a" font-family="Liberation Sans">GS bias</text></svg></body></html>
